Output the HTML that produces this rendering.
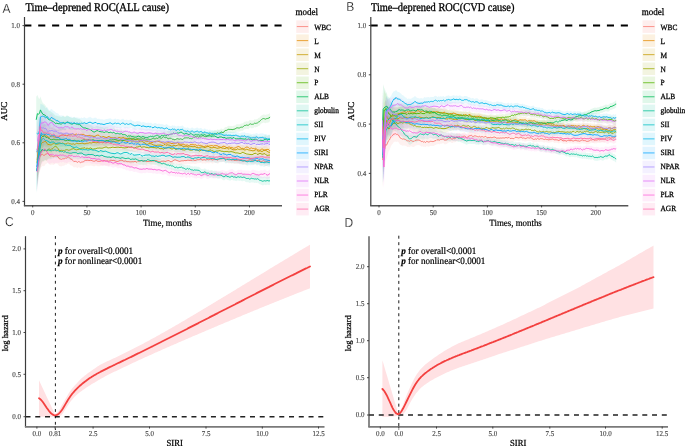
<!DOCTYPE html>
<html><head><meta charset="utf-8"><style>html,body{margin:0;padding:0;background:#fff;width:685px;height:446px;overflow:hidden}svg{display:block;filter:blur(0.35px)}text{text-rendering:geometricPrecision}</style></head><body>
<svg width="685" height="446" viewBox="0 0 685 446">
<rect width="685" height="446" fill="#fff"/>
<polygon points="37.0,146.3 38.0,144.7 39.0,143.3 40.1,143.0 41.2,142.2 42.3,142.7 43.5,144.3 44.6,144.8 45.7,143.9 46.8,144.3 47.9,143.7 49.0,145.9 50.1,147.3 51.3,147.4 52.4,147.7 53.3,148.5 54.3,148.1 55.2,148.0 56.1,148.1 57.1,148.5 58.0,149.3 59.1,151.3 60.3,151.8 61.4,152.3 62.5,151.8 63.6,152.0 64.5,152.1 65.5,151.3 66.4,151.6 67.3,151.0 68.3,150.6 69.2,151.0 70.1,152.4 71.1,153.1 72.0,153.2 72.9,154.5 73.9,155.6 74.8,155.5 75.7,155.5 76.7,155.9 77.6,156.6 78.5,155.9 79.5,156.2 80.4,157.1 81.3,156.7 82.3,156.5 83.2,156.4 84.1,155.8 85.1,155.1 86.0,155.0 87.0,155.1 88.0,154.8 89.0,155.5 90.0,155.1 91.0,155.2 92.0,155.6 93.0,156.0 94.0,156.3 95.0,156.1 96.0,155.5 97.0,156.1 98.0,156.5 99.0,156.4 100.0,156.5 101.0,156.2 102.0,156.1 103.0,156.1 104.0,155.6 105.0,156.1 106.0,156.6 107.0,155.9 108.0,156.5 109.0,156.7 110.0,155.9 111.0,155.5 112.0,156.1 113.0,155.9 114.0,155.9 115.0,156.4 116.0,156.8 117.0,157.1 118.0,157.0 119.0,156.6 120.0,156.0 121.0,155.9 122.0,155.9 123.0,156.5 124.0,157.1 125.0,156.6 126.0,156.7 127.0,157.6 128.0,157.2 129.0,157.6 130.0,157.6 131.0,157.7 132.0,157.5 133.0,157.5 134.0,157.8 135.0,157.1 136.0,157.8 137.0,158.2 138.0,157.2 139.0,157.0 140.0,157.0 141.0,156.7 142.0,156.6 143.0,157.3 144.0,156.9 145.0,156.6 146.0,157.8 147.0,157.5 148.0,157.6 149.0,157.5 150.0,157.3 151.0,157.3 152.0,157.0 153.0,157.3 154.0,157.0 155.0,156.7 156.0,156.6 157.0,156.9 158.0,157.8 159.0,157.8 160.0,158.3 161.0,157.7 162.0,157.2 163.0,157.6 164.0,157.0 165.0,157.9 166.0,157.4 167.0,157.0 168.0,156.8 169.0,156.7 170.0,157.6 171.0,158.2 172.0,157.8 173.0,157.1 174.0,156.4 175.0,156.1 176.0,156.3 177.0,156.9 178.0,157.1 179.0,157.6 180.0,157.8 181.0,157.1 182.0,157.3 183.0,157.0 184.0,157.3 185.0,156.6 186.0,157.4 187.0,156.4 188.0,156.7 189.0,156.5 190.0,157.1 191.0,156.3 192.0,157.1 193.0,156.1 194.0,156.7 195.0,156.9 196.0,156.7 197.0,156.1 198.0,156.1 199.0,156.2 200.0,155.9 201.0,155.6 202.0,156.5 203.0,156.5 204.0,156.1 205.0,156.4 206.0,156.6 207.0,155.9 208.0,156.2 209.0,156.4 210.0,155.7 211.0,155.7 212.0,156.5 213.0,156.4 214.0,155.9 215.0,155.8 216.0,155.9 217.0,156.3 218.0,156.7 219.0,155.8 220.0,155.2 221.0,155.6 222.0,155.1 223.0,155.1 224.0,155.1 225.0,155.0 226.0,155.8 227.0,155.5 228.0,156.0 229.0,156.9 230.0,156.1 231.0,156.6 232.0,156.6 233.0,156.0 234.0,156.9 235.0,157.0 236.0,156.5 237.0,157.1 238.0,156.2 239.0,156.8 240.0,157.1 241.0,156.3 242.0,157.0 243.0,157.2 244.0,157.5 245.0,156.7 246.0,157.0 247.0,157.3 248.0,156.7 249.0,156.0 250.0,155.7 251.0,156.2 252.0,156.6 253.0,156.1 254.0,156.7 255.0,156.1 256.0,156.5 257.0,156.7 258.0,156.4 259.0,156.0 260.0,157.1 261.0,157.6 262.0,157.4 263.0,156.5 264.0,156.9 265.0,157.7 266.0,157.8 267.0,157.8 268.0,156.8 269.0,157.1 270.0,156.8 270.0,165.2 269.0,165.5 268.0,165.1 267.0,166.0 266.0,166.0 265.0,165.9 264.0,165.0 263.0,164.7 262.0,165.5 261.0,165.6 260.0,165.1 259.0,164.0 258.0,164.3 257.0,164.6 256.0,164.3 255.0,163.9 254.0,164.5 253.0,163.9 252.0,164.3 251.0,163.9 250.0,163.3 249.0,163.6 248.0,164.3 247.0,164.8 246.0,164.5 245.0,164.2 244.0,165.0 243.0,164.6 242.0,164.4 241.0,163.6 240.0,164.4 239.0,164.1 238.0,163.4 237.0,164.2 236.0,163.7 235.0,164.1 234.0,164.0 233.0,163.0 232.0,163.6 231.0,163.6 230.0,163.0 229.0,163.8 228.0,162.9 227.0,162.3 226.0,162.7 225.0,161.9 224.0,162.0 223.0,162.0 222.0,162.0 221.0,162.5 220.0,162.1 219.0,162.7 218.0,163.7 217.0,163.3 216.0,162.9 215.0,162.8 214.0,162.8 213.0,163.4 212.0,163.5 211.0,162.7 210.0,162.7 209.0,163.4 208.0,163.2 207.0,162.9 206.0,163.6 205.0,163.4 204.0,163.2 203.0,163.6 202.0,163.6 201.0,162.7 200.0,163.0 199.0,163.3 198.0,163.2 197.0,163.3 196.0,163.9 195.0,164.1 194.0,163.9 193.0,163.3 192.0,164.3 191.0,163.5 190.0,164.3 189.0,163.7 188.0,164.0 187.0,163.6 186.0,164.7 185.0,163.9 184.0,164.6 183.0,164.3 182.0,164.6 181.0,164.5 180.0,165.1 179.0,164.9 178.0,164.5 177.0,164.3 176.0,163.7 175.0,163.5 174.0,163.8 173.0,164.5 172.0,165.2 171.0,165.6 170.0,165.1 169.0,164.2 168.0,164.3 167.0,164.5 166.0,165.0 165.0,165.5 164.0,164.6 163.0,165.2 162.0,164.8 161.0,165.3 160.0,165.9 159.0,165.4 158.0,165.5 157.0,164.6 156.0,164.4 155.0,164.5 154.0,164.8 153.0,165.1 152.0,164.8 151.0,165.2 150.0,165.1 149.0,165.4 148.0,165.5 147.0,165.4 146.0,165.7 145.0,164.6 144.0,164.9 143.0,165.3 142.0,164.7 141.0,164.8 140.0,165.1 139.0,165.1 138.0,165.4 137.0,166.4 136.0,166.0 135.0,165.4 134.0,166.0 133.0,165.8 132.0,165.8 131.0,166.0 130.0,166.0 129.0,166.0 128.0,165.7 127.0,166.0 126.0,165.2 125.0,165.2 124.0,165.7 123.0,165.1 122.0,164.6 121.0,164.5 120.0,164.7 119.0,165.4 118.0,165.8 117.0,165.9 116.0,165.6 115.0,165.4 114.0,164.9 113.0,164.9 112.0,165.2 111.0,164.6 110.0,165.1 109.0,165.9 108.0,165.7 107.0,165.2 106.0,166.0 105.0,165.5 104.0,165.0 103.0,165.6 102.0,165.6 101.0,165.8 100.0,166.2 99.0,166.2 98.0,166.3 97.0,165.9 96.0,165.4 95.0,166.1 94.0,166.4 93.0,166.1 92.0,165.8 91.0,165.4 90.0,165.5 89.0,165.9 88.0,165.4 87.0,165.7 86.0,165.7 85.1,165.8 84.1,166.7 83.2,167.3 82.3,167.5 81.3,167.8 80.4,168.3 79.5,167.5 78.5,167.3 77.6,168.2 76.7,167.6 75.7,167.3 74.8,167.3 73.9,167.6 72.9,166.6 72.0,165.4 71.1,165.5 70.1,164.9 69.2,163.7 68.3,163.4 67.3,164.0 66.4,164.8 65.5,164.6 64.5,165.6 63.6,165.7 62.5,165.7 61.4,166.5 60.3,166.2 59.1,166.0 58.0,164.3 57.1,163.8 56.1,163.6 55.2,163.8 54.3,164.2 53.3,164.9 52.4,164.4 51.3,164.5 50.1,164.9 49.0,164.0 47.9,162.4 46.8,163.5 45.7,163.9 44.6,165.7 43.5,166.2 42.3,165.9 41.2,167.2 40.1,170.4 39.0,173.8 38.0,179.2 37.0,186.3" fill="#F8766D" fill-opacity="0.1"/>
<polygon points="37.0,140.4 38.2,134.7 39.5,131.7 40.4,129.5 41.2,125.1 42.3,125.4 43.5,124.4 44.6,123.8 45.7,124.9 46.8,126.9 47.9,127.4 49.0,128.7 50.1,127.7 51.3,127.5 52.4,127.3 53.5,128.7 54.6,129.0 55.8,129.5 56.9,129.8 58.0,129.8 59.1,129.2 60.3,128.4 61.4,128.1 62.3,128.0 63.3,127.7 64.2,128.6 65.1,128.8 66.1,128.9 67.0,129.2 67.9,128.7 68.9,128.4 69.8,128.3 70.7,128.2 71.7,128.6 72.6,127.7 73.5,128.2 74.5,128.6 75.4,128.5 76.3,128.1 77.3,129.0 78.2,128.5 79.1,129.1 80.1,128.9 81.0,128.7 81.9,128.9 82.9,128.9 83.8,129.1 84.8,129.9 85.9,130.5 86.9,130.2 87.9,130.5 89.0,130.4 90.0,130.4 91.0,131.1 92.0,130.6 93.0,131.3 94.0,131.4 95.0,131.5 96.0,130.6 97.0,130.3 98.0,130.1 99.0,130.6 100.0,131.7 101.0,132.3 102.0,132.5 103.0,131.6 104.0,132.1 105.0,132.5 106.0,132.8 107.0,132.9 108.0,132.1 109.0,131.8 110.0,132.6 111.0,133.0 112.0,133.5 113.0,133.1 114.0,133.7 115.0,132.9 116.0,133.7 117.0,134.1 118.0,133.6 119.0,132.9 120.0,133.4 121.0,133.9 122.0,133.7 123.0,133.2 124.0,133.4 125.0,134.3 126.0,133.7 127.0,134.8 128.0,134.3 129.0,134.1 130.0,133.9 131.0,135.2 132.0,135.7 133.0,135.2 134.0,134.6 135.0,135.3 136.0,136.0 137.0,135.1 138.0,135.6 139.0,136.3 140.0,136.1 141.0,136.3 142.0,136.8 143.0,136.3 144.0,136.3 145.0,136.9 146.0,137.2 147.0,137.4 148.0,137.3 149.0,138.2 150.0,137.8 151.0,138.2 152.0,138.7 153.0,138.3 154.0,137.6 155.0,137.6 156.0,137.3 157.0,137.4 158.0,137.4 159.0,137.8 160.0,138.1 161.0,138.4 162.0,138.9 163.0,139.2 164.0,139.4 165.0,139.1 166.0,139.4 167.0,139.4 168.0,138.8 169.0,139.2 170.0,139.1 171.0,139.6 172.0,140.0 173.0,139.5 174.0,139.5 175.0,139.6 176.0,139.5 177.0,139.1 178.0,139.0 179.1,140.3 180.1,140.7 181.1,140.5 182.1,140.8 183.1,140.3 184.1,140.8 185.1,141.5 186.1,141.6 187.2,141.2 188.2,141.9 189.2,142.1 190.2,141.0 191.2,141.0 192.2,141.2 193.2,141.0 194.2,141.5 195.2,141.0 196.3,141.8 197.3,142.4 198.3,141.5 199.3,142.1 200.3,141.7 201.3,142.1 202.3,142.5 203.3,143.1 204.2,143.1 205.2,142.5 206.2,142.8 207.2,142.1 208.2,142.7 209.2,142.5 210.2,142.3 211.2,142.1 212.2,142.0 213.1,142.9 214.1,142.3 215.1,142.3 216.1,142.2 217.1,142.2 218.1,143.0 219.1,143.3 220.1,143.5 221.0,144.1 222.0,143.7 223.0,142.9 224.0,142.8 225.0,143.2 226.0,143.8 227.0,144.3 227.9,144.1 228.9,143.5 229.9,143.8 230.9,144.4 231.9,143.9 232.9,144.5 233.8,144.8 234.8,144.5 235.8,144.2 236.8,143.5 237.8,143.1 238.8,142.9 239.8,143.6 240.7,144.1 241.7,144.8 242.7,144.6 243.7,145.1 244.7,144.5 245.7,143.8 246.6,143.3 247.6,143.4 248.6,143.9 249.6,144.9 250.6,144.4 251.7,144.1 252.7,144.7 253.7,144.6 254.7,144.8 255.7,144.4 256.8,145.3 257.8,145.9 258.8,146.0 259.8,146.3 260.8,145.7 261.8,144.9 262.9,145.0 263.9,146.0 264.9,145.9 265.9,145.5 266.9,145.3 268.0,145.2 269.0,145.7 270.0,146.7 270.0,155.1 269.0,154.0 268.0,153.6 266.9,153.6 265.9,153.7 264.9,154.1 263.9,154.2 262.9,153.1 261.8,153.0 260.8,153.7 259.8,154.3 258.8,153.9 257.8,153.8 256.8,153.2 255.7,152.3 254.7,152.7 253.7,152.4 252.7,152.5 251.7,151.8 250.6,152.1 249.6,152.5 248.6,151.5 247.6,151.0 246.6,150.8 245.7,151.3 244.7,151.9 243.7,152.5 242.7,152.0 241.7,152.2 240.7,151.5 239.8,150.9 238.8,150.1 237.8,150.4 236.8,150.7 235.8,151.3 234.8,151.6 233.8,151.9 232.9,151.5 231.9,150.9 230.9,151.4 229.9,150.7 228.9,150.4 227.9,150.9 227.0,151.2 226.0,150.6 225.0,150.1 224.0,149.6 223.0,149.8 222.0,150.6 221.0,151.0 220.1,150.5 219.1,150.2 218.1,150.0 217.1,149.1 216.1,149.2 215.1,149.2 214.1,149.3 213.1,149.9 212.2,149.0 211.2,149.1 210.2,149.3 209.2,149.5 208.2,149.7 207.2,149.2 206.2,149.9 205.2,149.6 204.2,150.2 203.3,150.1 202.3,149.5 201.3,149.2 200.3,148.8 199.3,149.2 198.3,148.6 197.3,149.5 196.3,148.9 195.2,148.2 194.2,148.6 193.2,148.2 192.2,148.3 191.2,148.2 190.2,148.2 189.2,149.4 188.2,149.1 187.2,148.5 186.1,148.8 185.1,148.8 184.1,148.1 183.1,147.6 182.1,148.0 181.1,147.8 180.1,148.0 179.1,147.7 178.0,146.3 177.0,146.5 176.0,146.9 175.0,147.0 174.0,146.9 173.0,146.9 172.0,147.4 171.0,147.0 170.0,146.5 169.0,146.7 168.0,146.3 167.0,146.9 166.0,146.9 165.0,146.6 164.0,147.0 163.0,146.8 162.0,146.5 161.0,146.0 160.0,145.7 159.0,145.5 158.0,145.1 157.0,145.1 156.0,145.1 155.0,145.3 154.0,145.4 153.0,146.1 152.0,146.6 151.0,146.0 150.0,145.7 149.0,146.1 148.0,145.2 147.0,145.3 146.0,145.1 145.0,144.9 144.0,144.3 143.0,144.4 142.0,144.9 141.0,144.3 140.0,144.1 139.0,144.4 138.0,143.8 137.0,143.2 136.0,144.2 135.0,143.5 134.0,142.9 133.0,143.5 132.0,144.0 131.0,143.5 130.0,142.3 129.0,142.5 128.0,142.8 127.0,143.3 126.0,142.3 125.0,142.9 124.0,141.9 123.0,141.8 122.0,142.3 121.0,142.6 120.0,142.1 119.0,141.7 118.0,142.4 117.0,143.0 116.0,142.6 115.0,141.8 114.0,142.6 113.0,142.1 112.0,142.5 111.0,142.1 110.0,141.7 109.0,141.0 108.0,141.3 107.0,142.2 106.0,142.1 105.0,141.9 104.0,141.5 103.0,141.1 102.0,142.1 101.0,141.9 100.0,141.4 99.0,140.3 98.0,139.9 97.0,140.2 96.0,140.5 95.0,141.5 94.0,141.5 93.0,141.4 92.0,140.8 91.0,141.4 90.0,140.8 89.0,140.9 87.9,141.0 86.9,140.8 85.9,141.2 84.8,140.7 83.8,139.9 82.9,139.8 81.9,139.9 81.0,139.8 80.1,140.2 79.1,140.5 78.2,139.9 77.3,140.6 76.3,139.8 75.4,140.3 74.5,140.5 73.5,140.2 72.6,139.9 71.7,140.9 70.7,140.7 69.8,140.9 68.9,141.1 67.9,141.6 67.0,142.3 66.1,142.1 65.1,142.2 64.2,142.2 63.3,141.5 62.3,142.0 61.4,142.3 60.3,142.9 59.1,143.9 58.0,144.8 56.9,145.1 55.8,145.2 54.6,145.0 53.5,145.0 52.4,144.0 51.3,144.7 50.1,145.3 49.0,146.8 47.9,146.1 46.8,146.1 45.7,144.9 44.6,144.6 43.5,146.3 42.3,148.7 41.2,150.1 40.4,156.2 39.5,160.6 38.2,168.1 37.0,180.4" fill="#E38900" fill-opacity="0.1"/>
<polygon points="37.0,143.3 38.2,140.5 39.5,134.1 40.4,133.4 41.2,131.3 42.3,131.0 43.5,131.2 44.6,131.0 45.7,131.5 46.8,133.5 47.9,135.3 49.0,135.5 50.1,136.2 51.3,136.3 52.4,135.8 53.4,135.4 54.4,135.1 55.5,136.1 56.5,136.5 57.5,136.6 58.5,136.4 59.5,136.4 60.5,136.0 61.6,136.4 62.6,136.0 63.6,136.5 64.6,136.9 65.6,137.3 66.7,136.9 67.7,136.5 68.7,136.7 69.7,137.4 70.7,137.6 71.7,138.1 72.8,137.9 73.8,137.8 74.8,138.6 75.8,137.8 76.8,137.4 77.9,137.8 78.9,138.0 79.9,137.8 80.9,137.9 81.9,137.7 82.9,137.9 84.0,138.4 85.0,138.5 86.0,138.2 87.0,137.7 88.0,138.2 89.0,137.6 90.0,137.5 91.0,137.9 92.0,137.8 93.0,137.3 94.0,137.6 95.0,137.5 96.0,138.0 97.0,137.7 98.0,137.5 99.0,138.0 100.0,137.6 101.0,137.2 102.0,137.8 103.0,138.2 104.0,137.1 105.0,136.5 106.0,137.3 107.0,137.8 108.0,137.3 109.0,136.8 110.0,137.2 111.0,137.8 112.0,137.0 113.0,136.9 114.0,137.2 115.0,136.7 116.0,136.8 117.0,136.4 118.0,136.7 119.0,136.5 120.0,136.2 121.0,136.5 122.0,136.3 123.0,136.1 124.0,136.1 125.0,136.5 126.0,136.6 127.0,137.2 128.0,137.1 129.0,136.7 130.0,136.5 131.0,136.6 132.0,137.2 133.0,136.8 134.0,137.0 135.0,137.6 136.0,137.9 137.0,137.5 138.0,137.9 139.0,137.8 140.0,137.1 141.0,136.9 142.0,137.0 143.0,138.2 144.0,138.3 145.0,139.2 146.0,140.0 147.0,140.5 148.0,140.2 149.0,139.6 150.0,139.8 151.0,139.7 152.0,140.4 153.0,140.8 154.0,141.4 155.0,141.4 156.0,141.8 157.0,141.5 158.0,141.2 159.0,141.6 160.0,141.0 161.0,141.4 162.0,141.6 163.0,142.0 164.0,140.9 165.0,140.7 166.0,141.7 167.0,141.0 168.0,141.2 169.0,141.5 170.0,141.5 171.0,142.1 172.0,142.6 173.0,141.9 174.0,141.3 175.0,142.2 176.0,142.0 177.0,141.6 178.0,141.3 179.0,141.0 180.0,141.7 181.0,141.7 182.0,142.1 183.0,142.9 184.0,142.7 185.0,143.3 186.0,142.3 187.0,142.9 188.0,143.2 189.0,143.7 190.0,142.6 191.0,142.8 192.0,143.0 193.0,143.2 194.0,143.1 195.0,142.8 196.0,143.6 197.0,144.0 198.0,144.0 199.0,144.4 200.0,144.1 201.0,143.2 202.0,143.7 203.0,143.1 204.0,143.8 205.0,144.1 206.0,143.5 207.0,143.2 208.0,143.0 209.0,143.1 210.0,144.3 211.0,143.9 212.0,144.7 213.0,144.0 214.0,143.9 215.0,144.2 216.0,144.1 217.0,145.1 218.0,144.5 219.0,144.6 220.0,144.3 221.0,144.0 222.0,144.7 223.0,144.6 224.0,144.8 225.0,145.3 226.0,144.6 227.0,144.2 228.0,145.0 229.0,145.9 230.0,144.8 231.0,145.0 232.0,145.9 233.0,146.1 234.0,146.5 235.0,146.0 236.0,146.4 237.0,145.2 238.0,145.3 239.0,145.9 240.0,145.5 241.0,145.4 242.0,145.4 243.0,145.3 244.0,145.9 245.0,146.5 246.0,145.6 247.0,145.4 248.0,146.0 249.0,146.2 250.0,146.4 251.0,146.4 252.0,146.8 253.0,146.9 254.0,146.7 255.0,146.2 256.0,145.6 257.0,146.6 258.0,147.1 259.0,147.4 260.0,146.7 261.0,147.1 262.0,147.6 263.0,146.9 264.0,146.2 265.0,146.2 266.0,146.3 267.0,147.1 268.0,147.7 269.0,148.1 270.0,148.1 270.0,156.5 269.0,156.4 268.0,156.0 267.0,155.4 266.0,154.5 265.0,154.4 264.0,154.4 263.0,155.0 262.0,155.7 261.0,155.1 260.0,154.7 259.0,155.4 258.0,155.0 257.0,154.5 256.0,153.5 255.0,154.0 254.0,154.5 253.0,154.7 252.0,154.5 251.0,154.1 250.0,154.1 249.0,153.8 248.0,153.5 247.0,152.9 246.0,153.1 245.0,153.9 244.0,153.3 243.0,152.7 242.0,152.8 241.0,152.7 240.0,152.8 239.0,153.2 238.0,152.5 237.0,152.4 236.0,153.5 235.0,153.1 234.0,153.5 233.0,153.1 232.0,152.9 231.0,152.0 230.0,151.8 229.0,152.8 228.0,151.9 227.0,151.1 226.0,151.5 225.0,152.1 224.0,151.7 223.0,151.5 222.0,151.6 221.0,150.9 220.0,151.2 219.0,151.5 218.0,151.4 217.0,152.0 216.0,151.1 215.0,151.1 214.0,150.9 213.0,150.9 212.0,151.6 211.0,150.9 210.0,151.3 209.0,150.1 208.0,150.0 207.0,150.3 206.0,150.6 205.0,151.1 204.0,150.9 203.0,150.2 202.0,150.8 201.0,150.3 200.0,151.1 199.0,151.5 198.0,151.1 197.0,151.2 196.0,150.8 195.0,150.0 194.0,150.3 193.0,150.3 192.0,150.1 191.0,149.9 190.0,149.8 189.0,150.9 188.0,150.4 187.0,150.1 186.0,149.5 185.0,150.5 184.0,149.9 183.0,150.2 182.0,149.4 181.0,149.0 180.0,149.0 179.0,148.3 178.0,148.7 177.0,149.0 176.0,149.4 175.0,149.6 174.0,148.7 173.0,149.4 172.0,150.0 171.0,149.6 170.0,149.0 169.0,149.0 168.0,148.7 167.0,148.5 166.0,149.2 165.0,148.2 164.0,148.5 163.0,149.5 162.0,149.2 161.0,149.1 160.0,148.6 159.0,149.2 158.0,148.9 157.0,149.2 156.0,149.5 155.0,149.1 154.0,149.1 153.0,148.6 152.0,148.2 151.0,147.6 150.0,147.6 149.0,147.4 148.0,148.1 147.0,148.4 146.0,148.0 145.0,147.2 144.0,146.3 143.0,146.2 142.0,145.1 141.0,145.0 140.0,145.2 139.0,145.9 138.0,146.0 137.0,145.7 136.0,146.1 135.0,145.8 134.0,145.2 133.0,145.1 132.0,145.6 131.0,144.9 130.0,144.9 129.0,145.2 128.0,145.5 127.0,145.7 126.0,145.1 125.0,145.1 124.0,144.7 123.0,144.8 122.0,144.9 121.0,145.2 120.0,144.9 119.0,145.3 118.0,145.5 117.0,145.2 116.0,145.6 115.0,145.6 114.0,146.2 113.0,146.0 112.0,146.1 111.0,146.9 110.0,146.4 109.0,146.0 108.0,146.5 107.0,147.1 106.0,146.7 105.0,145.9 104.0,146.6 103.0,147.6 102.0,147.4 101.0,146.8 100.0,147.3 99.0,147.8 98.0,147.3 97.0,147.6 96.0,147.9 95.0,147.5 94.0,147.6 93.0,147.4 92.0,148.0 91.0,148.1 90.0,147.8 89.0,148.0 88.0,148.7 87.0,148.3 86.0,148.9 85.0,149.2 84.0,149.2 82.9,148.9 81.9,148.8 80.9,149.1 79.9,149.1 78.9,149.4 77.9,149.3 76.8,149.1 75.8,149.6 74.8,150.5 73.8,149.9 72.8,150.1 71.7,150.4 70.7,150.0 69.7,150.1 68.7,149.5 67.7,149.4 66.7,150.0 65.6,150.6 64.6,150.4 63.6,150.2 62.6,149.9 61.6,150.5 60.5,150.4 59.5,151.0 58.5,151.2 57.5,151.7 56.5,151.9 55.5,151.8 54.4,151.1 53.4,151.8 52.4,152.5 51.3,153.5 50.1,153.8 49.0,153.6 47.9,154.0 46.8,152.7 45.7,151.5 44.6,151.9 43.5,153.1 42.3,154.2 41.2,156.4 40.4,160.2 39.5,163.1 38.2,173.9 37.0,183.4" fill="#C49A00" fill-opacity="0.1"/>
<polygon points="37.0,142.2 38.2,140.7 39.5,139.8 40.4,140.2 41.2,138.6 42.1,138.1 43.1,139.4 44.0,139.0 44.9,139.5 45.9,140.9 46.8,141.5 47.7,140.5 48.7,140.0 49.6,140.0 50.5,141.2 51.5,140.4 52.4,140.4 53.5,139.4 54.7,138.6 55.8,138.5 56.9,139.5 58.0,141.0 59.1,142.9 60.2,143.4 61.4,143.2 62.5,143.7 63.6,143.7 64.6,144.0 65.6,143.3 66.7,143.1 67.7,143.3 68.7,143.9 69.7,143.8 70.7,143.4 71.7,142.9 72.8,142.7 73.8,142.4 74.8,143.5 75.8,143.9 76.8,144.1 77.9,143.6 78.9,143.7 79.9,143.1 80.9,143.1 81.9,142.6 82.9,142.8 84.0,142.6 85.0,142.3 86.0,143.3 87.0,142.7 88.0,143.4 89.0,143.6 90.0,142.7 91.0,142.9 92.0,143.8 93.0,144.2 94.0,143.8 95.0,143.8 96.0,143.8 97.0,143.1 98.0,143.2 99.0,143.3 100.0,143.0 101.0,143.5 102.0,143.2 103.0,143.5 104.0,142.6 105.0,142.7 106.0,142.2 107.0,142.8 108.0,143.4 109.0,143.2 110.0,143.2 111.0,143.2 112.0,142.7 113.0,142.7 114.0,142.9 115.0,143.2 116.0,142.9 117.0,142.9 118.0,142.7 119.0,142.9 120.0,143.2 121.0,142.8 122.0,143.2 123.0,143.6 124.0,143.3 125.0,143.9 126.0,143.1 127.0,143.7 128.0,142.9 129.0,142.7 130.0,143.3 131.0,142.4 132.0,142.9 133.0,143.5 134.0,143.9 135.0,143.7 136.0,143.1 137.0,142.8 138.0,143.1 139.0,142.4 140.0,141.9 141.0,143.1 142.0,143.3 143.0,142.7 144.0,142.9 145.0,142.8 146.0,143.6 147.0,143.2 148.0,143.7 149.0,144.0 150.0,143.5 151.0,143.3 152.0,143.5 153.0,143.5 154.0,143.8 155.0,143.6 156.0,144.3 157.0,144.0 158.0,143.5 159.0,144.3 160.0,144.8 161.0,144.8 162.0,144.7 163.0,145.1 164.0,145.4 165.0,144.2 166.0,144.4 167.0,143.8 168.0,144.0 169.0,144.0 170.0,144.4 171.0,144.9 172.0,145.4 173.0,144.9 174.0,144.2 175.0,145.4 176.0,145.7 177.0,145.5 178.0,144.8 179.0,144.4 180.0,145.6 181.0,145.5 182.0,146.1 183.0,146.2 184.0,146.3 185.0,146.4 186.0,145.7 187.0,145.4 188.0,145.5 189.0,146.1 190.0,146.5 191.0,146.6 192.0,146.5 193.0,146.3 194.0,145.8 195.0,146.2 196.0,146.5 197.0,146.4 198.0,146.8 199.0,147.3 200.0,147.6 201.0,146.5 202.0,146.3 203.0,146.7 204.0,147.0 205.0,146.7 206.0,147.5 207.0,147.2 208.0,147.6 209.0,146.7 210.0,146.7 211.0,146.3 212.0,147.3 213.0,147.4 214.0,148.2 215.0,148.1 216.0,147.7 217.0,147.5 218.0,147.5 219.0,147.3 220.0,147.1 221.0,147.8 222.0,147.7 223.0,147.9 224.0,148.4 225.0,148.1 226.0,148.2 227.0,148.1 228.0,148.1 229.0,148.6 230.0,148.1 231.0,148.3 232.0,148.0 233.0,148.7 234.0,148.5 235.0,149.4 236.0,149.2 237.0,149.4 238.0,149.3 239.0,149.7 240.0,149.8 241.0,149.8 242.0,148.9 243.0,148.6 244.0,149.4 245.0,149.3 246.0,150.2 247.0,150.1 248.0,150.4 249.0,150.4 250.0,150.8 251.0,150.6 252.0,150.9 253.0,150.3 254.0,149.8 255.0,149.4 256.0,149.4 257.0,150.4 258.0,150.5 259.0,149.7 260.0,149.3 261.0,149.8 262.0,150.2 263.0,150.1 264.0,149.6 265.0,149.7 266.0,150.8 267.0,151.1 268.0,151.4 269.0,150.8 270.0,151.1 270.0,159.4 269.0,159.1 268.0,159.7 267.0,159.3 266.0,159.0 265.0,157.9 264.0,157.8 263.0,158.3 262.0,158.3 261.0,157.8 260.0,157.3 259.0,157.7 258.0,158.5 257.0,158.3 256.0,157.2 255.0,157.2 254.0,157.6 253.0,158.1 252.0,158.6 251.0,158.3 250.0,158.5 249.0,158.0 248.0,158.0 247.0,157.7 246.0,157.7 245.0,156.8 244.0,156.9 243.0,156.0 242.0,156.2 241.0,157.1 240.0,157.1 239.0,157.0 238.0,156.5 237.0,156.6 236.0,156.4 235.0,156.6 234.0,155.6 233.0,155.7 232.0,155.0 231.0,155.3 230.0,155.0 229.0,155.6 228.0,155.0 227.0,155.0 226.0,155.1 225.0,155.0 224.0,155.3 223.0,154.8 222.0,154.6 221.0,154.7 220.0,154.0 219.0,154.2 218.0,154.5 217.0,154.5 216.0,154.6 215.0,155.1 214.0,155.2 213.0,154.4 212.0,154.3 211.0,153.3 210.0,153.7 209.0,153.7 208.0,154.6 207.0,154.2 206.0,154.5 205.0,153.7 204.0,154.1 203.0,153.8 202.0,153.3 201.0,153.6 200.0,154.7 199.0,154.4 198.0,153.9 197.0,153.6 196.0,153.6 195.0,153.4 194.0,152.9 193.0,153.4 192.0,153.6 191.0,153.8 190.0,153.7 189.0,153.3 188.0,152.7 187.0,152.6 186.0,153.0 185.0,153.7 184.0,153.6 183.0,153.5 182.0,153.4 181.0,152.9 180.0,152.9 179.0,151.8 178.0,152.2 177.0,152.9 176.0,153.1 175.0,152.8 174.0,151.6 173.0,152.3 172.0,152.9 171.0,152.3 170.0,151.8 169.0,151.5 168.0,151.5 167.0,151.3 166.0,151.9 165.0,151.8 164.0,153.0 163.0,152.7 162.0,152.3 161.0,152.5 160.0,152.5 159.0,151.9 158.0,151.2 157.0,151.7 156.0,152.0 155.0,151.4 154.0,151.6 153.0,151.3 152.0,151.3 151.0,151.1 150.0,151.4 149.0,151.9 148.0,151.6 147.0,151.1 146.0,151.6 145.0,150.8 144.0,150.9 143.0,150.8 142.0,151.3 141.0,151.2 140.0,150.0 139.0,150.5 138.0,151.2 137.0,151.0 136.0,151.3 135.0,151.9 134.0,152.1 133.0,151.8 132.0,151.2 131.0,150.8 130.0,151.7 129.0,151.1 128.0,151.3 127.0,152.2 126.0,151.7 125.0,152.4 124.0,151.9 123.0,152.2 122.0,151.8 121.0,151.5 120.0,151.9 119.0,151.7 118.0,151.5 117.0,151.7 116.0,151.8 115.0,152.1 114.0,151.9 113.0,151.7 112.0,151.7 111.0,152.3 110.0,152.3 109.0,152.4 108.0,152.7 107.0,152.1 106.0,151.5 105.0,152.1 104.0,152.0 103.0,153.0 102.0,152.7 101.0,153.1 100.0,152.7 99.0,153.0 98.0,153.0 97.0,153.0 96.0,153.7 95.0,153.8 94.0,153.8 93.0,154.3 92.0,154.0 91.0,153.2 90.0,153.1 89.0,154.0 88.0,153.9 87.0,153.2 86.0,154.0 85.0,153.0 84.0,153.5 82.9,153.7 81.9,153.7 80.9,154.3 79.9,154.4 78.9,155.1 77.9,155.2 76.8,155.7 75.8,155.6 74.8,155.3 73.8,154.5 72.8,154.8 71.7,155.2 70.7,155.9 69.7,156.4 68.7,156.7 67.7,156.2 66.7,156.2 65.6,156.6 64.6,157.5 63.6,157.4 62.5,157.6 61.4,157.4 60.2,157.8 59.1,157.7 58.0,156.0 56.9,154.8 55.8,154.1 54.7,154.6 53.5,155.8 52.4,157.1 51.5,157.5 50.5,158.6 49.6,157.9 48.7,158.2 47.7,159.2 46.8,160.8 45.9,160.7 44.9,160.0 44.0,160.4 43.1,161.7 42.1,161.6 41.2,163.7 40.4,167.0 39.5,168.8 38.2,174.1 37.0,182.3" fill="#99A800" fill-opacity="0.1"/>
<polygon points="37.0,132.2 38.2,131.0 39.5,127.7 40.2,124.2 41.0,121.9 42.0,124.0 43.0,125.8 44.0,125.2 45.0,125.7 46.0,127.8 47.0,127.6 48.0,128.9 49.0,129.2 50.0,130.3 51.0,131.1 52.0,131.2 53.0,131.1 54.0,131.1 55.0,131.6 56.0,132.1 57.0,132.0 58.0,132.2 59.0,132.6 60.0,132.4 61.0,132.2 62.0,132.8 63.0,132.5 64.0,133.1 65.0,133.8 66.0,134.3 67.0,133.7 68.0,133.7 69.0,134.5 70.0,134.1 71.0,134.9 72.0,134.2 73.0,134.9 74.0,134.0 75.0,134.6 76.0,135.1 77.0,135.0 78.0,135.1 79.0,135.6 80.0,136.0 81.0,135.0 82.0,135.1 83.0,134.4 84.0,134.6 85.0,134.3 86.0,134.3 87.0,134.9 88.0,134.5 89.0,134.4 90.0,134.1 91.0,135.2 92.0,134.9 93.0,134.5 94.0,135.1 95.0,135.6 96.0,135.7 97.0,135.6 98.0,135.6 99.0,135.8 100.0,135.3 101.0,135.9 102.0,136.0 103.0,136.2 104.0,136.4 105.0,136.4 106.0,136.0 107.0,135.7 108.0,135.9 109.0,135.8 110.0,134.9 111.0,135.8 112.0,135.2 113.0,135.3 114.0,135.3 115.0,134.8 116.0,135.2 117.0,135.5 118.0,136.0 119.0,135.9 120.0,135.4 121.0,135.5 122.0,136.2 123.0,136.1 124.0,136.3 125.0,135.2 126.0,135.6 127.0,135.1 128.0,134.8 129.0,134.9 130.0,134.7 131.0,134.5 132.0,134.6 133.0,134.7 134.0,134.7 135.0,135.6 136.0,134.9 137.0,134.8 138.0,134.5 139.0,135.0 140.0,134.9 141.0,135.2 141.9,134.9 142.9,134.7 143.9,135.0 144.9,134.5 145.8,135.5 146.8,135.5 147.8,135.2 148.8,135.3 149.8,135.9 150.7,135.5 151.7,135.1 152.7,134.5 153.6,134.4 154.6,134.9 155.6,134.8 156.6,134.2 157.6,134.8 158.5,133.9 159.5,133.7 160.5,134.1 161.4,134.5 162.4,133.9 163.4,132.9 164.4,133.6 165.3,133.9 166.3,133.6 167.3,134.0 168.2,135.2 169.2,134.7 170.2,134.6 171.1,134.6 172.1,135.6 173.1,135.4 174.0,135.9 175.0,136.2 176.0,135.2 176.9,135.3 177.9,134.9 178.9,135.6 179.9,135.5 180.8,135.2 181.8,135.6 182.8,135.8 183.8,134.7 184.8,134.2 185.7,134.2 186.7,134.2 187.7,134.3 188.6,134.2 189.6,134.9 190.6,134.8 191.6,135.1 192.6,134.6 193.5,133.8 194.5,133.8 195.5,133.1 196.4,133.3 197.4,132.7 198.4,133.5 199.4,132.9 200.3,133.5 201.3,132.7 202.3,132.2 203.2,132.0 204.2,132.7 205.2,133.1 206.1,133.0 207.1,132.7 208.1,131.9 209.0,131.5 210.0,131.0 210.9,131.9 211.9,131.1 212.8,131.5 213.8,130.5 214.7,130.3 215.7,130.6 216.6,130.0 217.7,129.3 218.9,130.1 220.0,129.5 221.0,128.5 222.0,128.8 223.0,129.2 224.0,128.5 224.9,127.2 225.9,126.9 226.9,126.9 227.9,126.1 228.9,125.7 229.9,126.0 230.9,125.9 232.0,126.0 233.0,126.2 234.0,125.4 235.1,125.7 236.1,124.4 237.1,124.2 238.1,124.3 239.1,124.6 240.2,123.9 241.2,123.4 242.2,123.6 243.2,123.0 244.3,121.8 245.3,121.7 246.3,121.2 247.3,121.4 248.4,121.6 249.4,120.3 250.4,120.0 251.4,120.5 252.5,120.5 253.5,120.3 254.5,119.3 255.5,119.5 256.5,119.3 257.5,118.9 258.4,118.1 259.4,117.7 260.4,116.5 261.4,115.6 262.4,114.9 263.4,114.4 264.3,114.6 265.3,115.1 266.2,114.6 267.2,114.4 268.1,114.1 269.1,114.0 270.0,112.7 270.0,121.1 269.1,122.3 268.1,122.4 267.2,122.7 266.2,122.8 265.3,123.3 264.3,122.7 263.4,122.5 262.4,123.0 261.4,123.6 260.4,124.5 259.4,125.7 258.4,126.1 257.5,126.8 256.5,127.1 255.5,127.4 254.5,127.1 253.5,128.0 252.5,128.2 251.4,128.2 250.4,127.6 249.4,128.0 248.4,129.2 247.3,129.0 246.3,128.7 245.3,129.2 244.3,129.3 243.2,130.4 242.2,131.0 241.2,130.7 240.2,131.2 239.1,131.8 238.1,131.5 237.1,131.4 236.1,131.5 235.1,132.8 234.0,132.5 233.0,133.2 232.0,133.0 230.9,132.9 229.9,133.0 228.9,132.6 227.9,133.0 226.9,133.7 225.9,133.8 224.9,134.1 224.0,135.4 223.0,136.1 222.0,135.7 221.0,135.4 220.0,136.4 218.9,137.1 217.7,136.3 216.6,136.9 215.7,137.5 214.7,137.2 213.8,137.4 212.8,138.4 211.9,138.1 210.9,138.9 210.0,138.0 209.0,138.6 208.1,138.9 207.1,139.8 206.1,140.1 205.2,140.1 204.2,139.8 203.2,139.1 202.3,139.3 201.3,139.8 200.3,140.6 199.4,140.0 198.4,140.6 197.4,139.8 196.4,140.4 195.5,140.2 194.5,140.9 193.5,140.9 192.6,141.8 191.6,142.2 190.6,142.0 189.6,142.1 188.6,141.4 187.7,141.5 186.7,141.4 185.7,141.5 184.8,141.5 183.8,142.0 182.8,143.1 181.8,142.9 180.8,142.5 179.9,142.8 178.9,142.9 177.9,142.2 176.9,142.7 176.0,142.6 175.0,143.6 174.0,143.3 173.1,142.8 172.1,143.0 171.1,142.0 170.2,142.1 169.2,142.2 168.2,142.7 167.3,141.6 166.3,141.1 165.3,141.4 164.4,141.2 163.4,140.5 162.4,141.6 161.4,142.1 160.5,141.8 159.5,141.3 158.5,141.5 157.6,142.5 156.6,142.0 155.6,142.6 154.6,142.7 153.6,142.2 152.7,142.3 151.7,142.9 150.7,143.3 149.8,143.7 148.8,143.1 147.8,143.1 146.8,143.4 145.8,143.4 144.9,142.5 143.9,143.0 142.9,142.7 141.9,143.0 141.0,143.3 140.0,143.0 139.0,143.2 138.0,142.6 137.0,143.0 136.0,143.1 135.0,143.8 134.0,143.0 133.0,142.9 132.0,142.9 131.0,142.8 130.0,143.1 129.0,143.3 128.0,143.3 127.0,143.6 126.0,144.1 125.0,143.7 124.0,144.9 123.0,144.7 122.0,144.9 121.0,144.2 120.0,144.1 119.0,144.7 118.0,144.8 117.0,144.3 116.0,144.1 115.0,143.7 114.0,144.3 113.0,144.3 112.0,144.2 111.0,144.9 110.0,144.0 109.0,145.0 108.0,145.2 107.0,145.0 106.0,145.3 105.0,145.8 104.0,145.9 103.0,145.7 102.0,145.5 101.0,145.5 100.0,145.0 99.0,145.5 98.0,145.4 97.0,145.5 96.0,145.6 95.0,145.6 94.0,145.2 93.0,144.6 92.0,145.1 91.0,145.5 90.0,144.5 89.0,144.8 88.0,145.0 87.0,145.5 86.0,144.9 85.0,145.1 84.0,145.4 83.0,145.3 82.0,146.1 81.0,146.2 80.0,147.3 79.0,147.0 78.0,146.6 77.0,146.6 76.0,146.8 75.0,146.5 74.0,146.0 73.0,147.0 72.0,146.5 71.0,147.3 70.0,146.7 69.0,147.2 68.0,146.6 67.0,146.7 66.0,147.5 65.0,147.2 64.0,146.7 63.0,146.3 62.0,146.9 61.0,146.5 60.0,146.9 59.0,147.3 58.0,147.2 57.0,147.3 56.0,147.6 55.0,147.5 54.0,147.2 53.0,147.6 52.0,148.1 51.0,148.4 50.0,147.9 49.0,147.3 48.0,147.5 47.0,146.8 46.0,147.6 45.0,146.2 44.0,146.5 43.0,148.2 42.0,147.8 41.0,147.3 40.2,151.2 39.5,156.7 38.2,164.4 37.0,172.2" fill="#30B840" fill-opacity="0.1"/>
<polygon points="36.2,96.8 37.4,94.9 38.7,98.3 39.5,99.0 40.4,96.6 41.4,99.5 42.8,102.9 44.1,104.1 45.1,104.9 46.1,106.5 47.5,108.9 48.5,110.4 49.5,111.0 50.5,111.2 51.4,112.1 52.4,112.8 53.5,113.5 54.6,114.8 55.8,115.7 56.9,115.4 58.0,116.3 59.1,116.2 60.3,116.8 61.4,116.9 62.3,116.4 63.3,115.6 64.2,116.3 65.1,116.6 66.1,116.2 67.0,115.1 67.9,116.0 68.9,116.5 69.8,117.0 70.7,117.6 71.7,118.0 72.6,117.9 73.6,117.5 74.5,117.6 75.5,117.7 76.4,118.2 77.4,118.4 78.3,118.9 79.3,118.8 80.3,119.4 81.2,120.6 82.2,121.3 83.1,122.2 84.1,122.7 85.0,122.3 86.0,123.0 87.0,123.3 88.0,123.7 89.0,123.9 90.0,124.3 91.0,125.0 92.0,125.8 93.0,126.5 94.0,127.1 95.0,126.9 96.0,126.0 97.0,125.9 98.0,125.7 99.0,126.8 100.0,126.6 101.0,127.1 102.0,127.0 102.9,127.2 103.9,127.7 104.9,127.7 105.9,126.9 106.9,127.4 107.9,127.3 108.9,128.3 109.9,127.7 110.9,127.5 111.8,128.5 112.8,128.3 113.8,127.8 114.8,128.6 115.8,129.3 116.8,129.1 117.8,128.7 118.8,129.7 119.7,129.5 120.7,129.4 121.7,129.2 122.7,130.5 123.7,130.3 124.6,130.2 125.6,130.6 126.6,131.5 127.6,132.3 128.7,131.6 129.7,132.0 130.7,131.7 131.8,132.4 132.8,132.3 133.8,132.6 134.9,133.1 135.9,132.9 136.9,132.8 138.0,132.1 139.0,132.0 140.0,132.7 141.0,133.2 141.9,133.1 142.9,132.3 143.9,132.9 144.9,133.4 145.8,133.6 146.8,133.6 147.8,133.4 148.8,132.9 149.7,132.6 150.7,132.3 151.7,132.7 152.7,132.4 153.6,132.9 154.6,132.3 155.6,132.0 156.6,131.5 157.6,131.5 158.5,132.2 159.5,132.6 160.5,132.9 161.4,131.6 162.4,131.9 163.4,131.9 164.4,131.4 165.5,131.9 166.5,131.7 167.5,131.0 168.6,131.3 169.6,130.8 170.6,130.5 171.7,130.2 172.7,130.0 173.7,129.3 174.8,130.1 175.8,129.6 176.8,129.6 177.8,129.2 178.8,129.5 179.9,128.9 180.9,128.5 181.9,128.7 182.8,129.8 183.8,130.2 184.8,130.5 185.8,129.7 186.8,129.9 187.7,130.5 188.7,130.9 189.7,130.7 190.7,130.1 191.6,130.3 192.6,131.3 193.6,131.7 194.6,131.5 195.5,131.0 196.5,131.2 197.5,131.3 198.4,131.1 199.4,131.7 200.4,131.6 201.4,130.8 202.4,131.4 203.3,131.7 204.3,131.0 205.3,131.4 206.3,132.3 207.2,132.4 208.2,132.5 209.2,132.4 210.2,132.3 211.2,133.2 212.2,132.6 213.1,132.7 214.1,132.3 215.1,132.8 216.1,133.3 217.1,133.7 218.0,134.4 219.0,133.8 220.0,133.4 221.0,133.5 222.0,133.6 223.0,134.5 224.0,134.0 225.0,134.1 226.0,135.0 227.0,134.7 228.0,134.6 229.0,134.5 230.0,134.4 231.0,134.3 232.0,135.1 233.0,134.3 234.0,134.0 235.0,135.0 236.0,135.4 237.0,135.2 238.0,135.2 239.0,135.2 240.0,135.0 241.0,135.1 242.0,135.1 243.0,135.4 244.0,135.2 245.0,135.5 246.0,134.9 247.0,136.0 248.0,135.1 249.0,135.4 250.0,135.4 251.0,135.0 252.0,136.1 253.0,135.9 254.0,135.4 255.0,135.4 256.0,135.2 257.0,135.6 258.0,136.5 259.0,136.9 260.0,136.1 261.0,136.3 262.0,136.3 263.0,136.5 264.0,135.8 265.0,135.2 266.0,135.1 267.0,136.2 268.0,135.5 269.0,135.1 270.0,135.6 270.0,143.9 269.0,143.4 268.0,143.8 267.0,144.5 266.0,143.3 265.0,143.4 264.0,143.9 263.0,144.7 262.0,144.4 261.0,144.4 260.0,144.1 259.0,144.9 258.0,144.5 257.0,143.5 256.0,143.1 255.0,143.2 254.0,143.2 253.0,143.7 252.0,143.8 251.0,142.7 250.0,143.0 249.0,143.0 248.0,142.7 247.0,143.5 246.0,142.4 245.0,143.0 244.0,142.7 243.0,142.8 242.0,142.4 241.0,142.4 240.0,142.3 239.0,142.5 238.0,142.4 237.0,142.4 236.0,142.6 235.0,142.1 234.0,141.1 233.0,141.3 232.0,142.1 231.0,141.3 230.0,141.3 229.0,141.4 228.0,141.5 227.0,141.5 226.0,141.9 225.0,141.0 224.0,140.8 223.0,141.4 222.0,140.5 221.0,140.4 220.0,140.4 219.0,140.7 218.0,141.4 217.1,140.7 216.1,140.3 215.1,139.7 214.1,139.3 213.1,139.7 212.2,139.6 211.2,140.2 210.2,139.3 209.2,139.4 208.2,139.5 207.2,139.4 206.3,139.3 205.3,138.4 204.3,138.0 203.3,138.8 202.4,138.5 201.4,137.9 200.4,138.6 199.4,138.8 198.4,138.3 197.5,138.4 196.5,138.3 195.5,138.2 194.6,138.6 193.6,138.8 192.6,138.4 191.6,137.4 190.7,137.2 189.7,137.9 188.7,138.1 187.7,137.7 186.8,137.2 185.8,137.0 184.8,137.7 183.8,137.5 182.8,137.1 181.9,136.0 180.9,135.8 179.9,136.2 178.8,136.8 177.8,136.5 176.8,137.0 175.8,137.0 174.8,137.5 173.7,136.7 172.7,137.5 171.7,137.7 170.6,137.9 169.6,138.3 168.6,138.8 167.5,138.5 166.5,139.3 165.5,139.5 164.4,139.0 163.4,139.5 162.4,139.6 161.4,139.3 160.5,140.5 159.5,140.2 158.5,139.9 157.6,139.2 156.6,139.2 155.6,139.7 154.6,140.0 153.6,140.7 152.7,140.2 151.7,140.5 150.7,140.1 149.7,140.5 148.8,140.8 147.8,141.3 146.8,141.5 145.8,141.6 144.9,141.4 143.9,140.9 142.9,140.3 141.9,141.2 141.0,141.2 140.0,140.8 139.0,140.1 138.0,140.2 136.9,140.9 135.9,141.1 134.9,141.3 133.8,140.9 132.8,140.6 131.8,140.8 130.7,140.0 129.7,140.3 128.7,140.1 127.6,140.8 126.6,140.0 125.6,139.1 124.6,138.7 123.7,138.9 122.7,139.1 121.7,137.9 120.7,138.1 119.7,138.3 118.8,138.5 117.8,137.5 116.8,138.0 115.8,138.2 114.8,137.6 113.8,136.7 112.8,137.3 111.8,137.6 110.9,136.6 109.9,136.9 108.9,137.4 107.9,136.5 106.9,136.7 105.9,136.3 104.9,137.1 103.9,137.2 102.9,136.7 102.0,136.6 101.0,136.7 100.0,136.2 99.0,136.5 98.0,135.4 97.0,135.8 96.0,135.9 95.0,136.8 94.0,137.1 93.0,136.6 92.0,136.0 91.0,135.2 90.0,134.7 89.0,134.4 88.0,134.2 87.0,133.9 86.0,133.6 85.0,133.1 84.1,133.5 83.1,133.2 82.2,132.4 81.2,131.8 80.3,130.7 79.3,130.1 78.3,130.4 77.4,130.0 76.4,129.9 75.5,129.5 74.5,129.5 73.6,129.5 72.6,130.1 71.7,130.3 70.7,130.0 69.8,129.6 68.9,129.2 67.9,128.9 67.0,128.2 66.1,129.4 65.1,130.0 64.2,129.8 63.3,129.4 62.3,130.3 61.4,131.1 60.3,131.2 59.1,130.9 58.0,131.3 56.9,130.7 55.8,131.4 54.6,130.8 53.5,129.8 52.4,129.5 51.4,129.2 50.5,128.7 49.5,128.9 48.5,128.7 47.5,127.7 46.1,126.2 45.1,125.4 44.1,125.4 42.8,125.5 41.4,124.2 40.4,123.3 39.5,127.8 38.7,129.9 37.4,132.5 36.2,142.7" fill="#00BC56" fill-opacity="0.1"/>
<polygon points="36.5,149.2 37.8,148.5 39.0,142.0 40.1,141.3 41.2,138.6 42.2,137.5 43.2,139.2 44.3,140.2 45.3,139.5 46.3,141.0 47.3,140.6 48.3,140.8 49.3,141.3 50.4,141.8 51.4,142.3 52.4,141.8 53.4,142.2 54.4,142.0 55.5,142.3 56.5,142.9 57.5,142.8 58.5,143.3 59.5,144.5 60.5,144.2 61.6,144.6 62.6,144.4 63.6,145.5 64.6,145.1 65.6,145.1 66.7,146.1 67.7,146.2 68.7,146.5 69.7,146.9 70.7,147.0 71.7,147.0 72.8,146.7 73.8,146.6 74.8,146.7 75.8,146.9 76.8,147.1 77.9,148.2 78.9,147.7 79.9,147.4 80.9,147.5 81.9,147.4 82.9,148.5 84.0,149.3 85.0,149.4 86.0,149.8 87.0,149.5 88.0,149.3 89.0,149.2 90.0,149.6 91.0,149.3 92.0,149.6 93.0,149.7 94.0,150.2 95.0,150.8 96.0,150.9 97.0,150.2 98.0,150.7 99.0,151.2 100.0,151.2 101.0,150.6 102.0,150.4 103.0,151.0 104.0,151.7 105.0,151.8 106.0,152.2 107.0,152.3 108.0,152.8 109.0,152.2 110.0,152.9 111.0,153.2 112.0,152.4 113.0,152.3 114.0,152.4 115.0,153.2 116.0,153.5 117.0,152.8 118.0,153.6 119.0,153.4 120.0,154.2 121.0,153.7 122.0,153.3 123.0,153.5 124.0,153.9 125.0,154.1 126.0,154.4 127.0,154.0 128.0,154.1 129.0,153.9 130.0,155.2 131.0,155.2 132.0,155.0 133.0,154.8 134.0,155.4 135.0,154.8 136.0,154.8 137.0,155.7 138.0,155.9 139.0,156.4 140.0,156.9 141.0,156.3 142.0,156.7 143.0,157.0 144.0,157.1 145.0,156.8 146.0,157.0 147.0,156.0 148.0,155.7 149.0,156.2 150.0,156.4 151.0,156.8 152.0,156.8 153.0,156.4 154.0,156.8 154.9,156.9 155.9,157.8 156.9,157.7 157.9,158.6 158.9,158.8 159.9,158.9 160.9,159.3 161.9,160.1 162.8,159.8 163.8,159.4 164.8,160.5 165.8,160.3 166.8,161.2 167.8,161.2 168.8,161.2 169.8,162.0 170.7,161.4 171.7,162.4 172.7,162.1 173.7,162.9 174.7,163.7 175.7,163.9 176.7,163.4 177.7,164.2 178.6,164.1 179.6,163.7 180.6,163.8 181.6,163.5 182.6,164.2 183.6,164.5 184.5,164.8 185.5,165.6 186.5,165.4 187.5,164.8 188.5,165.5 189.5,165.1 190.4,165.8 191.4,166.2 192.4,166.3 193.4,166.8 194.4,166.3 195.4,166.6 196.3,166.6 197.3,166.7 198.3,166.7 199.3,167.0 200.3,168.1 201.3,169.0 202.3,169.0 203.2,169.3 204.2,168.4 205.2,168.6 206.2,169.3 207.2,170.0 208.2,169.2 209.2,170.3 210.1,170.9 211.1,170.0 212.1,170.1 213.1,171.0 214.1,170.7 215.1,170.4 216.0,170.9 217.0,171.4 218.0,171.9 219.0,171.5 220.0,171.7 221.0,171.4 222.1,172.5 223.1,173.1 224.1,173.5 225.1,172.5 226.1,172.2 227.1,173.1 228.2,173.1 229.2,173.7 230.2,173.7 231.2,172.9 232.2,172.7 233.2,173.6 234.3,173.4 235.3,173.6 236.3,174.0 237.3,173.4 238.3,173.2 239.3,173.7 240.3,173.3 241.4,173.6 242.4,173.8 243.4,173.5 244.4,173.4 245.4,174.4 246.4,174.8 247.4,174.7 248.4,174.6 249.5,175.3 250.5,175.0 251.5,174.5 252.5,174.7 253.5,174.8 254.5,175.1 255.6,175.0 256.6,175.2 257.6,174.7 258.7,175.5 259.7,176.3 260.7,176.5 261.8,176.8 262.8,177.3 263.8,176.8 264.8,176.6 265.9,177.0 266.9,176.5 267.9,176.4 269.0,176.9 270.0,176.4 270.0,184.8 269.0,185.3 267.9,184.7 266.9,184.8 265.9,185.2 264.8,184.8 263.8,185.0 262.8,185.4 261.8,184.9 260.7,184.5 259.7,184.3 258.7,183.5 257.6,182.6 256.6,183.1 255.6,182.8 254.5,182.9 253.5,182.6 252.5,182.4 251.5,182.2 250.5,182.7 249.5,182.9 248.4,182.2 247.4,182.2 246.4,182.3 245.4,181.8 244.4,180.8 243.4,180.9 242.4,181.2 241.4,180.9 240.3,180.6 239.3,181.0 238.3,180.4 237.3,180.6 236.3,181.2 235.3,180.7 234.3,180.5 233.2,180.6 232.2,179.7 231.2,179.9 230.2,180.7 229.2,180.6 228.2,179.9 227.1,179.9 226.1,179.1 225.1,179.4 224.1,180.4 223.1,180.0 222.1,179.4 221.0,178.3 220.0,178.6 219.0,178.4 218.0,178.9 217.0,178.3 216.0,177.9 215.1,177.3 214.1,177.7 213.1,178.0 212.1,177.1 211.1,177.0 210.1,177.9 209.2,177.3 208.2,176.2 207.2,177.1 206.2,176.3 205.2,175.6 204.2,175.5 203.2,176.4 202.3,176.0 201.3,176.1 200.3,175.2 199.3,174.1 198.3,173.8 197.3,173.8 196.3,173.7 195.4,173.7 194.4,173.5 193.4,174.0 192.4,173.5 191.4,173.4 190.4,173.0 189.5,172.3 188.5,172.7 187.5,172.1 186.5,172.7 185.5,172.9 184.5,172.1 183.6,171.7 182.6,171.5 181.6,170.8 180.6,171.1 179.6,171.1 178.6,171.4 177.7,171.6 176.7,170.8 175.7,171.3 174.7,171.1 173.7,170.3 172.7,169.6 171.7,169.9 170.7,168.9 169.8,169.5 168.8,168.7 167.8,168.7 166.8,168.8 165.8,167.8 164.8,168.0 163.8,166.9 162.8,167.4 161.9,167.7 160.9,167.0 159.9,166.5 158.9,166.5 157.9,166.3 156.9,165.4 155.9,165.5 154.9,164.7 154.0,164.6 153.0,164.2 152.0,164.6 151.0,164.6 150.0,164.2 149.0,164.0 148.0,163.6 147.0,163.9 146.0,164.9 145.0,164.7 144.0,165.1 143.0,165.0 142.0,164.7 141.0,164.4 140.0,165.0 139.0,164.5 138.0,164.1 137.0,163.8 136.0,163.0 135.0,163.0 134.0,163.6 133.0,163.0 132.0,163.3 131.0,163.6 130.0,163.6 129.0,162.3 128.0,162.5 127.0,162.5 126.0,162.9 125.0,162.6 124.0,162.5 123.0,162.2 122.0,162.0 121.0,162.4 120.0,162.9 119.0,162.1 118.0,162.4 117.0,161.7 116.0,162.4 115.0,162.1 114.0,161.3 113.0,161.3 112.0,161.5 111.0,162.2 110.0,162.0 109.0,161.4 108.0,162.0 107.0,161.5 106.0,161.6 105.0,161.2 104.0,161.1 103.0,160.5 102.0,159.9 101.0,160.2 100.0,160.9 99.0,160.9 98.0,160.5 97.0,160.1 96.0,160.8 95.0,160.8 94.0,160.2 93.0,159.8 92.0,159.8 91.0,159.5 90.0,160.0 89.0,159.6 88.0,159.8 87.0,160.1 86.0,160.5 85.0,160.2 84.0,160.1 82.9,159.5 81.9,158.5 80.9,158.7 79.9,158.7 78.9,159.1 77.9,159.7 76.8,158.7 75.8,158.6 74.8,158.6 73.8,158.6 72.8,158.8 71.7,159.3 70.7,159.4 69.7,159.5 68.7,159.3 67.7,159.2 66.7,159.2 65.6,158.5 64.6,158.6 63.6,159.2 62.6,158.3 61.6,158.8 60.5,158.6 59.5,159.1 58.5,158.2 57.5,157.9 56.5,158.4 55.5,158.0 54.4,158.0 53.4,158.5 52.4,158.5 51.4,159.3 50.4,159.3 49.3,159.3 48.3,159.2 47.3,159.6 46.3,160.5 45.3,159.8 44.3,161.3 43.2,161.3 42.2,160.9 41.2,163.7 40.1,168.6 39.0,172.5 37.8,184.2 36.5,192.8" fill="#00C094" fill-opacity="0.1"/>
<polygon points="36.5,149.0 37.8,145.4 39.0,141.5 40.1,135.0 41.2,127.6 42.3,127.5 43.5,127.2 44.6,129.2 45.7,130.6 46.8,130.8 47.9,132.0 49.0,132.9 50.1,133.9 51.3,133.6 52.4,133.7 53.3,133.7 54.3,134.5 55.2,135.6 56.1,136.0 57.1,135.4 58.0,135.7 58.9,135.5 59.9,135.7 60.8,136.4 61.7,136.4 62.7,136.7 63.6,137.0 64.5,137.5 65.5,138.6 66.4,138.3 67.3,138.9 68.3,139.0 69.2,139.0 70.1,139.1 71.1,140.0 72.0,140.7 72.9,141.0 73.9,141.5 74.8,141.7 75.7,141.3 76.7,141.2 77.6,141.8 78.5,142.3 79.5,143.0 80.4,143.7 81.3,143.9 82.3,144.3 83.2,144.2 84.1,144.2 85.1,144.4 86.0,144.2 87.0,144.6 88.0,145.0 89.0,144.7 90.0,144.4 91.0,144.4 92.0,144.8 93.0,145.0 94.0,145.1 95.0,145.1 96.0,145.6 97.0,145.9 98.0,146.5 99.0,146.9 100.0,145.8 101.0,145.8 102.0,146.5 103.0,146.5 104.0,146.8 105.0,146.4 106.0,146.5 107.0,147.3 108.0,147.5 109.0,148.0 110.0,148.4 111.0,148.6 112.0,148.7 113.0,148.9 114.0,149.1 115.0,149.3 116.0,148.7 117.0,148.4 118.0,148.4 119.0,148.9 120.0,149.6 121.0,149.5 122.0,149.2 123.0,148.6 124.0,148.4 125.0,148.3 126.0,148.4 127.0,148.3 128.0,148.9 129.0,149.1 130.0,150.3 131.0,149.7 132.0,149.4 133.0,150.5 134.0,151.2 135.0,150.9 136.0,150.9 137.0,150.7 138.0,150.7 139.0,150.6 140.0,150.3 141.0,151.5 142.0,151.9 143.0,152.1 144.0,151.2 145.0,151.5 146.0,150.8 147.0,151.4 148.0,150.8 149.0,151.3 150.0,150.9 151.0,152.0 152.0,152.4 153.0,151.9 154.0,152.5 155.0,152.6 156.0,151.7 157.0,152.4 158.0,152.7 159.0,152.0 160.0,152.3 161.0,151.9 162.0,151.3 163.0,151.7 164.0,151.5 165.0,152.4 166.0,152.7 167.0,152.2 168.0,152.2 169.0,151.7 170.0,151.9 171.0,152.4 172.0,153.1 173.0,153.6 174.0,153.4 175.0,153.0 176.0,153.6 177.0,153.4 178.0,153.7 179.0,153.2 180.0,153.8 181.0,153.1 182.0,153.0 183.0,152.8 184.0,153.0 185.0,153.4 186.0,154.2 187.0,153.2 188.0,153.6 189.0,153.3 190.0,154.1 191.0,154.4 192.0,154.9 193.0,155.2 194.0,154.9 195.0,154.2 196.0,154.5 197.0,154.4 198.0,154.0 199.0,153.7 200.0,154.7 201.0,154.5 202.0,154.1 203.0,154.0 204.0,153.8 205.0,153.7 206.0,154.7 207.0,154.8 208.0,154.6 209.0,154.6 210.0,154.5 211.0,154.9 212.0,155.2 213.0,154.6 214.0,154.9 215.0,155.8 216.0,156.0 217.0,155.8 218.0,155.6 219.0,155.4 220.0,155.1 221.0,155.2 222.0,155.0 223.0,154.8 224.0,154.9 225.0,156.2 226.0,156.9 227.0,155.9 228.0,155.9 229.0,155.5 230.0,155.7 231.0,156.2 232.0,156.0 233.0,156.1 234.0,155.9 235.0,156.2 236.0,155.9 237.0,156.0 238.0,156.2 239.0,156.2 240.0,156.5 241.0,157.1 242.0,156.9 243.0,157.4 244.0,156.7 245.0,157.2 246.0,157.6 247.0,158.0 248.0,157.9 249.0,157.2 250.0,157.5 251.0,157.6 252.0,157.4 253.0,157.6 254.0,156.9 255.0,156.5 256.0,156.6 257.0,157.8 258.0,157.1 259.0,157.1 260.0,157.9 261.0,158.6 262.0,158.2 263.0,158.2 264.0,158.8 265.0,158.3 266.0,157.7 267.0,157.8 268.0,158.5 269.0,158.3 270.0,158.6 270.0,167.0 269.0,166.6 268.0,166.8 267.0,166.0 266.0,166.0 265.0,166.5 264.0,167.0 263.0,166.3 262.0,166.3 261.0,166.6 260.0,166.0 259.0,165.1 258.0,165.0 257.0,165.7 256.0,164.5 255.0,164.3 254.0,164.7 253.0,165.3 252.0,165.1 251.0,165.3 250.0,165.2 249.0,164.9 248.0,165.4 247.0,165.6 246.0,165.1 245.0,164.6 244.0,164.1 243.0,164.8 242.0,164.2 241.0,164.4 240.0,163.8 239.0,163.4 238.0,163.5 237.0,163.2 236.0,163.1 235.0,163.4 234.0,162.9 233.0,163.2 232.0,163.0 231.0,163.2 230.0,162.7 229.0,162.4 228.0,162.7 227.0,162.8 226.0,163.8 225.0,163.1 224.0,161.7 223.0,161.7 222.0,161.9 221.0,162.1 220.0,162.0 219.0,162.3 218.0,162.5 217.0,162.8 216.0,162.9 215.0,162.7 214.0,161.9 213.0,161.6 212.0,162.2 211.0,161.9 210.0,161.5 209.0,161.6 208.0,161.6 207.0,161.8 206.0,161.7 205.0,160.7 204.0,160.9 203.0,161.0 202.0,161.1 201.0,161.6 200.0,161.8 199.0,160.8 198.0,161.1 197.0,161.5 196.0,161.7 195.0,161.3 194.0,162.0 193.0,162.3 192.0,162.1 191.0,161.5 190.0,161.3 189.0,160.5 188.0,160.8 187.0,160.5 186.0,161.4 185.0,160.7 184.0,160.2 183.0,160.1 182.0,160.3 181.0,160.4 180.0,161.1 179.0,160.5 178.0,161.1 177.0,160.8 176.0,160.9 175.0,160.4 174.0,160.8 173.0,161.0 172.0,160.5 171.0,159.9 170.0,159.4 169.0,159.2 168.0,159.7 167.0,159.7 166.0,160.2 165.0,159.9 164.0,159.0 163.0,159.3 162.0,158.9 161.0,159.5 160.0,159.9 159.0,159.7 158.0,160.4 157.0,160.1 156.0,159.4 155.0,160.3 154.0,160.2 153.0,159.7 152.0,160.2 151.0,159.8 150.0,158.7 149.0,159.2 148.0,158.7 147.0,159.3 146.0,158.7 145.0,159.4 144.0,159.2 143.0,160.2 142.0,160.0 141.0,159.6 140.0,158.4 139.0,158.7 138.0,158.8 137.0,158.8 136.0,159.1 135.0,159.2 134.0,159.4 133.0,158.8 132.0,157.7 131.0,158.0 130.0,158.6 129.0,157.5 128.0,157.3 127.0,156.8 126.0,156.9 125.0,156.8 124.0,157.0 123.0,157.2 122.0,157.8 121.0,158.2 120.0,158.3 119.0,157.7 118.0,157.2 117.0,157.2 116.0,157.5 115.0,158.2 114.0,158.1 113.0,158.0 112.0,157.8 111.0,157.7 110.0,157.5 109.0,157.2 108.0,156.8 107.0,156.6 106.0,155.8 105.0,155.8 104.0,156.2 103.0,156.0 102.0,156.0 101.0,155.4 100.0,155.4 99.0,156.6 98.0,156.3 97.0,155.8 96.0,155.5 95.0,155.0 94.0,155.2 93.0,155.1 92.0,155.0 91.0,154.7 90.0,154.8 89.0,155.1 88.0,155.5 87.0,155.2 86.0,154.8 85.1,155.2 84.1,155.0 83.2,155.1 82.3,155.4 81.3,155.0 80.4,155.0 79.5,154.4 78.5,153.8 77.6,153.3 76.7,152.8 75.7,153.1 74.8,153.5 73.9,153.5 72.9,153.1 72.0,153.0 71.1,152.4 70.1,151.7 69.2,151.7 68.3,151.8 67.3,151.9 66.4,151.5 65.5,151.9 64.5,151.0 63.6,150.7 62.7,150.6 61.7,150.5 60.8,150.7 59.9,150.2 58.9,150.3 58.0,150.7 57.1,150.7 56.1,151.5 55.2,151.4 54.3,150.6 53.3,150.1 52.4,150.4 51.3,150.7 50.1,151.5 49.0,151.0 47.9,150.7 46.8,150.0 45.7,150.6 44.6,150.1 43.5,149.1 42.3,150.8 41.2,152.7 40.1,162.3 39.0,172.0 37.8,181.1 36.5,192.6" fill="#00BFC4" fill-opacity="0.1"/>
<polygon points="36.7,112.2 37.6,115.8 38.6,117.5 39.5,116.0 40.4,103.7 41.6,104.3 42.8,104.8 43.7,105.6 44.6,106.2 45.5,108.2 46.5,107.5 47.5,107.2 48.5,109.2 49.5,110.5 50.8,109.2 52.0,109.0 52.9,110.6 53.8,110.7 54.7,111.4 55.8,112.4 56.9,113.3 58.0,113.2 59.1,114.7 60.2,115.5 61.4,115.5 62.5,115.6 63.6,116.4 64.5,116.9 65.5,117.1 66.4,116.0 67.3,116.2 68.3,115.9 69.2,116.4 70.1,116.9 71.1,116.6 72.0,117.2 72.9,117.6 73.9,116.7 74.8,116.9 75.7,117.8 76.7,117.3 77.6,117.4 78.5,117.8 79.5,117.7 80.4,118.3 81.3,117.6 82.3,117.9 83.2,117.9 84.1,117.1 85.1,117.8 86.0,118.1 87.0,118.4 88.0,117.4 89.0,117.4 90.0,116.8 91.0,117.6 92.0,117.9 93.0,118.5 94.0,117.8 95.0,117.7 96.0,117.5 97.0,118.7 98.0,119.0 99.0,118.5 100.0,119.2 101.0,119.2 102.0,119.2 103.0,119.6 104.0,119.8 105.1,119.5 106.1,119.0 107.1,118.9 108.2,118.8 109.2,118.5 110.2,118.3 111.2,118.7 112.2,119.5 113.3,119.4 114.3,119.0 115.3,118.3 116.3,119.4 117.4,119.0 118.4,118.9 119.4,119.5 120.4,120.0 121.5,119.2 122.5,118.8 123.5,118.8 124.5,120.0 125.6,120.0 126.6,119.4 127.6,120.0 128.7,120.2 129.7,119.7 130.7,119.5 131.8,120.0 132.8,121.2 133.8,121.0 134.9,121.9 135.9,121.5 136.9,121.3 138.0,120.9 139.0,121.6 140.0,121.3 141.0,122.4 142.0,122.5 143.0,121.7 144.0,122.3 145.0,122.4 146.0,122.8 147.0,123.0 148.0,122.4 149.0,122.7 150.0,123.1 151.0,122.6 152.0,123.6 153.0,123.9 154.0,123.3 154.9,122.9 155.9,123.2 156.9,123.8 157.9,124.1 158.9,123.6 159.9,124.1 160.9,124.3 161.9,123.9 162.8,124.3 163.8,124.7 164.8,125.1 165.8,124.4 166.8,124.1 167.8,124.9 168.8,125.8 169.8,125.7 170.7,126.2 171.7,125.7 172.7,125.2 173.7,125.7 174.7,125.5 175.7,126.3 176.7,126.6 177.7,125.7 178.6,125.7 179.6,126.5 180.6,125.9 181.6,125.8 182.6,125.6 183.6,126.5 184.5,127.4 185.5,127.6 186.5,128.0 187.5,127.2 188.5,127.7 189.5,128.4 190.4,128.5 191.4,127.7 192.4,127.4 193.4,128.3 194.4,128.5 195.4,128.2 196.3,127.8 197.3,127.4 198.3,128.3 199.3,128.6 200.3,128.1 201.3,127.9 202.3,129.1 203.3,129.6 204.2,128.6 205.2,128.4 206.2,129.4 207.2,129.3 208.2,129.9 209.2,129.7 210.2,129.5 211.2,130.3 212.1,129.8 213.1,130.5 214.1,130.7 215.1,129.9 216.1,130.7 217.1,131.2 218.1,130.3 219.1,130.5 220.0,130.5 221.0,130.3 222.0,130.9 223.0,131.6 224.0,131.9 225.0,132.0 226.0,131.5 227.0,131.7 227.9,132.1 228.9,131.5 229.9,132.0 230.9,131.7 231.9,132.4 232.9,131.9 233.8,132.0 234.8,131.9 235.8,131.5 236.8,131.8 237.8,132.4 238.8,132.6 239.7,133.2 240.7,133.3 241.7,132.4 242.7,132.5 243.7,132.6 244.7,132.0 245.6,133.1 246.6,133.3 247.6,132.9 248.6,133.2 249.6,133.5 250.6,133.8 251.7,134.2 252.7,133.9 253.7,133.8 254.7,133.8 255.7,133.4 256.8,132.9 257.8,133.7 258.8,134.2 259.8,133.5 260.8,133.6 261.8,133.5 262.9,133.3 263.9,134.1 264.9,134.1 265.9,134.0 266.9,134.6 268.0,135.1 269.0,134.6 270.0,134.8 270.0,143.2 269.0,142.9 268.0,143.4 266.9,142.9 265.9,142.2 264.9,142.3 263.9,142.3 262.9,141.4 261.8,141.5 260.8,141.6 259.8,141.5 258.8,142.1 257.8,141.7 256.8,140.8 255.7,141.2 254.7,141.6 253.7,141.6 252.7,141.7 251.7,141.9 250.6,141.5 249.6,141.1 248.6,140.8 247.6,140.5 246.6,140.8 245.6,140.6 244.7,139.4 243.7,140.0 242.7,139.9 241.7,139.7 240.7,140.6 239.7,140.4 238.8,139.8 237.8,139.6 236.8,139.0 235.8,138.6 234.8,139.0 233.8,139.1 232.9,138.9 231.9,139.4 230.9,138.7 229.9,138.9 228.9,138.5 227.9,139.0 227.0,138.5 226.0,138.4 225.0,138.9 224.0,138.8 223.0,138.5 222.0,137.8 221.0,137.2 220.0,137.5 219.1,137.4 218.1,137.2 217.1,138.2 216.1,137.7 215.1,136.8 214.1,137.7 213.1,137.5 212.1,136.8 211.2,137.3 210.2,136.5 209.2,136.7 208.2,136.9 207.2,136.3 206.2,136.4 205.2,135.4 204.2,135.7 203.3,136.7 202.3,136.2 201.3,134.9 200.3,135.2 199.3,135.7 198.3,135.5 197.3,134.5 196.3,135.0 195.4,135.3 194.4,135.6 193.4,135.5 192.4,134.6 191.4,134.9 190.4,135.7 189.5,135.6 188.5,135.0 187.5,134.4 186.5,135.2 185.5,134.8 184.5,134.7 183.6,133.8 182.6,132.9 181.6,133.2 180.6,133.2 179.6,133.9 178.6,133.1 177.7,133.1 176.7,133.9 175.7,133.7 174.7,132.9 173.7,133.2 172.7,132.6 171.7,133.1 170.7,133.6 169.8,133.2 168.8,133.3 167.8,132.4 166.8,131.6 165.8,132.0 164.8,132.7 163.8,132.3 162.8,131.9 161.9,131.5 160.9,131.9 159.9,131.7 158.9,131.2 157.9,131.8 156.9,131.5 155.9,130.9 154.9,130.6 154.0,131.0 153.0,131.6 152.0,131.4 151.0,130.4 150.0,131.0 149.0,130.6 148.0,130.3 147.0,130.9 146.0,130.7 145.0,130.4 144.0,130.3 143.0,129.7 142.0,130.5 141.0,130.4 140.0,129.4 139.0,129.7 138.0,129.1 136.9,129.4 135.9,129.7 134.9,130.1 133.8,129.3 132.8,129.5 131.8,128.3 130.7,127.9 129.7,128.1 128.7,128.6 127.6,128.4 126.6,127.8 125.6,128.5 124.5,128.6 123.5,127.4 122.5,127.4 121.5,127.9 120.4,128.7 119.4,128.2 118.4,127.7 117.4,127.9 116.3,128.2 115.3,127.2 114.3,127.9 113.3,128.4 112.2,128.6 111.2,127.8 110.2,127.4 109.2,127.7 108.2,128.1 107.1,128.2 106.1,128.3 105.1,128.9 104.0,129.2 103.0,129.1 102.0,128.7 101.0,128.8 100.0,128.8 99.0,128.2 98.0,128.8 97.0,128.6 96.0,127.4 95.0,127.7 94.0,127.9 93.0,128.7 92.0,128.1 91.0,127.9 90.0,127.2 89.0,127.8 88.0,127.9 87.0,128.9 86.0,128.8 85.1,128.6 84.1,128.0 83.2,128.8 82.3,128.9 81.3,128.8 80.4,129.6 79.5,129.0 78.5,129.2 77.6,128.9 76.7,128.9 75.7,129.6 74.8,128.8 73.9,128.7 72.9,129.7 72.0,129.5 71.1,129.0 70.1,129.5 69.2,129.1 68.3,128.7 67.3,129.2 66.4,129.1 65.5,130.4 64.5,130.4 63.6,130.1 62.5,129.6 61.4,129.7 60.2,129.9 59.1,129.4 58.0,128.2 56.9,128.6 55.8,128.0 54.7,127.3 53.8,126.9 52.9,127.1 52.0,125.8 50.8,126.6 49.5,128.4 48.5,127.5 47.5,126.0 46.5,127.0 45.5,128.3 44.6,127.0 43.7,127.2 42.8,127.5 41.6,128.7 40.4,130.3 39.5,145.0 38.6,149.6 37.6,152.1 36.7,154.3" fill="#00B6EB" fill-opacity="0.1"/>
<polygon points="36.8,146.3 37.9,140.8 39.0,134.6 40.1,126.6 41.2,120.2 42.1,122.6 43.1,123.0 44.0,123.3 44.9,124.3 45.9,124.2 46.8,124.0 47.7,125.3 48.7,125.0 49.6,126.3 50.5,127.2 51.5,127.3 52.4,127.5 53.4,127.2 54.3,127.4 55.3,128.7 56.2,129.5 57.2,129.9 58.1,129.6 59.1,130.6 60.2,131.7 61.4,132.3 62.5,132.5 63.6,132.4 64.5,132.4 65.5,132.0 66.4,131.7 67.3,133.1 68.3,133.0 69.2,133.0 70.1,133.3 71.1,134.3 72.0,134.9 72.9,134.9 73.9,135.2 74.8,135.1 75.7,135.3 76.7,135.6 77.6,135.7 78.5,134.9 79.5,135.2 80.4,135.6 81.3,135.8 82.3,136.3 83.2,136.2 84.1,135.7 85.1,135.4 86.0,135.7 87.0,135.8 88.0,135.2 89.0,134.9 90.0,135.0 91.0,135.1 92.0,135.4 93.0,135.9 94.0,135.6 95.0,135.7 96.0,135.3 97.0,136.0 98.0,136.3 99.0,136.3 100.0,136.0 101.0,135.5 102.0,135.5 103.0,135.6 104.0,136.5 105.0,136.7 106.0,137.2 107.0,137.7 108.0,137.0 109.0,136.5 110.0,137.2 111.0,137.1 112.0,137.7 113.0,137.5 114.0,137.1 115.0,138.0 116.0,138.3 117.0,138.5 118.0,138.6 119.0,139.0 120.0,139.2 121.0,138.1 122.0,137.6 123.0,137.4 124.0,138.4 125.0,138.6 126.0,139.0 127.0,138.4 128.0,138.3 129.0,139.3 130.0,139.5 131.0,138.9 132.0,138.6 133.0,139.6 134.0,140.2 135.0,139.4 136.0,140.4 137.0,139.7 138.0,139.7 139.0,140.2 140.0,140.7 141.0,141.2 142.0,140.3 143.0,140.3 144.0,140.2 145.0,140.1 146.0,141.1 147.0,140.9 148.0,141.3 149.0,141.9 150.0,142.5 151.0,142.4 152.0,142.7 153.0,142.8 154.0,142.3 155.0,142.0 156.0,143.1 157.0,142.6 158.0,143.3 159.0,142.5 160.0,142.5 161.0,143.1 162.0,142.8 163.0,143.8 164.0,143.8 165.0,144.2 166.0,144.2 167.0,144.5 168.0,143.6 169.0,143.5 170.0,143.3 171.0,143.5 172.0,143.3 173.0,143.2 174.0,143.8 175.0,144.7 176.0,144.8 177.0,144.9 178.0,145.4 179.0,145.2 180.0,145.1 181.0,145.2 182.0,145.1 183.0,144.6 184.0,144.3 185.0,145.3 186.0,145.3 187.0,145.8 188.0,145.0 189.0,145.3 190.0,146.1 191.0,145.2 192.0,146.2 193.0,145.9 194.0,146.0 195.0,146.2 196.0,146.4 197.0,146.0 198.0,146.9 199.0,146.4 200.0,145.7 201.0,145.5 202.0,146.9 203.0,146.6 204.0,146.7 205.0,147.2 206.0,147.4 207.0,147.4 208.0,148.0 209.0,148.2 210.0,147.6 211.0,148.3 212.0,148.8 213.0,149.1 214.0,149.3 215.0,148.5 216.0,148.2 217.0,149.4 218.0,149.1 219.0,150.2 220.0,150.8 221.0,151.0 222.0,150.9 223.0,150.0 224.0,150.8 225.0,150.6 226.0,151.3 227.0,151.9 228.0,150.9 229.0,151.0 230.0,151.0 231.0,150.9 232.0,152.2 233.0,152.5 234.0,152.5 235.0,152.9 236.0,152.9 237.0,152.2 238.0,152.7 239.0,153.3 240.0,153.6 241.0,154.0 242.0,153.4 243.0,153.7 244.0,154.1 245.0,153.8 246.0,154.5 247.0,154.0 248.0,154.1 249.0,154.0 250.0,154.7 251.0,155.0 252.0,155.1 253.0,155.1 254.0,155.0 255.0,155.1 256.0,154.7 257.0,154.2 258.0,154.5 259.0,155.5 260.0,154.8 261.0,155.2 262.0,154.8 263.0,154.5 264.0,155.4 265.0,155.9 266.0,155.6 267.0,155.9 268.0,156.2 269.0,156.2 270.0,156.6 270.0,165.0 269.0,164.6 268.0,164.5 267.0,164.2 266.0,163.8 265.0,164.1 264.0,163.6 263.0,162.6 262.0,162.9 261.0,163.3 260.0,162.8 259.0,163.5 258.0,162.5 257.0,162.1 256.0,162.6 255.0,163.0 254.0,162.8 253.0,162.8 252.0,162.8 251.0,162.7 250.0,162.4 249.0,161.6 248.0,161.6 247.0,161.5 246.0,162.0 245.0,161.3 244.0,161.5 243.0,161.1 242.0,160.8 241.0,161.3 240.0,160.9 239.0,160.5 238.0,159.9 237.0,159.4 236.0,160.1 235.0,160.0 234.0,159.6 233.0,159.5 232.0,159.2 231.0,157.9 230.0,158.0 229.0,158.0 228.0,157.8 227.0,158.7 226.0,158.2 225.0,157.5 224.0,157.7 223.0,156.9 222.0,157.8 221.0,157.9 220.0,157.7 219.0,157.1 218.0,156.0 217.0,156.3 216.0,155.2 215.0,155.5 214.0,156.3 213.0,156.1 212.0,155.7 211.0,155.3 210.0,154.6 209.0,155.2 208.0,155.0 207.0,154.4 206.0,154.5 205.0,154.3 204.0,153.8 203.0,153.7 202.0,154.0 201.0,152.6 200.0,152.8 199.0,153.5 198.0,154.0 197.0,153.2 196.0,153.5 195.0,153.4 194.0,153.1 193.0,153.0 192.0,153.4 191.0,152.4 190.0,153.3 189.0,152.5 188.0,152.2 187.0,153.0 186.0,152.5 185.0,152.6 184.0,151.5 183.0,151.9 182.0,152.4 181.0,152.5 180.0,152.4 179.0,152.5 178.0,152.8 177.0,152.3 176.0,152.2 175.0,152.1 174.0,151.2 173.0,150.6 172.0,150.7 171.0,151.0 170.0,150.8 169.0,151.0 168.0,151.1 167.0,152.0 166.0,151.7 165.0,151.8 164.0,151.4 163.0,151.4 162.0,150.4 161.0,150.7 160.0,150.1 159.0,150.2 158.0,151.0 157.0,150.3 156.0,150.8 155.0,149.8 154.0,150.0 153.0,150.6 152.0,150.5 151.0,150.3 150.0,150.4 149.0,149.8 148.0,149.2 147.0,148.8 146.0,149.0 145.0,148.1 144.0,148.2 143.0,148.3 142.0,148.3 141.0,149.3 140.0,148.8 139.0,148.3 138.0,147.9 137.0,147.8 136.0,148.6 135.0,147.6 134.0,148.4 133.0,147.9 132.0,147.0 131.0,147.3 130.0,147.9 129.0,147.7 128.0,146.7 127.0,146.9 126.0,147.5 125.0,147.1 124.0,147.0 123.0,146.0 122.0,146.3 121.0,146.8 120.0,147.9 119.0,147.8 118.0,147.4 117.0,147.4 116.0,147.1 115.0,147.0 114.0,146.1 113.0,146.5 112.0,146.8 111.0,146.2 110.0,146.3 109.0,145.7 108.0,146.2 107.0,147.0 106.0,146.6 105.0,146.1 104.0,145.9 103.0,145.1 102.0,145.1 101.0,145.1 100.0,145.6 99.0,146.0 98.0,146.1 97.0,145.9 96.0,145.2 95.0,145.7 94.0,145.6 93.0,146.1 92.0,145.6 91.0,145.4 90.0,145.4 89.0,145.3 88.0,145.7 87.0,146.4 86.0,146.4 85.1,146.2 84.1,146.5 83.2,147.2 82.3,147.3 81.3,146.9 80.4,146.8 79.5,146.5 78.5,146.3 77.6,147.2 76.7,147.3 75.7,147.0 74.8,147.0 73.9,147.2 72.9,147.1 72.0,147.1 71.1,146.7 70.1,145.8 69.2,145.7 68.3,145.8 67.3,146.1 66.4,144.9 65.5,145.3 64.5,145.9 63.6,146.1 62.5,146.4 61.4,146.5 60.2,146.2 59.1,145.3 58.1,144.6 57.2,145.2 56.2,145.0 55.3,144.5 54.3,143.5 53.4,143.5 52.4,144.3 51.5,144.4 50.5,144.7 49.6,144.2 48.7,143.2 47.7,144.1 46.8,143.2 45.9,144.1 44.9,144.8 44.0,144.7 43.1,145.4 42.1,146.2 41.2,145.2 40.1,153.9 39.0,165.1 37.9,175.8 36.8,187.6" fill="#06A4FF" fill-opacity="0.1"/>
<polygon points="37.0,132.0 38.0,127.3 39.0,124.2 39.8,118.7 40.5,114.7 41.4,115.1 42.2,116.6 43.1,116.4 44.0,117.5 45.0,118.4 46.0,118.7 47.0,120.9 48.0,122.5 49.0,121.6 50.0,122.0 51.0,122.1 52.0,122.0 53.0,122.6 54.0,123.2 55.0,123.1 56.0,123.4 57.0,124.0 58.0,125.2 59.0,125.8 60.0,126.0 61.0,125.8 62.0,126.5 63.0,127.1 64.0,127.3 65.0,126.6 66.0,126.6 67.0,126.5 68.0,126.9 69.0,127.9 70.0,127.9 71.0,127.8 72.0,127.6 73.0,127.6 74.0,128.7 75.0,129.5 76.0,130.0 77.0,129.0 78.0,129.0 79.0,128.9 80.0,129.4 81.0,129.4 82.0,129.9 83.0,130.2 84.0,130.7 85.0,130.9 86.0,131.1 87.0,130.6 88.0,131.8 89.0,131.7 90.0,132.4 91.0,132.0 92.0,131.5 93.0,132.7 94.0,132.6 95.0,132.1 96.0,133.1 97.0,133.7 98.0,132.8 99.0,133.6 100.0,132.9 101.0,132.6 102.0,132.6 103.0,133.7 104.0,133.9 105.0,134.0 106.0,134.3 107.0,133.9 108.0,133.5 109.0,133.3 110.0,133.5 111.0,134.2 112.0,133.8 113.0,133.6 114.0,133.8 115.0,133.7 116.0,133.7 117.0,133.9 118.0,134.0 119.0,134.5 120.0,135.5 121.0,135.8 122.0,135.0 123.0,134.7 124.0,135.0 125.0,135.4 126.0,135.7 127.0,136.0 128.0,136.4 129.0,136.6 130.0,136.1 131.0,135.9 132.0,137.0 133.0,136.8 134.0,137.3 135.0,137.7 136.0,137.7 137.0,137.4 138.0,137.5 139.0,136.9 140.0,136.5 141.0,136.6 142.0,136.4 143.0,136.3 144.0,136.2 145.0,136.3 146.0,136.1 147.0,136.2 148.0,137.2 149.0,136.7 150.0,137.5 151.0,137.9 152.0,137.3 153.0,137.5 154.0,137.7 155.0,138.4 156.0,138.3 157.0,137.5 158.0,137.0 159.0,137.0 160.0,136.9 161.0,137.9 162.0,138.4 163.0,137.6 164.0,138.2 165.0,138.7 166.0,138.0 167.0,138.1 168.0,137.7 169.0,137.8 170.0,138.4 171.0,137.9 172.0,138.1 173.0,138.4 174.0,138.9 175.0,139.3 176.0,139.4 177.0,138.8 178.0,138.4 179.0,139.0 180.0,139.3 181.0,139.3 182.0,139.1 183.0,139.5 184.0,138.5 185.0,138.1 186.0,138.7 187.0,138.4 188.0,138.7 189.0,138.8 190.0,139.0 191.0,138.5 192.0,139.3 193.0,139.2 194.0,138.2 195.0,138.3 196.0,138.6 197.0,139.3 198.0,139.3 199.0,139.8 200.0,139.1 201.0,138.4 202.0,138.6 203.0,139.5 204.0,139.3 205.0,139.7 206.0,139.9 207.0,140.1 208.0,139.7 209.0,138.7 210.0,139.1 211.0,138.6 212.0,138.7 213.0,138.6 214.0,138.8 215.0,139.0 216.0,139.5 217.0,140.1 218.0,140.3 219.0,140.3 220.0,139.4 221.0,139.6 222.0,139.4 223.0,139.4 224.0,138.8 225.0,139.1 226.0,140.1 227.0,140.4 228.0,140.6 229.0,139.5 230.0,140.1 231.0,139.8 232.0,139.5 233.0,139.6 234.0,139.4 235.0,139.2 236.0,140.1 237.0,140.1 238.0,139.9 239.0,139.9 240.0,139.2 241.0,138.9 242.0,138.7 243.0,139.1 244.0,140.1 245.0,139.3 246.0,139.3 247.0,140.2 248.0,139.6 249.0,139.8 250.0,140.5 251.0,140.6 252.0,140.2 253.0,139.8 254.0,139.6 255.0,139.6 256.0,140.6 257.0,140.5 258.0,140.2 259.0,140.8 260.0,140.3 261.0,139.9 262.0,140.0 263.0,139.5 264.0,140.5 265.0,139.6 266.0,139.8 267.0,139.3 268.0,139.4 269.0,140.4 270.0,139.8 270.0,148.2 269.0,148.7 268.0,147.7 267.0,147.6 266.0,148.0 265.0,147.8 264.0,148.7 263.0,147.7 262.0,148.1 261.0,147.9 260.0,148.3 259.0,148.8 258.0,148.1 257.0,148.4 256.0,148.4 255.0,147.4 254.0,147.4 253.0,147.6 252.0,147.9 251.0,148.3 250.0,148.1 249.0,147.4 248.0,147.2 247.0,147.7 246.0,146.8 245.0,146.8 244.0,147.5 243.0,146.5 242.0,146.1 241.0,146.3 240.0,146.5 239.0,147.2 238.0,147.1 237.0,147.3 236.0,147.3 235.0,146.4 234.0,146.5 233.0,146.7 232.0,146.5 231.0,146.8 230.0,147.1 229.0,146.4 228.0,147.4 227.0,147.3 226.0,147.0 225.0,146.0 224.0,145.7 223.0,146.3 222.0,146.3 221.0,146.5 220.0,146.3 219.0,147.3 218.0,147.2 217.0,147.1 216.0,146.4 215.0,146.0 214.0,145.7 213.0,145.6 212.0,145.7 211.0,145.6 210.0,146.1 209.0,145.7 208.0,146.7 207.0,147.2 206.0,147.0 205.0,146.8 204.0,146.4 203.0,146.5 202.0,145.7 201.0,145.5 200.0,146.2 199.0,146.9 198.0,146.4 197.0,146.4 196.0,145.7 195.0,145.4 194.0,145.4 193.0,146.3 192.0,146.5 191.0,145.7 190.0,146.2 189.0,146.0 188.0,145.9 187.0,145.6 186.0,146.0 185.0,145.3 184.0,145.8 183.0,146.8 182.0,146.4 181.0,146.7 180.0,146.6 179.0,146.4 178.0,145.7 177.0,146.1 176.0,146.8 175.0,146.7 174.0,146.3 173.0,145.8 172.0,145.5 171.0,145.3 170.0,145.9 169.0,145.3 168.0,145.2 167.0,145.6 166.0,145.5 165.0,146.3 164.0,145.8 163.0,145.2 162.0,146.1 161.0,145.5 160.0,144.5 159.0,144.6 158.0,144.7 157.0,145.2 156.0,146.0 155.0,146.2 154.0,145.5 153.0,145.2 152.0,145.1 151.0,145.7 150.0,145.3 149.0,144.6 148.0,145.1 147.0,144.2 146.0,144.1 145.0,144.3 144.0,144.2 143.0,144.4 142.0,144.5 141.0,144.7 140.0,144.6 139.0,145.0 138.0,145.7 137.0,145.6 136.0,145.9 135.0,145.9 134.0,145.6 133.0,145.1 132.0,145.3 131.0,144.3 130.0,144.5 129.0,145.0 128.0,144.9 127.0,144.4 126.0,144.2 125.0,144.0 124.0,143.6 123.0,143.3 122.0,143.6 121.0,144.5 120.0,144.2 119.0,143.2 118.0,142.8 117.0,142.8 116.0,142.6 115.0,142.6 114.0,142.8 113.0,142.6 112.0,142.9 111.0,143.3 110.0,142.7 109.0,142.5 108.0,142.7 107.0,143.2 106.0,143.7 105.0,143.4 104.0,143.3 103.0,143.2 102.0,142.1 101.0,142.2 100.0,142.6 99.0,143.4 98.0,142.6 97.0,143.5 96.0,143.1 95.0,142.1 94.0,142.6 93.0,142.8 92.0,141.7 91.0,142.3 90.0,142.8 89.0,142.1 88.0,142.3 87.0,141.2 86.0,141.8 85.0,141.7 84.0,141.6 83.0,141.2 82.0,141.0 81.0,140.6 80.0,140.7 79.0,140.3 78.0,140.5 77.0,140.6 76.0,141.7 75.0,141.4 74.0,140.7 73.0,139.7 72.0,139.8 71.0,140.2 70.0,140.5 69.0,140.6 68.0,139.8 67.0,139.6 66.0,139.9 65.0,140.0 64.0,141.0 63.0,140.9 62.0,140.5 61.0,140.0 60.0,140.5 59.0,140.6 58.0,140.2 57.0,139.2 56.0,139.0 55.0,139.0 54.0,139.4 53.0,139.1 52.0,138.9 51.0,139.3 50.0,139.7 49.0,139.7 48.0,141.1 47.0,140.0 46.0,138.5 45.0,138.9 44.0,138.9 43.1,138.7 42.2,139.9 41.4,139.9 40.5,141.1 39.8,147.0 39.0,154.8 38.0,161.8 37.0,172.1" fill="#A58AFF" fill-opacity="0.1"/>
<polygon points="37.5,123.0 38.5,119.4 39.5,118.9 40.8,110.7 41.9,110.9 43.0,111.8 44.1,111.3 45.1,111.7 46.1,112.7 47.2,114.0 48.2,116.2 49.2,115.2 50.2,114.1 51.1,113.9 52.0,113.7 52.9,115.4 53.8,117.0 54.7,117.4 55.8,118.7 56.9,119.0 58.0,120.3 59.1,120.5 60.2,120.6 61.4,120.3 62.5,120.8 63.6,120.8 64.5,120.1 65.5,119.8 66.4,120.2 67.3,120.2 68.3,120.3 69.2,121.5 70.1,122.2 71.1,121.2 72.0,120.8 72.9,121.6 73.9,122.5 74.8,123.0 75.7,123.0 76.7,123.2 77.6,122.9 78.5,122.9 79.5,123.5 80.4,122.7 81.3,123.4 82.3,123.9 83.2,123.4 84.1,124.2 85.1,123.8 86.0,125.0 87.0,125.0 88.0,124.5 89.0,124.4 90.0,124.9 91.0,124.3 92.0,123.8 93.0,124.3 94.0,124.9 95.0,124.1 96.0,124.7 97.0,124.4 98.0,124.8 99.0,124.7 100.0,125.3 101.0,125.1 102.0,125.7 103.0,126.0 104.0,125.0 105.1,125.8 106.1,126.0 107.1,125.2 108.2,125.5 109.2,125.3 110.2,124.9 111.2,124.8 112.2,125.2 113.3,126.3 114.3,125.7 115.3,126.2 116.3,127.0 117.4,126.7 118.4,127.1 119.4,127.2 120.4,127.5 121.5,127.4 122.5,128.1 123.5,127.7 124.5,127.2 125.6,126.9 126.6,127.0 127.6,126.9 128.7,128.2 129.7,127.7 130.7,128.5 131.8,128.9 132.8,128.7 133.8,128.0 134.9,128.0 135.9,129.1 136.9,128.9 138.0,129.5 139.0,128.8 140.0,128.3 141.0,128.5 142.0,128.6 143.0,128.5 144.0,129.1 145.0,129.3 146.0,129.3 147.0,129.0 148.0,129.0 149.0,128.8 150.0,129.1 151.0,129.1 152.0,129.5 153.0,130.2 154.0,129.6 154.9,129.8 155.9,129.1 156.9,129.9 157.9,129.9 158.9,130.0 159.9,130.1 160.9,129.4 161.9,130.3 162.8,129.5 163.8,129.3 164.8,129.7 165.8,130.6 166.8,130.8 167.8,131.2 168.8,130.6 169.8,130.6 170.7,130.7 171.7,130.3 172.7,129.8 173.7,130.0 174.7,129.8 175.7,129.7 176.7,129.9 177.7,131.2 178.6,131.5 179.6,131.9 180.6,132.0 181.6,131.9 182.6,132.6 183.6,132.2 184.5,131.9 185.5,131.9 186.5,131.7 187.5,131.5 188.5,131.9 189.5,132.8 190.4,132.6 191.4,133.0 192.4,133.0 193.4,133.8 194.4,133.5 195.4,133.7 196.3,134.3 197.3,134.7 198.3,135.2 199.3,134.2 200.3,134.4 201.3,134.1 202.3,135.0 203.3,134.6 204.2,135.2 205.2,135.1 206.2,135.4 207.2,135.7 208.2,135.9 209.2,136.1 210.2,135.5 211.2,135.7 212.1,136.1 213.1,136.2 214.1,135.7 215.1,136.1 216.1,136.3 217.1,135.9 218.1,135.7 219.1,135.6 220.0,136.4 221.0,135.7 222.0,136.5 223.0,135.7 224.0,135.5 225.0,136.1 226.0,136.4 227.0,136.0 227.9,135.8 228.9,136.1 229.9,136.6 230.9,136.2 231.9,136.2 232.9,136.2 233.8,136.8 234.8,137.2 235.8,137.0 236.8,136.4 237.8,136.3 238.8,136.3 239.7,136.6 240.7,136.3 241.7,136.6 242.7,136.7 243.7,136.7 244.7,137.4 245.6,137.0 246.6,136.5 247.6,135.9 248.6,135.6 249.6,136.5 250.6,137.3 251.7,137.4 252.7,136.8 253.7,136.2 254.7,136.6 255.7,136.2 256.8,136.0 257.8,136.8 258.8,136.5 259.8,136.9 260.8,137.6 261.8,137.5 262.9,137.2 263.9,137.3 264.9,138.0 265.9,137.3 266.9,137.7 268.0,137.3 269.0,137.6 270.0,136.9 270.0,145.3 269.0,145.9 268.0,145.6 266.9,146.0 265.9,145.5 264.9,146.2 263.9,145.5 262.9,145.4 261.8,145.5 260.8,145.6 259.8,144.9 258.8,144.5 257.8,144.7 256.8,143.9 255.7,144.0 254.7,144.4 253.7,144.0 252.7,144.5 251.7,145.1 250.6,145.0 249.6,144.2 248.6,143.2 247.6,143.5 246.6,144.0 245.6,144.5 244.7,144.9 243.7,144.2 242.7,144.1 241.7,144.0 240.7,143.6 239.7,143.9 238.8,143.5 237.8,143.5 236.8,143.5 235.8,144.2 234.8,144.3 233.8,143.9 232.9,143.2 231.9,143.2 230.9,143.2 229.9,143.5 228.9,143.0 227.9,142.7 227.0,142.9 226.0,143.3 225.0,143.0 224.0,142.4 223.0,142.6 222.0,143.4 221.0,142.6 220.0,143.3 219.1,142.5 218.1,142.6 217.1,142.8 216.1,143.2 215.1,143.1 214.1,142.7 213.1,143.2 212.1,143.1 211.2,142.7 210.2,142.5 209.2,143.2 208.2,143.0 207.2,142.7 206.2,142.5 205.2,142.1 204.2,142.2 203.3,141.6 202.3,142.1 201.3,141.2 200.3,141.5 199.3,141.3 198.3,142.3 197.3,141.8 196.3,141.5 195.4,140.8 194.4,140.6 193.4,140.9 192.4,140.2 191.4,140.2 190.4,139.8 189.5,140.0 188.5,139.2 187.5,138.8 186.5,138.9 185.5,139.2 184.5,139.2 183.6,139.5 182.6,139.9 181.6,139.2 180.6,139.3 179.6,139.3 178.6,138.8 177.7,138.5 176.7,137.3 175.7,137.0 174.7,137.2 173.7,137.4 172.7,137.3 171.7,137.7 170.7,138.2 169.8,138.1 168.8,138.1 167.8,138.7 166.8,138.3 165.8,138.2 164.8,137.3 163.8,136.9 162.8,137.1 161.9,137.9 160.9,137.1 159.9,137.7 158.9,137.7 157.9,137.6 156.9,137.6 155.9,136.8 154.9,137.5 154.0,137.4 153.0,138.0 152.0,137.3 151.0,136.9 150.0,137.0 149.0,136.7 148.0,136.9 147.0,136.9 146.0,137.3 145.0,137.2 144.0,137.0 143.0,136.5 142.0,136.7 141.0,136.6 140.0,136.4 139.0,136.9 138.0,137.6 136.9,137.1 135.9,137.3 134.9,136.2 133.8,136.3 132.8,137.0 131.8,137.2 130.7,136.9 129.7,136.0 128.7,136.6 127.6,135.4 126.6,135.5 125.6,135.4 124.5,135.8 123.5,136.2 122.5,136.7 121.5,136.0 120.4,136.3 119.4,135.9 118.4,135.9 117.4,135.5 116.3,135.8 115.3,135.1 114.3,134.6 113.3,135.3 112.2,134.3 111.2,133.9 110.2,134.0 109.2,134.5 108.2,134.7 107.1,134.5 106.1,135.3 105.1,135.2 104.0,134.4 103.0,135.5 102.0,135.2 101.0,134.8 100.0,135.0 99.0,134.4 98.0,134.6 97.0,134.3 96.0,134.6 95.0,134.1 94.0,135.0 93.0,134.5 92.0,134.0 91.0,134.6 90.0,135.2 89.0,134.8 88.0,135.0 87.0,135.6 86.0,135.7 85.1,134.6 84.1,135.1 83.2,134.4 82.3,134.9 81.3,134.5 80.4,133.9 79.5,134.8 78.5,134.3 77.6,134.5 76.7,134.8 75.7,134.8 74.8,134.9 73.9,134.5 72.9,133.7 72.0,133.1 71.1,133.6 70.1,134.7 69.2,134.2 68.3,133.1 67.3,133.2 66.4,133.4 65.5,133.1 64.5,133.6 63.6,134.5 62.5,134.7 61.4,134.5 60.2,135.0 59.1,135.3 58.0,135.3 56.9,134.3 55.8,134.3 54.7,133.4 53.8,133.3 52.9,132.0 52.0,130.6 51.1,131.1 50.2,131.7 49.2,133.2 48.2,134.7 47.2,133.1 46.1,132.4 45.1,132.1 44.1,132.6 43.0,134.2 41.9,134.8 40.8,136.5 39.5,147.9 38.5,151.8 37.5,160.1" fill="#DF70F8" fill-opacity="0.1"/>
<polygon points="37.0,151.9 38.0,148.4 39.0,143.5 40.1,141.5 41.2,139.5 42.3,139.9 43.5,138.8 44.6,138.5 45.7,140.3 46.8,141.8 47.9,144.3 49.0,145.8 50.1,145.8 51.3,145.8 52.4,145.8 53.4,146.6 54.3,147.6 55.3,147.1 56.2,147.4 57.2,147.5 58.1,148.2 59.1,148.1 60.2,147.6 61.4,148.2 62.5,148.0 63.6,148.4 64.5,149.2 65.5,149.2 66.4,149.8 67.3,150.0 68.3,149.1 69.2,149.0 70.1,149.6 71.1,149.7 72.0,149.2 72.9,150.2 73.9,150.5 74.8,150.4 75.7,150.6 76.7,150.2 77.6,150.7 78.5,150.4 79.5,151.1 80.4,151.9 81.3,151.3 82.3,151.2 83.2,151.6 84.1,152.4 85.1,151.8 86.0,151.9 87.0,152.3 88.0,152.0 89.0,151.8 90.0,152.8 91.0,153.2 92.0,153.5 93.0,153.7 94.0,153.3 95.0,153.7 96.0,154.1 97.0,154.4 98.0,154.2 99.0,154.0 100.0,154.7 101.0,155.5 102.0,155.9 103.0,156.7 104.0,156.3 105.0,156.2 106.0,156.2 107.0,156.6 108.0,157.2 109.0,157.8 110.0,157.1 111.0,157.6 112.0,158.3 113.0,158.7 114.0,158.5 115.0,158.0 116.0,158.2 117.0,158.9 118.0,159.6 119.0,159.2 120.0,159.3 121.0,159.5 122.0,159.3 123.0,160.7 124.0,160.5 125.0,160.7 126.0,161.7 127.0,162.0 128.0,161.6 129.0,162.4 130.0,162.8 131.0,162.7 132.0,162.6 133.0,163.3 134.0,163.8 135.0,163.9 136.0,163.4 137.0,164.2 138.0,164.3 139.0,164.9 140.0,165.2 141.0,165.1 142.0,165.4 143.0,164.9 144.0,164.9 145.0,165.2 146.0,164.9 147.0,164.4 148.0,165.2 149.0,165.2 150.0,165.1 151.0,165.3 152.0,165.1 153.0,165.9 154.0,165.6 154.9,165.4 155.9,166.0 156.9,166.1 157.9,166.0 158.9,165.7 159.9,166.2 160.9,166.4 161.9,166.9 162.8,167.3 163.8,167.0 164.8,166.7 165.8,166.5 166.8,167.3 167.8,168.3 168.8,168.6 169.8,169.2 170.7,168.3 171.7,168.1 172.7,168.8 173.7,168.8 174.7,168.8 175.7,169.5 176.7,168.8 177.7,169.8 178.6,169.2 179.6,169.5 180.6,169.9 181.6,169.9 182.6,170.2 183.6,169.8 184.5,169.6 185.5,170.1 186.5,170.9 187.5,170.0 188.5,169.7 189.5,170.9 190.4,170.1 191.4,169.9 192.4,170.4 193.4,170.5 194.4,171.1 195.4,171.1 196.3,171.7 197.3,171.0 198.3,170.8 199.3,170.8 200.3,171.6 201.3,172.2 202.4,171.6 203.4,171.0 204.4,170.4 205.4,170.3 206.4,171.4 207.4,171.8 208.5,172.0 209.5,170.9 210.5,170.2 211.5,171.2 212.5,171.2 213.5,171.5 214.6,171.6 215.6,171.6 216.6,170.2 217.6,170.9 218.6,170.8 219.6,171.3 220.5,170.4 221.5,170.3 222.5,169.8 223.5,170.5 224.5,170.6 225.5,171.1 226.4,170.9 227.4,171.1 228.4,170.6 229.4,169.8 230.4,169.5 231.4,169.3 232.4,169.1 233.3,170.1 234.3,170.6 235.3,171.2 236.3,171.2 237.3,170.3 238.3,169.8 239.3,169.9 240.3,169.8 241.3,169.5 242.2,170.3 243.2,170.6 244.2,170.3 245.2,170.4 246.2,170.5 247.2,170.5 248.2,170.6 249.2,170.6 250.2,171.2 251.2,170.4 252.2,169.7 253.2,169.4 254.1,170.0 255.1,170.1 256.1,170.8 257.1,170.6 258.1,171.0 259.1,171.2 260.1,170.5 261.1,170.0 262.1,170.4 263.1,170.2 264.1,169.7 265.0,169.3 266.0,170.2 267.0,170.9 268.0,170.9 269.0,170.0 270.0,169.4 270.0,177.8 269.0,178.3 268.0,179.2 267.0,179.2 266.0,178.5 265.0,177.5 264.1,177.8 263.1,178.3 262.1,178.4 261.1,178.0 260.1,178.5 259.1,179.1 258.1,179.0 257.1,178.5 256.1,178.7 255.1,177.9 254.1,177.8 253.2,177.2 252.2,177.4 251.2,178.1 250.2,178.8 249.2,178.2 248.2,178.1 247.2,178.0 246.2,178.0 245.2,177.9 244.2,177.8 243.2,178.1 242.2,177.7 241.3,176.9 240.3,177.1 239.3,177.1 238.3,177.0 237.3,177.5 236.3,178.3 235.3,178.3 234.3,177.7 233.3,177.1 232.4,176.1 231.4,176.3 230.4,176.4 229.4,176.8 228.4,177.5 227.4,178.0 226.4,177.7 225.5,178.0 224.5,177.5 223.5,177.4 222.5,176.7 221.5,177.2 220.5,177.3 219.6,178.3 218.6,177.7 217.6,177.8 216.6,177.2 215.6,178.5 214.6,178.5 213.5,178.4 212.5,178.2 211.5,178.2 210.5,177.2 209.5,177.9 208.5,179.0 207.4,178.9 206.4,178.4 205.4,177.3 204.4,177.5 203.4,178.0 202.4,178.6 201.3,179.3 200.3,178.6 199.3,177.9 198.3,178.0 197.3,178.1 196.3,178.8 195.4,178.3 194.4,178.3 193.4,177.6 192.4,177.6 191.4,177.1 190.4,177.3 189.5,178.1 188.5,176.9 187.5,177.2 186.5,178.2 185.5,177.4 184.5,176.8 183.6,177.1 182.6,177.5 181.6,177.2 180.6,177.2 179.6,176.9 178.6,176.5 177.7,177.1 176.7,176.2 175.7,176.9 174.7,176.2 173.7,176.2 172.7,176.2 171.7,175.5 170.7,175.8 169.8,176.6 168.8,176.1 167.8,175.8 166.8,174.8 165.8,174.1 164.8,174.2 163.8,174.6 162.8,174.9 161.9,174.5 160.9,174.1 159.9,173.8 158.9,173.4 157.9,173.7 156.9,173.9 155.9,173.7 154.9,173.2 154.0,173.3 153.0,173.7 152.0,172.9 151.0,173.1 150.0,173.0 149.0,173.1 148.0,173.1 147.0,172.3 146.0,172.9 145.0,173.2 144.0,172.9 143.0,172.9 142.0,173.4 141.0,173.2 140.0,173.3 139.0,173.1 138.0,172.5 137.0,172.4 136.0,171.6 135.0,172.1 134.0,172.1 133.0,171.6 132.0,170.9 131.0,171.1 130.0,171.2 129.0,170.9 128.0,170.0 127.0,170.5 126.0,170.2 125.0,169.3 124.0,169.1 123.0,169.3 122.0,167.9 121.0,168.2 120.0,168.0 119.0,168.0 118.0,168.4 117.0,167.7 116.0,167.1 115.0,166.9 114.0,167.5 113.0,167.7 112.0,167.3 111.0,166.7 110.0,166.3 109.0,167.0 108.0,166.4 107.0,165.9 106.0,165.6 105.0,165.6 104.0,165.7 103.0,166.1 102.0,165.5 101.0,165.1 100.0,164.4 99.0,163.7 98.0,164.0 97.0,164.3 96.0,164.0 95.0,163.7 94.0,163.3 93.0,163.8 92.0,163.7 91.0,163.5 90.0,163.1 89.0,162.2 88.0,162.5 87.0,162.9 86.0,162.6 85.1,162.5 84.1,163.2 83.2,162.6 82.3,162.2 81.3,162.5 80.4,163.1 79.5,162.4 78.5,161.8 77.6,162.2 76.7,161.9 75.7,162.3 74.8,162.3 73.9,162.5 72.9,162.3 72.0,161.4 71.1,162.1 70.1,162.2 69.2,161.7 68.3,161.9 67.3,163.0 66.4,162.9 65.5,162.5 64.5,162.7 63.6,162.1 62.5,161.9 61.4,162.4 60.2,162.0 59.1,162.8 58.1,163.1 57.2,162.8 56.2,162.9 55.3,162.8 54.3,163.7 53.4,163.0 52.4,162.6 51.3,163.0 50.1,163.4 49.0,163.9 47.9,163.0 46.8,161.1 45.7,160.3 44.6,159.4 43.5,160.7 42.3,163.2 41.2,164.5 40.1,168.9 39.0,174.1 38.0,183.0 37.0,191.9" fill="#FB61D7" fill-opacity="0.1"/>
<polygon points="37.0,129.8 38.0,129.3 39.0,125.9 40.1,112.7 41.2,118.0 42.1,118.6 43.1,121.0 44.0,122.4 44.9,122.2 45.9,123.1 46.8,123.6 47.7,123.6 48.7,124.0 49.6,124.4 50.5,124.9 51.5,126.1 52.4,126.6 53.3,125.9 54.3,126.3 55.2,127.7 56.1,128.3 57.1,128.5 58.0,128.9 58.9,129.0 59.9,128.4 60.8,128.5 61.7,128.4 62.7,128.2 63.6,129.0 64.5,128.3 65.5,128.2 66.4,129.0 67.3,129.6 68.3,129.0 69.2,129.6 70.1,130.1 71.1,129.4 72.0,130.4 72.9,129.8 73.9,130.2 74.8,129.9 75.7,129.8 76.7,130.8 77.6,131.7 78.5,131.1 79.5,131.3 80.4,131.9 81.3,132.4 82.3,132.2 83.2,133.0 84.1,132.7 85.1,134.0 86.0,134.4 87.0,134.6 88.0,135.2 89.0,134.5 90.0,134.2 91.0,134.8 92.0,135.7 93.0,136.2 94.0,136.4 95.0,136.3 96.0,136.0 97.0,136.6 98.0,136.8 99.0,137.4 100.0,137.6 101.0,137.4 102.0,137.7 103.0,137.2 104.0,137.2 105.0,138.1 106.0,138.5 107.0,137.8 108.0,137.8 109.0,138.3 110.0,138.8 111.0,138.8 112.0,139.0 113.0,140.0 114.0,139.8 115.0,139.8 116.0,140.7 117.0,140.3 118.0,140.5 119.0,140.2 120.0,141.1 121.0,141.7 122.0,141.1 123.0,141.6 124.0,141.3 125.0,142.1 126.0,142.1 127.0,141.9 128.0,142.9 129.0,142.8 130.0,142.9 131.0,143.7 132.0,143.2 133.0,143.2 134.0,144.1 135.0,143.7 136.0,144.4 137.0,144.5 138.0,145.1 139.0,145.0 140.0,145.4 141.0,145.3 142.0,145.0 143.0,145.2 144.0,145.7 145.0,146.2 146.0,146.5 147.0,146.6 148.0,146.7 149.0,147.2 150.0,148.0 151.0,148.2 152.0,147.4 153.0,147.4 154.0,148.1 155.0,148.2 156.0,148.1 157.0,148.5 158.0,147.9 159.0,148.4 160.0,149.3 161.0,148.9 162.0,148.5 163.0,149.1 164.0,149.4 165.0,149.1 166.0,148.9 167.0,148.5 168.0,148.5 169.0,149.6 170.0,149.6 171.0,150.3 172.0,150.9 173.0,150.9 174.0,150.4 175.0,149.8 176.0,150.8 177.0,150.2 178.0,149.9 179.0,150.2 180.0,150.2 181.0,150.2 182.0,150.1 183.0,149.9 184.0,149.8 185.0,151.2 186.0,150.7 187.0,150.9 188.0,151.4 189.0,151.6 190.0,152.2 191.0,152.7 192.0,152.4 193.0,152.1 194.0,152.3 195.0,152.0 196.0,151.6 197.0,151.9 198.0,152.2 199.0,151.9 200.0,152.2 201.0,152.2 202.0,151.8 203.0,152.9 204.0,152.9 205.0,153.0 206.0,152.3 207.0,152.4 208.0,152.0 209.0,153.1 210.0,153.4 211.0,153.3 212.0,153.6 213.0,153.4 214.0,153.4 215.0,154.2 216.0,153.3 217.0,153.7 218.0,153.6 219.0,153.2 220.0,153.0 221.0,153.6 222.0,153.1 223.0,154.0 224.0,153.9 225.0,153.7 226.0,153.9 227.0,154.0 228.0,154.1 229.0,154.0 230.0,154.1 231.0,154.0 232.0,154.7 233.0,154.8 234.0,154.6 235.0,154.4 236.0,154.4 237.0,155.4 238.0,155.4 239.0,155.9 240.0,156.1 241.0,155.8 242.0,155.5 243.0,154.9 244.0,155.0 245.0,154.2 246.0,154.4 247.0,154.8 248.0,154.6 249.0,154.5 250.0,154.7 251.0,154.6 252.0,154.5 253.0,154.4 254.0,154.1 255.0,154.1 256.0,153.2 257.0,153.6 258.0,153.1 259.0,153.5 260.0,152.7 261.0,152.9 262.0,152.6 263.0,152.6 264.0,153.1 265.0,153.1 266.0,153.2 267.0,152.8 268.0,152.9 269.0,153.1 270.0,152.9 270.0,161.3 269.0,161.4 268.0,161.2 267.0,161.0 266.0,161.4 265.0,161.3 264.0,161.3 263.0,160.7 262.0,160.7 261.0,161.0 260.0,160.7 259.0,161.4 258.0,161.1 257.0,161.5 256.0,161.1 255.0,162.0 254.0,161.9 253.0,162.2 252.0,162.2 251.0,162.3 250.0,162.3 249.0,162.1 248.0,162.2 247.0,162.3 246.0,161.9 245.0,161.7 244.0,162.4 243.0,162.3 242.0,162.9 241.0,163.2 240.0,163.4 239.0,163.2 238.0,162.7 237.0,162.6 236.0,161.6 235.0,161.5 234.0,161.6 233.0,161.9 232.0,161.7 231.0,160.9 230.0,161.0 229.0,160.9 228.0,161.0 227.0,160.8 226.0,160.8 225.0,160.6 224.0,160.8 223.0,160.9 222.0,160.0 221.0,160.5 220.0,159.9 219.0,160.1 218.0,160.5 217.0,160.7 216.0,160.2 215.0,161.2 214.0,160.4 213.0,160.4 212.0,160.6 211.0,160.3 210.0,160.4 209.0,160.1 208.0,159.0 207.0,159.4 206.0,159.4 205.0,160.0 204.0,160.0 203.0,160.0 202.0,158.9 201.0,159.3 200.0,159.3 199.0,159.0 198.0,159.3 197.0,159.0 196.0,158.7 195.0,159.1 194.0,159.4 193.0,159.2 192.0,159.6 191.0,159.9 190.0,159.4 189.0,158.8 188.0,158.7 187.0,158.2 186.0,157.9 185.0,158.4 184.0,157.1 183.0,157.2 182.0,157.4 181.0,157.5 180.0,157.5 179.0,157.5 178.0,157.2 177.0,157.5 176.0,158.1 175.0,157.2 174.0,157.8 173.0,158.3 172.0,158.4 171.0,157.8 170.0,157.1 169.0,157.1 168.0,156.0 167.0,156.0 166.0,156.5 165.0,156.7 164.0,156.9 163.0,156.7 162.0,156.1 161.0,156.6 160.0,156.9 159.0,156.0 158.0,155.6 157.0,156.2 156.0,155.8 155.0,156.0 154.0,155.9 153.0,155.2 152.0,155.2 151.0,156.0 150.0,155.8 149.0,155.1 148.0,154.6 147.0,154.5 146.0,154.4 145.0,154.2 144.0,153.7 143.0,153.2 142.0,153.0 141.0,153.4 140.0,153.5 139.0,153.1 138.0,153.2 137.0,152.6 136.0,152.6 135.0,151.9 134.0,152.3 133.0,151.5 132.0,151.5 131.0,152.1 130.0,151.3 129.0,151.2 128.0,151.4 127.0,150.4 126.0,150.6 125.0,150.7 124.0,149.9 123.0,150.2 122.0,149.8 121.0,150.3 120.0,149.9 119.0,148.9 118.0,149.3 117.0,149.2 116.0,149.6 115.0,148.8 114.0,148.7 113.0,149.0 112.0,148.0 111.0,147.9 110.0,147.9 109.0,147.4 108.0,147.1 107.0,147.1 106.0,147.8 105.0,147.4 104.0,146.7 103.0,146.7 102.0,147.2 101.0,147.0 100.0,147.3 99.0,147.1 98.0,146.6 97.0,146.5 96.0,146.0 95.0,146.3 94.0,146.5 93.0,146.4 92.0,145.8 91.0,145.1 90.0,144.5 89.0,144.9 88.0,145.7 87.0,145.2 86.0,145.1 85.1,144.8 84.1,143.6 83.2,144.0 82.3,143.2 81.3,143.6 80.4,143.2 79.5,142.6 78.5,142.6 77.6,143.2 76.7,142.5 75.7,141.6 74.8,141.7 73.9,142.2 72.9,142.0 72.0,142.6 71.1,141.8 70.1,142.6 69.2,142.3 68.3,141.9 67.3,142.6 66.4,142.1 65.5,141.5 64.5,141.8 63.6,142.7 62.7,142.1 61.7,142.5 60.8,142.8 59.9,142.9 58.9,143.8 58.0,143.9 57.1,143.7 56.1,143.8 55.2,143.5 54.3,142.4 53.3,142.3 52.4,143.3 51.5,143.2 50.5,142.3 49.6,142.2 48.7,142.3 47.7,142.3 46.8,142.9 45.9,142.9 44.9,142.8 44.0,143.8 43.1,143.3 42.1,142.1 41.2,143.0 40.1,140.1 39.0,156.4 38.0,163.8 37.0,169.8" fill="#FF66A8" fill-opacity="0.1"/>
<path d="M37.0,166.3 L38.0,162.0 L39.0,158.5 L40.1,156.7 L41.2,154.7 L42.3,154.3 L43.5,155.3 L44.6,155.3 L45.7,153.9 L46.8,153.9 L47.9,153.0 L49.0,154.9 L50.1,156.1 L51.3,155.9 L52.4,156.1 L53.3,156.7 L54.3,156.2 L55.2,155.9 L56.1,155.9 L57.1,156.1 L58.0,156.8 L59.1,158.6 L60.3,159.0 L61.4,159.4 L62.5,158.8 L63.6,158.8 L64.5,158.9 L65.5,157.9 L66.4,158.2 L67.3,157.5 L68.3,157.0 L69.2,157.4 L70.1,158.7 L71.1,159.3 L72.0,159.3 L72.9,160.6 L73.9,161.6 L74.8,161.4 L75.7,161.4 L76.7,161.8 L77.6,162.4 L78.5,161.6 L79.5,161.9 L80.4,162.7 L81.3,162.2 L82.3,162.0 L83.2,161.9 L84.1,161.2 L85.1,160.4 L86.0,160.4 L87.0,160.4 L88.0,160.1 L89.0,160.7 L90.0,160.3 L91.0,160.3 L92.0,160.7 L93.0,161.0 L94.0,161.3 L95.0,161.1 L96.0,160.4 L97.0,161.0 L98.0,161.4 L99.0,161.3 L100.0,161.4 L101.0,161.0 L102.0,160.8 L103.0,160.9 L104.0,160.3 L105.0,160.8 L106.0,161.3 L107.0,160.6 L108.0,161.1 L109.0,161.3 L110.0,160.5 L111.0,160.0 L112.0,160.6 L113.0,160.4 L114.0,160.4 L115.0,160.9 L116.0,161.2 L117.0,161.5 L118.0,161.4 L119.0,161.0 L120.0,160.4 L121.0,160.2 L122.0,160.3 L123.0,160.8 L124.0,161.4 L125.0,160.9 L126.0,161.0 L127.0,161.8 L128.0,161.5 L129.0,161.8 L130.0,161.8 L131.0,161.9 L132.0,161.7 L133.0,161.7 L134.0,161.9 L135.0,161.2 L136.0,161.9 L137.0,162.3 L138.0,161.3 L139.0,161.1 L140.0,161.0 L141.0,160.7 L142.0,160.6 L143.0,161.3 L144.0,160.9 L145.0,160.6 L146.0,161.7 L147.0,161.5 L148.0,161.5 L149.0,161.5 L150.0,161.2 L151.0,161.3 L152.0,160.9 L153.0,161.2 L154.0,160.9 L155.0,160.6 L156.0,160.5 L157.0,160.8 L158.0,161.7 L159.0,161.6 L160.0,162.1 L161.0,161.5 L162.0,161.0 L163.0,161.4 L164.0,160.8 L165.0,161.7 L166.0,161.2 L167.0,160.8 L168.0,160.6 L169.0,160.5 L170.0,161.4 L171.0,161.9 L172.0,161.5 L173.0,160.8 L174.0,160.1 L175.0,159.8 L176.0,160.0 L177.0,160.6 L178.0,160.8 L179.0,161.3 L180.0,161.4 L181.0,160.8 L182.0,160.9 L183.0,160.7 L184.0,160.9 L185.0,160.2 L186.0,161.0 L187.0,160.0 L188.0,160.4 L189.0,160.1 L190.0,160.7 L191.0,159.9 L192.0,160.7 L193.0,159.7 L194.0,160.3 L195.0,160.5 L196.0,160.3 L197.0,159.7 L198.0,159.7 L199.0,159.8 L200.0,159.4 L201.0,159.2 L202.0,160.1 L203.0,160.1 L204.0,159.6 L205.0,159.9 L206.0,160.1 L207.0,159.4 L208.0,159.7 L209.0,159.9 L210.0,159.2 L211.0,159.2 L212.0,160.0 L213.0,159.9 L214.0,159.4 L215.0,159.3 L216.0,159.4 L217.0,159.8 L218.0,160.2 L219.0,159.2 L220.0,158.7 L221.0,159.0 L222.0,158.6 L223.0,158.6 L224.0,158.5 L225.0,158.5 L226.0,159.3 L227.0,158.9 L228.0,159.4 L229.0,160.3 L230.0,159.5 L231.0,160.1 L232.0,160.1 L233.0,159.5 L234.0,160.4 L235.0,160.6 L236.0,160.1 L237.0,160.7 L238.0,159.8 L239.0,160.4 L240.0,160.8 L241.0,159.9 L242.0,160.7 L243.0,160.9 L244.0,161.2 L245.0,160.5 L246.0,160.8 L247.0,161.0 L248.0,160.5 L249.0,159.8 L250.0,159.5 L251.0,160.1 L252.0,160.4 L253.0,160.0 L254.0,160.6 L255.0,160.0 L256.0,160.4 L257.0,160.7 L258.0,160.3 L259.0,160.0 L260.0,161.1 L261.0,161.6 L262.0,161.5 L263.0,160.6 L264.0,160.9 L265.0,161.8 L266.0,161.9 L267.0,161.9 L268.0,160.9 L269.0,161.3 L270.0,161.0" fill="none" stroke="#F8766D" stroke-width="0.9" stroke-linejoin="round"/>
<path d="M37.0,160.4 L38.2,151.4 L39.5,146.2 L40.4,142.8 L41.2,137.6 L42.3,137.0 L43.5,135.3 L44.6,134.2 L45.7,134.9 L46.8,136.5 L47.9,136.7 L49.0,137.7 L50.1,136.5 L51.3,136.1 L52.4,135.6 L53.5,136.9 L54.6,137.0 L55.8,137.4 L56.9,137.4 L58.0,137.3 L59.1,136.6 L60.3,135.6 L61.4,135.2 L62.3,135.0 L63.3,134.6 L64.2,135.4 L65.1,135.5 L66.1,135.5 L67.0,135.8 L67.9,135.1 L68.9,134.8 L69.8,134.6 L70.7,134.4 L71.7,134.7 L72.6,133.8 L73.5,134.2 L74.5,134.5 L75.4,134.4 L76.3,134.0 L77.3,134.8 L78.2,134.2 L79.1,134.8 L80.1,134.5 L81.0,134.3 L81.9,134.4 L82.9,134.4 L83.8,134.5 L84.8,135.3 L85.9,135.8 L86.9,135.5 L87.9,135.8 L89.0,135.7 L90.0,135.6 L91.0,136.2 L92.0,135.7 L93.0,136.4 L94.0,136.4 L95.0,136.5 L96.0,135.6 L97.0,135.2 L98.0,135.0 L99.0,135.4 L100.0,136.6 L101.0,137.1 L102.0,137.3 L103.0,136.4 L104.0,136.8 L105.0,137.2 L106.0,137.4 L107.0,137.6 L108.0,136.7 L109.0,136.4 L110.0,137.2 L111.0,137.5 L112.0,138.0 L113.0,137.6 L114.0,138.1 L115.0,137.3 L116.0,138.2 L117.0,138.6 L118.0,138.0 L119.0,137.3 L120.0,137.8 L121.0,138.2 L122.0,138.0 L123.0,137.5 L124.0,137.7 L125.0,138.6 L126.0,138.0 L127.0,139.0 L128.0,138.6 L129.0,138.3 L130.0,138.1 L131.0,139.3 L132.0,139.9 L133.0,139.3 L134.0,138.8 L135.0,139.4 L136.0,140.1 L137.0,139.2 L138.0,139.7 L139.0,140.3 L140.0,140.1 L141.0,140.3 L142.0,140.8 L143.0,140.4 L144.0,140.3 L145.0,140.9 L146.0,141.1 L147.0,141.3 L148.0,141.2 L149.0,142.2 L150.0,141.8 L151.0,142.1 L152.0,142.7 L153.0,142.2 L154.0,141.5 L155.0,141.4 L156.0,141.2 L157.0,141.2 L158.0,141.3 L159.0,141.6 L160.0,141.9 L161.0,142.2 L162.0,142.7 L163.0,143.0 L164.0,143.2 L165.0,142.8 L166.0,143.1 L167.0,143.2 L168.0,142.6 L169.0,142.9 L170.0,142.8 L171.0,143.3 L172.0,143.7 L173.0,143.2 L174.0,143.2 L175.0,143.3 L176.0,143.2 L177.0,142.8 L178.0,142.6 L179.1,144.0 L180.1,144.4 L181.1,144.1 L182.1,144.4 L183.1,144.0 L184.1,144.5 L185.1,145.1 L186.1,145.2 L187.2,144.8 L188.2,145.5 L189.2,145.7 L190.2,144.6 L191.2,144.6 L192.2,144.7 L193.2,144.6 L194.2,145.0 L195.2,144.6 L196.3,145.3 L197.3,145.9 L198.3,145.1 L199.3,145.6 L200.3,145.3 L201.3,145.7 L202.3,146.0 L203.3,146.6 L204.2,146.7 L205.2,146.0 L206.2,146.3 L207.2,145.7 L208.2,146.2 L209.2,146.0 L210.2,145.8 L211.2,145.6 L212.2,145.5 L213.1,146.4 L214.1,145.8 L215.1,145.7 L216.1,145.7 L217.1,145.6 L218.1,146.5 L219.1,146.7 L220.1,147.0 L221.0,147.5 L222.0,147.1 L223.0,146.3 L224.0,146.2 L225.0,146.7 L226.0,147.2 L227.0,147.8 L227.9,147.5 L228.9,146.9 L229.9,147.2 L230.9,147.9 L231.9,147.4 L232.9,148.0 L233.8,148.3 L234.8,148.0 L235.8,147.7 L236.8,147.1 L237.8,146.7 L238.8,146.5 L239.8,147.2 L240.7,147.8 L241.7,148.5 L242.7,148.3 L243.7,148.8 L244.7,148.2 L245.7,147.5 L246.6,147.1 L247.6,147.2 L248.6,147.7 L249.6,148.7 L250.6,148.2 L251.7,147.9 L252.7,148.6 L253.7,148.5 L254.7,148.8 L255.7,148.3 L256.8,149.2 L257.8,149.8 L258.8,150.0 L259.8,150.3 L260.8,149.7 L261.8,149.0 L262.9,149.1 L263.9,150.1 L264.9,150.0 L265.9,149.6 L266.9,149.4 L268.0,149.4 L269.0,149.9 L270.0,150.9" fill="none" stroke="#E38900" stroke-width="0.9" stroke-linejoin="round"/>
<path d="M37.0,163.3 L38.2,157.2 L39.5,148.6 L40.4,146.8 L41.2,143.8 L42.3,142.6 L43.5,142.2 L44.6,141.5 L45.7,141.5 L46.8,143.1 L47.9,144.6 L49.0,144.5 L50.1,145.0 L51.3,144.9 L52.4,144.2 L53.4,143.6 L54.4,143.1 L55.5,144.0 L56.5,144.2 L57.5,144.1 L58.5,143.8 L59.5,143.7 L60.5,143.2 L61.6,143.4 L62.6,142.9 L63.6,143.4 L64.6,143.7 L65.6,143.9 L66.7,143.4 L67.7,143.0 L68.7,143.1 L69.7,143.7 L70.7,143.8 L71.7,144.2 L72.8,144.0 L73.8,143.8 L74.8,144.6 L75.8,143.7 L76.8,143.2 L77.9,143.6 L78.9,143.7 L79.9,143.5 L80.9,143.5 L81.9,143.2 L82.9,143.4 L84.0,143.8 L85.0,143.8 L86.0,143.5 L87.0,143.0 L88.0,143.4 L89.0,142.8 L90.0,142.7 L91.0,143.0 L92.0,142.9 L93.0,142.4 L94.0,142.6 L95.0,142.5 L96.0,142.9 L97.0,142.7 L98.0,142.4 L99.0,142.9 L100.0,142.5 L101.0,142.0 L102.0,142.6 L103.0,142.9 L104.0,141.9 L105.0,141.2 L106.0,142.0 L107.0,142.4 L108.0,141.9 L109.0,141.4 L110.0,141.8 L111.0,142.4 L112.0,141.5 L113.0,141.5 L114.0,141.7 L115.0,141.2 L116.0,141.2 L117.0,140.8 L118.0,141.1 L119.0,140.9 L120.0,140.5 L121.0,140.8 L122.0,140.6 L123.0,140.4 L124.0,140.4 L125.0,140.8 L126.0,140.8 L127.0,141.5 L128.0,141.3 L129.0,141.0 L130.0,140.7 L131.0,140.7 L132.0,141.4 L133.0,140.9 L134.0,141.1 L135.0,141.7 L136.0,142.0 L137.0,141.6 L138.0,142.0 L139.0,141.8 L140.0,141.2 L141.0,140.9 L142.0,141.1 L143.0,142.2 L144.0,142.3 L145.0,143.2 L146.0,144.0 L147.0,144.5 L148.0,144.2 L149.0,143.5 L150.0,143.7 L151.0,143.6 L152.0,144.3 L153.0,144.7 L154.0,145.2 L155.0,145.2 L156.0,145.6 L157.0,145.4 L158.0,145.0 L159.0,145.4 L160.0,144.8 L161.0,145.2 L162.0,145.4 L163.0,145.7 L164.0,144.7 L165.0,144.4 L166.0,145.4 L167.0,144.8 L168.0,144.9 L169.0,145.2 L170.0,145.2 L171.0,145.9 L172.0,146.3 L173.0,145.6 L174.0,145.0 L175.0,145.9 L176.0,145.7 L177.0,145.3 L178.0,145.0 L179.0,144.7 L180.0,145.4 L181.0,145.3 L182.0,145.7 L183.0,146.5 L184.0,146.3 L185.0,146.9 L186.0,145.9 L187.0,146.5 L188.0,146.8 L189.0,147.3 L190.0,146.2 L191.0,146.4 L192.0,146.6 L193.0,146.7 L194.0,146.7 L195.0,146.4 L196.0,147.2 L197.0,147.6 L198.0,147.6 L199.0,148.0 L200.0,147.6 L201.0,146.7 L202.0,147.2 L203.0,146.6 L204.0,147.4 L205.0,147.6 L206.0,147.1 L207.0,146.7 L208.0,146.5 L209.0,146.6 L210.0,147.8 L211.0,147.4 L212.0,148.1 L213.0,147.4 L214.0,147.4 L215.0,147.7 L216.0,147.6 L217.0,148.5 L218.0,148.0 L219.0,148.1 L220.0,147.7 L221.0,147.4 L222.0,148.2 L223.0,148.1 L224.0,148.3 L225.0,148.7 L226.0,148.0 L227.0,147.7 L228.0,148.4 L229.0,149.3 L230.0,148.3 L231.0,148.5 L232.0,149.4 L233.0,149.6 L234.0,150.0 L235.0,149.5 L236.0,150.0 L237.0,148.8 L238.0,148.9 L239.0,149.5 L240.0,149.2 L241.0,149.1 L242.0,149.1 L243.0,149.0 L244.0,149.6 L245.0,150.2 L246.0,149.4 L247.0,149.1 L248.0,149.8 L249.0,150.0 L250.0,150.2 L251.0,150.3 L252.0,150.7 L253.0,150.8 L254.0,150.6 L255.0,150.1 L256.0,149.5 L257.0,150.5 L258.0,151.0 L259.0,151.4 L260.0,150.7 L261.0,151.1 L262.0,151.7 L263.0,150.9 L264.0,150.3 L265.0,150.3 L266.0,150.4 L267.0,151.2 L268.0,151.9 L269.0,152.3 L270.0,152.3" fill="none" stroke="#C49A00" stroke-width="0.9" stroke-linejoin="round"/>
<path d="M37.0,162.3 L38.2,157.4 L39.5,154.3 L40.4,153.6 L41.2,151.1 L42.1,149.9 L43.1,150.6 L44.0,149.7 L44.9,149.8 L45.9,150.8 L46.8,151.2 L47.7,149.8 L48.7,149.1 L49.6,149.0 L50.5,149.9 L51.5,148.9 L52.4,148.8 L53.5,147.6 L54.7,146.6 L55.8,146.3 L56.9,147.2 L58.0,148.5 L59.1,150.3 L60.2,150.6 L61.4,150.3 L62.5,150.7 L63.6,150.5 L64.6,150.8 L65.6,149.9 L66.7,149.7 L67.7,149.8 L68.7,150.3 L69.7,150.1 L70.7,149.7 L71.7,149.1 L72.8,148.8 L73.8,148.5 L74.8,149.4 L75.8,149.7 L76.8,149.9 L77.9,149.4 L78.9,149.4 L79.9,148.8 L80.9,148.7 L81.9,148.1 L82.9,148.2 L84.0,148.0 L85.0,147.7 L86.0,148.7 L87.0,147.9 L88.0,148.6 L89.0,148.8 L90.0,147.9 L91.0,148.1 L92.0,148.9 L93.0,149.3 L94.0,148.8 L95.0,148.8 L96.0,148.8 L97.0,148.1 L98.0,148.1 L99.0,148.1 L100.0,147.9 L101.0,148.3 L102.0,148.0 L103.0,148.2 L104.0,147.3 L105.0,147.4 L106.0,146.8 L107.0,147.4 L108.0,148.0 L109.0,147.8 L110.0,147.7 L111.0,147.8 L112.0,147.2 L113.0,147.2 L114.0,147.4 L115.0,147.6 L116.0,147.3 L117.0,147.3 L118.0,147.1 L119.0,147.3 L120.0,147.6 L121.0,147.2 L122.0,147.5 L123.0,147.9 L124.0,147.6 L125.0,148.2 L126.0,147.4 L127.0,147.9 L128.0,147.1 L129.0,146.9 L130.0,147.5 L131.0,146.6 L132.0,147.0 L133.0,147.6 L134.0,148.0 L135.0,147.8 L136.0,147.2 L137.0,146.9 L138.0,147.1 L139.0,146.4 L140.0,146.0 L141.0,147.1 L142.0,147.3 L143.0,146.8 L144.0,146.9 L145.0,146.8 L146.0,147.6 L147.0,147.2 L148.0,147.7 L149.0,147.9 L150.0,147.5 L151.0,147.2 L152.0,147.4 L153.0,147.4 L154.0,147.7 L155.0,147.5 L156.0,148.1 L157.0,147.9 L158.0,147.4 L159.0,148.1 L160.0,148.7 L161.0,148.7 L162.0,148.5 L163.0,148.9 L164.0,149.2 L165.0,148.0 L166.0,148.2 L167.0,147.6 L168.0,147.8 L169.0,147.7 L170.0,148.1 L171.0,148.6 L172.0,149.2 L173.0,148.6 L174.0,147.9 L175.0,149.1 L176.0,149.4 L177.0,149.2 L178.0,148.5 L179.0,148.1 L180.0,149.2 L181.0,149.2 L182.0,149.7 L183.0,149.9 L184.0,149.9 L185.0,150.1 L186.0,149.3 L187.0,149.0 L188.0,149.1 L189.0,149.7 L190.0,150.1 L191.0,150.2 L192.0,150.1 L193.0,149.8 L194.0,149.3 L195.0,149.8 L196.0,150.1 L197.0,150.0 L198.0,150.3 L199.0,150.9 L200.0,151.1 L201.0,150.0 L202.0,149.8 L203.0,150.2 L204.0,150.6 L205.0,150.2 L206.0,151.0 L207.0,150.7 L208.0,151.1 L209.0,150.2 L210.0,150.2 L211.0,149.8 L212.0,150.8 L213.0,150.9 L214.0,151.7 L215.0,151.6 L216.0,151.1 L217.0,151.0 L218.0,151.0 L219.0,150.8 L220.0,150.5 L221.0,151.3 L222.0,151.2 L223.0,151.4 L224.0,151.9 L225.0,151.5 L226.0,151.6 L227.0,151.6 L228.0,151.6 L229.0,152.1 L230.0,151.6 L231.0,151.8 L232.0,151.5 L233.0,152.2 L234.0,152.1 L235.0,153.0 L236.0,152.8 L237.0,153.0 L238.0,152.9 L239.0,153.4 L240.0,153.5 L241.0,153.4 L242.0,152.6 L243.0,152.3 L244.0,153.1 L245.0,153.1 L246.0,153.9 L247.0,153.9 L248.0,154.2 L249.0,154.2 L250.0,154.6 L251.0,154.4 L252.0,154.8 L253.0,154.2 L254.0,153.7 L255.0,153.3 L256.0,153.3 L257.0,154.3 L258.0,154.5 L259.0,153.7 L260.0,153.3 L261.0,153.8 L262.0,154.2 L263.0,154.2 L264.0,153.7 L265.0,153.8 L266.0,154.9 L267.0,155.2 L268.0,155.5 L269.0,154.9 L270.0,155.3" fill="none" stroke="#99A800" stroke-width="0.9" stroke-linejoin="round"/>
<path d="M37.0,152.2 L38.2,147.7 L39.5,142.2 L40.2,137.7 L41.0,134.6 L42.0,135.9 L43.0,137.0 L44.0,135.8 L45.0,135.9 L46.0,137.7 L47.0,137.2 L48.0,138.2 L49.0,138.3 L50.0,139.1 L51.0,139.8 L52.0,139.7 L53.0,139.4 L54.0,139.1 L55.0,139.6 L56.0,139.8 L57.0,139.7 L58.0,139.7 L59.0,139.9 L60.0,139.6 L61.0,139.4 L62.0,139.8 L63.0,139.4 L64.0,139.9 L65.0,140.5 L66.0,140.9 L67.0,140.2 L68.0,140.1 L69.0,140.9 L70.0,140.4 L71.0,141.1 L72.0,140.3 L73.0,140.9 L74.0,140.0 L75.0,140.5 L76.0,141.0 L77.0,140.8 L78.0,140.9 L79.0,141.3 L80.0,141.6 L81.0,140.6 L82.0,140.6 L83.0,139.8 L84.0,140.0 L85.0,139.7 L86.0,139.6 L87.0,140.2 L88.0,139.7 L89.0,139.6 L90.0,139.3 L91.0,140.4 L92.0,140.0 L93.0,139.6 L94.0,140.1 L95.0,140.6 L96.0,140.6 L97.0,140.5 L98.0,140.5 L99.0,140.7 L100.0,140.2 L101.0,140.7 L102.0,140.7 L103.0,141.0 L104.0,141.1 L105.0,141.1 L106.0,140.6 L107.0,140.4 L108.0,140.5 L109.0,140.4 L110.0,139.5 L111.0,140.3 L112.0,139.7 L113.0,139.8 L114.0,139.8 L115.0,139.2 L116.0,139.7 L117.0,139.9 L118.0,140.4 L119.0,140.3 L120.0,139.8 L121.0,139.9 L122.0,140.5 L123.0,140.4 L124.0,140.6 L125.0,139.4 L126.0,139.9 L127.0,139.4 L128.0,139.0 L129.0,139.1 L130.0,138.9 L131.0,138.7 L132.0,138.7 L133.0,138.8 L134.0,138.8 L135.0,139.7 L136.0,139.0 L137.0,138.9 L138.0,138.6 L139.0,139.1 L140.0,138.9 L141.0,139.3 L141.9,139.0 L142.9,138.7 L143.9,139.0 L144.9,138.5 L145.8,139.5 L146.8,139.4 L147.8,139.1 L148.8,139.2 L149.8,139.8 L150.7,139.4 L151.7,139.0 L152.7,138.4 L153.6,138.3 L154.6,138.8 L155.6,138.7 L156.6,138.1 L157.6,138.6 L158.5,137.7 L159.5,137.5 L160.5,138.0 L161.4,138.3 L162.4,137.7 L163.4,136.7 L164.4,137.4 L165.3,137.7 L166.3,137.3 L167.3,137.8 L168.2,139.0 L169.2,138.4 L170.2,138.3 L171.1,138.3 L172.1,139.3 L173.1,139.1 L174.0,139.6 L175.0,139.9 L176.0,138.9 L176.9,139.0 L177.9,138.5 L178.9,139.3 L179.9,139.1 L180.8,138.8 L181.8,139.3 L182.8,139.5 L183.8,138.4 L184.8,137.8 L185.7,137.9 L186.7,137.8 L187.7,137.9 L188.6,137.8 L189.6,138.5 L190.6,138.4 L191.6,138.7 L192.6,138.2 L193.5,137.3 L194.5,137.3 L195.5,136.6 L196.4,136.9 L197.4,136.2 L198.4,137.1 L199.4,136.5 L200.3,137.0 L201.3,136.2 L202.3,135.8 L203.2,135.6 L204.2,136.3 L205.2,136.6 L206.1,136.6 L207.1,136.2 L208.1,135.4 L209.0,135.1 L210.0,134.5 L210.9,135.4 L211.9,134.6 L212.8,134.9 L213.8,133.9 L214.7,133.8 L215.7,134.0 L216.6,133.4 L217.7,132.8 L218.9,133.6 L220.0,132.9 L221.0,131.9 L222.0,132.3 L223.0,132.6 L224.0,132.0 L224.9,130.6 L225.9,130.4 L226.9,130.3 L227.9,129.5 L228.9,129.2 L229.9,129.5 L230.9,129.4 L232.0,129.5 L233.0,129.7 L234.0,129.0 L235.1,129.2 L236.1,128.0 L237.1,127.8 L238.1,127.9 L239.1,128.2 L240.2,127.5 L241.2,127.1 L242.2,127.3 L243.2,126.7 L244.3,125.6 L245.3,125.5 L246.3,125.0 L247.3,125.2 L248.4,125.4 L249.4,124.2 L250.4,123.8 L251.4,124.3 L252.5,124.3 L253.5,124.1 L254.5,123.2 L255.5,123.4 L256.5,123.2 L257.5,122.9 L258.4,122.1 L259.4,121.7 L260.4,120.5 L261.4,119.6 L262.4,118.9 L263.4,118.5 L264.3,118.7 L265.3,119.2 L266.2,118.7 L267.2,118.6 L268.1,118.2 L269.1,118.1 L270.0,116.9" fill="none" stroke="#30B840" stroke-width="0.9" stroke-linejoin="round"/>
<path d="M36.2,119.8 L37.4,113.7 L38.7,114.1 L39.5,113.4 L40.4,109.9 L41.4,111.9 L42.8,114.2 L44.1,114.8 L45.1,115.1 L46.1,116.4 L47.5,118.3 L48.5,119.5 L49.5,119.9 L50.5,120.0 L51.4,120.7 L52.4,121.2 L53.5,121.7 L54.6,122.8 L55.8,123.6 L56.9,123.0 L58.0,123.8 L59.1,123.6 L60.3,124.0 L61.4,124.0 L62.3,123.3 L63.3,122.5 L64.2,123.0 L65.1,123.3 L66.1,122.8 L67.0,121.7 L67.9,122.5 L68.9,122.9 L69.8,123.3 L70.7,123.8 L71.7,124.1 L72.6,124.0 L73.6,123.5 L74.5,123.5 L75.5,123.6 L76.4,124.1 L77.4,124.2 L78.3,124.6 L79.3,124.5 L80.3,125.0 L81.2,126.2 L82.2,126.9 L83.1,127.7 L84.1,128.1 L85.0,127.7 L86.0,128.3 L87.0,128.6 L88.0,128.9 L89.0,129.2 L90.0,129.5 L91.0,130.1 L92.0,130.9 L93.0,131.6 L94.0,132.1 L95.0,131.8 L96.0,130.9 L97.0,130.8 L98.0,130.6 L99.0,131.7 L100.0,131.4 L101.0,131.9 L102.0,131.8 L102.9,131.9 L103.9,132.4 L104.9,132.4 L105.9,131.6 L106.9,132.0 L107.9,131.9 L108.9,132.9 L109.9,132.3 L110.9,132.1 L111.8,133.0 L112.8,132.8 L113.8,132.3 L114.8,133.1 L115.8,133.8 L116.8,133.5 L117.8,133.1 L118.8,134.1 L119.7,133.9 L120.7,133.8 L121.7,133.6 L122.7,134.8 L123.7,134.6 L124.6,134.5 L125.6,134.9 L126.6,135.7 L127.6,136.6 L128.7,135.8 L129.7,136.1 L130.7,135.8 L131.8,136.6 L132.8,136.5 L133.8,136.8 L134.9,137.2 L135.9,137.0 L136.9,136.9 L138.0,136.1 L139.0,136.1 L140.0,136.8 L141.0,137.2 L141.9,137.1 L142.9,136.3 L143.9,136.9 L144.9,137.4 L145.8,137.6 L146.8,137.6 L147.8,137.4 L148.8,136.8 L149.7,136.6 L150.7,136.2 L151.7,136.6 L152.7,136.3 L153.6,136.8 L154.6,136.2 L155.6,135.8 L156.6,135.3 L157.6,135.3 L158.5,136.0 L159.5,136.4 L160.5,136.7 L161.4,135.4 L162.4,135.7 L163.4,135.7 L164.4,135.2 L165.5,135.7 L166.5,135.5 L167.5,134.7 L168.6,135.1 L169.6,134.5 L170.6,134.2 L171.7,134.0 L172.7,133.8 L173.7,133.0 L174.8,133.8 L175.8,133.3 L176.8,133.3 L177.8,132.8 L178.8,133.2 L179.9,132.5 L180.9,132.1 L181.9,132.3 L182.8,133.5 L183.8,133.8 L184.8,134.1 L185.8,133.3 L186.8,133.5 L187.7,134.1 L188.7,134.5 L189.7,134.3 L190.7,133.6 L191.6,133.8 L192.6,134.8 L193.6,135.2 L194.6,135.1 L195.5,134.6 L196.5,134.8 L197.5,134.8 L198.4,134.7 L199.4,135.2 L200.4,135.1 L201.4,134.4 L202.4,135.0 L203.3,135.2 L204.3,134.5 L205.3,134.9 L206.3,135.8 L207.2,135.9 L208.2,136.0 L209.2,135.9 L210.2,135.8 L211.2,136.7 L212.2,136.1 L213.1,136.2 L214.1,135.8 L215.1,136.3 L216.1,136.8 L217.1,137.2 L218.0,137.9 L219.0,137.2 L220.0,136.9 L221.0,137.0 L222.0,137.0 L223.0,137.9 L224.0,137.4 L225.0,137.6 L226.0,138.5 L227.0,138.1 L228.0,138.0 L229.0,138.0 L230.0,137.8 L231.0,137.8 L232.0,138.6 L233.0,137.8 L234.0,137.5 L235.0,138.6 L236.0,139.0 L237.0,138.8 L238.0,138.8 L239.0,138.9 L240.0,138.6 L241.0,138.8 L242.0,138.7 L243.0,139.1 L244.0,138.9 L245.0,139.3 L246.0,138.6 L247.0,139.8 L248.0,138.9 L249.0,139.2 L250.0,139.2 L251.0,138.9 L252.0,140.0 L253.0,139.8 L254.0,139.3 L255.0,139.3 L256.0,139.1 L257.0,139.6 L258.0,140.5 L259.0,140.9 L260.0,140.1 L261.0,140.4 L262.0,140.3 L263.0,140.6 L264.0,139.9 L265.0,139.3 L266.0,139.2 L267.0,140.3 L268.0,139.6 L269.0,139.3 L270.0,139.7" fill="none" stroke="#00BC56" stroke-width="0.9" stroke-linejoin="round"/>
<path d="M36.5,171.0 L37.8,166.3 L39.0,157.3 L40.1,155.0 L41.2,151.2 L42.2,149.2 L43.2,150.3 L44.3,150.8 L45.3,149.6 L46.3,150.8 L47.3,150.1 L48.3,150.0 L49.3,150.3 L50.4,150.6 L51.4,150.8 L52.4,150.2 L53.4,150.4 L54.4,150.0 L55.5,150.1 L56.5,150.7 L57.5,150.4 L58.5,150.7 L59.5,151.8 L60.5,151.4 L61.6,151.7 L62.6,151.3 L63.6,152.3 L64.6,151.9 L65.6,151.8 L66.7,152.7 L67.7,152.7 L68.7,152.9 L69.7,153.2 L70.7,153.2 L71.7,153.1 L72.8,152.7 L73.8,152.6 L74.8,152.6 L75.8,152.7 L76.8,152.9 L77.9,153.9 L78.9,153.4 L79.9,153.1 L80.9,153.1 L81.9,153.0 L82.9,154.0 L84.0,154.7 L85.0,154.8 L86.0,155.2 L87.0,154.8 L88.0,154.6 L89.0,154.4 L90.0,154.8 L91.0,154.4 L92.0,154.7 L93.0,154.7 L94.0,155.2 L95.0,155.8 L96.0,155.9 L97.0,155.2 L98.0,155.6 L99.0,156.0 L100.0,156.0 L101.0,155.4 L102.0,155.2 L103.0,155.8 L104.0,156.4 L105.0,156.5 L106.0,156.9 L107.0,156.9 L108.0,157.4 L109.0,156.8 L110.0,157.4 L111.0,157.7 L112.0,156.9 L113.0,156.8 L114.0,156.9 L115.0,157.7 L116.0,157.9 L117.0,157.3 L118.0,158.0 L119.0,157.7 L120.0,158.5 L121.0,158.1 L122.0,157.7 L123.0,157.8 L124.0,158.2 L125.0,158.4 L126.0,158.7 L127.0,158.2 L128.0,158.3 L129.0,158.1 L130.0,159.4 L131.0,159.4 L132.0,159.1 L133.0,158.9 L134.0,159.5 L135.0,158.9 L136.0,158.9 L137.0,159.8 L138.0,160.0 L139.0,160.5 L140.0,161.0 L141.0,160.4 L142.0,160.7 L143.0,161.0 L144.0,161.1 L145.0,160.8 L146.0,160.9 L147.0,159.9 L148.0,159.6 L149.0,160.1 L150.0,160.3 L151.0,160.7 L152.0,160.7 L153.0,160.3 L154.0,160.7 L154.9,160.8 L155.9,161.7 L156.9,161.6 L157.9,162.4 L158.9,162.7 L159.9,162.7 L160.9,163.1 L161.9,163.9 L162.8,163.6 L163.8,163.1 L164.8,164.2 L165.8,164.1 L166.8,165.0 L167.8,165.0 L168.8,165.0 L169.8,165.8 L170.7,165.2 L171.7,166.1 L172.7,165.9 L173.7,166.6 L174.7,167.4 L175.7,167.6 L176.7,167.1 L177.7,167.9 L178.6,167.7 L179.6,167.4 L180.6,167.4 L181.6,167.1 L182.6,167.9 L183.6,168.1 L184.5,168.5 L185.5,169.2 L186.5,169.1 L187.5,168.4 L188.5,169.1 L189.5,168.7 L190.4,169.4 L191.4,169.8 L192.4,169.9 L193.4,170.4 L194.4,169.9 L195.4,170.1 L196.3,170.1 L197.3,170.2 L198.3,170.3 L199.3,170.5 L200.3,171.7 L201.3,172.5 L202.3,172.5 L203.2,172.8 L204.2,171.9 L205.2,172.1 L206.2,172.8 L207.2,173.5 L208.2,172.7 L209.2,173.8 L210.1,174.4 L211.1,173.5 L212.1,173.6 L213.1,174.5 L214.1,174.2 L215.1,173.9 L216.0,174.4 L217.0,174.9 L218.0,175.4 L219.0,174.9 L220.0,175.2 L221.0,174.9 L222.1,175.9 L223.1,176.5 L224.1,176.9 L225.1,176.0 L226.1,175.6 L227.1,176.5 L228.2,176.5 L229.2,177.1 L230.2,177.2 L231.2,176.4 L232.2,176.2 L233.2,177.1 L234.3,176.9 L235.3,177.1 L236.3,177.6 L237.3,177.0 L238.3,176.8 L239.3,177.3 L240.3,176.9 L241.4,177.2 L242.4,177.5 L243.4,177.2 L244.4,177.1 L245.4,178.1 L246.4,178.5 L247.4,178.5 L248.4,178.4 L249.5,179.1 L250.5,178.8 L251.5,178.3 L252.5,178.6 L253.5,178.7 L254.5,179.0 L255.6,178.9 L256.6,179.2 L257.6,178.7 L258.7,179.5 L259.7,180.3 L260.7,180.5 L261.8,180.9 L262.8,181.3 L263.8,180.9 L264.8,180.7 L265.9,181.1 L266.9,180.6 L267.9,180.6 L269.0,181.1 L270.0,180.6" fill="none" stroke="#00C094" stroke-width="0.9" stroke-linejoin="round"/>
<path d="M36.5,170.8 L37.8,163.3 L39.0,156.7 L40.1,148.7 L41.2,140.2 L42.3,139.1 L43.5,138.2 L44.6,139.6 L45.7,140.6 L46.8,140.4 L47.9,141.3 L49.0,141.9 L50.1,142.7 L51.3,142.1 L52.4,142.0 L53.3,141.9 L54.3,142.5 L55.2,143.5 L56.1,143.8 L57.1,143.1 L58.0,143.2 L58.9,142.9 L59.9,142.9 L60.8,143.6 L61.7,143.5 L62.7,143.7 L63.6,143.8 L64.5,144.3 L65.5,145.3 L66.4,144.9 L67.3,145.4 L68.3,145.4 L69.2,145.3 L70.1,145.4 L71.1,146.2 L72.0,146.9 L72.9,147.1 L73.9,147.5 L74.8,147.6 L75.7,147.2 L76.7,147.0 L77.6,147.6 L78.5,148.1 L79.5,148.7 L80.4,149.4 L81.3,149.5 L82.3,149.9 L83.2,149.6 L84.1,149.6 L85.1,149.8 L86.0,149.5 L87.0,149.9 L88.0,150.2 L89.0,149.9 L90.0,149.6 L91.0,149.5 L92.0,149.9 L93.0,150.1 L94.0,150.1 L95.0,150.0 L96.0,150.6 L97.0,150.8 L98.0,151.4 L99.0,151.8 L100.0,150.6 L101.0,150.6 L102.0,151.2 L103.0,151.3 L104.0,151.5 L105.0,151.1 L106.0,151.2 L107.0,152.0 L108.0,152.1 L109.0,152.6 L110.0,152.9 L111.0,153.2 L112.0,153.3 L113.0,153.5 L114.0,153.6 L115.0,153.7 L116.0,153.1 L117.0,152.8 L118.0,152.8 L119.0,153.3 L120.0,154.0 L121.0,153.9 L122.0,153.5 L123.0,152.9 L124.0,152.7 L125.0,152.5 L126.0,152.6 L127.0,152.5 L128.0,153.1 L129.0,153.3 L130.0,154.5 L131.0,153.9 L132.0,153.5 L133.0,154.6 L134.0,155.3 L135.0,155.0 L136.0,155.0 L137.0,154.8 L138.0,154.8 L139.0,154.7 L140.0,154.4 L141.0,155.5 L142.0,155.9 L143.0,156.2 L144.0,155.2 L145.0,155.5 L146.0,154.7 L147.0,155.4 L148.0,154.7 L149.0,155.2 L150.0,154.8 L151.0,155.9 L152.0,156.3 L153.0,155.8 L154.0,156.4 L155.0,156.4 L156.0,155.6 L157.0,156.2 L158.0,156.6 L159.0,155.8 L160.0,156.1 L161.0,155.7 L162.0,155.1 L163.0,155.5 L164.0,155.2 L165.0,156.1 L166.0,156.4 L167.0,155.9 L168.0,155.9 L169.0,155.5 L170.0,155.7 L171.0,156.2 L172.0,156.8 L173.0,157.3 L174.0,157.1 L175.0,156.7 L176.0,157.2 L177.0,157.1 L178.0,157.4 L179.0,156.9 L180.0,157.5 L181.0,156.7 L182.0,156.7 L183.0,156.5 L184.0,156.6 L185.0,157.1 L186.0,157.8 L187.0,156.8 L188.0,157.2 L189.0,156.9 L190.0,157.7 L191.0,158.0 L192.0,158.5 L193.0,158.8 L194.0,158.4 L195.0,157.7 L196.0,158.1 L197.0,157.9 L198.0,157.6 L199.0,157.2 L200.0,158.2 L201.0,158.1 L202.0,157.6 L203.0,157.5 L204.0,157.4 L205.0,157.2 L206.0,158.2 L207.0,158.3 L208.0,158.1 L209.0,158.1 L210.0,158.0 L211.0,158.4 L212.0,158.7 L213.0,158.1 L214.0,158.4 L215.0,159.2 L216.0,159.5 L217.0,159.3 L218.0,159.1 L219.0,158.9 L220.0,158.5 L221.0,158.6 L222.0,158.4 L223.0,158.2 L224.0,158.3 L225.0,159.7 L226.0,160.3 L227.0,159.3 L228.0,159.3 L229.0,159.0 L230.0,159.2 L231.0,159.7 L232.0,159.5 L233.0,159.7 L234.0,159.4 L235.0,159.8 L236.0,159.5 L237.0,159.6 L238.0,159.8 L239.0,159.8 L240.0,160.1 L241.0,160.7 L242.0,160.6 L243.0,161.1 L244.0,160.4 L245.0,160.9 L246.0,161.4 L247.0,161.8 L248.0,161.7 L249.0,161.0 L250.0,161.3 L251.0,161.5 L252.0,161.2 L253.0,161.4 L254.0,160.8 L255.0,160.4 L256.0,160.5 L257.0,161.8 L258.0,161.1 L259.0,161.1 L260.0,162.0 L261.0,162.6 L262.0,162.3 L263.0,162.3 L264.0,162.9 L265.0,162.4 L266.0,161.9 L267.0,161.9 L268.0,162.6 L269.0,162.5 L270.0,162.8" fill="none" stroke="#00BFC4" stroke-width="0.9" stroke-linejoin="round"/>
<path d="M36.7,133.3 L37.6,133.9 L38.6,133.5 L39.5,130.5 L40.4,117.0 L41.6,116.5 L42.8,116.1 L43.7,116.4 L44.6,116.6 L45.5,118.2 L46.5,117.2 L47.5,116.6 L48.5,118.3 L49.5,119.4 L50.8,117.9 L52.0,117.4 L52.9,118.8 L53.8,118.8 L54.7,119.4 L55.8,120.2 L56.9,120.9 L58.0,120.7 L59.1,122.0 L60.2,122.7 L61.4,122.6 L62.5,122.6 L63.6,123.3 L64.5,123.7 L65.5,123.7 L66.4,122.6 L67.3,122.7 L68.3,122.3 L69.2,122.7 L70.1,123.2 L71.1,122.8 L72.0,123.3 L72.9,123.6 L73.9,122.7 L74.8,122.8 L75.7,123.7 L76.7,123.1 L77.6,123.2 L78.5,123.5 L79.5,123.3 L80.4,123.9 L81.3,123.2 L82.3,123.4 L83.2,123.4 L84.1,122.5 L85.1,123.2 L86.0,123.5 L87.0,123.6 L88.0,122.7 L89.0,122.6 L90.0,122.0 L91.0,122.7 L92.0,123.0 L93.0,123.6 L94.0,122.8 L95.0,122.7 L96.0,122.4 L97.0,123.6 L98.0,123.9 L99.0,123.3 L100.0,124.0 L101.0,124.0 L102.0,124.0 L103.0,124.4 L104.0,124.5 L105.1,124.2 L106.1,123.7 L107.1,123.5 L108.2,123.5 L109.2,123.1 L110.2,122.8 L111.2,123.3 L112.2,124.1 L113.3,123.9 L114.3,123.5 L115.3,122.8 L116.3,123.8 L117.4,123.4 L118.4,123.3 L119.4,123.8 L120.4,124.4 L121.5,123.5 L122.5,123.1 L123.5,123.1 L124.5,124.3 L125.6,124.2 L126.6,123.6 L127.6,124.2 L128.7,124.4 L129.7,123.9 L130.7,123.7 L131.8,124.1 L132.8,125.3 L133.8,125.2 L134.9,126.0 L135.9,125.6 L136.9,125.4 L138.0,125.0 L139.0,125.6 L140.0,125.3 L141.0,126.4 L142.0,126.5 L143.0,125.7 L144.0,126.3 L145.0,126.4 L146.0,126.8 L147.0,126.9 L148.0,126.3 L149.0,126.6 L150.0,127.1 L151.0,126.5 L152.0,127.5 L153.0,127.8 L154.0,127.2 L154.9,126.7 L155.9,127.1 L156.9,127.6 L157.9,128.0 L158.9,127.4 L159.9,127.9 L160.9,128.1 L161.9,127.7 L162.8,128.1 L163.8,128.5 L164.8,128.9 L165.8,128.2 L166.8,127.9 L167.8,128.7 L168.8,129.6 L169.8,129.4 L170.7,129.9 L171.7,129.4 L172.7,128.9 L173.7,129.4 L174.7,129.2 L175.7,130.0 L176.7,130.3 L177.7,129.4 L178.6,129.4 L179.6,130.2 L180.6,129.5 L181.6,129.5 L182.6,129.3 L183.6,130.2 L184.5,131.1 L185.5,131.2 L186.5,131.6 L187.5,130.8 L188.5,131.4 L189.5,132.0 L190.4,132.1 L191.4,131.3 L192.4,131.0 L193.4,131.9 L194.4,132.1 L195.4,131.7 L196.3,131.4 L197.3,131.0 L198.3,131.9 L199.3,132.1 L200.3,131.6 L201.3,131.4 L202.3,132.6 L203.3,133.2 L204.2,132.1 L205.2,131.9 L206.2,132.9 L207.2,132.8 L208.2,133.4 L209.2,133.2 L210.2,133.0 L211.2,133.8 L212.1,133.3 L213.1,134.0 L214.1,134.2 L215.1,133.4 L216.1,134.2 L217.1,134.7 L218.1,133.7 L219.1,133.9 L220.0,134.0 L221.0,133.7 L222.0,134.4 L223.0,135.0 L224.0,135.3 L225.0,135.4 L226.0,134.9 L227.0,135.1 L227.9,135.5 L228.9,135.0 L229.9,135.4 L230.9,135.2 L231.9,135.9 L232.9,135.4 L233.8,135.5 L234.8,135.5 L235.8,135.1 L236.8,135.4 L237.8,136.0 L238.8,136.2 L239.7,136.8 L240.7,136.9 L241.7,136.1 L242.7,136.2 L243.7,136.3 L244.7,135.7 L245.6,136.9 L246.6,137.0 L247.6,136.7 L248.6,137.0 L249.6,137.3 L250.6,137.7 L251.7,138.0 L252.7,137.8 L253.7,137.7 L254.7,137.7 L255.7,137.3 L256.8,136.8 L257.8,137.7 L258.8,138.2 L259.8,137.5 L260.8,137.6 L261.8,137.5 L262.9,137.3 L263.9,138.2 L264.9,138.2 L265.9,138.1 L266.9,138.8 L268.0,139.2 L269.0,138.7 L270.0,139.0" fill="none" stroke="#00B6EB" stroke-width="0.9" stroke-linejoin="round"/>
<path d="M36.8,167.0 L37.9,158.3 L39.0,149.8 L40.1,140.2 L41.2,132.7 L42.1,134.4 L43.1,134.2 L44.0,134.0 L44.9,134.6 L45.9,134.1 L46.8,133.6 L47.7,134.7 L48.7,134.1 L49.6,135.3 L50.5,136.0 L51.5,135.9 L52.4,135.9 L53.4,135.4 L54.3,135.4 L55.3,136.6 L56.2,137.2 L57.2,137.6 L58.1,137.1 L59.1,138.0 L60.2,138.9 L61.4,139.4 L62.5,139.4 L63.6,139.3 L64.5,139.1 L65.5,138.7 L66.4,138.3 L67.3,139.6 L68.3,139.4 L69.2,139.3 L70.1,139.6 L71.1,140.5 L72.0,141.0 L72.9,141.0 L73.9,141.2 L74.8,141.0 L75.7,141.1 L76.7,141.5 L77.6,141.5 L78.5,140.6 L79.5,140.9 L80.4,141.2 L81.3,141.4 L82.3,141.8 L83.2,141.7 L84.1,141.1 L85.1,140.8 L86.0,141.1 L87.0,141.1 L88.0,140.5 L89.0,140.1 L90.0,140.2 L91.0,140.2 L92.0,140.5 L93.0,141.0 L94.0,140.6 L95.0,140.7 L96.0,140.2 L97.0,140.9 L98.0,141.2 L99.0,141.2 L100.0,140.8 L101.0,140.3 L102.0,140.3 L103.0,140.4 L104.0,141.2 L105.0,141.4 L106.0,141.9 L107.0,142.3 L108.0,141.6 L109.0,141.1 L110.0,141.7 L111.0,141.6 L112.0,142.2 L113.0,142.0 L114.0,141.6 L115.0,142.5 L116.0,142.7 L117.0,142.9 L118.0,143.0 L119.0,143.4 L120.0,143.5 L121.0,142.4 L122.0,142.0 L123.0,141.7 L124.0,142.7 L125.0,142.8 L126.0,143.3 L127.0,142.6 L128.0,142.5 L129.0,143.5 L130.0,143.7 L131.0,143.1 L132.0,142.8 L133.0,143.7 L134.0,144.3 L135.0,143.5 L136.0,144.5 L137.0,143.7 L138.0,143.8 L139.0,144.2 L140.0,144.8 L141.0,145.3 L142.0,144.3 L143.0,144.3 L144.0,144.2 L145.0,144.1 L146.0,145.1 L147.0,144.8 L148.0,145.2 L149.0,145.9 L150.0,146.4 L151.0,146.4 L152.0,146.6 L153.0,146.7 L154.0,146.1 L155.0,145.9 L156.0,146.9 L157.0,146.4 L158.0,147.2 L159.0,146.3 L160.0,146.3 L161.0,146.9 L162.0,146.6 L163.0,147.6 L164.0,147.6 L165.0,148.0 L166.0,147.9 L167.0,148.2 L168.0,147.3 L169.0,147.3 L170.0,147.1 L171.0,147.2 L172.0,147.0 L173.0,146.9 L174.0,147.5 L175.0,148.4 L176.0,148.5 L177.0,148.6 L178.0,149.1 L179.0,148.9 L180.0,148.8 L181.0,148.8 L182.0,148.8 L183.0,148.2 L184.0,147.9 L185.0,148.9 L186.0,148.9 L187.0,149.4 L188.0,148.6 L189.0,148.9 L190.0,149.7 L191.0,148.8 L192.0,149.8 L193.0,149.4 L194.0,149.5 L195.0,149.8 L196.0,149.9 L197.0,149.6 L198.0,150.4 L199.0,149.9 L200.0,149.2 L201.0,149.1 L202.0,150.5 L203.0,150.2 L204.0,150.2 L205.0,150.7 L206.0,151.0 L207.0,150.9 L208.0,151.5 L209.0,151.7 L210.0,151.1 L211.0,151.8 L212.0,152.3 L213.0,152.6 L214.0,152.8 L215.0,152.0 L216.0,151.7 L217.0,152.9 L218.0,152.6 L219.0,153.6 L220.0,154.2 L221.0,154.4 L222.0,154.4 L223.0,153.4 L224.0,154.2 L225.0,154.0 L226.0,154.7 L227.0,155.3 L228.0,154.4 L229.0,154.5 L230.0,154.5 L231.0,154.4 L232.0,155.7 L233.0,156.0 L234.0,156.1 L235.0,156.5 L236.0,156.5 L237.0,155.8 L238.0,156.3 L239.0,156.9 L240.0,157.3 L241.0,157.7 L242.0,157.1 L243.0,157.4 L244.0,157.8 L245.0,157.6 L246.0,158.3 L247.0,157.8 L248.0,157.8 L249.0,157.8 L250.0,158.5 L251.0,158.9 L252.0,158.9 L253.0,159.0 L254.0,158.9 L255.0,159.1 L256.0,158.6 L257.0,158.1 L258.0,158.5 L259.0,159.5 L260.0,158.8 L261.0,159.2 L262.0,158.9 L263.0,158.6 L264.0,159.5 L265.0,160.0 L266.0,159.7 L267.0,160.1 L268.0,160.3 L269.0,160.4 L270.0,160.8" fill="none" stroke="#06A4FF" stroke-width="0.9" stroke-linejoin="round"/>
<path d="M37.0,152.0 L38.0,144.5 L39.0,139.5 L39.8,132.9 L40.5,127.9 L41.4,127.5 L42.2,128.2 L43.1,127.5 L44.0,128.2 L45.0,128.7 L46.0,128.6 L47.0,130.4 L48.0,131.8 L49.0,130.6 L50.0,130.9 L51.0,130.7 L52.0,130.4 L53.0,130.9 L54.0,131.3 L55.0,131.1 L56.0,131.2 L57.0,131.6 L58.0,132.7 L59.0,133.2 L60.0,133.3 L61.0,132.9 L62.0,133.5 L63.0,134.0 L64.0,134.2 L65.0,133.3 L66.0,133.3 L67.0,133.0 L68.0,133.4 L69.0,134.2 L70.0,134.2 L71.0,134.0 L72.0,133.7 L73.0,133.6 L74.0,134.7 L75.0,135.5 L76.0,135.8 L77.0,134.8 L78.0,134.7 L79.0,134.6 L80.0,135.1 L81.0,135.0 L82.0,135.4 L83.0,135.7 L84.0,136.2 L85.0,136.3 L86.0,136.4 L87.0,135.9 L88.0,137.0 L89.0,136.9 L90.0,137.6 L91.0,137.1 L92.0,136.6 L93.0,137.7 L94.0,137.6 L95.0,137.1 L96.0,138.1 L97.0,138.6 L98.0,137.7 L99.0,138.5 L100.0,137.8 L101.0,137.4 L102.0,137.3 L103.0,138.4 L104.0,138.6 L105.0,138.7 L106.0,139.0 L107.0,138.6 L108.0,138.1 L109.0,137.9 L110.0,138.1 L111.0,138.8 L112.0,138.4 L113.0,138.1 L114.0,138.3 L115.0,138.1 L116.0,138.2 L117.0,138.3 L118.0,138.4 L119.0,138.8 L120.0,139.9 L121.0,140.1 L122.0,139.3 L123.0,139.0 L124.0,139.3 L125.0,139.7 L126.0,139.9 L127.0,140.2 L128.0,140.6 L129.0,140.8 L130.0,140.3 L131.0,140.1 L132.0,141.1 L133.0,140.9 L134.0,141.5 L135.0,141.8 L136.0,141.8 L137.0,141.5 L138.0,141.6 L139.0,141.0 L140.0,140.6 L141.0,140.7 L142.0,140.4 L143.0,140.3 L144.0,140.2 L145.0,140.3 L146.0,140.1 L147.0,140.2 L148.0,141.2 L149.0,140.7 L150.0,141.4 L151.0,141.8 L152.0,141.2 L153.0,141.3 L154.0,141.6 L155.0,142.3 L156.0,142.1 L157.0,141.3 L158.0,140.8 L159.0,140.8 L160.0,140.7 L161.0,141.7 L162.0,142.2 L163.0,141.4 L164.0,142.0 L165.0,142.5 L166.0,141.8 L167.0,141.8 L168.0,141.4 L169.0,141.6 L170.0,142.1 L171.0,141.6 L172.0,141.8 L173.0,142.1 L174.0,142.6 L175.0,143.0 L176.0,143.1 L177.0,142.4 L178.0,142.0 L179.0,142.7 L180.0,142.9 L181.0,143.0 L182.0,142.7 L183.0,143.1 L184.0,142.1 L185.0,141.7 L186.0,142.4 L187.0,142.0 L188.0,142.3 L189.0,142.4 L190.0,142.6 L191.0,142.1 L192.0,142.9 L193.0,142.7 L194.0,141.8 L195.0,141.9 L196.0,142.2 L197.0,142.9 L198.0,142.8 L199.0,143.3 L200.0,142.7 L201.0,141.9 L202.0,142.2 L203.0,143.0 L204.0,142.9 L205.0,143.3 L206.0,143.5 L207.0,143.7 L208.0,143.2 L209.0,142.2 L210.0,142.6 L211.0,142.1 L212.0,142.2 L213.0,142.1 L214.0,142.2 L215.0,142.5 L216.0,142.9 L217.0,143.6 L218.0,143.8 L219.0,143.8 L220.0,142.9 L221.0,143.0 L222.0,142.8 L223.0,142.8 L224.0,142.3 L225.0,142.6 L226.0,143.5 L227.0,143.9 L228.0,144.0 L229.0,143.0 L230.0,143.6 L231.0,143.3 L232.0,143.0 L233.0,143.2 L234.0,143.0 L235.0,142.8 L236.0,143.7 L237.0,143.7 L238.0,143.5 L239.0,143.5 L240.0,142.9 L241.0,142.6 L242.0,142.4 L243.0,142.8 L244.0,143.8 L245.0,143.0 L246.0,143.1 L247.0,144.0 L248.0,143.4 L249.0,143.6 L250.0,144.3 L251.0,144.5 L252.0,144.0 L253.0,143.7 L254.0,143.5 L255.0,143.5 L256.0,144.5 L257.0,144.4 L258.0,144.2 L259.0,144.8 L260.0,144.3 L261.0,143.9 L262.0,144.1 L263.0,143.6 L264.0,144.6 L265.0,143.7 L266.0,143.9 L267.0,143.5 L268.0,143.5 L269.0,144.6 L270.0,144.0" fill="none" stroke="#A58AFF" stroke-width="0.9" stroke-linejoin="round"/>
<path d="M37.5,141.5 L38.5,135.6 L39.5,133.4 L40.8,123.6 L41.9,122.9 L43.0,123.0 L44.1,122.0 L45.1,121.9 L46.1,122.5 L47.2,123.5 L48.2,125.5 L49.2,124.2 L50.2,122.9 L51.1,122.5 L52.0,122.2 L52.9,123.7 L53.8,125.1 L54.7,125.4 L55.8,126.5 L56.9,126.7 L58.0,127.8 L59.1,127.9 L60.2,127.8 L61.4,127.4 L62.5,127.8 L63.6,127.6 L64.5,126.8 L65.5,126.4 L66.4,126.8 L67.3,126.7 L68.3,126.7 L69.2,127.8 L70.1,128.4 L71.1,127.4 L72.0,126.9 L72.9,127.7 L73.9,128.5 L74.8,129.0 L75.7,128.9 L76.7,129.0 L77.6,128.7 L78.5,128.6 L79.5,129.1 L80.4,128.3 L81.3,128.9 L82.3,129.4 L83.2,128.9 L84.1,129.6 L85.1,129.2 L86.0,130.3 L87.0,130.3 L88.0,129.8 L89.0,129.6 L90.0,130.0 L91.0,129.4 L92.0,128.9 L93.0,129.4 L94.0,130.0 L95.0,129.1 L96.0,129.7 L97.0,129.4 L98.0,129.7 L99.0,129.5 L100.0,130.2 L101.0,130.0 L102.0,130.4 L103.0,130.8 L104.0,129.7 L105.1,130.5 L106.1,130.6 L107.1,129.8 L108.2,130.1 L109.2,129.9 L110.2,129.5 L111.2,129.3 L112.2,129.8 L113.3,130.8 L114.3,130.2 L115.3,130.7 L116.3,131.4 L117.4,131.1 L118.4,131.5 L119.4,131.6 L120.4,131.9 L121.5,131.7 L122.5,132.4 L123.5,131.9 L124.5,131.5 L125.6,131.2 L126.6,131.3 L127.6,131.2 L128.7,132.4 L129.7,131.8 L130.7,132.7 L131.8,133.0 L132.8,132.8 L133.8,132.1 L134.9,132.1 L135.9,133.2 L136.9,133.0 L138.0,133.5 L139.0,132.9 L140.0,132.3 L141.0,132.6 L142.0,132.7 L143.0,132.5 L144.0,133.1 L145.0,133.2 L146.0,133.3 L147.0,133.0 L148.0,133.0 L149.0,132.7 L150.0,133.0 L151.0,133.0 L152.0,133.4 L153.0,134.1 L154.0,133.5 L154.9,133.6 L155.9,133.0 L156.9,133.8 L157.9,133.8 L158.9,133.9 L159.9,133.9 L160.9,133.3 L161.9,134.1 L162.8,133.3 L163.8,133.1 L164.8,133.5 L165.8,134.4 L166.8,134.5 L167.8,134.9 L168.8,134.3 L169.8,134.3 L170.7,134.4 L171.7,134.0 L172.7,133.6 L173.7,133.7 L174.7,133.5 L175.7,133.3 L176.7,133.6 L177.7,134.8 L178.6,135.2 L179.6,135.6 L180.6,135.6 L181.6,135.6 L182.6,136.2 L183.6,135.8 L184.5,135.6 L185.5,135.6 L186.5,135.3 L187.5,135.2 L188.5,135.5 L189.5,136.4 L190.4,136.2 L191.4,136.6 L192.4,136.6 L193.4,137.3 L194.4,137.0 L195.4,137.3 L196.3,137.9 L197.3,138.3 L198.3,138.8 L199.3,137.8 L200.3,137.9 L201.3,137.6 L202.3,138.6 L203.3,138.1 L204.2,138.7 L205.2,138.6 L206.2,139.0 L207.2,139.2 L208.2,139.5 L209.2,139.6 L210.2,139.0 L211.2,139.2 L212.1,139.6 L213.1,139.7 L214.1,139.2 L215.1,139.6 L216.1,139.7 L217.1,139.3 L218.1,139.1 L219.1,139.1 L220.0,139.8 L221.0,139.2 L222.0,139.9 L223.0,139.1 L224.0,138.9 L225.0,139.6 L226.0,139.9 L227.0,139.4 L227.9,139.2 L228.9,139.6 L229.9,140.0 L230.9,139.7 L231.9,139.7 L232.9,139.7 L233.8,140.3 L234.8,140.7 L235.8,140.6 L236.8,140.0 L237.8,139.9 L238.8,139.9 L239.7,140.3 L240.7,140.0 L241.7,140.3 L242.7,140.4 L243.7,140.5 L244.7,141.2 L245.6,140.7 L246.6,140.3 L247.6,139.7 L248.6,139.4 L249.6,140.4 L250.6,141.2 L251.7,141.2 L252.7,140.6 L253.7,140.1 L254.7,140.5 L255.7,140.1 L256.8,140.0 L257.8,140.8 L258.8,140.5 L259.8,140.9 L260.8,141.6 L261.8,141.5 L262.9,141.3 L263.9,141.4 L264.9,142.1 L265.9,141.4 L266.9,141.9 L268.0,141.4 L269.0,141.8 L270.0,141.1" fill="none" stroke="#DF70F8" stroke-width="0.9" stroke-linejoin="round"/>
<path d="M37.0,171.9 L38.0,165.7 L39.0,158.8 L40.1,155.2 L41.2,152.0 L42.3,151.6 L43.5,149.7 L44.6,148.9 L45.7,150.3 L46.8,151.4 L47.9,153.6 L49.0,154.9 L50.1,154.6 L51.3,154.4 L52.4,154.2 L53.4,154.8 L54.3,155.7 L55.3,155.0 L56.2,155.1 L57.2,155.2 L58.1,155.6 L59.1,155.4 L60.2,154.8 L61.4,155.3 L62.5,155.0 L63.6,155.2 L64.5,155.9 L65.5,155.8 L66.4,156.3 L67.3,156.5 L68.3,155.5 L69.2,155.3 L70.1,155.9 L71.1,155.9 L72.0,155.3 L72.9,156.2 L73.9,156.5 L74.8,156.3 L75.7,156.5 L76.7,156.0 L77.6,156.4 L78.5,156.1 L79.5,156.7 L80.4,157.5 L81.3,156.9 L82.3,156.7 L83.2,157.1 L84.1,157.8 L85.1,157.2 L86.0,157.2 L87.0,157.6 L88.0,157.3 L89.0,157.0 L90.0,157.9 L91.0,158.3 L92.0,158.6 L93.0,158.8 L94.0,158.3 L95.0,158.7 L96.0,159.0 L97.0,159.3 L98.0,159.1 L99.0,158.9 L100.0,159.6 L101.0,160.3 L102.0,160.7 L103.0,161.4 L104.0,161.0 L105.0,160.9 L106.0,160.9 L107.0,161.3 L108.0,161.8 L109.0,162.4 L110.0,161.7 L111.0,162.2 L112.0,162.8 L113.0,163.2 L114.0,163.0 L115.0,162.4 L116.0,162.7 L117.0,163.3 L118.0,164.0 L119.0,163.6 L120.0,163.7 L121.0,163.9 L122.0,163.6 L123.0,165.0 L124.0,164.8 L125.0,165.0 L126.0,166.0 L127.0,166.3 L128.0,165.8 L129.0,166.6 L130.0,167.0 L131.0,166.9 L132.0,166.8 L133.0,167.4 L134.0,168.0 L135.0,168.0 L136.0,167.5 L137.0,168.3 L138.0,168.4 L139.0,169.0 L140.0,169.2 L141.0,169.1 L142.0,169.4 L143.0,168.9 L144.0,168.9 L145.0,169.2 L146.0,168.9 L147.0,168.3 L148.0,169.1 L149.0,169.1 L150.0,169.0 L151.0,169.2 L152.0,169.0 L153.0,169.8 L154.0,169.5 L154.9,169.3 L155.9,169.9 L156.9,170.0 L157.9,169.9 L158.9,169.6 L159.9,170.0 L160.9,170.3 L161.9,170.7 L162.8,171.1 L163.8,170.8 L164.8,170.4 L165.8,170.3 L166.8,171.1 L167.8,172.1 L168.8,172.4 L169.8,172.9 L170.7,172.1 L171.7,171.8 L172.7,172.5 L173.7,172.5 L174.7,172.5 L175.7,173.2 L176.7,172.5 L177.7,173.4 L178.6,172.8 L179.6,173.2 L180.6,173.5 L181.6,173.6 L182.6,173.9 L183.6,173.5 L184.5,173.2 L185.5,173.8 L186.5,174.5 L187.5,173.6 L188.5,173.3 L189.5,174.5 L190.4,173.7 L191.4,173.5 L192.4,174.0 L193.4,174.1 L194.4,174.7 L195.4,174.7 L196.3,175.2 L197.3,174.5 L198.3,174.4 L199.3,174.3 L200.3,175.1 L201.3,175.7 L202.4,175.1 L203.4,174.5 L204.4,174.0 L205.4,173.8 L206.4,174.9 L207.4,175.4 L208.5,175.5 L209.5,174.4 L210.5,173.7 L211.5,174.7 L212.5,174.7 L213.5,175.0 L214.6,175.1 L215.6,175.0 L216.6,173.7 L217.6,174.4 L218.6,174.2 L219.6,174.8 L220.5,173.9 L221.5,173.7 L222.5,173.3 L223.5,174.0 L224.5,174.1 L225.5,174.5 L226.4,174.3 L227.4,174.5 L228.4,174.0 L229.4,173.3 L230.4,173.0 L231.4,172.8 L232.4,172.6 L233.3,173.6 L234.3,174.1 L235.3,174.7 L236.3,174.7 L237.3,173.9 L238.3,173.4 L239.3,173.5 L240.3,173.5 L241.3,173.2 L242.2,174.0 L243.2,174.3 L244.2,174.1 L245.2,174.2 L246.2,174.3 L247.2,174.3 L248.2,174.3 L249.2,174.4 L250.2,175.0 L251.2,174.3 L252.2,173.6 L253.2,173.3 L254.1,173.9 L255.1,174.0 L256.1,174.8 L257.1,174.6 L258.1,175.0 L259.1,175.1 L260.1,174.5 L261.1,174.0 L262.1,174.4 L263.1,174.2 L264.1,173.8 L265.0,173.4 L266.0,174.4 L267.0,175.1 L268.0,175.1 L269.0,174.2 L270.0,173.6" fill="none" stroke="#FB61D7" stroke-width="0.9" stroke-linejoin="round"/>
<path d="M37.0,149.8 L38.0,146.5 L39.0,141.1 L40.1,126.4 L41.2,130.5 L42.1,130.3 L43.1,132.2 L44.0,133.1 L44.9,132.5 L45.9,133.0 L46.8,133.2 L47.7,132.9 L48.7,133.2 L49.6,133.3 L50.5,133.6 L51.5,134.7 L52.4,134.9 L53.3,134.1 L54.3,134.3 L55.2,135.6 L56.1,136.0 L57.1,136.1 L58.0,136.4 L58.9,136.4 L59.9,135.6 L60.8,135.6 L61.7,135.4 L62.7,135.2 L63.6,135.8 L64.5,135.1 L65.5,134.9 L66.4,135.5 L67.3,136.1 L68.3,135.5 L69.2,135.9 L70.1,136.3 L71.1,135.6 L72.0,136.5 L72.9,135.9 L73.9,136.2 L74.8,135.8 L75.7,135.7 L76.7,136.6 L77.6,137.4 L78.5,136.8 L79.5,137.0 L80.4,137.5 L81.3,138.0 L82.3,137.7 L83.2,138.5 L84.1,138.2 L85.1,139.4 L86.0,139.7 L87.0,139.9 L88.0,140.4 L89.0,139.7 L90.0,139.4 L91.0,140.0 L92.0,140.7 L93.0,141.3 L94.0,141.5 L95.0,141.3 L96.0,141.0 L97.0,141.6 L98.0,141.7 L99.0,142.3 L100.0,142.4 L101.0,142.2 L102.0,142.4 L103.0,142.0 L104.0,141.9 L105.0,142.7 L106.0,143.2 L107.0,142.4 L108.0,142.4 L109.0,142.8 L110.0,143.4 L111.0,143.4 L112.0,143.5 L113.0,144.5 L114.0,144.3 L115.0,144.3 L116.0,145.2 L117.0,144.7 L118.0,144.9 L119.0,144.6 L120.0,145.5 L121.0,146.0 L122.0,145.5 L123.0,145.9 L124.0,145.6 L125.0,146.4 L126.0,146.4 L127.0,146.2 L128.0,147.1 L129.0,147.0 L130.0,147.1 L131.0,147.9 L132.0,147.3 L133.0,147.4 L134.0,148.2 L135.0,147.8 L136.0,148.5 L137.0,148.6 L138.0,149.2 L139.0,149.0 L140.0,149.5 L141.0,149.3 L142.0,149.0 L143.0,149.2 L144.0,149.7 L145.0,150.2 L146.0,150.4 L147.0,150.6 L148.0,150.6 L149.0,151.2 L150.0,151.9 L151.0,152.1 L152.0,151.3 L153.0,151.3 L154.0,152.0 L155.0,152.1 L156.0,151.9 L157.0,152.3 L158.0,151.7 L159.0,152.2 L160.0,153.1 L161.0,152.7 L162.0,152.3 L163.0,152.9 L164.0,153.2 L165.0,152.9 L166.0,152.7 L167.0,152.3 L168.0,152.3 L169.0,153.3 L170.0,153.4 L171.0,154.1 L172.0,154.6 L173.0,154.6 L174.0,154.1 L175.0,153.5 L176.0,154.5 L177.0,153.9 L178.0,153.5 L179.0,153.9 L180.0,153.8 L181.0,153.9 L182.0,153.8 L183.0,153.6 L184.0,153.5 L185.0,154.8 L186.0,154.3 L187.0,154.6 L188.0,155.0 L189.0,155.2 L190.0,155.8 L191.0,156.3 L192.0,156.0 L193.0,155.7 L194.0,155.8 L195.0,155.5 L196.0,155.2 L197.0,155.5 L198.0,155.7 L199.0,155.5 L200.0,155.7 L201.0,155.7 L202.0,155.3 L203.0,156.5 L204.0,156.4 L205.0,156.5 L206.0,155.8 L207.0,155.9 L208.0,155.5 L209.0,156.6 L210.0,156.9 L211.0,156.8 L212.0,157.1 L213.0,156.9 L214.0,156.9 L215.0,157.7 L216.0,156.8 L217.0,157.2 L218.0,157.0 L219.0,156.7 L220.0,156.5 L221.0,157.0 L222.0,156.6 L223.0,157.5 L224.0,157.4 L225.0,157.2 L226.0,157.3 L227.0,157.4 L228.0,157.5 L229.0,157.4 L230.0,157.6 L231.0,157.4 L232.0,158.2 L233.0,158.3 L234.0,158.1 L235.0,158.0 L236.0,158.0 L237.0,159.0 L238.0,159.0 L239.0,159.5 L240.0,159.7 L241.0,159.5 L242.0,159.2 L243.0,158.6 L244.0,158.7 L245.0,158.0 L246.0,158.1 L247.0,158.5 L248.0,158.4 L249.0,158.3 L250.0,158.5 L251.0,158.4 L252.0,158.4 L253.0,158.3 L254.0,158.0 L255.0,158.0 L256.0,157.1 L257.0,157.5 L258.0,157.1 L259.0,157.5 L260.0,156.7 L261.0,156.9 L262.0,156.6 L263.0,156.7 L264.0,157.2 L265.0,157.2 L266.0,157.3 L267.0,156.9 L268.0,157.1 L269.0,157.3 L270.0,157.1" fill="none" stroke="#FF66A8" stroke-width="0.9" stroke-linejoin="round"/>
<polygon points="382.7,131.8 384.0,128.6 384.8,130.5 385.5,128.5 386.5,131.5 387.5,130.9 388.5,129.7 389.4,129.8 390.2,128.8 391.1,127.5 392.0,126.9 392.9,126.8 393.8,125.8 394.7,126.1 395.6,126.1 396.5,127.0 397.4,127.0 398.3,127.7 399.2,129.2 400.1,131.0 401.2,131.7 402.3,132.6 403.3,132.5 404.4,132.9 405.5,133.3 406.5,134.0 407.4,135.0 408.4,134.9 409.3,135.6 410.3,134.9 411.2,134.9 412.2,135.6 413.2,135.9 414.1,136.0 415.1,135.0 416.0,135.1 417.0,134.5 417.9,135.0 418.9,134.9 419.9,135.4 420.8,136.0 421.8,136.7 422.7,136.5 423.7,137.3 424.6,136.9 425.6,137.7 426.6,136.7 427.7,137.1 428.7,137.5 429.8,137.1 430.8,136.6 431.8,137.0 432.9,137.1 433.9,137.0 435.0,136.3 436.0,136.2 436.9,135.4 437.9,135.7 438.8,135.5 439.8,135.9 440.7,135.1 441.6,135.4 442.6,134.9 443.5,135.0 444.5,135.9 445.6,136.0 446.6,135.8 447.6,135.2 448.7,134.4 449.7,133.9 450.7,134.3 451.7,135.1 452.8,135.1 453.8,134.2 454.8,134.9 455.9,134.0 456.9,133.2 457.9,133.5 458.8,133.6 459.8,132.9 460.8,133.9 461.7,133.4 462.7,133.2 463.6,132.6 464.6,132.2 465.6,133.3 466.5,133.9 467.5,133.6 468.5,132.6 469.4,132.1 470.4,131.9 471.4,131.7 472.5,132.8 473.5,132.9 474.5,132.3 475.6,132.4 476.6,132.8 477.6,133.1 478.6,133.3 479.7,132.8 480.7,133.6 481.7,133.0 482.8,133.3 483.8,133.8 484.8,133.3 485.8,132.9 486.9,134.2 487.9,134.5 488.9,133.9 489.9,134.3 490.9,133.8 491.9,134.6 493.0,133.9 494.0,133.7 495.0,133.8 496.0,134.5 497.0,135.1 498.0,134.5 499.0,135.1 500.0,134.8 501.0,134.7 502.0,135.0 503.0,134.5 504.0,134.9 505.0,134.6 506.0,134.2 507.0,134.7 508.0,134.8 508.9,134.1 509.9,135.1 510.9,135.4 511.9,135.0 512.9,135.4 513.9,135.5 514.9,134.5 515.9,134.0 516.9,134.4 517.9,134.5 518.9,135.0 519.9,134.4 520.9,134.1 521.9,134.3 522.9,135.4 523.8,134.5 524.8,135.5 525.8,135.5 526.7,135.1 527.7,134.6 528.6,134.9 529.6,135.0 530.6,134.6 531.5,134.9 532.5,135.9 533.5,136.4 534.4,136.3 535.4,135.9 536.4,136.4 537.5,135.4 538.5,136.0 539.5,136.3 540.6,135.6 541.6,135.6 542.6,135.8 543.6,136.4 544.7,136.5 545.7,136.0 546.7,136.7 547.8,136.5 548.8,136.9 549.8,136.5 550.8,136.3 551.8,136.2 552.8,135.9 553.9,136.7 554.9,137.0 555.9,136.7 556.9,136.9 557.9,137.2 558.9,137.8 559.9,136.8 561.0,136.3 562.0,137.3 563.0,137.9 564.0,137.9 565.0,137.6 566.0,138.1 567.0,138.3 568.1,137.2 569.1,137.5 570.1,137.9 571.1,137.3 572.1,137.8 573.2,138.2 574.2,137.8 575.2,137.5 576.2,137.6 577.2,137.9 578.2,137.9 579.3,138.4 580.3,137.9 581.3,137.4 582.3,136.9 583.3,137.5 584.4,137.5 585.4,137.6 586.4,138.3 587.4,138.3 588.4,138.1 589.4,137.7 590.4,136.9 591.4,136.8 592.4,136.5 593.4,136.4 594.3,137.1 595.3,136.8 596.3,136.9 597.3,136.6 598.3,136.2 599.3,136.5 600.3,136.3 601.3,135.7 602.3,135.5 603.3,135.6 604.3,136.0 605.3,134.9 606.3,134.3 607.3,134.8 608.3,134.4 609.2,134.0 610.2,134.8 611.2,134.7 612.2,134.0 613.2,134.7 614.2,134.3 615.2,133.3 616.2,132.9 616.2,139.9 615.2,140.4 614.2,141.2 613.2,141.6 612.2,140.9 611.2,141.6 610.2,141.7 609.2,140.8 608.3,141.2 607.3,141.5 606.3,141.0 605.3,141.6 604.3,142.7 603.3,142.3 602.3,142.1 601.3,142.3 600.3,142.9 599.3,143.1 598.3,142.7 597.3,143.1 596.3,143.4 595.3,143.2 594.3,143.5 593.4,142.8 592.4,142.8 591.4,143.1 590.4,143.2 589.4,143.9 588.4,144.3 587.4,144.4 586.4,144.4 585.4,143.7 584.4,143.6 583.3,143.5 582.3,142.9 581.3,143.4 580.3,143.8 579.3,144.3 578.2,143.8 577.2,143.8 576.2,143.4 575.2,143.3 574.2,143.6 573.2,144.0 572.1,143.6 571.1,143.1 570.1,143.7 569.1,143.3 568.1,143.0 567.0,144.1 566.0,143.9 565.0,143.4 564.0,143.7 563.0,143.7 562.0,143.1 561.0,142.2 559.9,142.7 558.9,143.6 557.9,143.1 556.9,142.8 555.9,142.6 554.9,142.9 553.9,142.6 552.8,141.8 551.8,142.1 550.8,142.2 549.8,142.4 548.8,142.9 547.8,142.5 546.7,142.6 545.7,142.0 544.7,142.5 543.6,142.4 542.6,141.8 541.6,141.7 540.6,141.6 539.5,142.3 538.5,142.0 537.5,141.5 536.4,142.4 535.4,141.9 534.4,142.4 533.5,142.5 532.5,142.0 531.5,141.0 530.6,140.7 529.6,141.2 528.6,141.0 527.7,140.8 526.7,141.3 525.8,141.6 524.8,141.7 523.8,140.7 522.9,141.6 521.9,140.5 520.9,140.3 519.9,140.7 518.9,141.2 517.9,140.8 516.9,140.7 515.9,140.3 514.9,140.8 513.9,141.8 512.9,141.7 511.9,141.4 510.9,141.7 509.9,141.5 508.9,140.5 508.0,141.2 507.0,141.1 506.0,140.6 505.0,141.1 504.0,141.4 503.0,141.0 502.0,141.5 501.0,141.2 500.0,141.3 499.0,141.6 498.0,141.1 497.0,141.7 496.0,141.1 495.0,140.5 494.0,140.4 493.0,140.6 491.9,141.3 490.9,140.5 489.9,141.1 488.9,140.6 487.9,141.2 486.9,141.0 485.8,139.7 484.8,140.1 483.8,140.7 482.8,140.1 481.7,139.9 480.7,140.6 479.7,139.8 478.6,140.3 477.6,140.1 476.6,139.8 475.6,139.5 474.5,139.4 473.5,140.0 472.5,139.9 471.4,138.9 470.4,139.1 469.4,139.4 468.5,139.8 467.5,140.9 466.5,141.2 465.6,140.7 464.6,139.6 463.6,140.0 462.7,140.7 461.7,140.9 460.8,141.4 459.8,140.5 458.8,141.1 457.9,141.2 456.9,140.9 455.9,141.7 454.8,142.6 453.8,142.0 452.8,142.9 451.7,143.0 450.7,142.3 449.7,141.9 448.7,142.5 447.6,143.3 446.6,143.9 445.6,144.2 444.5,144.2 443.5,143.3 442.6,143.3 441.6,143.7 440.7,143.6 439.8,144.4 438.8,144.1 437.9,144.3 436.9,144.0 436.0,144.9 435.0,145.1 433.9,145.9 432.9,146.1 431.8,146.0 430.8,145.7 429.8,146.3 428.7,146.7 427.7,146.4 426.6,146.1 425.6,147.2 424.6,146.5 423.7,147.1 422.7,146.3 421.8,146.7 420.8,146.0 419.9,145.5 418.9,145.1 417.9,145.3 417.0,145.0 416.0,145.7 415.1,145.8 414.1,146.9 413.2,146.9 412.2,146.7 411.2,146.2 410.3,146.4 409.3,147.2 408.4,146.7 407.4,147.0 406.5,146.2 405.5,145.7 404.4,145.5 403.3,145.4 402.3,145.7 401.2,145.0 400.1,144.7 399.2,143.2 398.3,141.9 397.4,141.5 396.5,141.9 395.6,141.4 394.7,141.8 393.8,142.0 392.9,143.6 392.0,144.4 391.1,145.7 390.2,148.0 389.4,150.2 388.5,151.7 387.5,155.2 386.5,159.0 385.5,160.4 384.8,166.8 384.0,170.5 382.7,187.9" fill="#F8766D" fill-opacity="0.1"/>
<polygon points="383.0,111.8 384.2,103.0 385.1,101.1 386.0,100.0 387.2,105.2 388.5,108.4 389.8,107.7 391.0,107.5 392.0,107.2 393.0,107.8 394.0,107.6 395.0,106.6 396.0,106.9 397.0,106.8 398.0,106.9 398.9,106.3 399.9,106.8 400.8,106.1 401.8,105.9 402.7,105.7 403.6,105.6 404.6,105.3 405.5,106.0 406.5,106.4 407.4,105.6 408.4,106.1 409.3,105.7 410.3,106.3 411.2,106.3 412.2,106.6 413.2,106.9 414.1,107.0 415.1,106.9 416.0,106.1 417.0,105.4 417.9,105.7 418.9,105.7 419.9,106.5 420.8,106.9 421.8,106.2 422.7,106.2 423.7,106.8 424.6,106.7 425.6,107.5 426.6,106.5 427.7,106.7 428.7,107.4 429.8,108.0 430.8,107.7 431.8,107.2 432.9,107.5 433.9,107.2 435.0,107.7 436.0,107.5 437.0,107.2 438.0,107.8 439.0,108.4 440.0,108.3 441.0,108.5 442.0,108.7 443.0,108.7 444.0,108.1 445.0,108.3 446.0,109.3 447.0,109.3 448.0,109.8 449.0,110.3 450.0,109.3 451.0,109.9 452.0,109.9 453.0,109.2 454.0,109.2 455.0,109.7 456.0,110.0 457.0,110.8 458.0,110.5 459.0,111.0 460.0,110.8 461.0,111.5 462.0,112.0 463.0,111.1 464.0,111.7 465.0,111.0 466.0,111.0 467.0,111.9 468.0,111.7 469.0,111.1 470.0,110.8 471.0,112.2 472.0,112.8 473.0,113.4 474.0,112.8 475.0,112.5 476.0,113.1 477.0,112.4 478.0,113.0 479.0,112.8 480.0,112.7 481.0,113.7 482.0,113.4 483.0,114.5 484.0,114.7 485.0,114.7 486.0,114.9 487.0,114.4 488.0,115.4 489.0,114.5 490.0,115.5 491.0,115.5 492.0,115.7 493.0,115.8 494.0,115.7 495.0,115.4 496.0,115.5 496.9,116.0 497.9,115.8 498.9,116.4 499.8,116.6 500.8,115.8 501.8,115.4 502.7,116.4 503.7,116.5 504.6,116.0 505.6,116.3 506.6,116.6 507.5,116.9 508.5,116.8 509.5,117.5 510.6,116.4 511.6,117.3 512.6,117.5 513.7,117.1 514.7,116.5 515.7,116.3 516.7,117.1 517.8,117.4 518.8,117.5 519.8,116.8 520.9,116.6 521.9,117.0 522.9,116.8 523.8,117.0 524.8,116.7 525.8,116.9 526.7,117.6 527.7,118.3 528.6,117.6 529.6,117.7 530.6,117.8 531.5,117.8 532.5,118.1 533.5,117.7 534.4,117.8 535.4,118.0 536.4,119.1 537.5,118.9 538.5,119.5 539.5,120.0 540.6,120.2 541.6,120.0 542.6,119.8 543.6,120.1 544.7,120.1 545.7,120.0 546.7,120.2 547.8,119.9 548.8,120.7 549.8,120.8 550.7,120.5 551.7,120.9 552.7,120.8 553.7,121.5 554.6,122.0 555.6,123.0 556.6,122.2 557.7,122.5 558.7,123.0 559.8,122.5 560.8,122.6 561.9,122.9 562.9,122.4 564.0,122.6 565.0,123.5 566.0,123.9 566.9,124.1 567.9,122.8 568.9,123.1 569.8,123.4 570.8,122.9 571.8,122.5 572.7,122.9 573.7,122.7 574.6,123.3 575.6,122.8 576.6,123.3 577.5,123.3 578.5,122.8 579.5,123.1 580.5,123.5 581.4,123.5 582.4,122.8 583.4,122.3 584.4,122.7 585.4,123.2 586.4,123.3 587.3,122.7 588.3,123.1 589.3,123.4 590.3,123.1 591.3,123.4 592.2,123.6 593.2,124.1 594.2,122.9 595.2,123.9 596.1,124.2 597.1,123.5 598.1,123.3 599.0,123.6 600.0,124.2 601.0,124.5 602.0,124.5 602.9,125.2 603.9,125.2 604.9,125.4 605.8,125.7 606.8,126.2 607.8,125.1 608.9,124.3 609.9,124.4 611.0,124.9 612.0,125.2 613.1,124.7 614.1,123.8 615.2,123.9 616.2,124.2 616.2,131.3 615.2,130.9 614.1,130.7 613.1,131.6 612.0,132.1 611.0,131.8 609.9,131.3 608.9,131.2 607.8,131.9 606.8,132.9 605.8,132.4 604.9,132.1 603.9,131.9 602.9,131.9 602.0,131.1 601.0,131.1 600.0,130.7 599.0,130.1 598.1,129.8 597.1,129.9 596.1,130.6 595.2,130.3 594.2,129.3 593.2,130.4 592.2,129.9 591.3,129.7 590.3,129.3 589.3,129.6 588.3,129.3 587.3,128.9 586.4,129.4 585.4,129.3 584.4,128.8 583.4,128.3 582.4,128.8 581.4,129.5 580.5,129.5 579.5,129.0 578.5,128.7 577.5,129.1 576.6,129.1 575.6,128.6 574.6,129.1 573.7,128.4 572.7,128.7 571.8,128.3 570.8,128.7 569.8,129.2 568.9,128.9 567.9,128.6 566.9,129.9 566.0,129.7 565.0,129.3 564.0,128.5 562.9,128.2 561.9,128.7 560.8,128.5 559.8,128.4 558.7,128.9 557.7,128.4 556.6,128.1 555.6,128.9 554.6,127.9 553.7,127.4 552.7,126.7 551.7,126.8 550.7,126.5 549.8,126.8 548.8,126.6 547.8,125.9 546.7,126.2 545.7,126.0 544.7,126.0 543.6,126.1 542.6,125.8 541.6,126.0 540.6,126.2 539.5,126.0 538.5,125.5 537.5,125.0 536.4,125.2 535.4,124.1 534.4,123.9 533.5,123.8 532.5,124.2 531.5,123.9 530.6,123.9 529.6,123.8 528.6,123.7 527.7,124.5 526.7,123.7 525.8,123.1 524.8,122.9 523.8,123.2 522.9,123.0 521.9,123.2 520.9,122.8 519.8,123.1 518.8,123.7 517.8,123.7 516.7,123.4 515.7,122.6 514.7,122.8 513.7,123.4 512.6,123.8 511.6,123.6 510.6,122.8 509.5,123.8 508.5,123.2 507.5,123.4 506.6,123.0 505.6,122.8 504.6,122.4 503.7,123.0 502.7,122.9 501.8,121.9 500.8,122.3 499.8,123.2 498.9,123.0 497.9,122.3 496.9,122.6 496.0,122.1 495.0,122.0 494.0,122.3 493.0,122.4 492.0,122.4 491.0,122.2 490.0,122.2 489.0,121.3 488.0,122.1 487.0,121.2 486.0,121.7 485.0,121.5 484.0,121.5 483.0,121.4 482.0,120.3 481.0,120.6 480.0,119.7 479.0,119.7 478.0,120.0 477.0,119.5 476.0,120.1 475.0,119.6 474.0,119.9 473.0,120.5 472.0,120.0 471.0,119.4 470.0,118.0 469.0,118.4 468.0,119.0 467.0,119.2 466.0,118.4 465.0,118.4 464.0,119.1 463.0,118.5 462.0,119.5 461.0,119.1 460.0,118.4 459.0,118.6 458.0,118.1 457.0,118.5 456.0,117.7 455.0,117.5 454.0,117.0 453.0,117.0 452.0,117.7 451.0,117.8 450.0,117.3 449.0,118.3 448.0,117.8 447.0,117.4 446.0,117.4 445.0,116.5 444.0,116.3 443.0,117.0 442.0,117.0 441.0,117.0 440.0,116.8 439.0,116.9 438.0,116.4 437.0,115.9 436.0,116.2 435.0,116.5 433.9,116.1 432.9,116.4 431.8,116.2 430.8,116.8 429.8,117.2 428.7,116.7 427.7,116.0 426.6,116.0 425.6,117.1 424.6,116.3 423.7,116.5 422.7,116.1 421.8,116.1 420.8,117.0 419.9,116.6 418.9,116.0 417.9,116.1 417.0,115.9 416.0,116.7 415.1,117.6 414.1,117.9 413.2,117.9 412.2,117.7 411.2,117.6 410.3,117.8 409.3,117.3 408.4,117.9 407.4,117.6 406.5,118.5 405.5,118.3 404.6,117.9 403.6,118.3 402.7,118.7 401.8,119.2 400.8,119.6 399.9,120.5 398.9,120.3 398.0,121.2 397.0,121.5 396.0,122.0 395.0,122.2 394.0,123.7 393.0,124.5 392.0,124.6 391.0,125.8 389.8,127.5 388.5,130.4 387.2,130.2 386.0,129.5 385.1,135.1 384.2,143.4 383.0,164.1" fill="#E38900" fill-opacity="0.1"/>
<polygon points="383.0,120.1 384.3,109.5 385.1,107.9 386.0,105.3 387.0,109.7 388.0,113.9 389.0,112.7 390.0,112.7 391.0,110.3 392.0,110.8 393.0,110.3 394.0,110.6 395.0,111.0 396.0,111.6 397.0,111.3 398.0,111.6 399.0,111.1 400.0,110.6 401.0,111.0 402.0,111.6 403.0,112.0 404.0,111.1 405.0,111.1 406.0,111.2 407.0,111.6 408.0,112.4 409.0,112.0 410.0,111.5 411.0,112.5 412.0,113.0 413.0,113.2 414.0,112.1 415.0,112.0 416.0,111.8 417.0,112.8 418.0,112.2 419.0,111.9 420.0,111.9 421.0,112.8 422.0,112.3 423.0,113.3 424.0,112.8 425.0,113.0 426.0,112.5 427.0,112.4 428.0,113.2 429.0,113.8 430.0,113.0 431.0,112.8 432.0,112.3 433.0,112.3 434.0,112.7 435.0,113.1 436.0,113.4 437.0,113.3 438.0,113.0 439.0,113.5 440.0,113.4 441.0,113.4 442.0,114.4 443.0,114.4 444.0,113.5 445.0,114.6 446.0,115.1 447.0,114.6 448.0,115.2 449.0,114.3 450.0,115.1 451.0,114.4 452.0,115.2 453.0,115.3 454.0,115.8 455.0,115.2 456.0,115.4 457.0,116.0 458.0,115.1 459.0,114.8 460.0,115.3 461.0,114.9 462.0,114.7 463.0,114.5 464.0,115.0 465.0,115.7 466.0,115.9 467.0,116.2 468.0,115.5 469.0,115.4 470.0,116.0 471.0,115.8 472.0,115.5 473.0,115.4 474.0,116.3 475.0,117.3 476.0,117.1 477.0,116.3 478.0,116.2 479.0,116.9 480.0,117.5 481.0,116.9 482.0,117.1 483.0,116.6 484.0,117.1 485.0,117.7 486.0,117.7 487.0,118.1 488.0,117.5 489.0,117.9 490.0,117.9 491.0,118.1 492.0,117.4 493.0,117.7 494.0,118.1 495.0,117.8 496.0,118.1 497.0,117.5 498.0,117.9 499.0,118.9 500.0,119.0 501.0,118.8 502.0,119.3 503.0,119.4 504.0,119.1 505.0,118.8 506.0,119.5 507.0,119.4 508.0,119.2 509.0,119.0 510.0,118.6 511.0,118.5 512.0,119.1 513.0,119.4 514.0,119.9 515.0,119.7 516.0,119.5 517.0,119.7 518.0,119.4 519.0,120.3 520.0,120.3 521.0,119.9 522.0,119.9 523.0,120.5 524.0,121.0 525.0,120.9 526.0,121.2 527.0,121.2 527.9,120.6 528.9,120.4 529.9,120.4 530.9,119.8 531.9,120.4 532.9,120.6 533.9,121.1 534.9,120.7 535.9,121.5 536.9,121.6 537.9,121.4 538.9,120.8 539.9,121.6 540.9,121.6 541.8,121.6 542.8,121.0 543.8,120.7 544.8,120.6 545.8,121.6 546.8,121.5 547.8,121.8 548.8,122.0 549.8,122.5 550.9,122.2 551.9,122.1 552.9,123.3 554.0,122.8 555.0,124.1 556.0,123.6 557.0,122.9 558.0,123.0 559.1,123.8 560.1,123.6 561.1,123.2 562.1,122.9 563.1,122.8 564.1,123.5 565.1,123.6 566.1,124.1 567.2,123.6 568.2,123.6 569.2,124.0 570.2,123.9 571.2,124.4 572.2,124.1 573.2,124.7 574.2,124.8 575.3,124.6 576.3,124.9 577.3,124.5 578.3,125.2 579.3,125.3 580.3,124.7 581.3,125.3 582.3,125.2 583.4,125.6 584.4,125.6 585.4,125.9 586.4,125.5 587.4,125.0 588.4,125.4 589.4,125.9 590.4,125.6 591.4,125.8 592.4,125.7 593.4,125.3 594.3,125.0 595.3,125.4 596.3,125.0 597.3,125.3 598.3,125.9 599.3,125.7 600.3,125.7 601.3,126.5 602.3,126.4 603.3,126.3 604.3,125.7 605.3,126.3 606.3,126.1 607.3,126.5 608.3,127.1 609.2,127.3 610.2,126.4 611.2,127.1 612.2,127.1 613.2,126.4 614.2,125.9 615.2,125.9 616.2,126.5 616.2,133.6 615.2,133.0 614.2,132.9 613.2,133.3 612.2,134.0 611.2,134.0 610.2,133.3 609.2,134.1 608.3,133.9 607.3,133.3 606.3,132.8 605.3,133.0 604.3,132.4 603.3,132.9 602.3,133.0 601.3,133.1 600.3,132.2 599.3,132.2 598.3,132.4 597.3,131.7 596.3,131.5 595.3,131.8 594.3,131.3 593.4,131.7 592.4,132.1 591.4,132.1 590.4,131.9 589.4,132.2 588.4,131.6 587.4,131.2 586.4,131.6 585.4,132.0 584.4,131.6 583.4,131.6 582.3,131.3 581.3,131.3 580.3,130.7 579.3,131.3 578.3,131.1 577.3,130.4 576.3,130.7 575.3,130.4 574.2,130.6 573.2,130.4 572.2,129.9 571.2,130.2 570.2,129.7 569.2,129.8 568.2,129.4 567.2,129.4 566.1,129.9 565.1,129.4 564.1,129.3 563.1,128.6 562.1,128.8 561.1,129.0 560.1,129.5 559.1,129.6 558.0,128.9 557.0,128.8 556.0,129.5 555.0,129.9 554.0,128.7 552.9,129.2 551.9,128.0 550.9,128.1 549.8,128.5 548.8,127.9 547.8,127.7 546.8,127.4 545.8,127.6 544.8,126.5 543.8,126.7 542.8,127.0 541.8,127.6 540.9,127.7 539.9,127.6 538.9,126.8 537.9,127.4 536.9,127.6 535.9,127.6 534.9,126.8 533.9,127.2 532.9,126.7 531.9,126.5 530.9,125.9 529.9,126.5 528.9,126.5 527.9,126.8 527.0,127.4 526.0,127.3 525.0,127.1 524.0,127.2 523.0,126.7 522.0,126.2 521.0,126.1 520.0,126.6 519.0,126.6 518.0,125.7 517.0,126.0 516.0,125.8 515.0,126.0 514.0,126.2 513.0,125.7 512.0,125.5 511.0,124.9 510.0,125.0 509.0,125.4 508.0,125.7 507.0,125.8 506.0,125.9 505.0,125.3 504.0,125.6 503.0,125.8 502.0,125.8 501.0,125.3 500.0,125.5 499.0,125.4 498.0,124.5 497.0,124.1 496.0,124.7 495.0,124.4 494.0,124.8 493.0,124.4 492.0,124.1 491.0,124.8 490.0,124.6 489.0,124.7 488.0,124.3 487.0,124.9 486.0,124.5 485.0,124.5 484.0,123.9 483.0,123.4 482.0,124.0 481.0,123.9 480.0,124.5 479.0,123.9 478.0,123.2 477.0,123.3 476.0,124.1 475.0,124.3 474.0,123.4 473.0,122.6 472.0,122.6 471.0,123.0 470.0,123.2 469.0,122.6 468.0,122.8 467.0,123.5 466.0,123.2 465.0,123.1 464.0,122.4 463.0,122.0 462.0,122.2 461.0,122.4 460.0,122.8 459.0,122.4 458.0,122.8 457.0,123.7 456.0,123.1 455.0,122.9 454.0,123.6 453.0,123.1 452.0,123.0 451.0,122.3 450.0,123.0 449.0,122.3 448.0,123.3 447.0,122.7 446.0,123.3 445.0,122.8 444.0,121.8 443.0,122.7 442.0,122.8 441.0,121.9 440.0,121.9 439.0,122.0 438.0,121.6 437.0,121.9 436.0,122.1 435.0,121.9 434.0,121.5 433.0,121.3 432.0,121.3 431.0,121.9 430.0,122.1 429.0,123.0 428.0,122.5 427.0,121.8 426.0,122.0 425.0,122.6 424.0,122.5 423.0,123.1 422.0,122.2 421.0,122.8 420.0,122.0 419.0,122.1 418.0,122.5 417.0,123.3 416.0,122.4 415.0,122.7 414.0,123.0 413.0,124.2 412.0,124.2 411.0,123.9 410.0,123.0 409.0,123.7 408.0,124.3 407.0,123.6 406.0,123.4 405.0,123.6 404.0,123.8 403.0,124.9 402.0,124.8 401.0,124.4 400.0,124.3 399.0,125.1 398.0,126.0 397.0,126.0 396.0,126.7 395.0,126.6 394.0,126.7 393.0,127.0 392.0,128.2 391.0,128.7 390.0,132.2 389.0,133.7 388.0,136.9 387.0,135.5 386.0,134.8 385.1,141.7 384.3,149.0 383.0,172.4" fill="#C49A00" fill-opacity="0.1"/>
<polygon points="383.0,121.9 384.3,113.8 385.1,113.3 386.0,110.6 387.0,114.3 388.0,116.4 389.0,118.6 390.0,117.8 391.0,117.1 392.0,116.3 393.0,115.6 394.0,114.8 395.0,115.9 396.0,115.0 396.9,115.5 397.9,116.6 398.9,116.1 399.8,115.8 400.8,115.9 401.7,115.7 402.6,116.6 403.6,116.3 404.6,115.9 405.5,116.6 406.5,116.7 407.6,116.9 408.6,116.9 409.6,118.4 410.7,118.6 411.7,119.3 412.7,119.6 413.7,120.6 414.8,120.0 415.8,120.8 416.8,121.6 417.9,121.4 418.9,121.7 419.9,121.7 420.9,121.7 421.9,122.8 422.9,122.3 423.9,122.8 424.9,122.1 425.9,123.0 426.9,122.4 428.0,123.2 429.0,122.6 430.0,122.6 431.0,122.7 432.0,122.9 433.0,123.8 434.0,123.8 435.0,123.3 436.0,123.2 437.0,123.4 438.0,123.9 439.0,124.0 440.0,123.7 441.0,124.1 442.0,124.4 443.0,124.5 444.0,124.5 445.0,124.4 446.0,124.4 446.9,123.9 447.9,123.6 448.9,123.2 449.9,122.7 450.9,123.1 451.9,122.5 452.9,123.0 453.9,122.4 454.9,121.5 455.9,122.2 456.9,122.0 457.9,121.2 458.8,122.1 459.8,122.6 460.8,122.9 461.7,122.5 462.7,121.9 463.6,121.7 464.6,122.1 465.6,122.5 466.5,122.6 467.5,122.2 468.5,121.9 469.4,123.0 470.4,123.6 471.4,124.0 472.5,123.6 473.5,122.9 474.5,122.8 475.6,123.4 476.6,124.2 477.6,124.4 478.6,123.8 479.7,124.7 480.7,124.9 481.7,124.7 482.8,125.3 483.8,125.1 484.8,125.1 485.8,124.3 486.9,123.9 487.9,125.0 488.9,124.8 489.9,125.2 490.9,124.8 491.9,124.6 493.0,124.1 494.0,125.0 495.0,124.4 496.0,125.0 496.9,124.4 497.9,124.4 498.9,124.0 499.8,124.8 500.8,125.6 501.8,125.5 502.7,125.5 503.7,125.0 504.6,125.8 505.6,125.0 506.6,124.8 507.5,125.2 508.5,125.5 509.5,125.2 510.6,125.5 511.6,125.0 512.6,124.7 513.7,125.1 514.7,125.6 515.7,126.3 516.7,126.1 517.8,126.7 518.8,126.8 519.8,127.2 520.9,127.0 521.9,126.5 522.9,126.7 523.8,126.9 524.8,126.4 525.8,126.1 526.7,126.2 527.7,126.6 528.6,126.2 529.6,126.4 530.6,126.3 531.5,127.5 532.5,127.4 533.5,127.6 534.4,127.1 535.4,127.4 536.4,128.3 537.5,128.6 538.5,129.0 539.5,128.1 540.6,128.7 541.6,129.0 542.6,128.6 543.6,128.4 544.7,129.2 545.7,128.7 546.7,128.5 547.8,129.0 548.8,129.0 549.8,129.0 550.8,128.9 551.8,129.3 552.8,129.5 553.9,129.3 554.9,129.9 555.9,129.2 556.9,128.8 557.9,128.8 558.9,128.3 559.9,128.8 561.0,129.0 562.0,128.8 563.0,128.9 564.0,129.1 565.0,129.3 566.0,129.4 567.0,129.1 568.1,129.0 569.1,129.6 570.1,128.8 571.1,129.6 572.1,128.8 573.2,128.5 574.2,128.7 575.2,129.7 576.2,129.0 577.2,128.3 578.2,129.1 579.3,129.1 580.3,128.5 581.3,129.3 582.3,129.2 583.3,129.3 584.4,128.5 585.4,128.8 586.4,128.1 587.4,128.1 588.4,128.6 589.4,129.5 590.4,129.8 591.4,128.9 592.4,129.5 593.4,129.8 594.3,128.8 595.3,128.2 596.3,128.1 597.3,129.3 598.3,128.8 599.3,128.9 600.3,129.2 601.3,129.0 602.3,128.8 603.3,129.0 604.3,129.5 605.3,128.9 606.3,128.3 607.3,128.6 608.3,129.5 609.2,129.9 610.2,128.8 611.2,129.3 612.2,129.8 613.2,130.0 614.2,128.9 615.2,128.3 616.2,128.7 616.2,135.7 615.2,135.3 614.2,135.9 613.2,137.0 612.2,136.8 611.2,136.2 610.2,135.7 609.2,136.7 608.3,136.3 607.3,135.4 606.3,135.0 605.3,135.6 604.3,136.2 603.3,135.7 602.3,135.4 601.3,135.6 600.3,135.8 599.3,135.5 598.3,135.3 597.3,135.8 596.3,134.6 595.3,134.6 594.3,135.1 593.4,136.2 592.4,135.8 591.4,135.2 590.4,136.1 589.4,135.7 588.4,134.8 587.4,134.3 586.4,134.3 585.4,134.9 584.4,134.6 583.3,135.4 582.3,135.3 581.3,135.3 580.3,134.4 579.3,135.0 578.2,135.0 577.2,134.2 576.2,134.8 575.2,135.5 574.2,134.5 573.2,134.3 572.1,134.6 571.1,135.4 570.1,134.6 569.1,135.4 568.1,134.8 567.0,134.9 566.0,135.2 565.0,135.1 564.0,134.9 563.0,134.8 562.0,134.6 561.0,134.8 559.9,134.6 558.9,134.2 557.9,134.7 556.9,134.7 555.9,135.1 554.9,135.8 553.9,135.2 552.8,135.5 551.8,135.2 550.8,134.8 549.8,134.9 548.8,135.0 547.8,134.9 546.7,134.4 545.7,134.7 544.7,135.1 543.6,134.4 542.6,134.6 541.6,135.0 540.6,134.7 539.5,134.1 538.5,135.0 537.5,134.7 536.4,134.4 535.4,133.4 534.4,133.2 533.5,133.7 532.5,133.5 531.5,133.6 530.6,132.4 529.6,132.6 528.6,132.3 527.7,132.8 526.7,132.3 525.8,132.2 524.8,132.6 523.8,133.1 522.9,132.9 521.9,132.7 520.9,133.2 519.8,133.4 518.8,133.0 517.8,133.0 516.7,132.4 515.7,132.6 514.7,131.9 513.7,131.4 512.6,131.0 511.6,131.4 510.6,131.9 509.5,131.6 508.5,131.9 507.5,131.6 506.6,131.2 505.6,131.4 504.6,132.3 503.7,131.5 502.7,132.0 501.8,132.0 500.8,132.1 499.8,131.4 498.9,130.6 497.9,131.0 496.9,131.0 496.0,131.6 495.0,131.1 494.0,131.6 493.0,130.7 491.9,131.3 490.9,131.5 489.9,132.0 488.9,131.6 487.9,131.8 486.9,130.7 485.8,131.1 484.8,131.9 483.8,131.9 482.8,132.1 481.7,131.6 480.7,131.8 479.7,131.7 478.6,130.8 477.6,131.5 476.6,131.2 475.6,130.4 474.5,129.9 473.5,130.0 472.5,130.8 471.4,131.2 470.4,130.8 469.4,130.2 468.5,129.2 467.5,129.5 466.5,129.9 465.6,129.9 464.6,129.5 463.6,129.1 462.7,129.4 461.7,130.0 460.8,130.5 459.8,130.1 458.8,129.7 457.9,128.9 456.9,129.6 455.9,129.9 454.9,129.2 453.9,130.2 452.9,130.8 451.9,130.4 450.9,131.0 449.9,130.7 448.9,131.3 447.9,131.7 446.9,132.0 446.0,132.6 445.0,132.6 444.0,132.8 443.0,132.8 442.0,132.7 441.0,132.5 440.0,132.2 439.0,132.5 438.0,132.5 437.0,132.1 436.0,132.0 435.0,132.1 434.0,132.7 433.0,132.7 432.0,131.9 431.0,131.8 430.0,131.8 429.0,131.9 428.0,132.6 426.9,131.8 425.9,132.5 424.9,131.7 423.9,132.5 422.9,132.1 421.9,132.7 420.9,131.7 419.9,131.8 418.9,132.0 417.9,131.8 416.8,132.1 415.8,131.4 414.8,130.8 413.7,131.5 412.7,130.7 411.7,130.5 410.7,130.0 409.6,130.0 408.6,128.7 407.6,128.9 406.5,128.9 405.5,128.9 404.6,128.5 403.6,129.1 402.6,129.6 401.7,129.0 400.8,129.4 399.8,129.6 398.9,130.2 397.9,131.0 396.9,130.2 396.0,130.1 395.0,131.4 394.0,130.9 393.0,132.3 392.0,133.8 391.0,135.4 390.0,137.3 389.0,139.7 388.0,139.4 387.0,140.1 386.0,140.0 385.1,147.1 384.3,153.3 383.0,174.2" fill="#99A800" fill-opacity="0.1"/>
<polygon points="383.0,103.4 384.2,89.7 385.1,93.2 386.0,93.6 387.0,97.7 388.0,100.5 389.0,103.5 390.0,104.4 391.0,107.5 392.0,106.5 393.0,106.1 394.0,107.1 395.0,108.2 396.0,108.5 397.0,108.6 398.0,107.6 399.0,107.1 400.0,107.1 401.0,107.0 402.0,106.9 403.0,107.0 404.0,107.2 405.0,107.2 406.0,108.0 407.0,108.4 408.0,107.6 409.0,107.8 410.0,108.2 411.0,107.4 412.0,108.3 413.0,108.2 414.0,108.0 415.0,107.9 416.0,108.5 417.0,108.3 418.0,108.0 419.0,108.7 420.0,107.8 421.0,107.8 422.0,108.5 423.0,108.7 424.0,108.7 425.0,108.7 426.0,107.7 427.0,108.0 428.0,107.8 429.0,108.5 430.0,108.7 431.0,108.1 431.9,108.5 432.9,108.0 433.9,107.9 434.8,108.3 435.8,108.8 436.8,109.0 437.7,108.2 438.7,107.7 439.6,108.8 440.6,108.7 441.6,108.8 442.5,109.1 443.5,109.6 444.5,109.7 445.6,109.7 446.6,109.5 447.6,109.9 448.7,110.2 449.7,110.2 450.7,110.9 451.7,110.4 452.8,111.1 453.8,111.6 454.8,111.6 455.9,111.2 456.9,111.3 457.9,111.1 458.8,111.7 459.8,112.0 460.8,111.3 461.7,111.3 462.7,112.0 463.6,111.5 464.6,112.1 465.6,112.2 466.5,111.8 467.5,111.9 468.5,112.8 469.4,112.1 470.4,112.4 471.4,113.3 472.5,112.8 473.5,113.4 474.5,113.2 475.6,113.9 476.6,114.3 477.6,114.3 478.6,113.6 479.7,114.3 480.7,113.9 481.7,114.4 482.8,114.5 483.8,114.6 484.8,114.3 485.8,114.7 486.9,115.2 487.9,115.3 488.9,115.4 489.9,114.5 490.9,114.1 491.9,114.7 493.0,114.6 494.0,115.2 495.0,114.9 496.0,115.3 496.9,114.1 497.9,114.8 498.9,114.2 499.8,114.5 500.8,114.3 501.8,114.3 502.7,113.9 503.7,114.2 504.6,114.4 505.6,113.7 506.6,113.9 507.5,113.7 508.5,113.7 509.5,113.3 510.4,113.2 511.4,112.3 512.4,112.1 513.4,112.5 514.3,111.6 515.3,111.8 516.3,111.4 517.3,111.1 518.2,110.5 519.2,110.8 520.2,110.3 521.3,110.2 522.3,109.9 523.4,110.2 524.4,109.8 525.5,110.3 526.5,110.5 527.6,110.1 528.6,109.8 529.6,110.2 530.6,111.3 531.5,111.3 532.5,111.5 533.5,111.1 534.5,111.8 535.5,111.1 536.5,112.2 537.4,112.3 538.4,112.1 539.4,112.8 540.4,112.2 541.5,112.3 542.5,113.2 543.6,113.8 544.6,113.4 545.7,113.1 546.7,113.8 547.8,114.0 548.8,114.8 549.8,115.3 550.8,115.6 551.8,115.2 552.8,115.6 553.9,115.4 554.9,114.6 555.9,115.3 556.9,114.3 557.9,114.6 558.9,114.3 559.9,114.8 561.0,114.9 562.0,115.0 563.0,115.4 564.0,115.0 565.0,115.0 566.0,115.6 567.0,115.2 568.1,114.7 569.1,114.9 570.1,115.0 571.1,115.1 572.1,115.3 573.2,115.0 574.2,115.0 575.2,115.8 576.2,115.7 577.2,116.0 578.2,115.1 579.3,115.4 580.3,114.8 581.3,114.6 582.3,115.3 583.3,115.7 584.4,115.8 585.4,115.4 586.4,115.0 587.4,115.8 588.4,115.9 589.3,115.1 590.3,116.0 591.3,115.2 592.3,114.8 593.3,115.1 594.2,116.1 595.2,115.7 596.2,115.5 597.2,116.0 598.2,116.3 599.2,116.9 600.1,116.5 601.1,116.2 602.1,116.3 603.1,115.7 604.1,115.7 605.1,116.4 606.1,116.1 607.1,116.8 608.1,116.5 609.2,116.1 610.2,116.1 611.2,116.0 612.2,116.3 613.2,116.9 614.2,117.6 615.2,117.2 616.2,117.0 616.2,124.1 615.2,124.2 614.2,124.6 613.2,123.9 612.2,123.3 611.2,122.9 610.2,123.0 609.2,122.9 608.1,123.3 607.1,123.6 606.1,122.8 605.1,123.1 604.1,122.3 603.1,122.3 602.1,123.0 601.1,122.8 600.1,123.1 599.2,123.4 598.2,122.8 597.2,122.5 596.2,121.9 595.2,122.1 594.2,122.5 593.3,121.5 592.3,121.1 591.3,121.5 590.3,122.3 589.3,121.3 588.4,122.1 587.4,122.0 586.4,121.1 585.4,121.5 584.4,121.8 583.3,121.7 582.3,121.3 581.3,120.6 580.3,120.8 579.3,121.3 578.2,121.0 577.2,121.9 576.2,121.6 575.2,121.6 574.2,120.8 573.2,120.8 572.1,121.1 571.1,120.9 570.1,120.8 569.1,120.7 568.1,120.5 567.0,121.0 566.0,121.5 565.0,120.9 564.0,120.9 563.0,121.3 562.0,120.9 561.0,120.7 559.9,120.6 558.9,120.1 557.9,120.5 556.9,120.2 555.9,121.2 554.9,120.5 553.9,121.3 552.8,121.5 551.8,121.2 550.8,121.5 549.8,121.2 548.8,120.8 547.8,119.9 546.7,119.8 545.7,119.1 544.6,119.4 543.6,119.8 542.5,119.2 541.5,118.4 540.4,118.3 539.4,118.8 538.4,118.2 537.4,118.4 536.5,118.3 535.5,117.2 534.5,117.8 533.5,117.2 532.5,117.6 531.5,117.4 530.6,117.4 529.6,116.3 528.6,115.9 527.6,116.2 526.5,116.7 525.5,116.5 524.4,116.0 523.4,116.4 522.3,116.1 521.3,116.5 520.2,116.5 519.2,117.1 518.2,116.8 517.3,117.4 516.3,117.7 515.3,118.1 514.3,117.9 513.4,118.8 512.4,118.4 511.4,118.6 510.4,119.6 509.5,119.7 508.5,120.1 507.5,120.1 506.6,120.3 505.6,120.2 504.6,120.9 503.7,120.7 502.7,120.4 501.8,120.8 500.8,120.9 499.8,121.0 498.9,120.7 497.9,121.4 496.9,120.7 496.0,122.0 495.0,121.5 494.0,121.8 493.0,121.2 491.9,121.4 490.9,120.8 489.9,121.3 488.9,122.1 487.9,122.1 486.9,122.0 485.8,121.5 484.8,121.1 483.8,121.5 482.8,121.4 481.7,121.3 480.7,120.8 479.7,121.3 478.6,120.5 477.6,121.3 476.6,121.4 475.6,121.0 474.5,120.3 473.5,120.5 472.5,120.0 471.4,120.5 470.4,119.6 469.4,119.3 468.5,120.0 467.5,119.2 466.5,119.1 465.6,119.6 464.6,119.5 463.6,118.9 462.7,119.4 461.7,118.8 460.8,118.9 459.8,119.6 458.8,119.3 457.9,118.7 456.9,118.9 455.9,118.9 454.8,119.4 453.8,119.4 452.8,118.9 451.7,118.3 450.7,118.8 449.7,118.2 448.7,118.2 447.6,117.9 446.6,117.6 445.6,117.9 444.5,117.9 443.5,117.9 442.5,117.4 441.6,117.2 440.6,117.2 439.6,117.3 438.7,116.2 437.7,116.8 436.8,117.7 435.8,117.6 434.8,117.1 433.9,116.8 432.9,116.9 431.9,117.5 431.0,117.2 430.0,117.9 429.0,117.7 428.0,117.1 427.0,117.4 426.0,117.2 425.0,118.3 424.0,118.3 423.0,118.5 422.0,118.4 421.0,117.8 420.0,117.9 419.0,118.9 418.0,118.4 417.0,118.8 416.0,119.1 415.0,118.6 414.0,118.9 413.0,119.3 412.0,119.5 411.0,118.7 410.0,119.7 409.0,119.5 408.0,119.5 407.0,120.5 406.0,120.3 405.0,119.7 404.0,119.9 403.0,119.9 402.0,120.0 401.0,120.4 400.0,120.8 399.0,121.2 398.0,121.9 397.0,123.3 396.0,123.6 395.0,123.7 394.0,123.2 393.0,122.8 392.0,123.9 391.0,125.8 390.0,123.9 389.0,124.6 388.0,123.6 387.0,123.5 386.0,123.1 385.1,127.3 384.2,130.0 383.0,155.7" fill="#53B400" fill-opacity="0.1"/>
<polygon points="382.6,95.9 383.2,84.2 384.1,87.5 385.0,89.5 385.9,92.0 386.8,92.7 387.6,96.2 388.5,97.1 389.4,97.7 390.3,100.5 391.2,101.4 392.1,103.4 393.0,104.0 393.9,103.6 395.0,104.5 396.1,103.7 397.1,104.3 398.2,102.9 399.3,102.6 400.3,103.4 401.2,103.3 402.2,103.6 403.1,103.4 404.1,104.3 405.1,104.7 406.1,104.0 407.2,104.1 408.2,103.7 409.2,104.2 410.2,105.1 411.2,104.9 412.2,104.7 413.2,104.6 414.1,104.9 415.1,105.4 416.0,105.7 417.0,104.8 417.9,104.0 418.9,104.8 419.9,104.4 420.8,105.0 421.8,104.7 422.7,105.2 423.7,105.9 424.6,106.7 425.6,106.3 426.6,106.3 427.5,107.0 428.5,107.1 429.5,106.6 430.5,106.8 431.4,106.9 432.4,107.8 433.5,108.4 434.5,108.0 435.6,108.6 436.7,109.5 437.7,110.2 438.6,110.6 439.6,110.7 440.6,110.7 441.6,111.6 442.5,111.5 443.5,111.3 444.5,111.2 445.6,111.4 446.6,111.7 447.6,111.7 448.7,111.9 449.7,112.9 450.7,112.4 451.7,112.2 452.8,112.3 453.8,112.4 454.8,113.7 455.9,114.2 456.9,114.6 457.9,113.5 458.8,114.1 459.8,114.5 460.8,114.0 461.7,113.8 462.7,114.2 463.6,114.3 464.6,114.4 465.6,114.7 466.5,115.2 467.5,115.6 468.5,115.9 469.4,116.1 470.4,115.3 471.4,115.6 472.5,115.2 473.5,115.6 474.5,115.5 475.6,116.4 476.6,116.2 477.6,116.2 478.6,116.0 479.7,116.3 480.7,116.6 481.7,116.1 482.8,117.2 483.8,117.1 484.8,116.6 485.8,117.2 486.9,116.3 487.9,116.8 488.9,116.6 489.9,117.3 490.9,116.3 491.9,117.1 493.0,117.0 494.0,117.1 495.0,116.7 496.0,116.5 496.9,116.8 497.9,116.6 498.9,117.4 499.8,117.4 500.8,117.7 501.8,117.9 502.7,117.3 503.7,117.4 504.6,116.9 505.6,116.8 506.6,116.7 507.5,118.1 508.5,118.0 509.5,118.0 510.6,118.5 511.6,118.0 512.6,117.7 513.7,117.6 514.7,117.7 515.7,118.0 516.7,118.1 517.8,118.6 518.8,118.7 519.8,119.6 520.9,119.6 521.9,120.1 522.9,120.0 523.8,119.9 524.8,120.5 525.8,119.5 526.7,120.3 527.7,120.7 528.6,119.6 529.6,119.1 530.6,119.4 531.5,119.4 532.5,120.0 533.5,119.9 534.4,120.4 535.4,120.4 536.4,120.1 537.3,119.8 538.3,120.2 539.3,119.7 540.3,119.9 541.2,119.6 542.2,120.1 543.2,120.3 544.2,120.1 545.1,120.5 546.1,120.6 547.1,119.5 548.0,119.8 549.0,119.7 549.9,119.8 550.9,119.6 551.8,120.0 552.8,120.0 553.7,119.9 554.6,118.9 555.6,118.8 556.6,118.3 557.7,119.1 558.7,118.9 559.8,117.9 560.8,118.3 561.9,117.4 562.9,117.4 564.0,117.0 565.0,116.7 566.0,117.2 567.0,117.7 568.0,116.8 569.0,116.2 570.0,116.9 571.0,117.0 572.0,116.8 573.0,116.5 574.0,115.4 575.0,114.4 576.0,113.8 577.1,113.9 578.1,112.9 579.2,113.2 580.2,112.1 581.3,112.8 582.3,112.5 583.3,112.3 584.2,111.5 585.2,111.5 586.1,111.5 587.1,111.0 588.1,110.3 589.0,110.0 590.0,110.0 591.0,108.8 592.0,108.9 593.0,108.0 594.0,108.1 595.0,107.2 596.0,107.9 597.0,107.5 598.0,107.4 599.0,107.2 600.0,106.8 601.0,106.2 602.0,106.5 603.0,105.7 604.0,105.4 605.0,105.0 606.0,104.3 607.0,104.9 608.0,104.8 609.0,104.6 610.0,103.3 611.1,103.0 612.1,102.9 613.1,102.2 614.2,102.0 615.2,100.7 616.2,100.6 616.2,107.7 615.2,107.8 614.2,109.0 613.1,109.1 612.1,109.8 611.1,109.9 610.0,110.1 609.0,111.4 608.0,111.6 607.0,111.7 606.0,111.1 605.0,111.7 604.0,112.0 603.0,112.3 602.0,113.1 601.0,112.8 600.0,113.3 599.0,113.8 598.0,113.9 597.0,113.9 596.0,114.3 595.0,113.6 594.0,114.5 593.0,114.4 592.0,115.2 591.0,115.0 590.0,116.2 589.0,116.2 588.1,116.5 587.1,117.2 586.1,117.7 585.2,117.6 584.2,117.6 583.3,118.3 582.3,118.5 581.3,118.8 580.2,118.1 579.2,119.1 578.1,118.8 577.1,119.7 576.0,119.6 575.0,120.2 574.0,121.1 573.0,122.3 572.0,122.6 571.0,122.8 570.0,122.7 569.0,122.0 568.0,122.6 567.0,123.5 566.0,123.0 565.0,122.5 564.0,122.8 562.9,123.3 561.9,123.2 560.8,124.2 559.8,123.8 558.7,124.7 557.7,125.0 556.6,124.2 555.6,124.7 554.6,124.8 553.7,125.8 552.8,125.9 551.8,125.9 550.9,125.5 549.9,125.7 549.0,125.6 548.0,125.7 547.1,125.5 546.1,126.6 545.1,126.5 544.2,126.1 543.2,126.3 542.2,126.1 541.2,125.6 540.3,125.9 539.3,125.7 538.3,126.2 537.3,125.8 536.4,126.1 535.4,126.4 534.4,126.5 533.5,125.9 532.5,126.1 531.5,125.5 530.6,125.5 529.6,125.3 528.6,125.8 527.7,126.8 526.7,126.5 525.8,125.7 524.8,126.7 523.8,126.1 522.9,126.2 521.9,126.4 520.9,125.8 519.8,125.8 518.8,124.9 517.8,124.8 516.7,124.4 515.7,124.3 514.7,124.0 513.7,123.9 512.6,124.1 511.6,124.4 510.6,124.8 509.5,124.4 508.5,124.4 507.5,124.5 506.6,123.1 505.6,123.2 504.6,123.4 503.7,123.9 502.7,123.8 501.8,124.4 500.8,124.2 499.8,123.9 498.9,124.0 497.9,123.2 496.9,123.4 496.0,123.1 495.0,123.3 494.0,123.8 493.0,123.7 491.9,123.8 490.9,123.1 489.9,124.0 488.9,123.3 487.9,123.6 486.9,123.1 485.8,124.0 484.8,123.4 483.8,124.0 482.8,124.1 481.7,123.0 480.7,123.5 479.7,123.2 478.6,123.0 477.6,123.2 476.6,123.3 475.6,123.5 474.5,122.6 473.5,122.7 472.5,122.4 471.4,122.8 470.4,122.5 469.4,123.3 468.5,123.2 467.5,122.9 466.5,122.6 465.6,122.0 464.6,121.8 463.6,121.7 462.7,121.7 461.7,121.3 460.8,121.5 459.8,122.0 458.8,121.7 457.9,121.2 456.9,122.2 455.9,121.9 454.8,121.5 453.8,120.2 452.8,120.1 451.7,120.0 450.7,120.3 449.7,120.8 448.7,119.9 447.6,119.7 446.6,119.8 445.6,119.6 444.5,119.5 443.5,119.5 442.5,119.8 441.6,120.0 440.6,119.2 439.6,119.2 438.6,119.1 437.7,118.8 436.7,118.2 435.6,117.4 434.5,116.8 433.5,117.3 432.4,116.8 431.4,115.9 430.5,115.9 429.5,115.8 428.5,116.4 427.5,116.4 426.6,115.8 425.6,115.9 424.6,116.3 423.7,115.6 422.7,115.0 421.8,114.6 420.8,115.1 419.9,114.5 418.9,115.1 417.9,114.3 417.0,115.2 416.0,116.3 415.1,116.2 414.1,115.8 413.2,115.6 412.2,115.8 411.2,116.2 410.2,116.5 409.2,115.9 408.2,115.6 407.2,116.1 406.1,116.2 405.1,117.2 404.1,117.0 403.1,116.3 402.2,116.7 401.2,116.7 400.3,117.0 399.3,116.5 398.2,117.2 397.1,119.0 396.1,118.8 395.0,120.1 393.9,119.8 393.0,120.7 392.1,120.7 391.2,119.6 390.3,119.6 389.4,118.1 388.5,119.1 387.6,120.1 386.8,119.2 385.9,121.9 385.0,124.1 384.1,128.6 383.2,134.2 382.6,153.5" fill="#00BC56" fill-opacity="0.1"/>
<polygon points="382.7,129.6 384.0,117.0 384.8,114.3 385.5,110.4 386.8,110.2 388.0,108.8 389.2,108.1 390.5,108.2 391.8,110.5 393.0,112.9 394.1,113.7 395.2,115.8 396.3,116.7 397.4,118.6 398.4,119.9 399.4,120.6 400.4,121.7 401.4,123.2 402.4,124.7 403.4,125.8 404.5,128.0 405.5,129.0 406.5,129.6 407.5,130.1 408.5,132.1 409.5,133.2 410.6,133.0 411.7,132.6 412.7,131.8 413.8,131.0 414.9,131.4 415.9,131.7 416.8,132.0 417.8,130.6 418.7,129.7 419.7,129.1 420.6,128.7 421.6,129.3 422.6,129.6 423.6,130.0 424.6,129.5 425.6,128.9 426.7,129.6 427.7,130.2 428.7,129.1 429.7,128.5 430.7,128.5 431.7,128.9 432.7,129.7 433.7,130.3 434.7,130.0 435.7,129.9 436.7,130.5 437.7,131.6 438.6,132.2 439.6,131.3 440.6,131.0 441.6,130.8 442.5,131.6 443.5,132.0 444.5,132.6 445.6,132.3 446.6,132.9 447.6,133.2 448.7,132.7 449.7,133.4 450.7,133.3 451.7,132.4 452.8,133.1 453.8,133.3 454.8,133.6 455.9,133.5 456.9,133.3 457.9,134.1 458.9,134.5 459.9,134.1 460.9,134.7 462.0,135.2 463.0,135.5 464.0,136.4 465.0,136.4 466.0,137.3 467.0,137.4 468.0,136.8 469.0,136.7 470.0,136.5 471.1,136.9 472.1,137.0 473.1,136.8 474.1,136.8 475.1,136.9 476.1,138.0 477.1,137.3 478.1,138.2 479.0,137.6 480.0,137.5 481.0,137.1 481.9,137.6 482.9,138.4 483.9,138.5 484.8,137.6 485.8,137.9 486.7,137.5 487.7,137.3 488.7,137.4 489.6,138.2 490.6,137.9 491.6,138.7 492.7,138.7 493.7,138.3 494.8,137.9 495.8,138.9 496.9,139.0 497.9,139.6 499.0,139.0 500.0,139.4 501.1,140.0 502.1,139.8 503.2,140.6 504.2,140.5 505.3,140.0 506.4,140.7 507.4,140.6 508.5,140.8 509.5,141.3 510.6,141.7 511.6,141.3 512.6,141.3 513.7,142.0 514.7,142.2 515.7,141.5 516.7,142.3 517.8,142.5 518.8,142.3 519.8,141.8 520.9,142.6 521.9,142.8 522.9,142.9 523.8,142.8 524.8,143.3 525.8,143.2 526.7,143.4 527.7,143.0 528.6,142.4 529.6,142.4 530.6,142.1 531.5,143.2 532.5,142.9 533.5,142.6 534.4,143.8 535.4,144.0 536.4,143.4 537.5,143.1 538.5,144.1 539.5,145.0 540.6,145.3 541.6,145.4 542.6,145.3 543.6,144.8 544.7,145.8 545.7,146.4 546.7,146.2 547.8,145.3 548.8,146.3 549.8,146.4 550.8,147.0 551.8,146.7 552.8,146.2 553.9,147.4 554.9,147.1 555.9,148.1 556.9,148.2 557.9,148.6 558.9,149.0 559.9,149.5 561.0,148.6 562.0,148.4 563.0,149.2 564.0,149.1 565.0,149.8 566.0,150.6 566.9,150.8 567.9,150.3 568.8,151.0 569.8,151.6 570.7,151.3 571.7,150.9 572.7,151.3 573.6,151.1 574.6,151.4 575.6,151.5 576.6,151.1 577.6,152.0 578.5,151.9 579.5,152.3 580.5,152.4 581.5,152.4 582.5,153.0 583.5,152.5 584.4,152.7 585.4,152.3 586.4,153.0 587.4,152.8 588.4,153.2 589.3,153.1 590.3,153.1 591.3,153.5 592.3,152.7 593.3,153.4 594.2,154.2 595.2,154.3 596.2,154.2 597.2,154.5 598.2,154.0 599.2,154.1 600.1,153.3 601.1,153.4 602.1,153.9 603.1,154.1 604.1,153.4 605.1,152.6 606.0,152.9 607.0,152.7 608.0,152.5 609.0,151.1 610.0,151.8 611.0,152.9 612.1,152.6 613.1,154.0 614.1,153.8 615.2,155.0 616.2,155.5 616.2,162.5 615.2,162.0 614.1,160.8 613.1,160.9 612.1,159.5 611.0,159.7 610.0,158.6 609.0,158.0 608.0,159.3 607.0,159.5 606.0,159.6 605.1,159.3 604.1,160.1 603.1,160.7 602.1,160.5 601.1,160.0 600.1,159.9 599.2,160.6 598.2,160.5 597.2,160.9 596.2,160.7 595.2,160.7 594.2,160.5 593.3,159.8 592.3,159.1 591.3,159.8 590.3,159.4 589.3,159.3 588.4,159.4 587.4,158.9 586.4,159.2 585.4,158.4 584.4,158.8 583.5,158.5 582.5,159.0 581.5,158.4 580.5,158.3 579.5,158.3 578.5,157.8 577.6,157.8 576.6,157.0 575.6,157.3 574.6,157.2 573.6,156.9 572.7,157.1 571.7,156.7 570.7,157.1 569.8,157.4 568.8,156.8 567.9,156.1 566.9,156.6 566.0,156.4 565.0,155.7 564.0,154.9 563.0,155.0 562.0,154.2 561.0,154.4 559.9,155.3 558.9,154.9 557.9,154.5 556.9,154.1 555.9,154.0 554.9,153.0 553.9,153.3 552.8,152.1 551.8,152.6 550.8,152.9 549.8,152.4 548.8,152.2 547.8,151.3 546.7,152.2 545.7,152.3 544.7,151.8 543.6,150.8 542.6,151.3 541.6,151.4 540.6,151.3 539.5,151.0 538.5,150.1 537.5,149.2 536.4,149.4 535.4,150.1 534.4,149.8 533.5,148.7 532.5,149.0 531.5,149.3 530.6,148.3 529.6,148.5 528.6,148.6 527.7,149.2 526.7,149.6 525.8,149.4 524.8,149.5 523.8,149.0 522.9,149.1 521.9,149.0 520.9,148.8 519.8,148.0 518.8,148.5 517.8,148.8 516.7,148.6 515.7,147.8 514.7,148.5 513.7,148.3 512.6,147.6 511.6,147.7 510.6,148.1 509.5,147.7 508.5,147.2 507.4,147.1 506.4,147.1 505.3,146.5 504.2,146.9 503.2,147.0 502.1,146.3 501.1,146.5 500.0,145.9 499.0,145.5 497.9,146.2 496.9,145.6 495.8,145.5 494.8,144.5 493.7,144.9 492.7,145.4 491.6,145.4 490.6,144.6 489.6,144.9 488.7,144.1 487.7,144.1 486.7,144.3 485.8,144.7 484.8,144.4 483.9,145.3 482.9,145.3 481.9,144.5 481.0,144.0 480.0,144.5 479.0,144.6 478.1,145.2 477.1,144.3 476.1,145.0 475.1,144.0 474.1,143.9 473.1,143.9 472.1,144.1 471.1,144.1 470.0,143.7 469.0,144.0 468.0,144.1 467.0,144.7 466.0,144.7 465.0,143.8 464.0,143.8 463.0,142.9 462.0,142.7 460.9,142.2 459.9,141.7 458.9,142.1 457.9,141.7 456.9,141.0 455.9,141.3 454.8,141.3 453.8,141.1 452.8,140.9 451.7,140.3 450.7,141.2 449.7,141.4 448.7,140.7 447.6,141.3 446.6,141.1 445.6,140.4 444.5,140.8 443.5,140.2 442.5,139.9 441.6,139.2 440.6,139.4 439.6,139.8 438.6,140.8 437.7,140.2 436.7,139.2 435.7,138.6 434.7,138.8 433.7,139.2 432.7,138.7 431.7,137.9 430.7,137.6 429.7,137.7 428.7,138.4 427.7,139.5 426.7,139.1 425.6,138.4 424.6,139.1 423.6,139.7 422.6,139.4 421.6,139.2 420.6,138.8 419.7,139.2 418.7,140.0 417.8,141.0 416.8,142.5 415.9,142.3 414.9,142.1 413.8,141.9 412.7,142.9 411.7,143.8 410.6,144.4 409.5,144.8 408.5,143.9 407.5,142.0 406.5,141.8 405.5,141.3 404.5,140.6 403.4,138.6 402.4,137.8 401.4,136.6 400.4,135.3 399.4,134.5 398.4,134.1 397.4,133.1 396.3,131.7 395.2,131.3 394.1,129.7 393.0,129.6 391.8,128.2 390.5,127.1 389.2,128.7 388.0,131.9 386.8,136.7 385.5,142.2 384.8,150.6 384.0,158.9 382.7,185.8" fill="#00C094" fill-opacity="0.1"/>
<polygon points="382.6,126.3 384.0,117.8 384.9,118.7 385.8,115.7 386.9,115.3 388.0,116.4 389.0,116.0 390.0,116.5 391.0,116.7 392.0,114.1 393.0,112.8 394.0,111.1 395.0,110.6 396.0,111.1 397.1,109.8 398.1,109.1 399.1,108.1 400.1,107.1 401.1,107.6 402.0,108.0 403.0,109.7 403.9,110.7 404.9,110.9 405.8,112.0 406.8,113.1 407.8,112.2 408.8,112.3 409.8,111.6 410.9,111.4 411.9,111.3 412.9,111.4 413.9,111.7 414.9,111.3 415.9,111.5 416.9,112.3 417.9,112.2 418.9,112.7 420.0,113.2 421.0,113.8 422.0,113.2 423.0,113.0 424.0,113.6 425.0,113.2 426.0,113.3 427.0,113.0 428.0,113.8 429.0,113.6 430.0,113.0 431.0,113.8 432.0,112.8 433.0,112.7 434.0,113.2 435.0,113.0 436.0,113.6 437.0,114.2 438.0,113.9 439.0,113.7 440.0,114.3 441.0,114.2 442.0,114.2 443.0,114.1 444.0,114.4 445.0,114.7 446.0,113.6 446.9,113.3 447.9,113.0 448.9,113.1 449.9,113.3 450.9,113.6 451.9,113.8 452.9,114.1 453.9,114.5 454.9,113.7 455.9,113.6 456.9,114.6 457.9,115.3 458.8,114.3 459.8,114.2 460.8,114.6 461.7,114.7 462.7,114.3 463.6,115.2 464.6,115.2 465.6,115.0 466.5,114.8 467.5,114.4 468.5,114.4 469.4,115.6 470.4,116.1 471.4,115.6 472.5,115.7 473.5,115.1 474.5,116.1 475.6,115.6 476.6,116.2 477.6,116.9 478.6,116.7 479.7,117.3 480.7,116.6 481.7,116.1 482.8,115.9 483.8,115.9 484.8,116.3 485.8,117.0 486.9,117.1 487.9,117.2 488.9,117.5 489.9,119.0 490.9,119.9 491.9,120.7 493.0,121.1 494.0,121.4 495.0,120.9 496.0,121.2 497.0,121.2 498.0,120.6 499.0,121.4 500.0,121.4 501.0,121.1 502.0,120.4 503.0,120.9 504.0,121.4 505.0,121.3 506.0,121.1 507.0,121.8 508.0,121.3 508.9,121.8 509.9,121.5 510.9,120.6 511.9,120.6 512.9,121.6 513.9,121.0 514.9,120.4 515.9,121.0 516.9,120.9 517.9,121.0 518.9,120.8 519.9,120.4 520.9,120.6 521.9,120.4 522.9,120.5 523.9,120.4 524.9,120.7 525.9,120.7 526.9,121.7 527.9,122.0 528.9,121.5 529.9,122.1 530.9,122.5 531.9,123.1 532.9,122.3 533.9,122.1 534.9,122.2 535.8,122.9 536.8,123.2 537.8,123.8 538.8,123.2 539.8,122.6 540.8,123.4 541.8,123.4 542.8,123.9 543.8,124.4 544.8,124.1 545.8,124.5 546.8,125.0 547.8,124.9 548.8,124.6 549.8,124.9 550.8,125.0 551.8,125.2 552.8,125.1 553.9,124.4 554.9,124.6 555.9,124.6 556.9,125.3 557.9,124.9 558.9,124.6 559.9,124.4 561.0,124.2 562.0,125.0 563.0,125.4 564.0,125.4 565.0,125.5 566.0,124.6 567.0,124.8 568.0,125.2 569.0,125.3 570.0,125.3 571.0,125.0 572.0,125.2 573.0,125.4 574.0,125.0 575.0,125.4 576.0,125.7 577.0,126.4 578.0,125.8 579.0,126.2 580.0,126.8 581.0,125.8 582.0,126.5 583.0,125.6 584.0,125.1 585.0,125.6 586.0,125.7 587.0,126.0 588.0,126.8 589.0,127.0 590.0,127.4 591.0,126.8 592.0,126.9 593.0,126.6 594.0,126.7 595.0,126.2 596.0,126.2 597.1,127.3 598.1,127.6 599.1,127.7 600.1,126.8 601.1,127.2 602.1,127.2 603.1,127.7 604.1,128.1 605.1,127.2 606.1,127.6 607.1,127.7 608.1,128.2 609.1,127.5 610.2,128.3 611.2,128.0 612.2,128.5 613.2,127.7 614.2,127.3 615.2,127.6 616.2,128.2 616.2,135.3 615.2,134.6 614.2,134.3 613.2,134.6 612.2,135.4 611.2,134.9 610.2,135.1 609.1,134.4 608.1,135.0 607.1,134.5 606.1,134.3 605.1,133.9 604.1,134.8 603.1,134.3 602.1,133.8 601.1,133.8 600.1,133.3 599.1,134.3 598.1,134.1 597.1,133.8 596.0,132.7 595.0,132.6 594.0,133.1 593.0,133.0 592.0,133.3 591.0,133.1 590.0,133.6 589.0,133.2 588.0,133.0 587.0,132.2 586.0,131.8 585.0,131.7 584.0,131.2 583.0,131.6 582.0,132.5 581.0,131.8 580.0,132.7 579.0,132.2 578.0,131.7 577.0,132.3 576.0,131.6 575.0,131.2 574.0,130.8 573.0,131.2 572.0,131.0 571.0,130.8 570.0,131.1 569.0,131.1 568.0,131.0 567.0,130.6 566.0,130.4 565.0,131.3 564.0,131.2 563.0,131.2 562.0,130.9 561.0,130.0 559.9,130.3 558.9,130.5 557.9,130.8 556.9,131.1 555.9,130.5 554.9,130.5 553.9,130.3 552.8,131.0 551.8,131.1 550.8,130.9 549.8,130.8 548.8,130.5 547.8,130.9 546.8,131.0 545.8,130.5 544.8,130.0 543.8,130.4 542.8,129.9 541.8,129.4 540.8,129.4 539.8,128.7 538.8,129.2 537.8,129.8 536.8,129.3 535.8,129.0 534.9,128.2 533.9,128.1 532.9,128.4 531.9,129.2 530.9,128.6 529.9,128.2 528.9,127.6 527.9,128.2 526.9,127.9 525.9,126.8 524.9,126.8 523.9,126.6 522.9,126.7 521.9,126.7 520.9,126.9 519.9,126.7 518.9,127.0 517.9,127.2 516.9,127.2 515.9,127.3 514.9,126.7 513.9,127.3 512.9,127.9 511.9,126.9 510.9,127.0 509.9,127.9 508.9,128.2 508.0,127.7 507.0,128.2 506.0,127.5 505.0,127.7 504.0,127.9 503.0,127.4 502.0,126.9 501.0,127.6 500.0,128.0 499.0,128.0 498.0,127.1 497.0,127.8 496.0,127.8 495.0,127.5 494.0,128.0 493.0,127.7 491.9,127.4 490.9,126.6 489.9,125.7 488.9,124.3 487.9,124.0 486.9,123.9 485.8,123.8 484.8,123.2 483.8,122.7 482.8,122.7 481.7,123.0 480.7,123.6 479.7,124.3 478.6,123.7 477.6,123.9 476.6,123.3 475.6,122.7 474.5,123.2 473.5,122.2 472.5,122.9 471.4,122.8 470.4,123.3 469.4,122.8 468.5,121.7 467.5,121.7 466.5,122.1 465.6,122.3 464.6,122.6 463.6,122.6 462.7,121.7 461.7,122.2 460.8,122.1 459.8,121.8 458.8,121.9 457.9,122.9 456.9,122.2 455.9,121.3 454.9,121.4 453.9,122.2 452.9,121.9 451.9,121.6 450.9,121.5 449.9,121.3 448.9,121.1 447.9,121.0 446.9,121.4 446.0,121.8 445.0,122.9 444.0,122.6 443.0,122.4 442.0,122.6 441.0,122.6 440.0,122.8 439.0,122.2 438.0,122.5 437.0,122.8 436.0,122.3 435.0,121.8 434.0,122.1 433.0,121.6 432.0,121.8 431.0,122.8 430.0,122.2 429.0,122.8 428.0,123.1 427.0,122.5 426.0,122.8 425.0,122.8 424.0,123.3 423.0,122.8 422.0,123.1 421.0,123.8 420.0,123.3 418.9,123.0 417.9,122.5 416.9,122.8 415.9,122.1 414.9,122.1 413.9,122.6 412.9,122.5 411.9,122.6 410.9,122.7 409.8,123.1 408.8,124.1 407.8,124.1 406.8,125.2 405.8,124.3 404.9,123.4 403.9,123.4 403.0,122.6 402.0,121.2 401.1,121.0 400.1,120.8 399.1,122.1 398.1,123.4 397.1,124.5 396.0,126.2 395.0,126.2 394.0,127.2 393.0,129.5 392.0,131.6 391.0,135.1 390.0,136.0 389.0,137.1 388.0,139.4 386.9,141.4 385.8,146.1 384.9,154.0 384.0,159.8 382.6,183.8" fill="#00BFC4" fill-opacity="0.1"/>
<polygon points="382.5,94.5 383.6,136.0 384.4,117.1 385.2,101.7 386.5,95.6 387.5,97.1 388.4,98.7 389.4,97.9 390.3,96.8 391.1,95.9 392.0,93.7 393.0,92.3 394.0,90.9 395.0,91.3 396.0,89.8 397.0,91.3 398.1,92.0 399.1,92.0 400.1,92.9 401.1,93.7 402.1,94.9 403.1,95.2 404.1,96.3 405.2,97.3 406.4,97.7 407.5,99.1 408.6,98.6 409.7,98.7 410.8,98.7 411.8,98.2 412.9,97.6 413.9,97.1 414.9,95.9 415.9,96.7 416.9,97.7 417.9,97.9 418.9,98.2 420.0,98.4 421.1,98.0 422.1,98.4 423.2,98.4 424.3,97.1 425.4,97.5 426.5,97.3 427.5,97.3 428.6,96.9 429.7,97.5 430.7,96.8 431.7,96.9 432.7,97.1 433.6,96.9 434.6,96.1 435.6,95.8 436.6,96.3 437.6,97.0 438.6,96.3 439.6,96.8 440.5,96.2 441.5,96.5 442.5,96.4 443.5,96.0 444.5,96.9 445.6,96.6 446.6,95.7 447.7,95.8 448.7,95.3 449.8,95.9 450.8,96.2 451.9,95.8 452.9,95.4 453.9,94.9 455.0,96.0 456.0,95.5 457.1,95.6 458.1,96.1 459.2,95.4 460.2,95.6 461.3,96.3 462.3,96.6 463.3,96.7 464.3,96.0 465.3,96.0 466.4,95.9 467.4,96.4 468.4,97.2 469.4,97.2 470.4,97.8 471.4,98.4 472.3,98.1 473.3,98.1 474.3,99.0 475.3,98.4 476.2,98.3 477.2,98.3 478.2,99.1 479.2,99.9 480.1,99.7 481.1,99.3 482.1,99.5 483.0,99.4 484.0,100.4 484.9,100.0 485.9,99.9 486.8,100.3 487.8,100.7 488.7,101.0 489.7,101.6 490.6,101.3 491.6,101.8 492.7,102.2 493.7,102.3 494.8,101.9 495.8,102.3 496.9,101.3 497.9,101.5 499.0,101.8 500.0,102.0 501.1,101.7 502.1,102.3 503.2,102.8 504.2,103.0 505.3,103.2 506.4,103.4 507.4,103.1 508.5,102.6 509.5,103.7 510.6,103.0 511.6,102.7 512.6,103.8 513.7,103.6 514.7,102.9 515.7,102.9 516.7,103.0 517.8,102.8 518.8,103.4 519.8,103.9 520.9,103.9 521.9,104.0 522.9,103.5 523.8,104.7 524.8,104.3 525.8,105.2 526.7,105.1 527.7,105.6 528.6,105.7 529.6,106.1 530.6,106.4 531.5,106.2 532.5,105.8 533.5,105.6 534.4,106.8 535.4,107.0 536.4,107.0 537.5,107.4 538.5,107.4 539.5,107.3 540.6,108.2 541.6,108.0 542.6,107.9 543.6,108.9 544.7,109.4 545.7,109.4 546.7,110.0 547.8,109.8 548.8,109.6 549.8,109.6 550.8,110.3 551.8,109.3 552.8,109.1 553.9,109.9 554.9,109.8 555.9,110.2 556.9,110.0 557.9,109.9 558.9,109.8 559.9,110.0 561.0,110.6 562.0,111.2 563.0,111.3 564.0,111.7 565.0,111.4 566.0,111.4 567.0,110.6 568.1,110.9 569.1,111.7 570.1,111.0 571.1,110.8 572.1,111.7 573.2,111.5 574.2,111.2 575.2,110.9 576.2,111.8 577.2,111.2 578.2,111.2 579.3,111.3 580.3,111.2 581.3,112.2 582.3,112.4 583.3,112.2 584.4,112.8 585.4,112.8 586.4,112.6 587.4,112.6 588.4,113.3 589.3,112.8 590.3,113.2 591.3,112.3 592.3,112.8 593.3,113.0 594.2,113.3 595.2,112.9 596.2,113.2 597.2,113.8 598.2,113.9 599.2,113.1 600.1,113.9 601.1,114.3 602.1,113.9 603.1,113.7 604.1,113.3 605.1,113.9 606.1,113.3 607.1,113.5 608.1,114.0 609.2,114.3 610.2,114.1 611.2,114.8 612.2,115.0 613.2,114.0 614.2,114.8 615.2,114.4 616.2,114.0 616.2,121.0 615.2,121.4 614.2,121.8 613.2,121.0 612.2,121.9 611.2,121.7 610.2,120.9 609.2,121.1 608.1,120.8 607.1,120.3 606.1,120.0 605.1,120.6 604.1,120.0 603.1,120.3 602.1,120.5 601.1,120.9 600.1,120.4 599.2,119.7 598.2,120.4 597.2,120.2 596.2,119.7 595.2,119.3 594.2,119.7 593.3,119.4 592.3,119.1 591.3,118.6 590.3,119.5 589.3,119.0 588.4,119.5 587.4,118.8 586.4,118.7 585.4,118.9 584.4,118.9 583.3,118.3 582.3,118.4 581.3,118.2 580.3,117.2 579.3,117.2 578.2,117.1 577.2,117.0 576.2,117.6 575.2,116.7 574.2,117.0 573.2,117.2 572.1,117.4 571.1,116.6 570.1,116.8 569.1,117.5 568.1,116.7 567.0,116.4 566.0,117.2 565.0,117.3 564.0,117.5 563.0,117.1 562.0,117.0 561.0,116.5 559.9,115.9 558.9,115.6 557.9,115.7 556.9,115.9 555.9,116.1 554.9,115.7 553.9,115.9 552.8,115.0 551.8,115.3 550.8,116.2 549.8,115.5 548.8,115.5 547.8,115.8 546.7,115.9 545.7,115.4 544.7,115.4 543.6,114.9 542.6,113.9 541.6,114.0 540.6,114.2 539.5,113.4 538.5,113.4 537.5,113.4 536.4,113.1 535.4,113.0 534.4,112.9 533.5,111.6 532.5,111.9 531.5,112.3 530.6,112.5 529.6,112.2 528.6,111.8 527.7,111.8 526.7,111.3 525.8,111.4 524.8,110.5 523.8,110.9 522.9,109.7 521.9,110.2 520.9,110.1 519.8,110.1 518.8,109.7 517.8,109.1 516.7,109.2 515.7,109.2 514.7,109.3 513.7,109.9 512.6,110.1 511.6,109.1 510.6,109.4 509.5,110.1 508.5,109.0 507.4,109.5 506.4,109.8 505.3,109.7 504.2,109.5 503.2,109.2 502.1,108.8 501.1,108.2 500.0,108.5 499.0,108.4 497.9,108.0 496.9,107.9 495.8,108.9 494.8,108.6 493.7,108.9 492.7,108.9 491.6,108.5 490.6,108.0 489.7,108.3 488.7,107.7 487.8,107.5 486.8,107.1 485.9,106.7 484.9,106.9 484.0,107.3 483.0,106.3 482.1,106.5 481.1,106.3 480.1,106.7 479.2,106.9 478.2,106.1 477.2,105.3 476.2,105.3 475.3,105.4 474.3,106.1 473.3,105.3 472.3,105.3 471.4,105.6 470.4,105.1 469.4,104.4 468.4,104.5 467.4,103.7 466.4,103.2 465.3,103.4 464.3,103.4 463.3,104.2 462.3,104.0 461.3,103.8 460.2,103.1 459.2,103.0 458.1,103.7 457.1,103.2 456.0,103.2 455.0,103.7 453.9,102.7 452.9,103.2 451.9,103.6 450.8,104.1 449.8,103.9 448.7,103.4 447.7,103.9 446.6,103.8 445.6,104.8 444.5,105.1 443.5,104.3 442.5,104.7 441.5,104.9 440.5,104.7 439.6,105.3 438.6,104.9 437.6,105.6 436.6,105.0 435.6,104.5 434.6,105.0 433.6,105.8 432.7,106.1 431.7,105.9 430.7,105.9 429.7,106.7 428.6,106.2 427.5,106.7 426.5,106.8 425.4,107.0 424.3,106.7 423.2,108.1 422.1,108.2 421.1,108.0 420.0,108.5 418.9,108.5 417.9,108.3 416.9,108.2 415.9,107.4 414.9,106.7 413.9,108.0 412.9,108.6 411.8,109.4 410.8,110.1 409.7,110.3 408.6,110.4 407.5,111.1 406.4,109.8 405.2,109.7 404.1,109.0 403.1,108.1 402.1,108.0 401.1,107.1 400.1,106.6 399.1,106.0 398.1,106.3 397.0,106.0 396.0,104.9 395.0,106.8 394.0,106.9 393.0,109.0 392.0,111.1 391.1,114.1 390.3,115.9 389.4,118.3 388.4,120.8 387.5,121.5 386.5,123.1 385.2,135.2 384.4,155.8 383.6,181.6 382.5,153.5" fill="#00B6EB" fill-opacity="0.1"/>
<polygon points="382.5,105.8 383.7,137.5 384.6,127.3 385.5,111.7 386.5,112.6 387.5,111.0 388.8,113.5 390.0,116.4 391.0,116.9 392.0,115.4 393.0,114.1 394.0,112.9 395.0,113.4 396.0,113.3 397.0,112.8 398.0,112.6 399.0,113.7 400.0,114.4 401.0,115.0 402.0,115.5 403.0,115.2 404.0,114.9 405.0,115.8 406.0,116.2 407.0,116.6 408.0,116.1 409.0,116.1 410.0,117.2 411.0,116.9 412.0,117.4 413.0,118.1 414.0,118.5 415.0,119.0 416.0,118.2 417.0,118.7 418.0,118.6 419.0,119.2 420.0,118.9 421.0,119.8 422.0,119.5 423.0,119.2 424.0,119.6 425.0,119.2 426.0,120.1 427.0,119.5 428.0,120.0 429.0,120.6 430.0,120.3 431.0,120.1 432.0,120.8 433.0,120.9 434.0,120.5 435.0,121.4 436.0,121.2 437.0,121.1 438.0,121.0 439.0,121.8 440.0,121.7 441.0,122.1 442.0,121.5 443.0,121.0 444.0,122.1 445.0,121.8 446.0,121.5 447.0,121.6 448.0,121.7 449.0,122.0 450.0,122.9 451.0,123.0 452.0,122.5 453.0,122.2 454.0,123.4 455.0,122.7 456.0,123.1 457.0,122.8 458.0,122.7 459.0,123.0 460.0,123.3 461.0,124.3 462.0,123.8 463.0,124.0 464.0,123.8 465.0,124.7 466.0,124.8 467.0,125.0 468.0,125.4 469.0,124.9 470.0,124.9 471.0,124.9 472.0,125.4 473.0,126.0 474.0,125.1 475.0,125.0 476.0,124.9 477.0,125.2 478.0,124.9 479.0,124.8 480.0,125.1 481.0,125.8 482.0,126.1 483.0,125.8 484.0,125.5 485.0,126.4 486.0,125.9 487.0,126.6 488.0,126.8 489.0,127.5 490.0,126.5 491.0,126.2 492.0,126.0 493.0,127.2 494.0,127.2 495.0,126.8 496.0,126.5 497.0,126.9 498.0,127.4 499.0,126.9 500.0,127.3 501.0,127.0 502.0,127.7 503.0,127.9 504.0,127.5 505.0,127.7 506.0,128.1 507.0,127.5 508.0,127.0 508.9,127.5 509.9,128.0 510.9,127.8 511.9,127.9 512.9,127.3 513.9,127.5 514.9,127.4 515.9,127.8 516.9,128.7 517.9,128.0 518.9,128.1 519.9,128.4 520.9,128.6 521.9,127.9 522.9,128.7 523.9,128.4 524.9,128.9 525.9,128.2 526.9,128.3 527.9,129.1 528.9,129.4 529.9,129.8 530.9,129.8 531.9,129.8 532.9,129.8 533.9,129.0 534.9,129.5 535.8,130.1 536.8,130.3 537.8,130.5 538.8,130.7 539.8,129.6 540.8,130.3 541.8,129.6 542.8,129.6 543.8,129.6 544.8,130.5 545.8,130.2 546.8,130.5 547.8,130.6 548.8,131.2 549.8,131.1 550.8,130.3 551.8,129.9 552.8,130.1 553.9,130.3 554.9,130.4 555.9,129.9 556.9,130.2 557.9,130.0 558.9,130.0 559.9,130.7 561.0,130.4 562.0,130.4 563.0,131.2 564.0,130.5 565.0,130.6 566.0,131.3 567.0,130.9 568.0,130.8 569.0,131.5 570.0,130.8 571.0,130.8 572.0,131.5 573.0,132.1 574.0,132.3 575.0,132.6 576.0,132.3 577.0,132.3 578.0,132.1 579.0,132.0 580.0,131.3 581.0,131.2 582.0,130.9 583.0,130.6 584.0,130.5 585.0,130.6 586.0,130.9 587.0,131.3 588.0,131.9 589.0,131.2 590.0,131.4 591.0,131.3 592.0,131.8 593.0,132.0 594.0,131.6 595.0,131.4 596.0,131.9 597.1,131.6 598.1,131.8 599.1,132.5 600.1,132.9 601.1,133.2 602.1,133.3 603.1,132.9 604.1,132.2 605.1,132.6 606.1,132.2 607.1,133.0 608.1,132.2 609.1,132.3 610.2,131.9 611.2,132.7 612.2,132.5 613.2,133.4 614.2,132.9 615.2,132.7 616.2,132.4 616.2,139.5 615.2,139.7 614.2,139.8 613.2,140.3 612.2,139.4 611.2,139.6 610.2,138.8 609.1,139.2 608.1,139.0 607.1,139.8 606.1,138.9 605.1,139.3 604.1,138.9 603.1,139.5 602.1,139.9 601.1,139.8 600.1,139.5 599.1,139.0 598.1,138.3 597.1,138.1 596.0,138.3 595.0,137.8 594.0,138.0 593.0,138.3 592.0,138.1 591.0,137.6 590.0,137.7 589.0,137.5 588.0,138.1 587.0,137.5 586.0,137.1 585.0,136.7 584.0,136.6 583.0,136.6 582.0,136.9 581.0,137.2 580.0,137.3 579.0,137.9 578.0,138.0 577.0,138.2 576.0,138.1 575.0,138.4 574.0,138.0 573.0,137.9 572.0,137.3 571.0,136.6 570.0,136.6 569.0,137.3 568.0,136.6 567.0,136.7 566.0,137.1 565.0,136.5 564.0,136.3 563.0,137.0 562.0,136.3 561.0,136.3 559.9,136.6 558.9,135.9 557.9,135.9 556.9,136.1 555.9,135.8 554.9,136.3 553.9,136.2 552.8,136.0 551.8,135.8 550.8,136.2 549.8,137.0 548.8,137.1 547.8,136.5 546.8,136.5 545.8,136.1 544.8,136.5 543.8,135.6 542.8,135.6 541.8,135.6 540.8,136.3 539.8,135.6 538.8,136.7 537.8,136.5 536.8,136.4 535.8,136.2 534.9,135.6 533.9,135.1 532.9,135.9 531.9,135.9 530.9,135.9 529.9,136.0 528.9,135.5 527.9,135.3 526.9,134.4 525.9,134.4 524.9,135.1 523.9,134.6 522.9,134.9 521.9,134.2 520.9,134.9 519.9,134.6 518.9,134.3 517.9,134.3 516.9,135.0 515.9,134.1 514.9,133.7 513.9,133.8 512.9,133.6 511.9,134.2 510.9,134.2 509.9,134.4 508.9,133.9 508.0,133.4 507.0,133.9 506.0,134.6 505.0,134.2 504.0,134.0 503.0,134.4 502.0,134.2 501.0,133.5 500.0,133.9 499.0,133.5 498.0,133.9 497.0,133.5 496.0,133.1 495.0,133.4 494.0,133.8 493.0,133.8 492.0,132.7 491.0,132.9 490.0,133.3 489.0,134.3 488.0,133.6 487.0,133.4 486.0,132.7 485.0,133.2 484.0,132.4 483.0,132.7 482.0,133.0 481.0,132.7 480.0,132.1 479.0,131.7 478.0,131.9 477.0,132.3 476.0,132.0 475.0,132.1 474.0,132.2 473.0,133.2 472.0,132.5 471.0,132.0 470.0,132.2 469.0,132.1 468.0,132.7 467.0,132.3 466.0,132.1 465.0,132.0 464.0,131.2 463.0,131.5 462.0,131.2 461.0,131.8 460.0,130.9 459.0,130.6 458.0,130.3 457.0,130.5 456.0,130.8 455.0,130.4 454.0,131.1 453.0,130.0 452.0,130.3 451.0,130.9 450.0,130.9 449.0,130.0 448.0,129.7 447.0,129.7 446.0,129.6 445.0,130.0 444.0,130.4 443.0,129.3 442.0,129.9 441.0,130.5 440.0,130.2 439.0,130.3 438.0,129.6 437.0,129.8 436.0,129.9 435.0,130.2 434.0,129.4 433.0,129.9 432.0,129.8 431.0,129.2 430.0,129.4 429.0,129.8 428.0,129.3 427.0,128.9 426.0,129.6 425.0,128.8 424.0,129.3 423.0,129.0 422.0,129.4 421.0,129.8 420.0,129.1 419.0,129.4 418.0,128.9 417.0,129.2 416.0,128.8 415.0,129.8 414.0,129.4 413.0,129.2 412.0,128.5 411.0,128.3 410.0,128.7 409.0,127.7 408.0,127.9 407.0,128.7 406.0,128.5 405.0,128.2 404.0,127.6 403.0,128.1 402.0,128.7 401.0,128.4 400.0,128.1 399.0,127.7 398.0,127.0 397.0,127.5 396.0,128.5 395.0,129.0 394.0,128.9 393.0,130.8 392.0,132.8 391.0,135.2 390.0,135.9 388.8,135.0 387.5,135.3 386.5,140.0 385.5,143.6 384.6,164.6 383.7,182.2 382.5,164.8" fill="#06A4FF" fill-opacity="0.1"/>
<polygon points="382.5,100.0 383.8,138.7 384.6,121.8 385.5,102.3 386.8,100.7 388.0,98.6 389.0,100.3 390.0,101.0 391.0,102.1 392.0,104.0 393.0,105.2 394.0,106.9 395.0,106.8 396.0,106.9 397.0,107.3 398.0,108.3 399.0,108.6 400.0,110.1 401.0,110.6 402.0,111.7 403.0,111.2 404.0,112.2 405.0,111.9 406.0,112.6 407.0,113.1 408.0,112.7 409.0,112.7 410.0,112.4 411.0,113.2 412.0,113.4 413.0,113.8 414.0,113.2 415.0,112.9 416.0,113.9 417.0,113.8 418.0,114.9 419.0,115.0 420.0,114.4 421.0,115.1 422.0,115.4 423.0,115.3 424.0,116.0 425.0,116.2 426.0,116.2 427.0,116.3 428.0,116.2 429.0,116.0 430.0,115.6 431.0,115.7 432.0,115.6 433.0,115.5 434.0,116.0 435.0,116.5 436.0,115.8 437.0,115.3 438.0,115.9 439.0,116.2 440.0,115.7 441.0,116.5 442.0,115.9 443.0,116.9 444.0,117.1 445.0,117.6 446.0,117.3 447.0,117.1 448.0,116.9 449.0,117.5 450.0,117.6 451.0,116.5 452.0,116.6 453.0,117.0 454.0,117.6 455.0,117.4 456.0,116.9 457.0,117.4 458.0,116.8 459.0,116.3 460.0,117.3 461.0,116.8 462.0,116.6 463.0,116.6 464.0,117.3 465.0,117.4 466.0,117.7 467.0,118.2 468.0,117.3 469.0,116.9 470.0,117.7 471.0,118.2 472.0,118.8 473.0,117.7 474.0,118.3 475.0,118.9 476.0,119.3 477.0,118.6 478.0,117.8 479.0,118.3 480.0,118.9 481.0,118.2 482.0,119.0 483.0,118.3 484.0,119.2 485.0,119.4 486.0,119.7 487.0,119.3 488.0,118.5 489.0,119.3 490.0,118.9 491.0,119.2 492.0,119.7 493.0,118.9 494.0,119.8 495.0,119.5 496.0,119.3 497.0,120.1 498.0,119.6 499.0,119.7 500.0,119.5 501.0,119.5 502.0,119.5 503.0,119.0 504.0,118.7 505.0,118.9 506.0,119.7 507.0,120.2 508.0,120.8 508.9,120.7 509.9,120.4 510.9,120.6 511.9,120.0 512.9,120.0 513.9,119.8 514.9,120.4 515.9,121.1 516.9,121.0 517.9,120.8 518.9,121.4 519.9,120.4 520.9,120.8 521.9,121.4 522.9,121.4 523.9,120.8 524.9,121.1 525.9,121.0 526.9,121.8 527.9,120.9 528.9,120.6 529.9,120.8 530.9,120.7 531.9,121.1 532.9,121.9 533.9,121.4 534.9,122.2 535.8,121.4 536.8,121.6 537.8,122.1 538.8,122.6 539.8,122.4 540.8,122.3 541.8,122.5 542.8,123.3 543.8,123.0 544.8,122.6 545.8,122.6 546.8,122.4 547.8,123.3 548.8,122.7 549.8,122.8 550.8,123.2 551.8,123.4 552.8,123.4 553.9,123.9 554.9,123.3 555.9,123.7 556.9,124.1 557.9,123.2 558.9,123.2 559.9,123.6 561.0,123.0 562.0,122.9 563.0,123.3 564.0,124.0 565.0,124.4 566.0,123.4 567.0,123.0 568.0,123.5 569.0,123.1 570.0,122.9 571.0,123.7 572.0,123.8 573.0,124.4 574.0,123.6 575.0,124.5 576.0,124.9 577.0,124.5 578.0,124.4 579.0,123.7 580.0,123.8 581.0,124.3 582.0,123.9 583.0,123.4 584.0,123.7 585.0,123.5 586.0,123.5 587.0,123.7 588.0,123.4 589.0,124.2 590.0,124.8 591.0,125.0 592.0,125.3 593.0,125.6 594.0,125.5 595.0,124.9 596.0,124.7 597.1,123.9 598.1,124.0 599.1,124.1 600.1,123.7 601.1,123.5 602.1,124.1 603.1,124.7 604.1,125.1 605.1,125.5 606.1,124.7 607.1,125.2 608.1,125.0 609.1,124.8 610.2,124.1 611.2,125.0 612.2,125.0 613.2,124.4 614.2,124.4 615.2,124.1 616.2,124.3 616.2,131.3 615.2,131.1 614.2,131.4 613.2,131.3 612.2,131.9 611.2,131.9 610.2,131.0 609.1,131.6 608.1,131.8 607.1,132.0 606.1,131.4 605.1,132.2 604.1,131.8 603.1,131.3 602.1,130.7 601.1,130.1 600.1,130.2 599.1,130.7 598.1,130.5 597.1,130.4 596.0,131.2 595.0,131.3 594.0,131.8 593.0,131.9 592.0,131.6 591.0,131.3 590.0,131.0 589.0,130.4 588.0,129.6 587.0,129.9 586.0,129.6 585.0,129.6 584.0,129.7 583.0,129.5 582.0,130.0 581.0,130.3 580.0,129.8 579.0,129.6 578.0,130.2 577.0,130.4 576.0,130.8 575.0,130.3 574.0,129.3 573.0,130.2 572.0,129.6 571.0,129.5 570.0,128.7 569.0,128.9 568.0,129.3 567.0,128.8 566.0,129.2 565.0,130.3 564.0,129.9 563.0,129.1 562.0,128.8 561.0,128.9 559.9,129.5 558.9,129.0 557.9,129.0 556.9,130.0 555.9,129.5 554.9,129.2 553.9,129.9 552.8,129.3 551.8,129.3 550.8,129.1 549.8,128.7 548.8,128.6 547.8,129.3 546.8,128.4 545.8,128.6 544.8,128.6 543.8,129.0 542.8,129.3 541.8,128.5 540.8,128.3 539.8,128.4 538.8,128.6 537.8,128.1 536.8,127.6 535.8,127.4 534.9,128.2 533.9,127.5 532.9,128.0 531.9,127.2 530.9,126.8 529.9,127.0 528.9,126.7 527.9,127.0 526.9,128.0 525.9,127.1 524.9,127.3 523.9,127.0 522.9,127.6 521.9,127.6 520.9,127.0 519.9,126.6 518.9,127.7 517.9,127.1 516.9,127.3 515.9,127.4 514.9,126.7 513.9,126.1 512.9,126.4 511.9,126.3 510.9,127.0 509.9,126.8 508.9,127.1 508.0,127.2 507.0,126.6 506.0,126.1 505.0,125.3 504.0,125.2 503.0,125.5 502.0,126.0 501.0,126.0 500.0,126.1 499.0,126.3 498.0,126.2 497.0,126.7 496.0,125.9 495.0,126.1 494.0,126.4 493.0,125.5 492.0,126.4 491.0,125.9 490.0,125.6 489.0,126.0 488.0,125.3 487.0,126.1 486.0,126.5 485.0,126.2 484.0,126.1 483.0,125.2 482.0,125.9 481.0,125.1 480.0,125.8 479.0,125.3 478.0,124.8 477.0,125.6 476.0,126.3 475.0,125.9 474.0,125.5 473.0,124.9 472.0,126.0 471.0,125.4 470.0,125.0 469.0,124.1 468.0,124.6 467.0,125.6 466.0,125.1 465.0,124.8 464.0,124.7 463.0,124.1 462.0,124.1 461.0,124.3 460.0,124.8 459.0,123.9 458.0,124.4 457.0,125.1 456.0,124.6 455.0,125.1 454.0,125.3 453.0,124.8 452.0,124.5 451.0,124.4 450.0,125.5 449.0,125.5 448.0,125.0 447.0,125.2 446.0,125.4 445.0,125.8 444.0,125.3 443.0,125.2 442.0,124.3 441.0,124.9 440.0,124.2 439.0,124.7 438.0,124.5 437.0,124.0 436.0,124.5 435.0,125.3 434.0,124.9 433.0,124.4 432.0,124.6 431.0,124.8 430.0,124.8 429.0,125.2 428.0,125.5 427.0,125.7 426.0,125.7 425.0,125.8 424.0,125.6 423.0,125.1 422.0,125.3 421.0,125.1 420.0,124.5 419.0,125.2 418.0,125.2 417.0,124.3 416.0,124.5 415.0,123.7 414.0,124.1 413.0,124.9 412.0,124.6 411.0,124.5 410.0,123.9 409.0,124.4 408.0,124.6 407.0,125.2 406.0,124.8 405.0,124.4 404.0,124.9 403.0,124.1 402.0,124.8 401.0,124.0 400.0,123.8 399.0,122.7 398.0,122.7 397.0,122.0 396.0,122.0 395.0,122.3 394.0,123.0 393.0,121.9 392.0,121.4 391.0,120.4 390.0,120.5 389.0,121.3 388.0,121.6 386.8,127.3 385.5,134.2 384.6,158.7 383.8,182.5 382.5,159.0" fill="#A58AFF" fill-opacity="0.1"/>
<polygon points="382.5,90.8 383.7,133.9 384.6,113.4 385.5,96.8 386.5,98.1 387.5,98.7 388.8,99.1 390.0,97.6 390.9,98.2 391.9,98.2 392.8,96.9 393.8,97.4 394.7,97.2 395.6,97.2 396.5,97.0 397.4,96.3 398.4,96.9 399.4,98.2 400.4,98.0 401.4,98.3 402.5,99.3 403.6,100.2 404.6,101.3 405.7,101.7 406.8,101.9 407.9,102.2 409.0,101.2 410.0,100.9 411.1,101.8 412.2,101.8 413.2,101.9 414.1,101.8 415.1,101.2 416.0,101.5 417.0,101.4 417.9,101.5 418.9,102.0 419.9,101.5 420.8,102.2 421.8,101.5 422.7,100.9 423.7,101.2 424.6,101.0 425.6,100.7 426.6,101.5 427.7,101.8 428.7,102.4 429.8,102.9 430.8,102.1 431.8,102.2 432.9,102.0 433.9,101.8 435.0,101.8 436.0,101.9 437.0,102.1 437.9,102.4 438.9,103.0 439.8,103.0 440.8,101.8 441.8,101.5 442.9,102.3 443.9,102.7 445.0,102.3 446.0,101.6 447.1,100.9 448.1,100.6 449.2,101.7 450.2,102.0 451.2,102.0 452.3,102.1 453.3,101.9 454.3,102.0 455.4,101.7 456.4,102.4 457.4,102.6 458.4,102.7 459.5,102.2 460.5,101.8 461.5,101.7 462.6,102.8 463.6,103.6 464.6,103.7 465.5,103.9 466.5,103.6 467.5,103.6 468.5,103.3 469.4,104.1 470.4,103.4 471.4,104.2 472.5,104.9 473.5,104.3 474.5,104.7 475.6,104.7 476.6,105.4 477.6,104.8 478.6,105.2 479.7,105.4 480.7,105.3 481.7,105.4 482.8,105.4 483.8,105.9 484.8,106.2 485.8,106.4 486.8,105.7 487.9,106.7 488.9,106.8 489.9,106.4 490.9,107.1 491.9,107.5 492.9,106.5 493.9,106.5 494.9,106.1 495.9,106.8 497.0,107.0 498.0,106.5 499.0,106.8 500.0,107.5 501.1,107.5 502.1,107.2 503.2,106.9 504.2,106.5 505.3,106.9 506.4,107.9 507.4,107.8 508.5,107.4 509.5,107.1 510.6,108.3 511.6,109.0 512.6,108.0 513.7,108.5 514.7,107.8 515.7,108.6 516.7,108.5 517.8,108.5 518.8,109.0 519.8,109.0 520.9,109.0 521.9,108.8 522.9,109.4 523.8,109.7 524.8,109.7 525.8,108.9 526.7,109.2 527.7,110.1 528.6,109.9 529.6,109.3 530.6,110.0 531.5,110.6 532.5,110.5 533.5,110.7 534.4,110.0 535.4,111.1 536.4,111.0 537.5,110.4 538.5,110.2 539.5,111.5 540.6,111.2 541.6,112.2 542.6,112.2 543.6,112.5 544.7,111.8 545.7,112.6 546.7,112.8 547.8,113.1 548.8,112.9 549.8,112.6 550.8,113.4 551.8,113.4 552.8,113.8 553.9,114.1 554.9,113.8 555.9,113.2 556.9,113.3 557.9,113.4 558.9,113.4 559.9,114.5 561.0,114.4 562.0,114.6 563.0,114.0 564.0,114.4 565.0,114.5 566.0,115.1 567.0,115.4 568.1,115.5 569.1,115.7 570.1,116.1 571.1,115.5 572.1,114.8 573.2,114.7 574.2,114.7 575.2,115.5 576.2,114.9 577.2,115.3 578.2,115.9 579.3,115.7 580.3,115.8 581.3,114.9 582.3,115.7 583.3,116.3 584.4,115.2 585.4,114.9 586.4,115.3 587.4,115.2 588.4,114.9 589.3,114.9 590.3,115.7 591.3,115.9 592.3,116.2 593.3,115.7 594.2,116.1 595.2,116.2 596.2,116.2 597.2,116.9 598.2,116.5 599.2,116.3 600.1,116.0 601.1,116.3 602.1,116.8 603.1,116.8 604.1,117.1 605.1,116.3 606.1,116.9 607.1,117.5 608.1,117.2 609.2,117.3 610.2,117.1 611.2,117.3 612.2,117.5 613.2,118.1 614.2,117.2 615.2,117.8 616.2,117.6 616.2,124.6 615.2,124.8 614.2,124.2 613.2,125.1 612.2,124.4 611.2,124.1 610.2,123.9 609.2,124.2 608.1,124.0 607.1,124.2 606.1,123.6 605.1,123.0 604.1,123.7 603.1,123.4 602.1,123.5 601.1,122.9 600.1,122.5 599.2,122.8 598.2,123.0 597.2,123.3 596.2,122.7 595.2,122.6 594.2,122.5 593.3,122.0 592.3,122.6 591.3,122.1 590.3,121.9 589.3,121.1 588.4,121.1 587.4,121.4 586.4,121.5 585.4,121.0 584.4,121.3 583.3,122.3 582.3,121.7 581.3,120.9 580.3,121.7 579.3,121.6 578.2,121.8 577.2,121.2 576.2,120.8 575.2,121.3 574.2,120.4 573.2,120.5 572.1,120.6 571.1,121.3 570.1,121.9 569.1,121.5 568.1,121.3 567.0,121.2 566.0,120.9 565.0,120.3 564.0,120.2 563.0,119.8 562.0,120.4 561.0,120.3 559.9,120.4 558.9,119.3 557.9,119.3 556.9,119.2 555.9,119.1 554.9,119.7 553.9,120.0 552.8,119.8 551.8,119.3 550.8,119.3 549.8,118.6 548.8,118.8 547.8,119.0 546.7,118.8 545.7,118.6 544.7,117.8 543.6,118.5 542.6,118.2 541.6,118.2 540.6,117.2 539.5,117.6 538.5,116.2 537.5,116.4 536.4,117.1 535.4,117.2 534.4,116.1 533.5,116.7 532.5,116.6 531.5,116.7 530.6,116.1 529.6,115.4 528.6,116.0 527.7,116.3 526.7,115.4 525.8,115.0 524.8,115.8 523.8,115.9 522.9,115.6 521.9,115.1 520.9,115.2 519.8,115.3 518.8,115.3 517.8,114.7 516.7,114.8 515.7,114.9 514.7,114.1 513.7,114.8 512.6,114.3 511.6,115.4 510.6,114.7 509.5,113.5 508.5,113.8 507.4,114.2 506.4,114.3 505.3,113.4 504.2,113.0 503.2,113.3 502.1,113.7 501.1,114.0 500.0,114.0 499.0,113.4 498.0,113.0 497.0,113.6 495.9,113.4 494.9,112.7 493.9,113.2 492.9,113.1 491.9,114.2 490.9,113.8 489.9,113.2 488.9,113.5 487.9,113.4 486.8,112.5 485.8,113.3 484.8,113.1 483.8,112.8 482.8,112.3 481.7,112.3 480.7,112.3 479.7,112.4 478.6,112.2 477.6,111.9 476.6,112.5 475.6,111.8 474.5,111.8 473.5,111.4 472.5,112.0 471.4,111.4 470.4,110.6 469.4,111.4 468.5,110.5 467.5,110.9 466.5,110.9 465.5,111.3 464.6,111.1 463.6,111.0 462.6,110.2 461.5,109.2 460.5,109.4 459.5,109.7 458.4,110.4 457.4,110.3 456.4,110.1 455.4,109.4 454.3,109.8 453.3,109.7 452.3,110.0 451.2,109.9 450.2,109.9 449.2,109.7 448.1,108.6 447.1,109.0 446.0,109.7 445.0,110.5 443.9,110.9 442.9,110.6 441.8,109.8 440.8,110.3 439.8,111.5 438.9,111.5 437.9,111.0 437.0,110.7 436.0,110.7 435.0,110.6 433.9,110.6 432.9,110.9 431.8,111.2 430.8,111.2 429.8,112.0 428.7,111.6 427.7,111.2 426.6,111.0 425.6,110.3 424.6,110.6 423.7,110.9 422.7,110.7 421.8,111.4 420.8,112.2 419.9,111.6 418.9,112.2 417.9,111.9 417.0,111.9 416.0,112.1 415.1,111.9 414.1,112.7 413.2,112.9 412.2,112.9 411.1,113.1 410.0,112.4 409.0,112.9 407.9,114.1 406.8,114.0 405.7,114.0 404.6,113.8 403.6,113.0 402.5,112.4 401.4,111.6 400.4,111.6 399.4,112.1 398.4,111.1 397.4,110.8 396.5,111.9 395.6,112.5 394.7,112.9 393.8,113.6 392.8,113.7 391.9,115.7 390.9,116.6 390.0,117.1 388.8,120.6 387.5,123.0 386.5,125.6 385.5,128.7 384.6,150.7 383.7,178.6 382.5,149.8" fill="#DF70F8" fill-opacity="0.1"/>
<polygon points="382.5,110.0 383.9,145.6 384.7,131.1 385.5,113.3 386.8,113.5 388.0,111.4 389.0,112.8 390.0,116.4 391.0,119.2 392.0,120.3 393.0,120.8 393.9,120.3 394.9,120.2 395.9,120.7 396.8,120.8 397.8,122.2 398.8,122.1 399.7,122.7 400.7,122.5 401.6,122.8 402.6,123.3 403.6,124.0 404.5,124.1 405.5,124.8 406.5,125.2 407.6,124.8 408.6,125.4 409.6,125.0 410.7,125.8 411.7,126.5 412.7,127.1 413.7,127.4 414.8,127.2 415.8,127.8 416.8,127.7 417.9,127.8 418.9,126.9 419.9,126.5 420.9,126.6 421.9,127.6 422.9,128.2 423.9,128.4 425.0,128.0 426.0,127.4 427.0,127.4 428.0,128.2 429.0,127.6 430.0,128.3 431.0,128.5 431.9,128.6 432.9,128.4 433.9,128.5 434.8,128.6 435.8,129.7 436.8,129.2 437.7,129.5 438.7,130.3 439.6,130.2 440.6,130.2 441.6,131.5 442.5,131.3 443.5,132.4 444.5,132.2 445.6,132.5 446.6,132.1 447.6,132.3 448.7,132.2 449.7,132.9 450.7,132.2 451.7,132.3 452.8,132.9 453.8,133.5 454.8,132.7 455.9,133.7 456.9,132.9 457.9,132.9 458.8,133.1 459.8,133.0 460.8,134.0 461.7,133.4 462.7,133.5 463.6,133.8 464.6,134.5 465.6,133.8 466.5,134.3 467.5,135.0 468.5,134.2 469.4,134.4 470.4,135.4 471.4,134.8 472.5,134.8 473.5,135.4 474.5,136.0 475.6,136.2 476.6,135.8 477.6,136.7 478.6,137.1 479.7,136.5 480.7,136.7 481.7,136.4 482.8,137.7 483.8,138.2 484.8,138.3 485.8,138.2 486.9,137.6 487.9,137.8 488.9,137.8 489.9,138.5 490.9,139.1 491.9,139.3 493.0,139.6 494.0,139.6 495.0,139.5 496.0,139.8 496.9,139.9 497.9,140.5 498.9,140.9 499.8,141.2 500.8,140.8 501.8,141.0 502.7,141.0 503.7,141.1 504.6,141.0 505.6,140.9 506.6,140.9 507.5,141.8 508.5,142.0 509.5,142.3 510.6,142.3 511.6,142.7 512.6,143.3 513.7,143.6 514.7,143.4 515.7,143.3 516.7,143.0 517.8,142.5 518.8,142.3 519.8,143.3 520.9,144.1 521.9,143.4 522.9,143.1 523.8,143.1 524.8,144.2 525.8,143.9 526.7,144.5 527.7,143.8 528.6,144.9 529.6,144.7 530.6,145.0 531.5,145.2 532.5,144.8 533.5,144.9 534.4,145.6 535.4,145.2 536.4,145.6 537.5,144.9 538.5,144.8 539.5,145.4 540.6,146.3 541.6,145.9 542.6,145.6 543.6,146.5 544.7,146.2 545.7,146.9 546.7,146.8 547.8,146.5 548.8,147.0 549.8,146.9 550.8,147.5 551.8,148.1 552.8,147.6 553.9,147.7 554.9,147.4 555.9,147.3 556.9,148.2 557.9,148.1 558.9,148.0 559.9,148.2 561.0,148.4 562.0,147.8 563.0,147.8 564.0,148.4 565.0,148.8 566.0,148.4 566.9,147.0 567.9,147.5 568.8,147.1 569.8,147.4 570.7,146.1 571.7,146.4 572.7,146.9 573.6,146.2 574.6,146.1 575.6,145.5 576.6,146.2 577.6,145.5 578.5,145.8 579.5,146.0 580.5,145.6 581.5,146.5 582.5,147.0 583.5,146.2 584.4,146.3 585.4,145.7 586.4,145.3 587.4,145.5 588.4,145.4 589.3,145.7 590.3,146.0 591.3,145.7 592.3,146.4 593.3,146.8 594.2,147.0 595.2,147.2 596.2,146.8 597.2,146.9 598.2,146.9 599.2,147.8 600.1,147.7 601.1,147.4 602.1,147.1 603.1,147.7 604.1,147.4 605.1,146.5 606.1,146.5 607.1,146.8 608.1,147.0 609.2,146.5 610.2,146.5 611.2,145.7 612.2,145.8 613.2,145.2 614.2,145.2 615.2,145.6 616.2,145.0 616.2,152.1 615.2,152.6 614.2,152.2 613.2,152.1 612.2,152.7 611.2,152.6 610.2,153.4 609.2,153.4 608.1,153.8 607.1,153.5 606.1,153.2 605.1,153.2 604.1,154.1 603.1,154.4 602.1,153.7 601.1,154.0 600.1,154.2 599.2,154.3 598.2,153.3 597.2,153.4 596.2,153.2 595.2,153.6 594.2,153.3 593.3,153.2 592.3,152.7 591.3,152.0 590.3,152.2 589.3,151.9 588.4,151.6 587.4,151.6 586.4,151.4 585.4,151.8 584.4,152.4 583.5,152.3 582.5,153.1 581.5,152.5 580.5,151.6 579.5,151.9 578.5,151.7 577.6,151.4 576.6,152.0 575.6,151.3 574.6,151.9 573.6,152.0 572.7,152.7 571.7,152.2 570.7,151.9 569.8,153.2 568.8,152.9 567.9,153.3 566.9,152.8 566.0,154.2 565.0,154.6 564.0,154.3 563.0,153.6 562.0,153.6 561.0,154.2 559.9,154.1 558.9,153.9 557.9,154.0 556.9,154.1 555.9,153.2 554.9,153.3 553.9,153.6 552.8,153.5 551.8,154.0 550.8,153.5 549.8,152.8 548.8,153.0 547.8,152.5 546.7,152.8 545.7,152.8 544.7,152.2 543.6,152.5 542.6,151.6 541.6,151.9 540.6,152.3 539.5,151.4 538.5,150.8 537.5,151.0 536.4,151.6 535.4,151.2 534.4,151.6 533.5,151.0 532.5,150.9 531.5,151.4 530.6,151.1 529.6,150.8 528.6,151.1 527.7,150.0 526.7,150.6 525.8,150.1 524.8,150.4 523.8,149.3 522.9,149.3 521.9,149.6 520.9,150.4 519.8,149.5 518.8,148.5 517.8,148.7 516.7,149.2 515.7,149.6 514.7,149.7 513.7,149.9 512.6,149.6 511.6,149.1 510.6,148.6 509.5,148.7 508.5,148.4 507.5,148.2 506.6,147.3 505.6,147.3 504.6,147.5 503.7,147.6 502.7,147.5 501.8,147.5 500.8,147.4 499.8,147.7 498.9,147.5 497.9,147.0 496.9,146.5 496.0,146.4 495.0,146.1 494.0,146.2 493.0,146.2 491.9,146.0 490.9,145.8 489.9,145.2 488.9,144.6 487.9,144.5 486.9,144.4 485.8,145.0 484.8,145.2 483.8,145.1 482.8,144.6 481.7,143.3 480.7,143.6 479.7,143.5 478.6,144.1 477.6,143.7 476.6,142.9 475.6,143.3 474.5,143.1 473.5,142.5 472.5,142.0 471.4,141.9 470.4,142.6 469.4,141.6 468.5,141.4 467.5,142.3 466.5,141.6 465.6,141.1 464.6,141.9 463.6,141.2 462.7,141.0 461.7,140.8 460.8,141.5 459.8,140.5 458.8,140.7 457.9,140.6 456.9,140.6 455.9,141.4 454.8,140.5 453.8,141.3 452.8,140.7 451.7,140.2 450.7,140.1 449.7,140.8 448.7,140.3 447.6,140.4 446.6,140.3 445.6,140.6 444.5,140.5 443.5,140.6 442.5,139.6 441.6,139.9 440.6,138.6 439.6,138.7 438.7,138.8 437.7,138.2 436.8,137.8 435.8,138.4 434.8,137.4 433.9,137.4 432.9,137.4 431.9,137.7 431.0,137.6 430.0,137.5 429.0,136.9 428.0,137.6 427.0,136.8 426.0,136.9 425.0,137.6 423.9,138.1 422.9,138.0 421.9,137.5 420.9,136.6 419.9,136.6 418.9,137.2 417.9,138.1 416.8,138.2 415.8,138.4 414.8,138.0 413.7,138.4 412.7,138.2 411.7,137.7 410.7,137.2 409.6,136.6 408.6,137.1 407.6,136.8 406.5,137.4 405.5,137.1 404.5,136.7 403.6,136.8 402.6,136.3 401.6,136.0 400.7,136.0 399.7,136.5 398.8,136.2 397.8,136.6 396.8,135.6 395.9,135.9 394.9,135.8 393.9,136.4 393.0,137.5 392.0,137.7 391.0,137.5 390.0,135.9 389.0,133.9 388.0,134.4 386.8,140.1 385.5,145.2 384.7,167.7 383.9,188.5 382.5,169.0" fill="#FB61D7" fill-opacity="0.1"/>
<polygon points="382.5,96.9 383.8,126.0 384.9,117.8 386.0,110.4 387.0,110.7 388.0,109.5 389.0,109.9 390.0,110.5 391.0,110.0 392.0,110.2 393.0,110.7 394.0,110.8 395.0,111.9 396.0,112.7 397.0,113.1 398.0,113.3 399.0,113.2 400.0,114.1 401.0,114.7 402.0,114.5 403.0,114.5 404.0,115.1 405.0,115.4 406.0,115.4 407.0,115.5 408.0,115.5 409.0,115.1 410.0,115.6 411.0,116.5 412.0,115.7 413.0,116.3 414.0,116.5 415.0,117.1 416.0,116.3 417.0,116.5 418.0,115.8 419.0,115.5 420.0,116.1 421.0,115.8 422.0,115.5 423.0,116.4 424.0,116.6 425.0,116.7 426.0,116.6 427.0,117.1 428.0,116.9 429.0,116.5 430.0,117.2 431.0,117.2 431.9,116.9 432.9,117.0 433.9,118.1 434.8,118.6 435.8,118.6 436.8,119.0 437.7,118.9 438.7,118.8 439.6,118.7 440.6,119.8 441.6,120.1 442.5,121.0 443.5,121.4 444.5,121.1 445.6,121.5 446.6,121.1 447.6,121.2 448.7,121.8 449.7,121.8 450.7,121.2 451.7,121.0 452.8,122.0 453.8,122.3 454.8,121.6 455.9,122.7 456.9,122.4 457.9,122.5 458.8,122.2 459.8,123.1 460.8,123.0 461.7,122.8 462.7,124.1 463.6,123.8 464.6,123.7 465.6,124.0 466.5,124.4 467.5,124.0 468.5,124.4 469.4,125.2 470.4,125.8 471.4,125.4 472.5,125.5 473.5,125.8 474.5,126.5 475.6,126.8 476.6,126.0 477.6,126.7 478.6,126.4 479.7,126.1 480.7,126.4 481.7,126.5 482.8,126.8 483.8,126.5 484.8,127.7 485.8,128.2 486.9,127.5 487.9,127.5 488.9,127.9 489.9,127.8 490.9,128.8 491.9,128.8 493.0,128.3 494.0,127.9 495.0,128.5 496.0,128.8 496.9,129.3 497.9,129.1 498.9,129.3 499.8,130.0 500.8,129.2 501.8,128.9 502.7,129.5 503.7,129.1 504.6,129.8 505.6,129.3 506.6,129.4 507.5,130.2 508.5,130.5 509.5,131.2 510.6,131.0 511.6,130.4 512.6,130.0 513.7,130.1 514.7,130.5 515.7,131.1 516.7,130.9 517.8,130.4 518.8,130.2 519.8,131.0 520.9,131.9 521.9,132.3 522.9,132.7 523.8,132.0 524.8,132.1 525.8,131.7 526.7,132.5 527.7,132.0 528.6,131.7 529.6,132.7 530.6,133.3 531.5,132.8 532.5,133.4 533.5,133.3 534.4,132.6 535.4,132.6 536.4,132.8 537.5,133.0 538.5,133.5 539.5,133.2 540.6,133.1 541.6,132.7 542.6,133.0 543.6,132.8 544.7,134.2 545.7,134.1 546.7,134.2 547.8,134.5 548.8,135.1 549.8,134.9 550.8,134.5 551.8,134.5 552.8,134.2 553.9,134.7 554.9,134.5 555.9,134.8 556.9,134.5 557.9,134.5 558.9,135.0 559.9,135.1 561.0,134.7 562.0,135.3 563.0,136.1 564.0,135.9 565.0,135.5 566.0,135.7 567.0,135.3 568.0,135.4 569.0,135.6 570.0,136.3 571.0,136.0 572.0,135.7 573.0,135.2 574.0,134.9 575.0,135.7 576.0,135.9 577.0,135.5 578.0,135.5 579.0,136.0 580.0,135.2 581.0,135.0 582.0,135.5 583.0,135.7 584.0,135.5 585.0,135.0 586.0,136.0 587.0,135.3 588.0,135.9 589.0,135.4 590.0,135.1 591.0,134.8 592.0,136.0 593.0,136.5 594.0,136.2 595.0,135.7 596.0,135.6 597.1,135.3 598.1,135.3 599.1,135.3 600.1,135.0 601.1,135.7 602.1,136.0 603.1,135.5 604.1,135.7 605.1,135.9 606.1,136.5 607.1,136.7 608.1,137.1 609.1,136.0 610.2,135.5 611.2,135.8 612.2,136.2 613.2,136.8 614.2,136.6 615.2,135.8 616.2,135.8 616.2,142.8 615.2,142.8 614.2,143.6 613.2,143.8 612.2,143.1 611.2,142.7 610.2,142.4 609.1,142.8 608.1,143.9 607.1,143.5 606.1,143.2 605.1,142.6 604.1,142.4 603.1,142.2 602.1,142.6 601.1,142.3 600.1,141.5 599.1,141.8 598.1,141.8 597.1,141.8 596.0,142.0 595.0,142.1 594.0,142.5 593.0,142.8 592.0,142.3 591.0,141.1 590.0,141.3 589.0,141.6 588.0,142.1 587.0,141.4 586.0,142.1 585.0,141.1 584.0,141.6 583.0,141.7 582.0,141.5 581.0,140.9 580.0,141.2 579.0,141.9 578.0,141.4 577.0,141.4 576.0,141.7 575.0,141.5 574.0,140.7 573.0,141.0 572.0,141.5 571.0,141.7 570.0,142.1 569.0,141.4 568.0,141.2 567.0,141.1 566.0,141.5 565.0,141.3 564.0,141.8 563.0,141.9 562.0,141.2 561.0,140.6 559.9,141.0 558.9,140.9 557.9,140.4 556.9,140.3 555.9,140.7 554.9,140.4 553.9,140.6 552.8,140.1 551.8,140.4 550.8,140.4 549.8,140.9 548.8,141.0 547.8,140.4 546.7,140.2 545.7,140.1 544.7,140.1 543.6,138.8 542.6,139.0 541.6,138.7 540.6,139.1 539.5,139.3 538.5,139.6 537.5,139.0 536.4,138.9 535.4,138.7 534.4,138.7 533.5,139.4 532.5,139.5 531.5,138.9 530.6,139.4 529.6,138.8 528.6,137.8 527.7,138.1 526.7,138.7 525.8,137.8 524.8,138.3 523.8,138.2 522.9,138.9 521.9,138.5 520.9,138.2 519.8,137.3 518.8,136.4 517.8,136.7 516.7,137.2 515.7,137.4 514.7,136.8 513.7,136.4 512.6,136.4 511.6,136.8 510.6,137.3 509.5,137.6 508.5,136.9 507.5,136.6 506.6,135.8 505.6,135.7 504.6,136.3 503.7,135.5 502.7,136.0 501.8,135.4 500.8,135.7 499.8,136.6 498.9,135.9 497.9,135.7 496.9,135.9 496.0,135.4 495.0,135.1 494.0,134.6 493.0,135.0 491.9,135.5 490.9,135.5 489.9,134.5 488.9,134.7 487.9,134.3 486.9,134.3 485.8,135.1 484.8,134.5 483.8,133.4 482.8,133.7 481.7,133.5 480.7,133.3 479.7,133.1 478.6,133.4 477.6,133.7 476.6,133.1 475.6,133.9 474.5,133.6 473.5,132.9 472.5,132.6 471.4,132.6 470.4,133.0 469.4,132.4 468.5,131.6 467.5,131.3 466.5,131.7 465.6,131.3 464.6,131.1 463.6,131.2 462.7,131.6 461.7,130.3 460.8,130.6 459.8,130.7 458.8,129.8 457.9,130.2 456.9,130.0 455.9,130.4 454.8,129.4 453.8,130.1 452.8,129.8 451.7,128.8 450.7,129.1 449.7,129.8 448.7,129.8 447.6,129.2 446.6,129.2 445.6,129.6 444.5,129.3 443.5,129.6 442.5,129.4 441.6,128.5 440.6,128.2 439.6,127.2 438.7,127.4 437.7,127.5 436.8,127.7 435.8,127.4 434.8,127.4 433.9,127.0 432.9,126.0 431.9,125.9 431.0,126.3 430.0,126.4 429.0,125.8 428.0,126.2 427.0,126.5 426.0,126.1 425.0,126.3 424.0,126.3 423.0,126.2 422.0,125.4 421.0,125.8 420.0,126.2 419.0,125.7 418.0,126.1 417.0,127.0 416.0,126.9 415.0,127.8 414.0,127.4 413.0,127.3 412.0,126.9 411.0,127.9 410.0,127.1 409.0,126.8 408.0,127.4 407.0,127.5 406.0,127.7 405.0,127.8 404.0,127.7 403.0,127.4 402.0,127.7 401.0,128.1 400.0,127.8 399.0,127.2 398.0,127.7 397.0,127.8 396.0,127.8 395.0,127.5 394.0,126.8 393.0,127.4 392.0,127.6 391.0,128.3 390.0,130.0 389.0,130.9 388.0,132.5 387.0,136.5 386.0,139.9 384.9,153.1 383.8,169.8 382.5,155.9" fill="#FF66A8" fill-opacity="0.1"/>
<path d="M382.7,159.9 L384.0,149.6 L384.8,148.7 L385.5,144.5 L386.5,145.2 L387.5,143.0 L388.5,140.7 L389.4,140.0 L390.2,138.4 L391.1,136.6 L392.0,135.7 L392.9,135.2 L393.8,133.9 L394.7,134.0 L395.6,133.7 L396.5,134.4 L397.4,134.3 L398.3,134.8 L399.2,136.2 L400.1,137.9 L401.2,138.4 L402.3,139.1 L403.3,138.9 L404.4,139.2 L405.5,139.5 L406.5,140.1 L407.4,141.0 L408.4,140.8 L409.3,141.4 L410.3,140.6 L411.2,140.5 L412.2,141.2 L413.2,141.4 L414.1,141.4 L415.1,140.4 L416.0,140.4 L417.0,139.8 L417.9,140.2 L418.9,140.0 L419.9,140.5 L420.8,141.0 L421.8,141.7 L422.7,141.4 L423.7,142.2 L424.6,141.7 L425.6,142.5 L426.6,141.4 L427.7,141.7 L428.7,142.1 L429.8,141.7 L430.8,141.2 L431.8,141.5 L432.9,141.6 L433.9,141.4 L435.0,140.7 L436.0,140.6 L436.9,139.7 L437.9,140.0 L438.8,139.8 L439.8,140.2 L440.7,139.4 L441.6,139.5 L442.6,139.1 L443.5,139.2 L444.5,140.1 L445.6,140.1 L446.6,139.9 L447.6,139.2 L448.7,138.5 L449.7,137.9 L450.7,138.3 L451.7,139.1 L452.8,139.0 L453.8,138.1 L454.8,138.8 L455.9,137.9 L456.9,137.1 L457.9,137.4 L458.8,137.3 L459.8,136.7 L460.8,137.6 L461.7,137.1 L462.7,136.9 L463.6,136.3 L464.6,135.9 L465.6,137.0 L466.5,137.5 L467.5,137.3 L468.5,136.2 L469.4,135.8 L470.4,135.5 L471.4,135.3 L472.5,136.4 L473.5,136.4 L474.5,135.8 L475.6,135.9 L476.6,136.3 L477.6,136.6 L478.6,136.8 L479.7,136.3 L480.7,137.1 L481.7,136.5 L482.8,136.7 L483.8,137.3 L484.8,136.7 L485.8,136.3 L486.9,137.6 L487.9,137.8 L488.9,137.3 L489.9,137.7 L490.9,137.1 L491.9,138.0 L493.0,137.3 L494.0,137.0 L495.0,137.1 L496.0,137.8 L497.0,138.4 L498.0,137.8 L499.0,138.3 L500.0,138.0 L501.0,138.0 L502.0,138.2 L503.0,137.7 L504.0,138.2 L505.0,137.9 L506.0,137.4 L507.0,137.9 L508.0,138.0 L508.9,137.3 L509.9,138.3 L510.9,138.6 L511.9,138.2 L512.9,138.5 L513.9,138.7 L514.9,137.6 L515.9,137.2 L516.9,137.6 L517.9,137.7 L518.9,138.1 L519.9,137.5 L520.9,137.2 L521.9,137.4 L522.9,138.5 L523.8,137.6 L524.8,138.6 L525.8,138.6 L526.7,138.2 L527.7,137.7 L528.6,137.9 L529.6,138.1 L530.6,137.6 L531.5,137.9 L532.5,138.9 L533.5,139.5 L534.4,139.4 L535.4,138.9 L536.4,139.4 L537.5,138.4 L538.5,139.0 L539.5,139.3 L540.6,138.6 L541.6,138.7 L542.6,138.8 L543.6,139.4 L544.7,139.5 L545.7,139.0 L546.7,139.6 L547.8,139.5 L548.8,139.9 L549.8,139.5 L550.8,139.3 L551.8,139.2 L552.8,138.9 L553.9,139.7 L554.9,139.9 L555.9,139.7 L556.9,139.9 L557.9,140.1 L558.9,140.7 L559.9,139.8 L561.0,139.3 L562.0,140.2 L563.0,140.8 L564.0,140.8 L565.0,140.5 L566.0,141.0 L567.0,141.2 L568.1,140.1 L569.1,140.4 L570.1,140.8 L571.1,140.2 L572.1,140.7 L573.2,141.1 L574.2,140.7 L575.2,140.4 L576.2,140.5 L577.2,140.9 L578.2,140.8 L579.3,141.3 L580.3,140.9 L581.3,140.4 L582.3,139.9 L583.3,140.5 L584.4,140.6 L585.4,140.7 L586.4,141.3 L587.4,141.4 L588.4,141.2 L589.4,140.8 L590.4,140.0 L591.4,140.0 L592.4,139.6 L593.4,139.6 L594.3,140.3 L595.3,140.0 L596.3,140.1 L597.3,139.9 L598.3,139.4 L599.3,139.8 L600.3,139.6 L601.3,139.0 L602.3,138.8 L603.3,139.0 L604.3,139.3 L605.3,138.2 L606.3,137.7 L607.3,138.1 L608.3,137.8 L609.2,137.4 L610.2,138.2 L611.2,138.2 L612.2,137.4 L613.2,138.2 L614.2,137.7 L615.2,136.9 L616.2,136.4" fill="none" stroke="#F8766D" stroke-width="0.9" stroke-linejoin="round"/>
<path d="M383.0,138.0 L384.2,123.2 L385.1,118.1 L386.0,114.8 L387.2,117.7 L388.5,119.4 L389.8,117.6 L391.0,116.6 L392.0,115.9 L393.0,116.2 L394.0,115.6 L395.0,114.4 L396.0,114.4 L397.0,114.2 L398.0,114.0 L398.9,113.3 L399.9,113.6 L400.8,112.9 L401.8,112.6 L402.7,112.2 L403.6,111.9 L404.6,111.6 L405.5,112.2 L406.5,112.4 L407.4,111.6 L408.4,112.0 L409.3,111.5 L410.3,112.1 L411.2,112.0 L412.2,112.2 L413.2,112.4 L414.1,112.4 L415.1,112.2 L416.0,111.4 L417.0,110.7 L417.9,110.9 L418.9,110.9 L419.9,111.6 L420.8,112.0 L421.8,111.2 L422.7,111.1 L423.7,111.6 L424.6,111.5 L425.6,112.3 L426.6,111.3 L427.7,111.4 L428.7,112.1 L429.8,112.6 L430.8,112.2 L431.8,111.7 L432.9,111.9 L433.9,111.7 L435.0,112.1 L436.0,111.9 L437.0,111.6 L438.0,112.1 L439.0,112.7 L440.0,112.6 L441.0,112.8 L442.0,112.9 L443.0,112.9 L444.0,112.2 L445.0,112.4 L446.0,113.4 L447.0,113.3 L448.0,113.8 L449.0,114.3 L450.0,113.3 L451.0,113.8 L452.0,113.8 L453.0,113.1 L454.0,113.1 L455.0,113.6 L456.0,113.8 L457.0,114.6 L458.0,114.3 L459.0,114.8 L460.0,114.6 L461.0,115.3 L462.0,115.8 L463.0,114.8 L464.0,115.4 L465.0,114.7 L466.0,114.7 L467.0,115.6 L468.0,115.4 L469.0,114.7 L470.0,114.4 L471.0,115.8 L472.0,116.4 L473.0,117.0 L474.0,116.4 L475.0,116.1 L476.0,116.6 L477.0,116.0 L478.0,116.5 L479.0,116.2 L480.0,116.2 L481.0,117.1 L482.0,116.9 L483.0,118.0 L484.0,118.1 L485.0,118.1 L486.0,118.3 L487.0,117.8 L488.0,118.8 L489.0,117.9 L490.0,118.9 L491.0,118.9 L492.0,119.0 L493.0,119.1 L494.0,119.0 L495.0,118.7 L496.0,118.8 L496.9,119.3 L497.9,119.1 L498.9,119.7 L499.8,119.9 L500.8,119.0 L501.8,118.7 L502.7,119.7 L503.7,119.7 L504.6,119.2 L505.6,119.5 L506.6,119.8 L507.5,120.1 L508.5,120.0 L509.5,120.7 L510.6,119.6 L511.6,120.5 L512.6,120.6 L513.7,120.2 L514.7,119.7 L515.7,119.5 L516.7,120.2 L517.8,120.6 L518.8,120.6 L519.8,119.9 L520.9,119.7 L521.9,120.1 L522.9,119.9 L523.8,120.1 L524.8,119.8 L525.8,120.0 L526.7,120.7 L527.7,121.4 L528.6,120.7 L529.6,120.7 L530.6,120.9 L531.5,120.8 L532.5,121.1 L533.5,120.7 L534.4,120.8 L535.4,121.1 L536.4,122.2 L537.5,122.0 L538.5,122.5 L539.5,123.0 L540.6,123.2 L541.6,123.0 L542.6,122.8 L543.6,123.1 L544.7,123.0 L545.7,123.0 L546.7,123.2 L547.8,122.9 L548.8,123.6 L549.8,123.8 L550.7,123.5 L551.7,123.9 L552.7,123.7 L553.7,124.4 L554.6,124.9 L555.6,125.9 L556.6,125.2 L557.7,125.5 L558.7,126.0 L559.8,125.4 L560.8,125.5 L561.9,125.8 L562.9,125.3 L564.0,125.6 L565.0,126.4 L566.0,126.8 L566.9,127.0 L567.9,125.7 L568.9,126.0 L569.8,126.3 L570.8,125.8 L571.8,125.4 L572.7,125.8 L573.7,125.5 L574.6,126.2 L575.6,125.7 L576.6,126.2 L577.5,126.2 L578.5,125.7 L579.5,126.0 L580.5,126.5 L581.4,126.5 L582.4,125.8 L583.4,125.3 L584.4,125.8 L585.4,126.3 L586.4,126.3 L587.3,125.8 L588.3,126.2 L589.3,126.5 L590.3,126.2 L591.3,126.6 L592.2,126.7 L593.2,127.2 L594.2,126.1 L595.2,127.1 L596.1,127.4 L597.1,126.7 L598.1,126.5 L599.0,126.8 L600.0,127.4 L601.0,127.8 L602.0,127.8 L602.9,128.6 L603.9,128.5 L604.9,128.7 L605.8,129.1 L606.8,129.5 L607.8,128.5 L608.9,127.7 L609.9,127.9 L611.0,128.4 L612.0,128.6 L613.1,128.2 L614.1,127.2 L615.2,127.4 L616.2,127.8" fill="none" stroke="#E38900" stroke-width="0.9" stroke-linejoin="round"/>
<path d="M383.0,146.2 L384.3,129.3 L385.1,124.8 L386.0,120.0 L387.0,122.6 L388.0,125.4 L389.0,123.2 L390.0,122.4 L391.0,119.5 L392.0,119.5 L393.0,118.6 L394.0,118.6 L395.0,118.8 L396.0,119.1 L397.0,118.6 L398.0,118.8 L399.0,118.1 L400.0,117.5 L401.0,117.7 L402.0,118.2 L403.0,118.4 L404.0,117.5 L405.0,117.4 L406.0,117.3 L407.0,117.6 L408.0,118.4 L409.0,117.8 L410.0,117.2 L411.0,118.2 L412.0,118.6 L413.0,118.7 L414.0,117.6 L415.0,117.4 L416.0,117.1 L417.0,118.1 L418.0,117.4 L419.0,117.0 L420.0,116.9 L421.0,117.8 L422.0,117.3 L423.0,118.2 L424.0,117.6 L425.0,117.8 L426.0,117.2 L427.0,117.1 L428.0,117.9 L429.0,118.4 L430.0,117.6 L431.0,117.4 L432.0,116.8 L433.0,116.8 L434.0,117.1 L435.0,117.5 L436.0,117.8 L437.0,117.6 L438.0,117.3 L439.0,117.7 L440.0,117.7 L441.0,117.6 L442.0,118.6 L443.0,118.5 L444.0,117.7 L445.0,118.7 L446.0,119.2 L447.0,118.6 L448.0,119.3 L449.0,118.3 L450.0,119.0 L451.0,118.4 L452.0,119.1 L453.0,119.2 L454.0,119.7 L455.0,119.0 L456.0,119.3 L457.0,119.8 L458.0,119.0 L459.0,118.6 L460.0,119.1 L461.0,118.7 L462.0,118.4 L463.0,118.3 L464.0,118.7 L465.0,119.4 L466.0,119.6 L467.0,119.9 L468.0,119.2 L469.0,119.0 L470.0,119.6 L471.0,119.4 L472.0,119.0 L473.0,119.0 L474.0,119.9 L475.0,120.8 L476.0,120.6 L477.0,119.8 L478.0,119.7 L479.0,120.4 L480.0,121.0 L481.0,120.4 L482.0,120.5 L483.0,120.0 L484.0,120.5 L485.0,121.1 L486.0,121.1 L487.0,121.5 L488.0,120.9 L489.0,121.3 L490.0,121.2 L491.0,121.4 L492.0,120.8 L493.0,121.0 L494.0,121.4 L495.0,121.1 L496.0,121.4 L497.0,120.8 L498.0,121.2 L499.0,122.1 L500.0,122.2 L501.0,122.1 L502.0,122.6 L503.0,122.6 L504.0,122.4 L505.0,122.1 L506.0,122.7 L507.0,122.6 L508.0,122.4 L509.0,122.2 L510.0,121.8 L511.0,121.7 L512.0,122.3 L513.0,122.5 L514.0,123.0 L515.0,122.8 L516.0,122.6 L517.0,122.8 L518.0,122.5 L519.0,123.5 L520.0,123.5 L521.0,123.0 L522.0,123.1 L523.0,123.6 L524.0,124.1 L525.0,124.0 L526.0,124.3 L527.0,124.3 L527.9,123.7 L528.9,123.5 L529.9,123.5 L530.9,122.9 L531.9,123.4 L532.9,123.6 L533.9,124.1 L534.9,123.7 L535.9,124.5 L536.9,124.6 L537.9,124.4 L538.9,123.8 L539.9,124.6 L540.9,124.6 L541.8,124.6 L542.8,124.0 L543.8,123.7 L544.8,123.6 L545.8,124.6 L546.8,124.4 L547.8,124.8 L548.8,124.9 L549.8,125.5 L550.9,125.2 L551.9,125.0 L552.9,126.2 L554.0,125.8 L555.0,127.0 L556.0,126.6 L557.0,125.9 L558.0,125.9 L559.1,126.7 L560.1,126.6 L561.1,126.1 L562.1,125.8 L563.1,125.7 L564.1,126.4 L565.1,126.5 L566.1,127.0 L567.2,126.5 L568.2,126.5 L569.2,126.9 L570.2,126.8 L571.2,127.3 L572.2,127.0 L573.2,127.6 L574.2,127.7 L575.3,127.5 L576.3,127.8 L577.3,127.5 L578.3,128.2 L579.3,128.3 L580.3,127.7 L581.3,128.3 L582.3,128.2 L583.4,128.6 L584.4,128.6 L585.4,128.9 L586.4,128.6 L587.4,128.1 L588.4,128.5 L589.4,129.1 L590.4,128.8 L591.4,128.9 L592.4,128.9 L593.4,128.5 L594.3,128.1 L595.3,128.6 L596.3,128.2 L597.3,128.5 L598.3,129.2 L599.3,128.9 L600.3,128.9 L601.3,129.8 L602.3,129.7 L603.3,129.6 L604.3,129.1 L605.3,129.7 L606.3,129.4 L607.3,129.9 L608.3,130.5 L609.2,130.7 L610.2,129.9 L611.2,130.6 L612.2,130.6 L613.2,129.9 L614.2,129.4 L615.2,129.5 L616.2,130.0" fill="none" stroke="#C49A00" stroke-width="0.9" stroke-linejoin="round"/>
<path d="M383.0,148.1 L384.3,133.6 L385.1,130.2 L386.0,125.3 L387.0,127.2 L388.0,127.9 L389.0,129.1 L390.0,127.5 L391.0,126.3 L392.0,125.1 L393.0,124.0 L394.0,122.8 L395.0,123.6 L396.0,122.5 L396.9,122.9 L397.9,123.8 L398.9,123.1 L399.8,122.7 L400.8,122.6 L401.7,122.4 L402.6,123.1 L403.6,122.7 L404.6,122.2 L405.5,122.7 L406.5,122.8 L407.6,122.9 L408.6,122.8 L409.6,124.2 L410.7,124.3 L411.7,124.9 L412.7,125.1 L413.7,126.0 L414.8,125.4 L415.8,126.1 L416.8,126.9 L417.9,126.6 L418.9,126.9 L419.9,126.8 L420.9,126.7 L421.9,127.7 L422.9,127.2 L423.9,127.7 L424.9,126.9 L425.9,127.7 L426.9,127.1 L428.0,127.9 L429.0,127.3 L430.0,127.2 L431.0,127.3 L432.0,127.4 L433.0,128.2 L434.0,128.3 L435.0,127.7 L436.0,127.6 L437.0,127.7 L438.0,128.2 L439.0,128.3 L440.0,128.0 L441.0,128.3 L442.0,128.6 L443.0,128.6 L444.0,128.7 L445.0,128.5 L446.0,128.5 L446.9,128.0 L447.9,127.7 L448.9,127.3 L449.9,126.7 L450.9,127.0 L451.9,126.4 L452.9,126.9 L453.9,126.3 L454.9,125.4 L455.9,126.1 L456.9,125.8 L457.9,125.0 L458.8,125.9 L459.8,126.3 L460.8,126.7 L461.7,126.3 L462.7,125.6 L463.6,125.4 L464.6,125.8 L465.6,126.2 L466.5,126.3 L467.5,125.9 L468.5,125.5 L469.4,126.6 L470.4,127.2 L471.4,127.6 L472.5,127.2 L473.5,126.4 L474.5,126.4 L475.6,126.9 L476.6,127.7 L477.6,127.9 L478.6,127.3 L479.7,128.2 L480.7,128.4 L481.7,128.2 L482.8,128.7 L483.8,128.5 L484.8,128.5 L485.8,127.7 L486.9,127.3 L487.9,128.4 L488.9,128.2 L489.9,128.6 L490.9,128.2 L491.9,128.0 L493.0,127.4 L494.0,128.3 L495.0,127.8 L496.0,128.3 L496.9,127.7 L497.9,127.7 L498.9,127.3 L499.8,128.1 L500.8,128.8 L501.8,128.8 L502.7,128.8 L503.7,128.2 L504.6,129.0 L505.6,128.2 L506.6,128.0 L507.5,128.4 L508.5,128.7 L509.5,128.4 L510.6,128.7 L511.6,128.2 L512.6,127.9 L513.7,128.3 L514.7,128.7 L515.7,129.5 L516.7,129.2 L517.8,129.8 L518.8,129.9 L519.8,130.3 L520.9,130.1 L521.9,129.6 L522.9,129.8 L523.8,130.0 L524.8,129.5 L525.8,129.1 L526.7,129.3 L527.7,129.7 L528.6,129.2 L529.6,129.5 L530.6,129.4 L531.5,130.5 L532.5,130.4 L533.5,130.6 L534.4,130.1 L535.4,130.4 L536.4,131.3 L537.5,131.7 L538.5,132.0 L539.5,131.1 L540.6,131.7 L541.6,132.0 L542.6,131.6 L543.6,131.4 L544.7,132.1 L545.7,131.7 L546.7,131.4 L547.8,131.9 L548.8,132.0 L549.8,131.9 L550.8,131.9 L551.8,132.3 L552.8,132.5 L553.9,132.2 L554.9,132.8 L555.9,132.1 L556.9,131.8 L557.9,131.8 L558.9,131.2 L559.9,131.7 L561.0,131.9 L562.0,131.7 L563.0,131.9 L564.0,132.0 L565.0,132.2 L566.0,132.3 L567.0,132.0 L568.1,131.9 L569.1,132.5 L570.1,131.7 L571.1,132.5 L572.1,131.7 L573.2,131.4 L574.2,131.6 L575.2,132.6 L576.2,131.9 L577.2,131.3 L578.2,132.0 L579.3,132.0 L580.3,131.4 L581.3,132.3 L582.3,132.2 L583.3,132.3 L584.4,131.5 L585.4,131.9 L586.4,131.2 L587.4,131.2 L588.4,131.7 L589.4,132.6 L590.4,133.0 L591.4,132.0 L592.4,132.7 L593.4,133.0 L594.3,132.0 L595.3,131.4 L596.3,131.4 L597.3,132.5 L598.3,132.0 L599.3,132.2 L600.3,132.5 L601.3,132.3 L602.3,132.1 L603.3,132.3 L604.3,132.8 L605.3,132.2 L606.3,131.6 L607.3,132.0 L608.3,132.9 L609.2,133.3 L610.2,132.3 L611.2,132.8 L612.2,133.3 L613.2,133.5 L614.2,132.4 L615.2,131.8 L616.2,132.2" fill="none" stroke="#99A800" stroke-width="0.9" stroke-linejoin="round"/>
<path d="M383.0,129.5 L384.2,109.9 L385.1,110.3 L386.0,108.3 L387.0,110.6 L388.0,112.1 L389.0,114.1 L390.0,114.2 L391.0,116.7 L392.0,115.2 L393.0,114.4 L394.0,115.2 L395.0,116.0 L396.0,116.0 L397.0,116.0 L398.0,114.7 L399.0,114.1 L400.0,114.0 L401.0,113.7 L402.0,113.5 L403.0,113.5 L404.0,113.5 L405.0,113.4 L406.0,114.1 L407.0,114.5 L408.0,113.5 L409.0,113.6 L410.0,114.0 L411.0,113.0 L412.0,113.9 L413.0,113.8 L414.0,113.5 L415.0,113.2 L416.0,113.8 L417.0,113.5 L418.0,113.2 L419.0,113.8 L420.0,112.9 L421.0,112.8 L422.0,113.4 L423.0,113.6 L424.0,113.5 L425.0,113.5 L426.0,112.5 L427.0,112.7 L428.0,112.5 L429.0,113.1 L430.0,113.3 L431.0,112.7 L431.9,113.0 L432.9,112.5 L433.9,112.3 L434.8,112.7 L435.8,113.2 L436.8,113.3 L437.7,112.5 L438.7,112.0 L439.6,113.0 L440.6,113.0 L441.6,113.0 L442.5,113.3 L443.5,113.8 L444.5,113.8 L445.6,113.8 L446.6,113.6 L447.6,113.9 L448.7,114.2 L449.7,114.2 L450.7,114.9 L451.7,114.4 L452.8,115.0 L453.8,115.5 L454.8,115.5 L455.9,115.1 L456.9,115.1 L457.9,114.9 L458.8,115.5 L459.8,115.8 L460.8,115.1 L461.7,115.1 L462.7,115.7 L463.6,115.2 L464.6,115.8 L465.6,115.9 L466.5,115.4 L467.5,115.5 L468.5,116.4 L469.4,115.7 L470.4,116.0 L471.4,116.9 L472.5,116.4 L473.5,117.0 L474.5,116.7 L475.6,117.4 L476.6,117.8 L477.6,117.8 L478.6,117.1 L479.7,117.8 L480.7,117.4 L481.7,117.9 L482.8,118.0 L483.8,118.0 L484.8,117.7 L485.8,118.1 L486.9,118.6 L487.9,118.7 L488.9,118.7 L489.9,117.9 L490.9,117.5 L491.9,118.0 L493.0,117.9 L494.0,118.5 L495.0,118.2 L496.0,118.7 L496.9,117.4 L497.9,118.1 L498.9,117.4 L499.8,117.7 L500.8,117.6 L501.8,117.6 L502.7,117.2 L503.7,117.4 L504.6,117.7 L505.6,117.0 L506.6,117.1 L507.5,116.9 L508.5,116.9 L509.5,116.5 L510.4,116.4 L511.4,115.5 L512.4,115.2 L513.4,115.7 L514.3,114.7 L515.3,115.0 L516.3,114.6 L517.3,114.3 L518.2,113.7 L519.2,114.0 L520.2,113.4 L521.3,113.4 L522.3,113.0 L523.4,113.3 L524.4,112.9 L525.5,113.4 L526.5,113.6 L527.6,113.1 L528.6,112.9 L529.6,113.3 L530.6,114.4 L531.5,114.4 L532.5,114.6 L533.5,114.1 L534.5,114.8 L535.5,114.2 L536.5,115.3 L537.4,115.3 L538.4,115.1 L539.4,115.8 L540.4,115.3 L541.5,115.4 L542.5,116.2 L543.6,116.8 L544.6,116.4 L545.7,116.1 L546.7,116.8 L547.8,117.0 L548.8,117.8 L549.8,118.3 L550.8,118.5 L551.8,118.2 L552.8,118.5 L553.9,118.3 L554.9,117.5 L555.9,118.2 L556.9,117.2 L557.9,117.5 L558.9,117.2 L559.9,117.7 L561.0,117.8 L562.0,117.9 L563.0,118.4 L564.0,118.0 L565.0,117.9 L566.0,118.6 L567.0,118.1 L568.1,117.6 L569.1,117.8 L570.1,117.9 L571.1,118.0 L572.1,118.2 L573.2,117.9 L574.2,117.9 L575.2,118.7 L576.2,118.7 L577.2,119.0 L578.2,118.0 L579.3,118.3 L580.3,117.8 L581.3,117.6 L582.3,118.3 L583.3,118.7 L584.4,118.8 L585.4,118.5 L586.4,118.0 L587.4,118.9 L588.4,119.0 L589.3,118.2 L590.3,119.1 L591.3,118.4 L592.3,118.0 L593.3,118.3 L594.2,119.3 L595.2,118.9 L596.2,118.7 L597.2,119.3 L598.2,119.5 L599.2,120.2 L600.1,119.8 L601.1,119.5 L602.1,119.6 L603.1,119.0 L604.1,119.0 L605.1,119.8 L606.1,119.4 L607.1,120.2 L608.1,119.9 L609.2,119.5 L610.2,119.5 L611.2,119.5 L612.2,119.8 L613.2,120.4 L614.2,121.1 L615.2,120.7 L616.2,120.5" fill="none" stroke="#53B400" stroke-width="0.9" stroke-linejoin="round"/>
<path d="M382.6,124.7 L383.2,109.2 L384.1,108.0 L385.0,106.8 L385.9,106.9 L386.8,106.0 L387.6,108.1 L388.5,108.1 L389.4,107.9 L390.3,110.0 L391.2,110.5 L392.1,112.1 L393.0,112.3 L393.9,111.7 L395.0,112.3 L396.1,111.2 L397.1,111.6 L398.2,110.0 L399.3,109.6 L400.3,110.2 L401.2,110.0 L402.2,110.1 L403.1,109.9 L404.1,110.6 L405.1,111.0 L406.1,110.1 L407.2,110.1 L408.2,109.7 L409.2,110.1 L410.2,110.8 L411.2,110.6 L412.2,110.3 L413.2,110.1 L414.1,110.3 L415.1,110.8 L416.0,111.0 L417.0,110.0 L417.9,109.1 L418.9,109.9 L419.9,109.5 L420.8,110.1 L421.8,109.6 L422.7,110.1 L423.7,110.7 L424.6,111.5 L425.6,111.1 L426.6,111.1 L427.5,111.7 L428.5,111.7 L429.5,111.2 L430.5,111.4 L431.4,111.4 L432.4,112.3 L433.5,112.8 L434.5,112.4 L435.6,113.0 L436.7,113.9 L437.7,114.5 L438.6,114.8 L439.6,114.9 L440.6,114.9 L441.6,115.8 L442.5,115.7 L443.5,115.4 L444.5,115.4 L445.6,115.5 L446.6,115.7 L447.6,115.7 L448.7,115.9 L449.7,116.8 L450.7,116.3 L451.7,116.1 L452.8,116.2 L453.8,116.3 L454.8,117.6 L455.9,118.1 L456.9,118.4 L457.9,117.3 L458.8,117.9 L459.8,118.3 L460.8,117.7 L461.7,117.6 L462.7,117.9 L463.6,118.0 L464.6,118.1 L465.6,118.3 L466.5,118.9 L467.5,119.2 L468.5,119.6 L469.4,119.7 L470.4,118.9 L471.4,119.2 L472.5,118.8 L473.5,119.1 L474.5,119.1 L475.6,120.0 L476.6,119.7 L477.6,119.7 L478.6,119.5 L479.7,119.7 L480.7,120.1 L481.7,119.6 L482.8,120.6 L483.8,120.5 L484.8,120.0 L485.8,120.6 L486.9,119.7 L487.9,120.2 L488.9,120.0 L489.9,120.7 L490.9,119.7 L491.9,120.4 L493.0,120.4 L494.0,120.5 L495.0,120.0 L496.0,119.8 L496.9,120.1 L497.9,119.9 L498.9,120.7 L499.8,120.6 L500.8,121.0 L501.8,121.2 L502.7,120.5 L503.7,120.6 L504.6,120.1 L505.6,120.0 L506.6,119.9 L507.5,121.3 L508.5,121.2 L509.5,121.2 L510.6,121.7 L511.6,121.2 L512.6,120.9 L513.7,120.7 L514.7,120.8 L515.7,121.1 L516.7,121.3 L517.8,121.7 L518.8,121.8 L519.8,122.7 L520.9,122.7 L521.9,123.3 L522.9,123.1 L523.8,123.0 L524.8,123.6 L525.8,122.6 L526.7,123.4 L527.7,123.7 L528.6,122.7 L529.6,122.2 L530.6,122.4 L531.5,122.5 L532.5,123.1 L533.5,122.9 L534.4,123.4 L535.4,123.4 L536.4,123.1 L537.3,122.8 L538.3,123.2 L539.3,122.7 L540.3,122.9 L541.2,122.6 L542.2,123.1 L543.2,123.3 L544.2,123.1 L545.1,123.5 L546.1,123.6 L547.1,122.5 L548.0,122.7 L549.0,122.7 L549.9,122.7 L550.9,122.5 L551.8,122.9 L552.8,122.9 L553.7,122.9 L554.6,121.8 L555.6,121.7 L556.6,121.3 L557.7,122.1 L558.7,121.8 L559.8,120.8 L560.8,121.2 L561.9,120.3 L562.9,120.4 L564.0,119.9 L565.0,119.6 L566.0,120.1 L567.0,120.6 L568.0,119.7 L569.0,119.1 L570.0,119.8 L571.0,119.9 L572.0,119.7 L573.0,119.4 L574.0,118.2 L575.0,117.3 L576.0,116.7 L577.1,116.8 L578.1,115.8 L579.2,116.1 L580.2,115.1 L581.3,115.8 L582.3,115.5 L583.3,115.3 L584.2,114.6 L585.2,114.6 L586.1,114.6 L587.1,114.1 L588.1,113.4 L589.0,113.1 L590.0,113.1 L591.0,111.9 L592.0,112.0 L593.0,111.2 L594.0,111.3 L595.0,110.4 L596.0,111.1 L597.0,110.7 L598.0,110.6 L599.0,110.5 L600.0,110.1 L601.0,109.5 L602.0,109.8 L603.0,109.0 L604.0,108.7 L605.0,108.4 L606.0,107.7 L607.0,108.3 L608.0,108.2 L609.0,108.0 L610.0,106.7 L611.1,106.5 L612.1,106.3 L613.1,105.6 L614.2,105.5 L615.2,104.2 L616.2,104.1" fill="none" stroke="#00BC56" stroke-width="0.9" stroke-linejoin="round"/>
<path d="M382.7,157.7 L384.0,137.9 L384.8,132.5 L385.5,126.3 L386.8,123.5 L388.0,120.4 L389.2,118.4 L390.5,117.6 L391.8,119.4 L393.0,121.2 L394.1,121.7 L395.2,123.6 L396.3,124.2 L397.4,125.9 L398.4,127.0 L399.4,127.5 L400.4,128.5 L401.4,129.9 L402.4,131.2 L403.4,132.2 L404.5,134.3 L405.5,135.1 L406.5,135.7 L407.5,136.1 L408.5,138.0 L409.5,139.0 L410.6,138.7 L411.7,138.2 L412.7,137.3 L413.8,136.5 L414.9,136.7 L415.9,137.0 L416.8,137.2 L417.8,135.8 L418.7,134.8 L419.7,134.2 L420.6,133.8 L421.6,134.3 L422.6,134.5 L423.6,134.8 L424.6,134.3 L425.6,133.7 L426.7,134.4 L427.7,134.9 L428.7,133.8 L429.7,133.1 L430.7,133.0 L431.7,133.4 L432.7,134.2 L433.7,134.8 L434.7,134.4 L435.7,134.3 L436.7,134.8 L437.7,135.9 L438.6,136.5 L439.6,135.5 L440.6,135.2 L441.6,135.0 L442.5,135.8 L443.5,136.1 L444.5,136.7 L445.6,136.4 L446.6,137.0 L447.6,137.2 L448.7,136.7 L449.7,137.4 L450.7,137.3 L451.7,136.3 L452.8,137.0 L453.8,137.2 L454.8,137.5 L455.9,137.4 L456.9,137.1 L457.9,137.9 L458.9,138.3 L459.9,137.9 L460.9,138.4 L462.0,139.0 L463.0,139.2 L464.0,140.1 L465.0,140.1 L466.0,141.0 L467.0,141.0 L468.0,140.4 L469.0,140.4 L470.0,140.1 L471.1,140.5 L472.1,140.5 L473.1,140.4 L474.1,140.3 L475.1,140.4 L476.1,141.5 L477.1,140.8 L478.1,141.7 L479.0,141.1 L480.0,141.0 L481.0,140.6 L481.9,141.0 L482.9,141.8 L483.9,141.9 L484.8,141.0 L485.8,141.3 L486.7,140.9 L487.7,140.7 L488.7,140.7 L489.6,141.5 L490.6,141.3 L491.6,142.1 L492.7,142.0 L493.7,141.6 L494.8,141.2 L495.8,142.2 L496.9,142.3 L497.9,142.9 L499.0,142.3 L500.0,142.7 L501.1,143.3 L502.1,143.1 L503.2,143.8 L504.2,143.7 L505.3,143.2 L506.4,143.9 L507.4,143.8 L508.5,144.0 L509.5,144.5 L510.6,144.9 L511.6,144.5 L512.6,144.5 L513.7,145.1 L514.7,145.4 L515.7,144.7 L516.7,145.5 L517.8,145.7 L518.8,145.4 L519.8,144.9 L520.9,145.7 L521.9,145.9 L522.9,146.0 L523.8,145.9 L524.8,146.4 L525.8,146.3 L526.7,146.5 L527.7,146.1 L528.6,145.5 L529.6,145.4 L530.6,145.2 L531.5,146.2 L532.5,145.9 L533.5,145.7 L534.4,146.8 L535.4,147.0 L536.4,146.4 L537.5,146.1 L538.5,147.1 L539.5,148.0 L540.6,148.3 L541.6,148.4 L542.6,148.3 L543.6,147.8 L544.7,148.8 L545.7,149.3 L546.7,149.2 L547.8,148.3 L548.8,149.2 L549.8,149.4 L550.8,150.0 L551.8,149.6 L552.8,149.1 L553.9,150.4 L554.9,150.0 L555.9,151.0 L556.9,151.2 L557.9,151.5 L558.9,151.9 L559.9,152.4 L561.0,151.5 L562.0,151.3 L563.0,152.1 L564.0,152.0 L565.0,152.8 L566.0,153.5 L566.9,153.7 L567.9,153.2 L568.8,153.9 L569.8,154.5 L570.7,154.2 L571.7,153.8 L572.7,154.2 L573.6,154.0 L574.6,154.3 L575.6,154.4 L576.6,154.1 L577.6,154.9 L578.5,154.9 L579.5,155.3 L580.5,155.3 L581.5,155.4 L582.5,156.0 L583.5,155.5 L584.4,155.8 L585.4,155.4 L586.4,156.1 L587.4,155.8 L588.4,156.3 L589.3,156.2 L590.3,156.3 L591.3,156.6 L592.3,155.9 L593.3,156.6 L594.2,157.4 L595.2,157.5 L596.2,157.4 L597.2,157.7 L598.2,157.2 L599.2,157.4 L600.1,156.6 L601.1,156.7 L602.1,157.2 L603.1,157.4 L604.1,156.8 L605.1,155.9 L606.0,156.2 L607.0,156.1 L608.0,155.9 L609.0,154.5 L610.0,155.2 L611.0,156.3 L612.1,156.0 L613.1,157.4 L614.1,157.3 L615.2,158.5 L616.2,159.0" fill="none" stroke="#00C094" stroke-width="0.9" stroke-linejoin="round"/>
<path d="M382.6,155.0 L384.0,138.8 L384.9,136.4 L385.8,130.9 L386.9,128.3 L388.0,127.9 L389.0,126.6 L390.0,126.3 L391.0,125.9 L392.0,122.9 L393.0,121.2 L394.0,119.1 L395.0,118.4 L396.0,118.7 L397.1,117.1 L398.1,116.3 L399.1,115.1 L400.1,114.0 L401.1,114.3 L402.0,114.6 L403.0,116.2 L403.9,117.0 L404.9,117.2 L405.8,118.1 L406.8,119.1 L407.8,118.2 L408.8,118.2 L409.8,117.3 L410.9,117.1 L411.9,117.0 L412.9,117.0 L413.9,117.1 L414.9,116.7 L415.9,116.8 L416.9,117.5 L417.9,117.4 L418.9,117.9 L420.0,118.3 L421.0,118.8 L422.0,118.1 L423.0,117.9 L424.0,118.4 L425.0,118.0 L426.0,118.0 L427.0,117.8 L428.0,118.5 L429.0,118.2 L430.0,117.6 L431.0,118.3 L432.0,117.3 L433.0,117.2 L434.0,117.6 L435.0,117.4 L436.0,117.9 L437.0,118.5 L438.0,118.2 L439.0,117.9 L440.0,118.5 L441.0,118.4 L442.0,118.4 L443.0,118.2 L444.0,118.5 L445.0,118.8 L446.0,117.7 L446.9,117.4 L447.9,117.0 L448.9,117.1 L449.9,117.3 L450.9,117.5 L451.9,117.7 L452.9,118.0 L453.9,118.3 L454.9,117.6 L455.9,117.4 L456.9,118.4 L457.9,119.1 L458.8,118.1 L459.8,118.0 L460.8,118.4 L461.7,118.4 L462.7,118.0 L463.6,118.9 L464.6,118.9 L465.6,118.7 L466.5,118.4 L467.5,118.0 L468.5,118.0 L469.4,119.2 L470.4,119.7 L471.4,119.2 L472.5,119.3 L473.5,118.6 L474.5,119.7 L475.6,119.2 L476.6,119.7 L477.6,120.4 L478.6,120.2 L479.7,120.8 L480.7,120.1 L481.7,119.6 L482.8,119.3 L483.8,119.3 L484.8,119.7 L485.8,120.4 L486.9,120.5 L487.9,120.6 L488.9,120.9 L489.9,122.3 L490.9,123.3 L491.9,124.0 L493.0,124.4 L494.0,124.7 L495.0,124.2 L496.0,124.5 L497.0,124.5 L498.0,123.9 L499.0,124.7 L500.0,124.7 L501.0,124.4 L502.0,123.6 L503.0,124.2 L504.0,124.7 L505.0,124.5 L506.0,124.3 L507.0,125.0 L508.0,124.5 L508.9,125.0 L509.9,124.7 L510.9,123.8 L511.9,123.8 L512.9,124.7 L513.9,124.1 L514.9,123.6 L515.9,124.1 L516.9,124.1 L517.9,124.1 L518.9,123.9 L519.9,123.5 L520.9,123.8 L521.9,123.5 L522.9,123.6 L523.9,123.5 L524.9,123.7 L525.9,123.8 L526.9,124.8 L527.9,125.1 L528.9,124.5 L529.9,125.1 L530.9,125.6 L531.9,126.1 L532.9,125.4 L533.9,125.1 L534.9,125.2 L535.8,126.0 L536.8,126.2 L537.8,126.8 L538.8,126.2 L539.8,125.6 L540.8,126.4 L541.8,126.4 L542.8,126.9 L543.8,127.4 L544.8,127.1 L545.8,127.5 L546.8,128.0 L547.8,127.9 L548.8,127.5 L549.8,127.9 L550.8,127.9 L551.8,128.2 L552.8,128.1 L553.9,127.4 L554.9,127.6 L555.9,127.6 L556.9,128.2 L557.9,127.8 L558.9,127.5 L559.9,127.4 L561.0,127.1 L562.0,127.9 L563.0,128.3 L564.0,128.3 L565.0,128.4 L566.0,127.5 L567.0,127.7 L568.0,128.1 L569.0,128.2 L570.0,128.2 L571.0,127.9 L572.0,128.1 L573.0,128.3 L574.0,127.9 L575.0,128.3 L576.0,128.6 L577.0,129.3 L578.0,128.8 L579.0,129.2 L580.0,129.7 L581.0,128.8 L582.0,129.5 L583.0,128.6 L584.0,128.2 L585.0,128.7 L586.0,128.7 L587.0,129.1 L588.0,129.9 L589.0,130.1 L590.0,130.5 L591.0,129.9 L592.0,130.1 L593.0,129.8 L594.0,129.9 L595.0,129.4 L596.0,129.5 L597.1,130.6 L598.1,130.9 L599.1,131.0 L600.1,130.0 L601.1,130.5 L602.1,130.5 L603.1,131.0 L604.1,131.5 L605.1,130.6 L606.1,131.0 L607.1,131.1 L608.1,131.6 L609.1,130.9 L610.2,131.7 L611.2,131.5 L612.2,131.9 L613.2,131.2 L614.2,130.8 L615.2,131.1 L616.2,131.8" fill="none" stroke="#00BFC4" stroke-width="0.9" stroke-linejoin="round"/>
<path d="M382.5,124.0 L383.6,158.8 L384.4,136.4 L385.2,118.4 L386.5,109.4 L387.5,109.3 L388.4,109.7 L389.4,108.1 L390.3,106.4 L391.1,105.0 L392.0,102.4 L393.0,100.6 L394.0,98.9 L395.0,99.1 L396.0,97.4 L397.0,98.7 L398.1,99.1 L399.1,99.0 L400.1,99.7 L401.1,100.4 L402.1,101.4 L403.1,101.7 L404.1,102.6 L405.2,103.5 L406.4,103.7 L407.5,105.1 L408.6,104.5 L409.7,104.5 L410.8,104.4 L411.8,103.8 L412.9,103.1 L413.9,102.6 L414.9,101.3 L415.9,102.1 L416.9,102.9 L417.9,103.1 L418.9,103.4 L420.0,103.4 L421.1,103.0 L422.1,103.3 L423.2,103.2 L424.3,101.9 L425.4,102.2 L426.5,102.0 L427.5,102.0 L428.6,101.6 L429.7,102.1 L430.7,101.4 L431.7,101.4 L432.7,101.6 L433.6,101.3 L434.6,100.5 L435.6,100.2 L436.6,100.7 L437.6,101.3 L438.6,100.6 L439.6,101.1 L440.5,100.5 L441.5,100.7 L442.5,100.5 L443.5,100.1 L444.5,101.0 L445.6,100.7 L446.6,99.8 L447.7,99.8 L448.7,99.4 L449.8,99.9 L450.8,100.1 L451.9,99.7 L452.9,99.3 L453.9,98.8 L455.0,99.9 L456.0,99.3 L457.1,99.4 L458.1,99.9 L459.2,99.2 L460.2,99.3 L461.3,100.1 L462.3,100.3 L463.3,100.4 L464.3,99.7 L465.3,99.7 L466.4,99.6 L467.4,100.0 L468.4,100.8 L469.4,100.8 L470.4,101.4 L471.4,102.0 L472.3,101.7 L473.3,101.7 L474.3,102.5 L475.3,101.9 L476.2,101.8 L477.2,101.8 L478.2,102.6 L479.2,103.4 L480.1,103.2 L481.1,102.8 L482.1,103.0 L483.0,102.8 L484.0,103.9 L484.9,103.4 L485.9,103.3 L486.8,103.7 L487.8,104.1 L488.7,104.4 L489.7,105.0 L490.6,104.6 L491.6,105.1 L492.7,105.5 L493.7,105.6 L494.8,105.3 L495.8,105.6 L496.9,104.6 L497.9,104.8 L499.0,105.1 L500.0,105.2 L501.1,104.9 L502.1,105.6 L503.2,106.0 L504.2,106.2 L505.3,106.4 L506.4,106.6 L507.4,106.3 L508.5,105.8 L509.5,106.9 L510.6,106.2 L511.6,105.9 L512.6,106.9 L513.7,106.8 L514.7,106.1 L515.7,106.0 L516.7,106.1 L517.8,105.9 L518.8,106.6 L519.8,107.0 L520.9,107.0 L521.9,107.1 L522.9,106.6 L523.8,107.8 L524.8,107.4 L525.8,108.3 L526.7,108.2 L527.7,108.7 L528.6,108.7 L529.6,109.2 L530.6,109.5 L531.5,109.3 L532.5,108.9 L533.5,108.6 L534.4,109.9 L535.4,110.0 L536.4,110.0 L537.5,110.4 L538.5,110.4 L539.5,110.4 L540.6,111.2 L541.6,111.0 L542.6,110.9 L543.6,111.9 L544.7,112.4 L545.7,112.4 L546.7,112.9 L547.8,112.8 L548.8,112.5 L549.8,112.5 L550.8,113.3 L551.8,112.3 L552.8,112.1 L553.9,112.9 L554.9,112.7 L555.9,113.2 L556.9,112.9 L557.9,112.8 L558.9,112.7 L559.9,113.0 L561.0,113.5 L562.0,114.1 L563.0,114.2 L564.0,114.6 L565.0,114.4 L566.0,114.3 L567.0,113.5 L568.1,113.8 L569.1,114.6 L570.1,113.9 L571.1,113.7 L572.1,114.6 L573.2,114.3 L574.2,114.1 L575.2,113.8 L576.2,114.7 L577.2,114.1 L578.2,114.2 L579.3,114.3 L580.3,114.2 L581.3,115.2 L582.3,115.4 L583.3,115.2 L584.4,115.9 L585.4,115.9 L586.4,115.6 L587.4,115.7 L588.4,116.4 L589.3,115.9 L590.3,116.3 L591.3,115.5 L592.3,116.0 L593.3,116.2 L594.2,116.5 L595.2,116.1 L596.2,116.5 L597.2,117.0 L598.2,117.1 L599.2,116.4 L600.1,117.1 L601.1,117.6 L602.1,117.2 L603.1,117.0 L604.1,116.7 L605.1,117.3 L606.1,116.7 L607.1,116.9 L608.1,117.4 L609.2,117.7 L610.2,117.5 L611.2,118.3 L612.2,118.5 L613.2,117.5 L614.2,118.3 L615.2,117.9 L616.2,117.5" fill="none" stroke="#00B6EB" stroke-width="0.9" stroke-linejoin="round"/>
<path d="M382.5,135.3 L383.7,159.9 L384.6,145.9 L385.5,127.7 L386.5,126.3 L387.5,123.2 L388.8,124.2 L390.0,126.1 L391.0,126.0 L392.0,124.1 L393.0,122.5 L394.0,120.9 L395.0,121.2 L396.0,120.9 L397.0,120.1 L398.0,119.8 L399.0,120.7 L400.0,121.3 L401.0,121.7 L402.0,122.1 L403.0,121.6 L404.0,121.2 L405.0,122.0 L406.0,122.4 L407.0,122.6 L408.0,122.0 L409.0,121.9 L410.0,123.0 L411.0,122.6 L412.0,122.9 L413.0,123.7 L414.0,123.9 L415.0,124.4 L416.0,123.5 L417.0,123.9 L418.0,123.8 L419.0,124.3 L420.0,124.0 L421.0,124.8 L422.0,124.4 L423.0,124.1 L424.0,124.5 L425.0,124.0 L426.0,124.9 L427.0,124.2 L428.0,124.7 L429.0,125.2 L430.0,124.9 L431.0,124.7 L432.0,125.3 L433.0,125.4 L434.0,124.9 L435.0,125.8 L436.0,125.5 L437.0,125.4 L438.0,125.3 L439.0,126.0 L440.0,125.9 L441.0,126.3 L442.0,125.7 L443.0,125.2 L444.0,126.2 L445.0,125.9 L446.0,125.6 L447.0,125.6 L448.0,125.7 L449.0,126.0 L450.0,126.9 L451.0,126.9 L452.0,126.4 L453.0,126.1 L454.0,127.2 L455.0,126.6 L456.0,126.9 L457.0,126.7 L458.0,126.5 L459.0,126.8 L460.0,127.1 L461.0,128.0 L462.0,127.5 L463.0,127.7 L464.0,127.5 L465.0,128.4 L466.0,128.4 L467.0,128.6 L468.0,129.1 L469.0,128.5 L470.0,128.6 L471.0,128.4 L472.0,128.9 L473.0,129.6 L474.0,128.7 L475.0,128.5 L476.0,128.4 L477.0,128.7 L478.0,128.4 L479.0,128.3 L480.0,128.6 L481.0,129.3 L482.0,129.6 L483.0,129.3 L484.0,128.9 L485.0,129.8 L486.0,129.3 L487.0,130.0 L488.0,130.2 L489.0,130.9 L490.0,129.9 L491.0,129.6 L492.0,129.3 L493.0,130.5 L494.0,130.5 L495.0,130.1 L496.0,129.8 L497.0,130.2 L498.0,130.6 L499.0,130.2 L500.0,130.6 L501.0,130.3 L502.0,131.0 L503.0,131.2 L504.0,130.8 L505.0,131.0 L506.0,131.3 L507.0,130.7 L508.0,130.2 L508.9,130.7 L509.9,131.2 L510.9,131.0 L511.9,131.1 L512.9,130.5 L513.9,130.7 L514.9,130.6 L515.9,131.0 L516.9,131.8 L517.9,131.1 L518.9,131.2 L519.9,131.5 L520.9,131.7 L521.9,131.0 L522.9,131.8 L523.9,131.5 L524.9,132.0 L525.9,131.3 L526.9,131.3 L527.9,132.2 L528.9,132.4 L529.9,132.9 L530.9,132.8 L531.9,132.8 L532.9,132.9 L533.9,132.1 L534.9,132.5 L535.8,133.1 L536.8,133.3 L537.8,133.5 L538.8,133.7 L539.8,132.6 L540.8,133.3 L541.8,132.6 L542.8,132.6 L543.8,132.6 L544.8,133.5 L545.8,133.2 L546.8,133.5 L547.8,133.6 L548.8,134.2 L549.8,134.1 L550.8,133.2 L551.8,132.8 L552.8,133.1 L553.9,133.2 L554.9,133.4 L555.9,132.9 L556.9,133.2 L557.9,132.9 L558.9,132.9 L559.9,133.6 L561.0,133.4 L562.0,133.3 L563.0,134.1 L564.0,133.4 L565.0,133.6 L566.0,134.2 L567.0,133.8 L568.0,133.7 L569.0,134.4 L570.0,133.7 L571.0,133.7 L572.0,134.4 L573.0,135.0 L574.0,135.1 L575.0,135.5 L576.0,135.2 L577.0,135.3 L578.0,135.0 L579.0,134.9 L580.0,134.3 L581.0,134.2 L582.0,133.9 L583.0,133.6 L584.0,133.6 L585.0,133.7 L586.0,134.0 L587.0,134.4 L588.0,135.0 L589.0,134.3 L590.0,134.6 L591.0,134.5 L592.0,134.9 L593.0,135.2 L594.0,134.8 L595.0,134.6 L596.0,135.1 L597.1,134.8 L598.1,135.0 L599.1,135.8 L600.1,136.2 L601.1,136.5 L602.1,136.6 L603.1,136.2 L604.1,135.6 L605.1,136.0 L606.1,135.6 L607.1,136.4 L608.1,135.6 L609.1,135.7 L610.2,135.4 L611.2,136.2 L612.2,135.9 L613.2,136.9 L614.2,136.4 L615.2,136.2 L616.2,136.0" fill="none" stroke="#06A4FF" stroke-width="0.9" stroke-linejoin="round"/>
<path d="M382.5,129.5 L383.8,160.6 L384.6,140.3 L385.5,118.3 L386.8,114.0 L388.0,110.1 L389.0,110.8 L390.0,110.8 L391.0,111.2 L392.0,112.7 L393.0,113.6 L394.0,115.0 L395.0,114.5 L396.0,114.4 L397.0,114.7 L398.0,115.5 L399.0,115.6 L400.0,117.0 L401.0,117.3 L402.0,118.2 L403.0,117.7 L404.0,118.6 L405.0,118.1 L406.0,118.7 L407.0,119.2 L408.0,118.7 L409.0,118.6 L410.0,118.1 L411.0,118.9 L412.0,119.0 L413.0,119.4 L414.0,118.6 L415.0,118.3 L416.0,119.2 L417.0,119.1 L418.0,120.1 L419.0,120.1 L420.0,119.4 L421.0,120.1 L422.0,120.4 L423.0,120.2 L424.0,120.8 L425.0,121.0 L426.0,121.0 L427.0,121.0 L428.0,120.9 L429.0,120.6 L430.0,120.2 L431.0,120.3 L432.0,120.1 L433.0,119.9 L434.0,120.4 L435.0,120.9 L436.0,120.1 L437.0,119.7 L438.0,120.2 L439.0,120.5 L440.0,119.9 L441.0,120.7 L442.0,120.1 L443.0,121.1 L444.0,121.2 L445.0,121.7 L446.0,121.3 L447.0,121.2 L448.0,120.9 L449.0,121.5 L450.0,121.5 L451.0,120.4 L452.0,120.5 L453.0,120.9 L454.0,121.4 L455.0,121.2 L456.0,120.8 L457.0,121.3 L458.0,120.6 L459.0,120.1 L460.0,121.0 L461.0,120.6 L462.0,120.3 L463.0,120.4 L464.0,121.0 L465.0,121.1 L466.0,121.4 L467.0,121.9 L468.0,121.0 L469.0,120.5 L470.0,121.3 L471.0,121.8 L472.0,122.4 L473.0,121.3 L474.0,121.9 L475.0,122.4 L476.0,122.8 L477.0,122.1 L478.0,121.3 L479.0,121.8 L480.0,122.3 L481.0,121.7 L482.0,122.4 L483.0,121.7 L484.0,122.7 L485.0,122.8 L486.0,123.1 L487.0,122.7 L488.0,121.9 L489.0,122.7 L490.0,122.2 L491.0,122.5 L492.0,123.0 L493.0,122.2 L494.0,123.1 L495.0,122.8 L496.0,122.6 L497.0,123.4 L498.0,122.9 L499.0,123.0 L500.0,122.8 L501.0,122.8 L502.0,122.8 L503.0,122.3 L504.0,122.0 L505.0,122.1 L506.0,122.9 L507.0,123.4 L508.0,124.0 L508.9,123.9 L509.9,123.6 L510.9,123.8 L511.9,123.1 L512.9,123.2 L513.9,123.0 L514.9,123.6 L515.9,124.2 L516.9,124.2 L517.9,124.0 L518.9,124.5 L519.9,123.5 L520.9,123.9 L521.9,124.5 L522.9,124.5 L523.9,123.9 L524.9,124.2 L525.9,124.0 L526.9,124.9 L527.9,123.9 L528.9,123.7 L529.9,123.9 L530.9,123.7 L531.9,124.1 L532.9,124.9 L533.9,124.5 L534.9,125.2 L535.8,124.4 L536.8,124.6 L537.8,125.1 L538.8,125.6 L539.8,125.4 L540.8,125.3 L541.8,125.5 L542.8,126.3 L543.8,126.0 L544.8,125.6 L545.8,125.6 L546.8,125.4 L547.8,126.3 L548.8,125.7 L549.8,125.8 L550.8,126.2 L551.8,126.4 L552.8,126.3 L553.9,126.9 L554.9,126.3 L555.9,126.6 L556.9,127.0 L557.9,126.1 L558.9,126.1 L559.9,126.6 L561.0,126.0 L562.0,125.8 L563.0,126.2 L564.0,127.0 L565.0,127.3 L566.0,126.3 L567.0,125.9 L568.0,126.4 L569.0,126.0 L570.0,125.8 L571.0,126.6 L572.0,126.7 L573.0,127.3 L574.0,126.4 L575.0,127.4 L576.0,127.9 L577.0,127.5 L578.0,127.3 L579.0,126.6 L580.0,126.8 L581.0,127.3 L582.0,126.9 L583.0,126.5 L584.0,126.7 L585.0,126.6 L586.0,126.6 L587.0,126.8 L588.0,126.5 L589.0,127.3 L590.0,127.9 L591.0,128.1 L592.0,128.4 L593.0,128.8 L594.0,128.7 L595.0,128.1 L596.0,128.0 L597.1,127.2 L598.1,127.3 L599.1,127.4 L600.1,127.0 L601.1,126.8 L602.1,127.4 L603.1,128.0 L604.1,128.5 L605.1,128.9 L606.1,128.0 L607.1,128.6 L608.1,128.4 L609.1,128.2 L610.2,127.6 L611.2,128.5 L612.2,128.4 L613.2,127.8 L614.2,127.9 L615.2,127.6 L616.2,127.8" fill="none" stroke="#A58AFF" stroke-width="0.9" stroke-linejoin="round"/>
<path d="M382.5,120.3 L383.7,156.3 L384.6,132.1 L385.5,112.8 L386.5,111.8 L387.5,110.9 L388.8,109.9 L390.0,107.3 L390.9,107.4 L391.9,106.9 L392.8,105.3 L393.8,105.5 L394.7,105.1 L395.6,104.9 L396.5,104.4 L397.4,103.5 L398.4,104.0 L399.4,105.1 L400.4,104.8 L401.4,105.0 L402.5,105.9 L403.6,106.6 L404.6,107.5 L405.7,107.9 L406.8,107.9 L407.9,108.2 L409.0,107.1 L410.0,106.6 L411.1,107.4 L412.2,107.4 L413.2,107.4 L414.1,107.3 L415.1,106.6 L416.0,106.8 L417.0,106.7 L417.9,106.7 L418.9,107.1 L419.9,106.5 L420.8,107.2 L421.8,106.4 L422.7,105.8 L423.7,106.1 L424.6,105.8 L425.6,105.5 L426.6,106.2 L427.7,106.5 L428.7,107.0 L429.8,107.5 L430.8,106.7 L431.8,106.7 L432.9,106.4 L433.9,106.2 L435.0,106.2 L436.0,106.3 L437.0,106.4 L437.9,106.7 L438.9,107.2 L439.8,107.3 L440.8,106.0 L441.8,105.7 L442.9,106.4 L443.9,106.8 L445.0,106.4 L446.0,105.6 L447.1,105.0 L448.1,104.6 L449.2,105.7 L450.2,106.0 L451.2,105.9 L452.3,106.1 L453.3,105.8 L454.3,105.9 L455.4,105.6 L456.4,106.2 L457.4,106.4 L458.4,106.5 L459.5,106.0 L460.5,105.6 L461.5,105.4 L462.6,106.5 L463.6,107.3 L464.6,107.4 L465.5,107.6 L466.5,107.2 L467.5,107.2 L468.5,106.9 L469.4,107.8 L470.4,107.0 L471.4,107.8 L472.5,108.5 L473.5,107.8 L474.5,108.3 L475.6,108.3 L476.6,108.9 L477.6,108.4 L478.6,108.7 L479.7,108.9 L480.7,108.8 L481.7,108.9 L482.8,108.8 L483.8,109.3 L484.8,109.6 L485.8,109.8 L486.8,109.1 L487.9,110.1 L488.9,110.1 L489.9,109.8 L490.9,110.4 L491.9,110.8 L492.9,109.8 L493.9,109.8 L494.9,109.4 L495.9,110.1 L497.0,110.3 L498.0,109.7 L499.0,110.1 L500.0,110.7 L501.1,110.7 L502.1,110.5 L503.2,110.1 L504.2,109.8 L505.3,110.1 L506.4,111.1 L507.4,111.0 L508.5,110.6 L509.5,110.3 L510.6,111.5 L511.6,112.2 L512.6,111.2 L513.7,111.7 L514.7,110.9 L515.7,111.8 L516.7,111.7 L517.8,111.6 L518.8,112.2 L519.8,112.1 L520.9,112.1 L521.9,111.9 L522.9,112.5 L523.8,112.8 L524.8,112.7 L525.8,112.0 L526.7,112.3 L527.7,113.2 L528.6,112.9 L529.6,112.3 L530.6,113.1 L531.5,113.6 L532.5,113.6 L533.5,113.7 L534.4,113.1 L535.4,114.1 L536.4,114.0 L537.5,113.4 L538.5,113.2 L539.5,114.5 L540.6,114.2 L541.6,115.2 L542.6,115.2 L543.6,115.5 L544.7,114.8 L545.7,115.6 L546.7,115.8 L547.8,116.0 L548.8,115.8 L549.8,115.6 L550.8,116.3 L551.8,116.3 L552.8,116.8 L553.9,117.0 L554.9,116.7 L555.9,116.1 L556.9,116.3 L557.9,116.3 L558.9,116.4 L559.9,117.4 L561.0,117.3 L562.0,117.5 L563.0,116.9 L564.0,117.3 L565.0,117.4 L566.0,118.0 L567.0,118.3 L568.1,118.4 L569.1,118.6 L570.1,119.0 L571.1,118.4 L572.1,117.7 L573.2,117.6 L574.2,117.5 L575.2,118.4 L576.2,117.8 L577.2,118.3 L578.2,118.9 L579.3,118.6 L580.3,118.8 L581.3,117.9 L582.3,118.7 L583.3,119.3 L584.4,118.3 L585.4,118.0 L586.4,118.4 L587.4,118.3 L588.4,118.0 L589.3,118.0 L590.3,118.8 L591.3,119.0 L592.3,119.4 L593.3,118.9 L594.2,119.3 L595.2,119.4 L596.2,119.4 L597.2,120.1 L598.2,119.8 L599.2,119.6 L600.1,119.2 L601.1,119.6 L602.1,120.2 L603.1,120.1 L604.1,120.4 L605.1,119.6 L606.1,120.2 L607.1,120.8 L608.1,120.6 L609.2,120.7 L610.2,120.5 L611.2,120.7 L612.2,121.0 L613.2,121.6 L614.2,120.7 L615.2,121.3 L616.2,121.1" fill="none" stroke="#DF70F8" stroke-width="0.9" stroke-linejoin="round"/>
<path d="M382.5,139.5 L383.9,167.0 L384.7,149.4 L385.5,129.3 L386.8,126.8 L388.0,122.9 L389.0,123.3 L390.0,126.1 L391.0,128.4 L392.0,129.0 L393.0,129.2 L393.9,128.4 L394.9,128.0 L395.9,128.3 L396.8,128.2 L397.8,129.4 L398.8,129.1 L399.7,129.6 L400.7,129.2 L401.6,129.4 L402.6,129.8 L403.6,130.4 L404.5,130.4 L405.5,130.9 L406.5,131.3 L407.6,130.8 L408.6,131.2 L409.6,130.8 L410.7,131.5 L411.7,132.1 L412.7,132.7 L413.7,132.9 L414.8,132.6 L415.8,133.1 L416.8,133.0 L417.9,132.9 L418.9,132.1 L419.9,131.5 L420.9,131.6 L421.9,132.6 L422.9,133.1 L423.9,133.2 L425.0,132.8 L426.0,132.1 L427.0,132.1 L428.0,132.9 L429.0,132.3 L430.0,132.9 L431.0,133.1 L431.9,133.2 L432.9,132.9 L433.9,132.9 L434.8,133.0 L435.8,134.0 L436.8,133.5 L437.7,133.8 L438.7,134.6 L439.6,134.5 L440.6,134.4 L441.6,135.7 L442.5,135.5 L443.5,136.5 L444.5,136.3 L445.6,136.5 L446.6,136.2 L447.6,136.3 L448.7,136.2 L449.7,136.8 L450.7,136.1 L451.7,136.3 L452.8,136.8 L453.8,137.4 L454.8,136.6 L455.9,137.5 L456.9,136.8 L457.9,136.8 L458.8,136.9 L459.8,136.8 L460.8,137.7 L461.7,137.1 L462.7,137.2 L463.6,137.5 L464.6,138.2 L465.6,137.4 L466.5,138.0 L467.5,138.7 L468.5,137.8 L469.4,138.0 L470.4,139.0 L471.4,138.3 L472.5,138.4 L473.5,139.0 L474.5,139.6 L475.6,139.7 L476.6,139.4 L477.6,140.2 L478.6,140.6 L479.7,140.0 L480.7,140.2 L481.7,139.8 L482.8,141.1 L483.8,141.7 L484.8,141.7 L485.8,141.6 L486.9,141.0 L487.9,141.2 L488.9,141.2 L489.9,141.8 L490.9,142.4 L491.9,142.7 L493.0,142.9 L494.0,142.9 L495.0,142.8 L496.0,143.1 L496.9,143.2 L497.9,143.7 L498.9,144.2 L499.8,144.4 L500.8,144.1 L501.8,144.3 L502.7,144.2 L503.7,144.3 L504.6,144.3 L505.6,144.1 L506.6,144.1 L507.5,145.0 L508.5,145.2 L509.5,145.5 L510.6,145.5 L511.6,145.9 L512.6,146.4 L513.7,146.8 L514.7,146.5 L515.7,146.4 L516.7,146.1 L517.8,145.6 L518.8,145.4 L519.8,146.4 L520.9,147.2 L521.9,146.5 L522.9,146.2 L523.8,146.2 L524.8,147.3 L525.8,147.0 L526.7,147.6 L527.7,146.9 L528.6,148.0 L529.6,147.7 L530.6,148.1 L531.5,148.3 L532.5,147.9 L533.5,147.9 L534.4,148.6 L535.4,148.2 L536.4,148.6 L537.5,148.0 L538.5,147.8 L539.5,148.4 L540.6,149.3 L541.6,148.9 L542.6,148.6 L543.6,149.5 L544.7,149.2 L545.7,149.9 L546.7,149.8 L547.8,149.5 L548.8,150.0 L549.8,149.9 L550.8,150.5 L551.8,151.1 L552.8,150.6 L553.9,150.6 L554.9,150.4 L555.9,150.2 L556.9,151.1 L557.9,151.0 L558.9,150.9 L559.9,151.2 L561.0,151.3 L562.0,150.7 L563.0,150.7 L564.0,151.4 L565.0,151.7 L566.0,151.3 L566.9,149.9 L567.9,150.4 L568.8,150.0 L569.8,150.3 L570.7,149.0 L571.7,149.3 L572.7,149.8 L573.6,149.1 L574.6,149.0 L575.6,148.4 L576.6,149.1 L577.6,148.4 L578.5,148.8 L579.5,149.0 L580.5,148.6 L581.5,149.5 L582.5,150.0 L583.5,149.2 L584.4,149.4 L585.4,148.8 L586.4,148.3 L587.4,148.5 L588.4,148.5 L589.3,148.8 L590.3,149.1 L591.3,148.8 L592.3,149.5 L593.3,150.0 L594.2,150.1 L595.2,150.4 L596.2,150.0 L597.2,150.2 L598.2,150.1 L599.2,151.0 L600.1,151.0 L601.1,150.7 L602.1,150.4 L603.1,151.0 L604.1,150.8 L605.1,149.8 L606.1,149.8 L607.1,150.2 L608.1,150.4 L609.2,150.0 L610.2,150.0 L611.2,149.2 L612.2,149.3 L613.2,148.7 L614.2,148.7 L615.2,149.1 L616.2,148.5" fill="none" stroke="#FB61D7" stroke-width="0.9" stroke-linejoin="round"/>
<path d="M382.5,126.4 L383.8,147.9 L384.9,135.5 L386.0,125.2 L387.0,123.6 L388.0,121.0 L389.0,120.4 L390.0,120.3 L391.0,119.2 L392.0,118.9 L393.0,119.1 L394.0,118.8 L395.0,119.7 L396.0,120.3 L397.0,120.4 L398.0,120.5 L399.0,120.2 L400.0,120.9 L401.0,121.4 L402.0,121.1 L403.0,121.0 L404.0,121.4 L405.0,121.6 L406.0,121.5 L407.0,121.5 L408.0,121.5 L409.0,120.9 L410.0,121.4 L411.0,122.2 L412.0,121.3 L413.0,121.8 L414.0,122.0 L415.0,122.5 L416.0,121.6 L417.0,121.7 L418.0,120.9 L419.0,120.6 L420.0,121.2 L421.0,120.8 L422.0,120.5 L423.0,121.3 L424.0,121.4 L425.0,121.5 L426.0,121.3 L427.0,121.8 L428.0,121.6 L429.0,121.2 L430.0,121.8 L431.0,121.8 L431.9,121.4 L432.9,121.5 L433.9,122.5 L434.8,123.0 L435.8,123.0 L436.8,123.3 L437.7,123.2 L438.7,123.1 L439.6,123.0 L440.6,124.0 L441.6,124.3 L442.5,125.2 L443.5,125.5 L444.5,125.2 L445.6,125.6 L446.6,125.2 L447.6,125.2 L448.7,125.8 L449.7,125.8 L450.7,125.1 L451.7,124.9 L452.8,125.9 L453.8,126.2 L454.8,125.5 L455.9,126.5 L456.9,126.2 L457.9,126.3 L458.8,126.0 L459.8,126.9 L460.8,126.8 L461.7,126.6 L462.7,127.9 L463.6,127.5 L464.6,127.4 L465.6,127.6 L466.5,128.1 L467.5,127.6 L468.5,128.0 L469.4,128.8 L470.4,129.4 L471.4,129.0 L472.5,129.1 L473.5,129.4 L474.5,130.1 L475.6,130.3 L476.6,129.5 L477.6,130.2 L478.6,129.9 L479.7,129.6 L480.7,129.9 L481.7,130.0 L482.8,130.2 L483.8,129.9 L484.8,131.1 L485.8,131.7 L486.9,130.9 L487.9,130.9 L488.9,131.3 L489.9,131.1 L490.9,132.2 L491.9,132.1 L493.0,131.6 L494.0,131.3 L495.0,131.8 L496.0,132.1 L496.9,132.6 L497.9,132.4 L498.9,132.6 L499.8,133.3 L500.8,132.4 L501.8,132.2 L502.7,132.7 L503.7,132.3 L504.6,133.0 L505.6,132.5 L506.6,132.6 L507.5,133.4 L508.5,133.7 L509.5,134.4 L510.6,134.1 L511.6,133.6 L512.6,133.2 L513.7,133.2 L514.7,133.6 L515.7,134.3 L516.7,134.0 L517.8,133.6 L518.8,133.3 L519.8,134.2 L520.9,135.1 L521.9,135.4 L522.9,135.8 L523.8,135.1 L524.8,135.2 L525.8,134.8 L526.7,135.6 L527.7,135.0 L528.6,134.8 L529.6,135.8 L530.6,136.4 L531.5,135.9 L532.5,136.5 L533.5,136.4 L534.4,135.7 L535.4,135.6 L536.4,135.8 L537.5,136.0 L538.5,136.6 L539.5,136.2 L540.6,136.1 L541.6,135.7 L542.6,136.0 L543.6,135.8 L544.7,137.2 L545.7,137.1 L546.7,137.2 L547.8,137.4 L548.8,138.0 L549.8,137.9 L550.8,137.4 L551.8,137.5 L552.8,137.1 L553.9,137.6 L554.9,137.5 L555.9,137.8 L556.9,137.4 L557.9,137.4 L558.9,137.9 L559.9,138.0 L561.0,137.7 L562.0,138.3 L563.0,139.0 L564.0,138.8 L565.0,138.4 L566.0,138.6 L567.0,138.2 L568.0,138.3 L569.0,138.5 L570.0,139.2 L571.0,138.9 L572.0,138.6 L573.0,138.1 L574.0,137.8 L575.0,138.6 L576.0,138.8 L577.0,138.4 L578.0,138.4 L579.0,138.9 L580.0,138.2 L581.0,137.9 L582.0,138.5 L583.0,138.7 L584.0,138.5 L585.0,138.1 L586.0,139.0 L587.0,138.3 L588.0,139.0 L589.0,138.5 L590.0,138.2 L591.0,137.9 L592.0,139.1 L593.0,139.6 L594.0,139.3 L595.0,138.9 L596.0,138.8 L597.1,138.5 L598.1,138.6 L599.1,138.5 L600.1,138.3 L601.1,139.0 L602.1,139.3 L603.1,138.9 L604.1,139.1 L605.1,139.3 L606.1,139.9 L607.1,140.1 L608.1,140.5 L609.1,139.4 L610.2,138.9 L611.2,139.3 L612.2,139.7 L613.2,140.3 L614.2,140.1 L615.2,139.3 L616.2,139.3" fill="none" stroke="#FF66A8" stroke-width="0.9" stroke-linejoin="round"/>
<text x="2.3999999999999986" y="13.0" font-size="12" text-anchor="start" fill="#000" font-family="Liberation Sans" transform="matrix(1 0 0 1.08 0 -1.040)" stroke="#fff" stroke-width="0.25">A</text>
<text x="25.4" y="10.65" font-size="10.9" text-anchor="start" fill="#000" stroke="#000" font-family="Liberation Serif" transform="matrix(1 0 0 1.08 0 -0.852)" stroke-width="0.3" textLength="143.7" lengthAdjust="spacingAndGlyphs">Time–deprened ROC(ALL cause)</text>
<line x1="24.3" y1="25.6" x2="281.7" y2="25.6" stroke="#000" stroke-width="2" stroke-dasharray="7.1 6.8"/>
<line x1="24.5" y1="17" x2="24.5" y2="206.1" stroke="#3c3c3c" stroke-width="1.2" />
<line x1="23.9" y1="205.75" x2="282.0" y2="205.75" stroke="#555" stroke-width="1.5" />
<line x1="22.5" y1="25.6" x2="24.5" y2="25.6" stroke="#333" stroke-width="0.9" />
<text x="19.9" y="28.0" font-size="7.0" text-anchor="end" fill="#4D4D4D" stroke="#4D4D4D" font-family="Liberation Serif" transform="matrix(1 0 0 1.08 0 -2.240)" stroke-width="0.16" >1.0</text>
<line x1="22.5" y1="84.2" x2="24.5" y2="84.2" stroke="#333" stroke-width="0.9" />
<text x="19.9" y="86.60000000000001" font-size="7.0" text-anchor="end" fill="#4D4D4D" stroke="#4D4D4D" font-family="Liberation Serif" transform="matrix(1 0 0 1.08 0 -6.928)" stroke-width="0.16" >0.8</text>
<line x1="22.5" y1="142.8" x2="24.5" y2="142.8" stroke="#333" stroke-width="0.9" />
<text x="19.9" y="145.20000000000002" font-size="7.0" text-anchor="end" fill="#4D4D4D" stroke="#4D4D4D" font-family="Liberation Serif" transform="matrix(1 0 0 1.08 0 -11.616)" stroke-width="0.16" >0.6</text>
<line x1="22.5" y1="201.4" x2="24.5" y2="201.4" stroke="#333" stroke-width="0.9" />
<text x="19.9" y="203.8" font-size="7.0" text-anchor="end" fill="#4D4D4D" stroke="#4D4D4D" font-family="Liberation Serif" transform="matrix(1 0 0 1.08 0 -16.304)" stroke-width="0.16" >0.4</text>
<line x1="32.7" y1="205.4" x2="32.7" y2="207.4" stroke="#333" stroke-width="0.9" />
<text x="32.7" y="215.1" font-size="7.0" text-anchor="middle" fill="#4D4D4D" stroke="#4D4D4D" font-family="Liberation Serif" transform="matrix(1 0 0 1.08 0 -17.208)" stroke-width="0.16" >0</text>
<line x1="86.9" y1="205.4" x2="86.9" y2="207.4" stroke="#333" stroke-width="0.9" />
<text x="86.9" y="215.1" font-size="7.0" text-anchor="middle" fill="#4D4D4D" stroke="#4D4D4D" font-family="Liberation Serif" transform="matrix(1 0 0 1.08 0 -17.208)" stroke-width="0.16" >50</text>
<line x1="141.10000000000002" y1="205.4" x2="141.10000000000002" y2="207.4" stroke="#333" stroke-width="0.9" />
<text x="141.10000000000002" y="215.1" font-size="7.0" text-anchor="middle" fill="#4D4D4D" stroke="#4D4D4D" font-family="Liberation Serif" transform="matrix(1 0 0 1.08 0 -17.208)" stroke-width="0.16" >100</text>
<line x1="195.3" y1="205.4" x2="195.3" y2="207.4" stroke="#333" stroke-width="0.9" />
<text x="195.3" y="215.1" font-size="7.0" text-anchor="middle" fill="#4D4D4D" stroke="#4D4D4D" font-family="Liberation Serif" transform="matrix(1 0 0 1.08 0 -17.208)" stroke-width="0.16" >150</text>
<line x1="249.5" y1="205.4" x2="249.5" y2="207.4" stroke="#333" stroke-width="0.9" />
<text x="249.5" y="215.1" font-size="7.0" text-anchor="middle" fill="#4D4D4D" stroke="#4D4D4D" font-family="Liberation Serif" transform="matrix(1 0 0 1.08 0 -17.208)" stroke-width="0.16" >200</text>
<text x="7.5" y="111.3" font-size="9" text-anchor="middle" fill="#000" stroke="#000" font-family="Liberation Serif" stroke-width="0.25" transform="rotate(-90 7.5 111.3)">AUC</text>
<text x="167.5" y="225.6" font-size="8.9" text-anchor="middle" fill="#000" stroke="#000" font-family="Liberation Serif" transform="matrix(1 0 0 1.08 0 -18.048)" stroke-width="0.18">Time, months</text>
<text x="295.5" y="14.5" font-size="9" text-anchor="start" fill="#000" stroke="#000" font-family="Liberation Serif" transform="matrix(1 0 0 1.08 0 -1.160)" stroke-width="0.25">model</text>
<rect x="296.2" y="20.37" width="12.6" height="12.5" fill="#F8766D" fill-opacity="0.12"/>
<line x1="296.8" y1="26.57" x2="308.2" y2="26.57" stroke="#F8766D" stroke-width="0.9" stroke-opacity="0.85"/>
<text x="314.2" y="29.8" font-size="7.4" text-anchor="start" fill="#000" stroke="#000" font-family="Liberation Serif" transform="matrix(1 0 0 1.08 0 -2.384)" stroke-width="0.25">WBC</text>
<rect x="296.2" y="34.41" width="12.6" height="12.5" fill="#E38900" fill-opacity="0.12"/>
<line x1="296.8" y1="40.61" x2="308.2" y2="40.61" stroke="#E38900" stroke-width="0.9" stroke-opacity="0.85"/>
<text x="314.2" y="43.7" font-size="7.4" text-anchor="start" fill="#000" stroke="#000" font-family="Liberation Serif" transform="matrix(1 0 0 1.08 0 -3.496)" stroke-width="0.25">L</text>
<rect x="296.2" y="48.45" width="12.6" height="12.5" fill="#C49A00" fill-opacity="0.12"/>
<line x1="296.8" y1="54.65" x2="308.2" y2="54.65" stroke="#C49A00" stroke-width="0.9" stroke-opacity="0.85"/>
<text x="314.2" y="57.6" font-size="7.4" text-anchor="start" fill="#000" stroke="#000" font-family="Liberation Serif" transform="matrix(1 0 0 1.08 0 -4.608)" stroke-width="0.25">M</text>
<rect x="296.2" y="62.49" width="12.6" height="12.5" fill="#99A800" fill-opacity="0.12"/>
<line x1="296.8" y1="68.69" x2="308.2" y2="68.69" stroke="#99A800" stroke-width="0.9" stroke-opacity="0.85"/>
<text x="314.2" y="71.5" font-size="7.4" text-anchor="start" fill="#000" stroke="#000" font-family="Liberation Serif" transform="matrix(1 0 0 1.08 0 -5.720)" stroke-width="0.25">N</text>
<rect x="296.2" y="76.53" width="12.6" height="12.5" fill="#53B400" fill-opacity="0.12"/>
<line x1="296.8" y1="82.73" x2="308.2" y2="82.73" stroke="#53B400" stroke-width="0.9" stroke-opacity="0.85"/>
<text x="314.2" y="85.4" font-size="7.4" text-anchor="start" fill="#000" stroke="#000" font-family="Liberation Serif" transform="matrix(1 0 0 1.08 0 -6.832)" stroke-width="0.25">P</text>
<rect x="296.2" y="90.57" width="12.6" height="12.5" fill="#00BC56" fill-opacity="0.12"/>
<line x1="296.8" y1="96.77" x2="308.2" y2="96.77" stroke="#00BC56" stroke-width="0.9" stroke-opacity="0.85"/>
<text x="314.2" y="99.3" font-size="7.4" text-anchor="start" fill="#000" stroke="#000" font-family="Liberation Serif" transform="matrix(1 0 0 1.08 0 -7.944)" stroke-width="0.25">ALB</text>
<rect x="296.2" y="104.61" width="12.6" height="12.5" fill="#00C094" fill-opacity="0.12"/>
<line x1="296.8" y1="110.81" x2="308.2" y2="110.81" stroke="#00C094" stroke-width="0.9" stroke-opacity="0.85"/>
<text x="314.2" y="113.2" font-size="7.4" text-anchor="start" fill="#000" stroke="#000" font-family="Liberation Serif" transform="matrix(1 0 0 1.08 0 -9.056)" stroke-width="0.25">globulin</text>
<rect x="296.2" y="118.65" width="12.6" height="12.5" fill="#00BFC4" fill-opacity="0.12"/>
<line x1="296.8" y1="124.85" x2="308.2" y2="124.85" stroke="#00BFC4" stroke-width="0.9" stroke-opacity="0.85"/>
<text x="314.2" y="127.1" font-size="7.4" text-anchor="start" fill="#000" stroke="#000" font-family="Liberation Serif" transform="matrix(1 0 0 1.08 0 -10.168)" stroke-width="0.25">SII</text>
<rect x="296.2" y="132.69" width="12.6" height="12.5" fill="#00B6EB" fill-opacity="0.12"/>
<line x1="296.8" y1="138.89" x2="308.2" y2="138.89" stroke="#00B6EB" stroke-width="0.9" stroke-opacity="0.85"/>
<text x="314.2" y="141.0" font-size="7.4" text-anchor="start" fill="#000" stroke="#000" font-family="Liberation Serif" transform="matrix(1 0 0 1.08 0 -11.280)" stroke-width="0.25">PIV</text>
<rect x="296.2" y="146.73" width="12.6" height="12.5" fill="#06A4FF" fill-opacity="0.12"/>
<line x1="296.8" y1="152.93" x2="308.2" y2="152.93" stroke="#06A4FF" stroke-width="0.9" stroke-opacity="0.85"/>
<text x="314.2" y="154.9" font-size="7.4" text-anchor="start" fill="#000" stroke="#000" font-family="Liberation Serif" transform="matrix(1 0 0 1.08 0 -12.392)" stroke-width="0.25">SIRI</text>
<rect x="296.2" y="160.77" width="12.6" height="12.5" fill="#A58AFF" fill-opacity="0.12"/>
<line x1="296.8" y1="166.97" x2="308.2" y2="166.97" stroke="#A58AFF" stroke-width="0.9" stroke-opacity="0.85"/>
<text x="314.2" y="168.8" font-size="7.4" text-anchor="start" fill="#000" stroke="#000" font-family="Liberation Serif" transform="matrix(1 0 0 1.08 0 -13.504)" stroke-width="0.25">NPAR</text>
<rect x="296.2" y="174.81" width="12.6" height="12.5" fill="#DF70F8" fill-opacity="0.12"/>
<line x1="296.8" y1="181.01" x2="308.2" y2="181.01" stroke="#DF70F8" stroke-width="0.9" stroke-opacity="0.85"/>
<text x="314.2" y="182.7" font-size="7.4" text-anchor="start" fill="#000" stroke="#000" font-family="Liberation Serif" transform="matrix(1 0 0 1.08 0 -14.616)" stroke-width="0.25">NLR</text>
<rect x="296.2" y="188.85" width="12.6" height="12.5" fill="#FB61D7" fill-opacity="0.12"/>
<line x1="296.8" y1="195.05" x2="308.2" y2="195.05" stroke="#FB61D7" stroke-width="0.9" stroke-opacity="0.85"/>
<text x="314.2" y="196.6" font-size="7.4" text-anchor="start" fill="#000" stroke="#000" font-family="Liberation Serif" transform="matrix(1 0 0 1.08 0 -15.728)" stroke-width="0.25">PLR</text>
<rect x="296.2" y="202.89" width="12.6" height="12.5" fill="#FF66A8" fill-opacity="0.12"/>
<line x1="296.8" y1="209.09" x2="308.2" y2="209.09" stroke="#FF66A8" stroke-width="0.9" stroke-opacity="0.85"/>
<text x="314.2" y="210.5" font-size="7.4" text-anchor="start" fill="#000" stroke="#000" font-family="Liberation Serif" transform="matrix(1 0 0 1.08 0 -16.840)" stroke-width="0.25">AGR</text>
<text x="346.2" y="10.6" font-size="12" text-anchor="start" fill="#000" font-family="Liberation Sans" transform="matrix(1 0 0 1.08 0 -0.848)" stroke="#fff" stroke-width="0.25">B</text>
<text x="370.90000000000003" y="10.65" font-size="10.9" text-anchor="start" fill="#000" stroke="#000" font-family="Liberation Serif" transform="matrix(1 0 0 1.08 0 -0.852)" stroke-width="0.3" textLength="143.5" lengthAdjust="spacingAndGlyphs">Time–deprened ROC(CVD cause)</text>
<line x1="370.6" y1="25.5" x2="628.0" y2="25.5" stroke="#000" stroke-width="2" stroke-dasharray="7.1 6.8"/>
<line x1="370.8" y1="17" x2="370.8" y2="206.1" stroke="#3c3c3c" stroke-width="1.2" />
<line x1="370.2" y1="205.75" x2="628.3" y2="205.75" stroke="#555" stroke-width="1.5" />
<line x1="368.8" y1="25.5" x2="370.8" y2="25.5" stroke="#333" stroke-width="0.9" />
<text x="366.2" y="27.9" font-size="7.0" text-anchor="end" fill="#4D4D4D" stroke="#4D4D4D" font-family="Liberation Serif" transform="matrix(1 0 0 1.08 0 -2.232)" stroke-width="0.16" >1.0</text>
<line x1="368.8" y1="74.8" x2="370.8" y2="74.8" stroke="#333" stroke-width="0.9" />
<text x="366.2" y="77.2" font-size="7.0" text-anchor="end" fill="#4D4D4D" stroke="#4D4D4D" font-family="Liberation Serif" transform="matrix(1 0 0 1.08 0 -6.176)" stroke-width="0.16" >0.8</text>
<line x1="368.8" y1="124.1" x2="370.8" y2="124.1" stroke="#333" stroke-width="0.9" />
<text x="366.2" y="126.5" font-size="7.0" text-anchor="end" fill="#4D4D4D" stroke="#4D4D4D" font-family="Liberation Serif" transform="matrix(1 0 0 1.08 0 -10.120)" stroke-width="0.16" >0.6</text>
<line x1="368.8" y1="173.4" x2="370.8" y2="173.4" stroke="#333" stroke-width="0.9" />
<text x="366.2" y="175.8" font-size="7.0" text-anchor="end" fill="#4D4D4D" stroke="#4D4D4D" font-family="Liberation Serif" transform="matrix(1 0 0 1.08 0 -14.064)" stroke-width="0.16" >0.4</text>
<line x1="379.0" y1="205.4" x2="379.0" y2="207.4" stroke="#333" stroke-width="0.9" />
<text x="379.0" y="215.1" font-size="7.0" text-anchor="middle" fill="#4D4D4D" stroke="#4D4D4D" font-family="Liberation Serif" transform="matrix(1 0 0 1.08 0 -17.208)" stroke-width="0.16" >0</text>
<line x1="433.2" y1="205.4" x2="433.2" y2="207.4" stroke="#333" stroke-width="0.9" />
<text x="433.2" y="215.1" font-size="7.0" text-anchor="middle" fill="#4D4D4D" stroke="#4D4D4D" font-family="Liberation Serif" transform="matrix(1 0 0 1.08 0 -17.208)" stroke-width="0.16" >50</text>
<line x1="487.4" y1="205.4" x2="487.4" y2="207.4" stroke="#333" stroke-width="0.9" />
<text x="487.4" y="215.1" font-size="7.0" text-anchor="middle" fill="#4D4D4D" stroke="#4D4D4D" font-family="Liberation Serif" transform="matrix(1 0 0 1.08 0 -17.208)" stroke-width="0.16" >100</text>
<line x1="541.6" y1="205.4" x2="541.6" y2="207.4" stroke="#333" stroke-width="0.9" />
<text x="541.6" y="215.1" font-size="7.0" text-anchor="middle" fill="#4D4D4D" stroke="#4D4D4D" font-family="Liberation Serif" transform="matrix(1 0 0 1.08 0 -17.208)" stroke-width="0.16" >150</text>
<line x1="595.8" y1="205.4" x2="595.8" y2="207.4" stroke="#333" stroke-width="0.9" />
<text x="595.8" y="215.1" font-size="7.0" text-anchor="middle" fill="#4D4D4D" stroke="#4D4D4D" font-family="Liberation Serif" transform="matrix(1 0 0 1.08 0 -17.208)" stroke-width="0.16" >200</text>
<text x="353.8" y="111.3" font-size="9" text-anchor="middle" fill="#000" stroke="#000" font-family="Liberation Serif" stroke-width="0.25" transform="rotate(-90 353.8 111.3)">AUC</text>
<text x="515.6" y="225.6" font-size="8.9" text-anchor="middle" fill="#000" stroke="#000" font-family="Liberation Serif" transform="matrix(1 0 0 1.08 0 -18.048)" stroke-width="0.18">Times, months</text>
<text x="641.8" y="14.5" font-size="9" text-anchor="start" fill="#000" stroke="#000" font-family="Liberation Serif" transform="matrix(1 0 0 1.08 0 -1.160)" stroke-width="0.25">model</text>
<rect x="642.5" y="20.37" width="12.6" height="12.5" fill="#F8766D" fill-opacity="0.12"/>
<line x1="643.1" y1="26.57" x2="654.5" y2="26.57" stroke="#F8766D" stroke-width="0.9" stroke-opacity="0.85"/>
<text x="660.5" y="29.8" font-size="7.4" text-anchor="start" fill="#000" stroke="#000" font-family="Liberation Serif" transform="matrix(1 0 0 1.08 0 -2.384)" stroke-width="0.25">WBC</text>
<rect x="642.5" y="34.41" width="12.6" height="12.5" fill="#E38900" fill-opacity="0.12"/>
<line x1="643.1" y1="40.61" x2="654.5" y2="40.61" stroke="#E38900" stroke-width="0.9" stroke-opacity="0.85"/>
<text x="660.5" y="43.7" font-size="7.4" text-anchor="start" fill="#000" stroke="#000" font-family="Liberation Serif" transform="matrix(1 0 0 1.08 0 -3.496)" stroke-width="0.25">L</text>
<rect x="642.5" y="48.45" width="12.6" height="12.5" fill="#C49A00" fill-opacity="0.12"/>
<line x1="643.1" y1="54.65" x2="654.5" y2="54.65" stroke="#C49A00" stroke-width="0.9" stroke-opacity="0.85"/>
<text x="660.5" y="57.6" font-size="7.4" text-anchor="start" fill="#000" stroke="#000" font-family="Liberation Serif" transform="matrix(1 0 0 1.08 0 -4.608)" stroke-width="0.25">M</text>
<rect x="642.5" y="62.49" width="12.6" height="12.5" fill="#99A800" fill-opacity="0.12"/>
<line x1="643.1" y1="68.69" x2="654.5" y2="68.69" stroke="#99A800" stroke-width="0.9" stroke-opacity="0.85"/>
<text x="660.5" y="71.5" font-size="7.4" text-anchor="start" fill="#000" stroke="#000" font-family="Liberation Serif" transform="matrix(1 0 0 1.08 0 -5.720)" stroke-width="0.25">N</text>
<rect x="642.5" y="76.53" width="12.6" height="12.5" fill="#53B400" fill-opacity="0.12"/>
<line x1="643.1" y1="82.73" x2="654.5" y2="82.73" stroke="#53B400" stroke-width="0.9" stroke-opacity="0.85"/>
<text x="660.5" y="85.4" font-size="7.4" text-anchor="start" fill="#000" stroke="#000" font-family="Liberation Serif" transform="matrix(1 0 0 1.08 0 -6.832)" stroke-width="0.25">P</text>
<rect x="642.5" y="90.57" width="12.6" height="12.5" fill="#00BC56" fill-opacity="0.12"/>
<line x1="643.1" y1="96.77" x2="654.5" y2="96.77" stroke="#00BC56" stroke-width="0.9" stroke-opacity="0.85"/>
<text x="660.5" y="99.3" font-size="7.4" text-anchor="start" fill="#000" stroke="#000" font-family="Liberation Serif" transform="matrix(1 0 0 1.08 0 -7.944)" stroke-width="0.25">ALB</text>
<rect x="642.5" y="104.61" width="12.6" height="12.5" fill="#00C094" fill-opacity="0.12"/>
<line x1="643.1" y1="110.81" x2="654.5" y2="110.81" stroke="#00C094" stroke-width="0.9" stroke-opacity="0.85"/>
<text x="660.5" y="113.2" font-size="7.4" text-anchor="start" fill="#000" stroke="#000" font-family="Liberation Serif" transform="matrix(1 0 0 1.08 0 -9.056)" stroke-width="0.25">globulin</text>
<rect x="642.5" y="118.65" width="12.6" height="12.5" fill="#00BFC4" fill-opacity="0.12"/>
<line x1="643.1" y1="124.85" x2="654.5" y2="124.85" stroke="#00BFC4" stroke-width="0.9" stroke-opacity="0.85"/>
<text x="660.5" y="127.1" font-size="7.4" text-anchor="start" fill="#000" stroke="#000" font-family="Liberation Serif" transform="matrix(1 0 0 1.08 0 -10.168)" stroke-width="0.25">SII</text>
<rect x="642.5" y="132.69" width="12.6" height="12.5" fill="#00B6EB" fill-opacity="0.12"/>
<line x1="643.1" y1="138.89" x2="654.5" y2="138.89" stroke="#00B6EB" stroke-width="0.9" stroke-opacity="0.85"/>
<text x="660.5" y="141.0" font-size="7.4" text-anchor="start" fill="#000" stroke="#000" font-family="Liberation Serif" transform="matrix(1 0 0 1.08 0 -11.280)" stroke-width="0.25">PIV</text>
<rect x="642.5" y="146.73" width="12.6" height="12.5" fill="#06A4FF" fill-opacity="0.12"/>
<line x1="643.1" y1="152.93" x2="654.5" y2="152.93" stroke="#06A4FF" stroke-width="0.9" stroke-opacity="0.85"/>
<text x="660.5" y="154.9" font-size="7.4" text-anchor="start" fill="#000" stroke="#000" font-family="Liberation Serif" transform="matrix(1 0 0 1.08 0 -12.392)" stroke-width="0.25">SIRI</text>
<rect x="642.5" y="160.77" width="12.6" height="12.5" fill="#A58AFF" fill-opacity="0.12"/>
<line x1="643.1" y1="166.97" x2="654.5" y2="166.97" stroke="#A58AFF" stroke-width="0.9" stroke-opacity="0.85"/>
<text x="660.5" y="168.8" font-size="7.4" text-anchor="start" fill="#000" stroke="#000" font-family="Liberation Serif" transform="matrix(1 0 0 1.08 0 -13.504)" stroke-width="0.25">NPAR</text>
<rect x="642.5" y="174.81" width="12.6" height="12.5" fill="#DF70F8" fill-opacity="0.12"/>
<line x1="643.1" y1="181.01" x2="654.5" y2="181.01" stroke="#DF70F8" stroke-width="0.9" stroke-opacity="0.85"/>
<text x="660.5" y="182.7" font-size="7.4" text-anchor="start" fill="#000" stroke="#000" font-family="Liberation Serif" transform="matrix(1 0 0 1.08 0 -14.616)" stroke-width="0.25">NLR</text>
<rect x="642.5" y="188.85" width="12.6" height="12.5" fill="#FB61D7" fill-opacity="0.12"/>
<line x1="643.1" y1="195.05" x2="654.5" y2="195.05" stroke="#FB61D7" stroke-width="0.9" stroke-opacity="0.85"/>
<text x="660.5" y="196.6" font-size="7.4" text-anchor="start" fill="#000" stroke="#000" font-family="Liberation Serif" transform="matrix(1 0 0 1.08 0 -15.728)" stroke-width="0.25">PLR</text>
<rect x="642.5" y="202.89" width="12.6" height="12.5" fill="#FF66A8" fill-opacity="0.12"/>
<line x1="643.1" y1="209.09" x2="654.5" y2="209.09" stroke="#FF66A8" stroke-width="0.9" stroke-opacity="0.85"/>
<text x="660.5" y="210.5" font-size="7.4" text-anchor="start" fill="#000" stroke="#000" font-family="Liberation Serif" transform="matrix(1 0 0 1.08 0 -16.840)" stroke-width="0.25">AGR</text>
<text x="5.0" y="226.1" font-size="12" text-anchor="start" fill="#000" font-family="Liberation Sans" transform="matrix(1 0 0 1.08 0 -18.088)" stroke="#fff" stroke-width="0.25">C</text>
<polygon points="39.0,380.2 40.0,382.4 41.0,384.5 42.0,386.7 43.0,388.8 44.0,391.0 45.0,393.1 46.0,395.3 47.0,397.4 48.0,399.5 49.0,401.6 50.0,403.7 51.0,405.8 52.0,407.9 52.9,410.0 53.9,412.2 54.9,414.3 55.9,413.7 56.9,412.9 57.9,411.9 58.9,410.5 59.9,408.9 60.9,407.1 61.9,405.1 62.9,403.5 63.9,401.8 64.9,400.0 65.9,398.2 66.9,396.4 67.9,394.7 68.9,393.1 69.9,391.6 70.9,390.2 71.9,388.8 72.9,387.6 73.9,386.4 74.9,385.3 75.9,384.2 76.9,383.2 77.9,382.1 78.9,381.1 79.8,380.1 80.8,379.1 81.8,378.1 82.8,377.3 83.8,376.4 84.8,375.6 85.8,374.9 86.8,374.1 87.8,373.3 88.8,372.6 89.8,371.9 90.8,371.2 91.8,370.4 92.8,369.7 93.8,369.1 94.8,368.4 95.8,367.7 96.8,367.0 97.8,366.3 98.8,365.7 99.8,365.0 100.8,364.5 101.8,364.0 102.8,363.5 103.8,363.0 104.8,362.5 105.8,362.0 106.8,361.6 107.7,361.1 108.7,360.7 109.7,360.2 110.7,359.7 111.7,359.3 112.7,358.8 113.7,358.3 114.7,357.9 115.7,357.4 116.7,356.9 117.7,356.5 118.7,356.0 119.7,355.5 120.7,355.0 121.7,354.6 122.7,354.1 123.7,353.6 124.7,353.1 125.7,352.6 126.7,352.1 127.7,351.6 128.7,351.1 129.7,350.6 130.7,350.1 131.7,349.6 132.7,349.1 133.7,348.6 134.6,348.1 135.6,347.6 136.6,347.0 137.6,346.5 138.6,346.0 139.6,345.5 140.6,345.0 141.6,344.4 142.6,343.9 143.6,343.4 144.6,342.8 145.6,342.3 146.6,341.8 147.6,341.2 148.6,340.7 149.6,340.2 150.6,339.6 151.6,339.1 152.6,338.5 153.6,338.0 154.6,337.4 155.6,336.9 156.6,336.3 157.6,335.8 158.6,335.2 159.6,334.7 160.6,334.1 161.5,333.6 162.5,333.0 163.5,332.4 164.5,331.9 165.5,331.3 166.5,330.7 167.5,330.2 168.5,329.6 169.5,329.0 170.5,328.5 171.5,327.9 172.5,327.3 173.5,326.7 174.5,326.2 175.5,325.6 176.5,325.0 177.5,324.4 178.5,323.9 179.5,323.3 180.5,322.7 181.5,322.1 182.5,321.5 183.5,320.9 184.5,320.4 185.5,319.8 186.5,319.2 187.5,318.6 188.4,318.0 189.4,317.4 190.4,316.8 191.4,316.3 192.4,315.7 193.4,315.1 194.4,314.5 195.4,313.9 196.4,313.3 197.4,312.7 198.4,312.1 199.4,311.5 200.4,310.9 201.4,310.3 202.4,309.7 203.4,309.1 204.4,308.5 205.4,307.9 206.4,307.3 207.4,306.7 208.4,306.1 209.4,305.5 210.4,304.9 211.4,304.3 212.4,303.7 213.4,303.1 214.4,302.5 215.3,301.9 216.3,301.3 217.3,300.7 218.3,300.1 219.3,299.5 220.3,298.9 221.3,298.3 222.3,297.7 223.3,297.1 224.3,296.5 225.3,295.9 226.3,295.3 227.3,294.7 228.3,294.1 229.3,293.5 230.3,292.9 231.3,292.3 232.3,291.7 233.3,291.1 234.3,290.5 235.3,289.9 236.3,289.2 237.3,288.6 238.3,288.0 239.3,287.4 240.3,286.8 241.3,286.2 242.2,285.6 243.2,285.0 244.2,284.4 245.2,283.8 246.2,283.2 247.2,282.6 248.2,282.0 249.2,281.4 250.2,280.8 251.2,280.1 252.2,279.5 253.2,278.9 254.2,278.3 255.2,277.7 256.2,277.1 257.2,276.5 258.2,275.9 259.2,275.3 260.2,274.7 261.2,274.1 262.2,273.5 263.2,272.9 264.2,272.3 265.2,271.7 266.2,271.1 267.2,270.5 268.2,269.8 269.2,269.2 270.1,268.6 271.1,268.0 272.1,267.4 273.1,266.8 274.1,266.2 275.1,265.6 276.1,265.0 277.1,264.4 278.1,263.8 279.1,263.2 280.1,262.6 281.1,262.0 282.1,261.4 283.1,260.8 284.1,260.2 285.1,259.6 286.1,259.0 287.1,258.4 288.1,257.8 289.1,257.2 290.1,256.6 291.1,256.0 292.1,255.4 293.1,254.8 294.1,254.2 295.1,253.6 296.1,253.0 297.0,252.4 298.0,251.8 299.0,251.2 300.0,250.6 301.0,250.0 302.0,249.4 303.0,248.8 304.0,248.2 305.0,247.7 306.0,247.1 307.0,246.5 308.0,245.9 309.0,245.3 310.0,244.7 310.0,288.3 309.0,288.7 308.0,289.0 307.0,289.4 306.0,289.8 305.0,290.2 304.0,290.6 303.0,291.0 302.0,291.4 301.0,291.8 300.0,292.2 299.0,292.5 298.0,292.9 297.0,293.3 296.1,293.7 295.1,294.1 294.1,294.5 293.1,294.9 292.1,295.3 291.1,295.7 290.1,296.1 289.1,296.5 288.1,296.9 287.1,297.3 286.1,297.7 285.1,298.1 284.1,298.5 283.1,298.9 282.1,299.3 281.1,299.7 280.1,300.1 279.1,300.5 278.1,300.9 277.1,301.3 276.1,301.7 275.1,302.1 274.1,302.5 273.1,302.9 272.1,303.3 271.1,303.7 270.1,304.1 269.2,304.5 268.2,304.9 267.2,305.3 266.2,305.7 265.2,306.1 264.2,306.5 263.2,306.9 262.2,307.3 261.2,307.7 260.2,308.1 259.2,308.6 258.2,309.0 257.2,309.4 256.2,309.8 255.2,310.2 254.2,310.6 253.2,311.0 252.2,311.4 251.2,311.8 250.2,312.2 249.2,312.7 248.2,313.1 247.2,313.5 246.2,313.9 245.2,314.3 244.2,314.7 243.2,315.1 242.2,315.5 241.3,316.0 240.3,316.4 239.3,316.8 238.3,317.2 237.3,317.6 236.3,318.0 235.3,318.5 234.3,318.9 233.3,319.3 232.3,319.7 231.3,320.1 230.3,320.5 229.3,321.0 228.3,321.4 227.3,321.8 226.3,322.2 225.3,322.6 224.3,323.0 223.3,323.5 222.3,323.9 221.3,324.3 220.3,324.7 219.3,325.1 218.3,325.6 217.3,326.0 216.3,326.4 215.3,326.8 214.4,327.2 213.4,327.7 212.4,328.1 211.4,328.5 210.4,328.9 209.4,329.3 208.4,329.8 207.4,330.2 206.4,330.6 205.4,331.0 204.4,331.5 203.4,331.9 202.4,332.3 201.4,332.7 200.4,333.2 199.4,333.6 198.4,334.0 197.4,334.4 196.4,334.9 195.4,335.3 194.4,335.7 193.4,336.1 192.4,336.6 191.4,337.0 190.4,337.4 189.4,337.8 188.4,338.3 187.5,338.7 186.5,339.1 185.5,339.6 184.5,340.0 183.5,340.4 182.5,340.8 181.5,341.3 180.5,341.7 179.5,342.1 178.5,342.6 177.5,343.0 176.5,343.4 175.5,343.9 174.5,344.3 173.5,344.7 172.5,345.2 171.5,345.6 170.5,346.0 169.5,346.5 168.5,346.9 167.5,347.3 166.5,347.8 165.5,348.2 164.5,348.7 163.5,349.1 162.5,349.5 161.5,350.0 160.6,350.4 159.6,350.9 158.6,351.3 157.6,351.7 156.6,352.2 155.6,352.6 154.6,353.1 153.6,353.5 152.6,354.0 151.6,354.4 150.6,354.9 149.6,355.3 148.6,355.8 147.6,356.2 146.6,356.7 145.6,357.1 144.6,357.6 143.6,358.0 142.6,358.5 141.6,358.9 140.6,359.4 139.6,359.8 138.6,360.3 137.6,360.8 136.6,361.2 135.6,361.7 134.6,362.2 133.7,362.6 132.7,363.1 131.7,363.5 130.7,364.0 129.7,364.5 128.7,365.0 127.7,365.4 126.7,365.9 125.7,366.4 124.7,366.8 123.7,367.3 122.7,367.8 121.7,368.3 120.7,368.7 119.7,369.2 118.7,369.7 117.7,370.2 116.7,370.7 115.7,371.2 114.7,371.6 113.7,372.1 112.7,372.6 111.7,373.1 110.7,373.6 109.7,374.1 108.7,374.6 107.7,375.1 106.8,375.6 105.8,376.1 104.8,376.6 103.8,377.2 102.8,377.7 101.8,378.2 100.8,378.8 99.8,379.4 98.8,380.0 97.8,380.5 96.8,381.2 95.8,381.8 94.8,382.4 93.8,383.0 92.8,383.5 91.8,384.1 90.8,384.8 89.8,385.4 88.8,386.0 87.8,386.7 86.8,387.3 85.8,388.0 84.8,388.7 83.8,389.4 82.8,390.1 81.8,390.9 80.8,391.6 79.8,392.3 78.9,393.1 77.9,393.8 76.9,394.7 75.9,395.6 74.9,396.6 73.9,397.6 72.9,398.7 71.9,399.9 70.9,401.1 69.9,402.5 68.9,403.9 67.9,405.4 66.9,406.9 65.9,408.5 64.9,410.1 63.9,411.7 62.9,413.2 61.9,414.6 60.9,415.4 59.9,416.1 58.9,416.6 57.9,416.8 56.9,416.8 55.9,416.6 54.9,416.8 53.9,416.8 52.9,416.8 52.0,416.8 51.0,416.8 50.0,416.8 49.0,416.8 48.0,416.8 47.0,416.8 46.0,416.8 45.0,416.7 44.0,416.7 43.0,416.7 42.0,416.7 41.0,416.6 40.0,416.6 39.0,416.6" fill="#FFE1E3"/>
<line x1="25.5" y1="416.7" x2="324.5" y2="416.7" stroke="#222" stroke-width="1.5" stroke-dasharray="5 4.76"/>
<line x1="55.4" y1="236.0" x2="55.4" y2="430" stroke="#000" stroke-width="0.9" stroke-dasharray="2.8 3.61"/>
<path d="M39.0,398.2 L40.0,398.9 L41.0,399.9 L42.0,401.0 L43.0,402.3 L44.0,403.7 L45.0,405.2 L46.0,406.7 L47.0,408.2 L48.0,409.6 L49.0,411.0 L50.0,412.2 L51.0,413.3 L52.0,414.1 L52.9,414.7 L53.9,415.1 L54.9,415.3 L55.9,415.2 L56.9,414.9 L57.9,414.4 L58.9,413.6 L59.9,412.5 L60.9,411.3 L61.9,409.9 L62.9,408.4 L63.9,406.8 L64.9,405.1 L65.9,403.4 L66.9,401.7 L67.9,400.0 L68.9,398.5 L69.9,397.0 L70.9,395.6 L71.9,394.2 L72.9,393.0 L73.9,391.8 L74.9,390.7 L75.9,389.6 L76.9,388.6 L77.9,387.6 L78.9,386.7 L79.8,385.8 L80.8,385.0 L81.8,384.1 L82.8,383.3 L83.8,382.5 L84.8,381.7 L85.8,381.0 L86.8,380.2 L87.8,379.5 L88.8,378.8 L89.8,378.1 L90.8,377.5 L91.8,376.8 L92.8,376.2 L93.8,375.6 L94.8,375.0 L95.8,374.4 L96.8,373.8 L97.8,373.3 L98.8,372.7 L99.8,372.2 L100.8,371.6 L101.8,371.1 L102.8,370.6 L103.8,370.1 L104.8,369.6 L105.8,369.1 L106.8,368.6 L107.7,368.1 L108.7,367.6 L109.7,367.1 L110.7,366.7 L111.7,366.2 L112.7,365.7 L113.7,365.2 L114.7,364.8 L115.7,364.3 L116.7,363.8 L117.7,363.3 L118.7,362.8 L119.7,362.4 L120.7,361.9 L121.7,361.4 L122.7,360.9 L123.7,360.4 L124.7,360.0 L125.7,359.5 L126.7,359.0 L127.7,358.5 L128.7,358.0 L129.7,357.5 L130.7,357.1 L131.7,356.6 L132.7,356.1 L133.7,355.6 L134.6,355.1 L135.6,354.6 L136.6,354.1 L137.6,353.6 L138.6,353.2 L139.6,352.7 L140.6,352.2 L141.6,351.7 L142.6,351.2 L143.6,350.7 L144.6,350.2 L145.6,349.7 L146.6,349.2 L147.6,348.7 L148.6,348.2 L149.6,347.7 L150.6,347.2 L151.6,346.7 L152.6,346.3 L153.6,345.8 L154.6,345.3 L155.6,344.8 L156.6,344.3 L157.6,343.8 L158.6,343.3 L159.6,342.8 L160.6,342.3 L161.5,341.8 L162.5,341.3 L163.5,340.8 L164.5,340.3 L165.5,339.8 L166.5,339.3 L167.5,338.8 L168.5,338.3 L169.5,337.8 L170.5,337.2 L171.5,336.7 L172.5,336.2 L173.5,335.7 L174.5,335.2 L175.5,334.7 L176.5,334.2 L177.5,333.7 L178.5,333.2 L179.5,332.7 L180.5,332.2 L181.5,331.7 L182.5,331.2 L183.5,330.7 L184.5,330.2 L185.5,329.7 L186.5,329.2 L187.5,328.7 L188.4,328.1 L189.4,327.6 L190.4,327.1 L191.4,326.6 L192.4,326.1 L193.4,325.6 L194.4,325.1 L195.4,324.6 L196.4,324.1 L197.4,323.6 L198.4,323.1 L199.4,322.5 L200.4,322.0 L201.4,321.5 L202.4,321.0 L203.4,320.5 L204.4,320.0 L205.4,319.5 L206.4,319.0 L207.4,318.5 L208.4,318.0 L209.4,317.4 L210.4,316.9 L211.4,316.4 L212.4,315.9 L213.4,315.4 L214.4,314.9 L215.3,314.4 L216.3,313.9 L217.3,313.4 L218.3,312.8 L219.3,312.3 L220.3,311.8 L221.3,311.3 L222.3,310.8 L223.3,310.3 L224.3,309.8 L225.3,309.3 L226.3,308.8 L227.3,308.2 L228.3,307.7 L229.3,307.2 L230.3,306.7 L231.3,306.2 L232.3,305.7 L233.3,305.2 L234.3,304.7 L235.3,304.2 L236.3,303.6 L237.3,303.1 L238.3,302.6 L239.3,302.1 L240.3,301.6 L241.3,301.1 L242.2,300.6 L243.2,300.1 L244.2,299.6 L245.2,299.0 L246.2,298.5 L247.2,298.0 L248.2,297.5 L249.2,297.0 L250.2,296.5 L251.2,296.0 L252.2,295.5 L253.2,295.0 L254.2,294.5 L255.2,294.0 L256.2,293.4 L257.2,292.9 L258.2,292.4 L259.2,291.9 L260.2,291.4 L261.2,290.9 L262.2,290.4 L263.2,289.9 L264.2,289.4 L265.2,288.9 L266.2,288.4 L267.2,287.9 L268.2,287.4 L269.2,286.9 L270.1,286.4 L271.1,285.9 L272.1,285.4 L273.1,284.9 L274.1,284.3 L275.1,283.8 L276.1,283.3 L277.1,282.8 L278.1,282.3 L279.1,281.8 L280.1,281.3 L281.1,280.8 L282.1,280.3 L283.1,279.8 L284.1,279.3 L285.1,278.8 L286.1,278.3 L287.1,277.8 L288.1,277.3 L289.1,276.8 L290.1,276.3 L291.1,275.8 L292.1,275.3 L293.1,274.9 L294.1,274.4 L295.1,273.9 L296.1,273.4 L297.0,272.9 L298.0,272.4 L299.0,271.9 L300.0,271.4 L301.0,270.9 L302.0,270.4 L303.0,269.9 L304.0,269.4 L305.0,268.9 L306.0,268.4 L307.0,268.0 L308.0,267.5 L309.0,267.0 L310.0,266.5" fill="none" stroke="#F3403F" stroke-width="1.8" stroke-linejoin="round" stroke-linecap="round"/>
<line x1="25.5" y1="236.2" x2="25.5" y2="427.3" stroke="#3c3c3c" stroke-width="1.2" />
<line x1="24.9" y1="426.9" x2="324.5" y2="426.9" stroke="#7a7a7a" stroke-width="1.7" />
<line x1="23.5" y1="248.9" x2="25.5" y2="248.9" stroke="#333" stroke-width="0.9" />
<text x="21.1" y="251.3" font-size="7.0" text-anchor="end" fill="#4D4D4D" stroke="#4D4D4D" font-family="Liberation Serif" transform="matrix(1 0 0 1.08 0 -20.104)" stroke-width="0.16" >2.0</text>
<line x1="23.5" y1="290.7" x2="25.5" y2="290.7" stroke="#333" stroke-width="0.9" />
<text x="21.1" y="293.09999999999997" font-size="7.0" text-anchor="end" fill="#4D4D4D" stroke="#4D4D4D" font-family="Liberation Serif" transform="matrix(1 0 0 1.08 0 -23.448)" stroke-width="0.16" >1.5</text>
<line x1="23.5" y1="332.5" x2="25.5" y2="332.5" stroke="#333" stroke-width="0.9" />
<text x="21.1" y="334.9" font-size="7.0" text-anchor="end" fill="#4D4D4D" stroke="#4D4D4D" font-family="Liberation Serif" transform="matrix(1 0 0 1.08 0 -26.792)" stroke-width="0.16" >1.0</text>
<line x1="23.5" y1="374.3" x2="25.5" y2="374.3" stroke="#333" stroke-width="0.9" />
<text x="21.1" y="376.7" font-size="7.0" text-anchor="end" fill="#4D4D4D" stroke="#4D4D4D" font-family="Liberation Serif" transform="matrix(1 0 0 1.08 0 -30.136)" stroke-width="0.16" >0.5</text>
<line x1="23.5" y1="416.7" x2="25.5" y2="416.7" stroke="#333" stroke-width="0.9" />
<text x="21.1" y="419.09999999999997" font-size="7.0" text-anchor="end" fill="#4D4D4D" stroke="#4D4D4D" font-family="Liberation Serif" transform="matrix(1 0 0 1.08 0 -33.528)" stroke-width="0.16" >0.0</text>
<line x1="36.9" y1="426.6" x2="36.9" y2="428.6" stroke="#333" stroke-width="0.9" />
<text x="36.9" y="435.8" font-size="7.0" text-anchor="middle" fill="#4D4D4D" stroke="#4D4D4D" font-family="Liberation Serif" transform="matrix(1 0 0 1.08 0 -34.864)" stroke-width="0.16" >0.0</text>
<line x1="55.1" y1="426.6" x2="55.1" y2="428.6" stroke="#333" stroke-width="0.9" />
<text x="55.1" y="435.8" font-size="7.0" text-anchor="middle" fill="#4D4D4D" stroke="#4D4D4D" font-family="Liberation Serif" transform="matrix(1 0 0 1.08 0 -34.864)" stroke-width="0.16" >0.81</text>
<line x1="93.1" y1="426.6" x2="93.1" y2="428.6" stroke="#333" stroke-width="0.9" />
<text x="93.1" y="435.8" font-size="7.0" text-anchor="middle" fill="#4D4D4D" stroke="#4D4D4D" font-family="Liberation Serif" transform="matrix(1 0 0 1.08 0 -34.864)" stroke-width="0.16" >2.5</text>
<line x1="149.5" y1="426.6" x2="149.5" y2="428.6" stroke="#333" stroke-width="0.9" />
<text x="149.5" y="435.8" font-size="7.0" text-anchor="middle" fill="#4D4D4D" stroke="#4D4D4D" font-family="Liberation Serif" transform="matrix(1 0 0 1.08 0 -34.864)" stroke-width="0.16" >5.0</text>
<line x1="206" y1="426.6" x2="206" y2="428.6" stroke="#333" stroke-width="0.9" />
<text x="206" y="435.8" font-size="7.0" text-anchor="middle" fill="#4D4D4D" stroke="#4D4D4D" font-family="Liberation Serif" transform="matrix(1 0 0 1.08 0 -34.864)" stroke-width="0.16" >7.5</text>
<line x1="262.3" y1="426.6" x2="262.3" y2="428.6" stroke="#333" stroke-width="0.9" />
<text x="262.3" y="435.8" font-size="7.0" text-anchor="middle" fill="#4D4D4D" stroke="#4D4D4D" font-family="Liberation Serif" transform="matrix(1 0 0 1.08 0 -34.864)" stroke-width="0.16" >10.0</text>
<line x1="318.5" y1="426.6" x2="318.5" y2="428.6" stroke="#333" stroke-width="0.9" />
<text x="318.5" y="435.8" font-size="7.0" text-anchor="middle" fill="#4D4D4D" stroke="#4D4D4D" font-family="Liberation Serif" transform="matrix(1 0 0 1.08 0 -34.864)" stroke-width="0.16" >12.5</text>
<text x="8.0" y="333.3" font-size="8.6" text-anchor="middle" fill="#000" stroke="#000" font-family="Liberation Serif" stroke-width="0.25" transform="rotate(-90 8.0 333.3)">log hazard</text>
<text x="174.7" y="445.6" font-size="8.6" text-anchor="middle" fill="#000" stroke="#000" font-family="Liberation Serif" transform="matrix(1 0 0 1.08 0 -35.648)" stroke-width="0.25">SIRI</text>
<text x="58.0" y="253.9" font-size="9.1" text-anchor="start" fill="#000" stroke="#000" font-family="Liberation Serif" transform="matrix(1 0 0 1.08 0 -20.312)" stroke-width="0.2"><tspan font-weight="bold" font-style="italic">p</tspan> for overall&lt;0.0001</text>
<text x="58.0" y="263.9" font-size="9.1" text-anchor="start" fill="#000" stroke="#000" font-family="Liberation Serif" transform="matrix(1 0 0 1.08 0 -21.112)" stroke-width="0.2"><tspan font-weight="bold" font-style="italic">p</tspan> for nonlinear&lt;0.0001</text>
<text x="344.4" y="227.3" font-size="12" text-anchor="start" fill="#000" font-family="Liberation Sans" transform="matrix(1 0 0 1.08 0 -18.184)" stroke="#fff" stroke-width="0.25">D</text>
<polygon points="382.4,360.2 383.4,363.6 384.4,367.0 385.4,370.4 386.4,373.7 387.4,377.1 388.4,380.5 389.4,383.9 390.4,387.3 391.4,390.6 392.4,394.0 393.4,397.3 394.4,400.7 395.4,404.1 396.4,407.4 397.4,410.8 398.3,412.7 399.3,411.9 400.3,410.5 401.3,408.8 402.3,406.6 403.3,404.0 404.3,401.3 405.3,398.6 406.3,396.0 407.3,393.6 408.3,391.3 409.3,389.0 410.3,386.7 411.3,384.5 412.3,382.4 413.3,380.4 414.3,378.5 415.3,376.8 416.3,375.1 417.3,373.6 418.3,372.2 419.3,370.8 420.3,369.6 421.3,368.5 422.3,367.4 423.3,366.4 424.3,365.4 425.3,364.5 426.3,363.7 427.3,362.9 428.2,362.2 429.2,361.5 430.2,360.7 431.2,360.0 432.2,359.3 433.2,358.6 434.2,357.8 435.2,357.1 436.2,356.4 437.2,355.7 438.2,355.0 439.2,354.3 440.2,353.7 441.2,353.0 442.2,352.4 443.2,351.7 444.2,351.1 445.2,350.5 446.2,349.9 447.2,349.3 448.2,348.7 449.2,348.2 450.2,347.7 451.2,347.1 452.2,346.6 453.2,346.1 454.2,345.6 455.2,345.1 456.2,344.6 457.2,344.1 458.1,343.6 459.1,343.1 460.1,342.7 461.1,342.3 462.1,341.8 463.1,341.4 464.1,341.0 465.1,340.6 466.1,340.2 467.1,339.8 468.1,339.4 469.1,339.0 470.1,338.5 471.1,338.1 472.1,337.7 473.1,337.3 474.1,336.9 475.1,336.5 476.1,336.1 477.1,335.6 478.1,335.2 479.1,334.8 480.1,334.4 481.1,333.9 482.1,333.5 483.1,333.1 484.1,332.7 485.1,332.2 486.1,331.8 487.1,331.4 488.0,331.0 489.0,330.5 490.0,330.1 491.0,329.7 492.0,329.2 493.0,328.8 494.0,328.4 495.0,327.9 496.0,327.5 497.0,327.1 498.0,326.6 499.0,326.2 500.0,325.8 501.0,325.3 502.0,324.9 503.0,324.4 504.0,323.9 505.0,323.5 506.0,323.0 507.0,322.6 508.0,322.1 509.0,321.7 510.0,321.2 511.0,320.7 512.0,320.3 513.0,319.8 514.0,319.3 515.0,318.9 516.0,318.4 517.0,317.9 518.0,317.5 518.9,317.0 519.9,316.6 520.9,316.1 521.9,315.6 522.9,315.2 523.9,314.7 524.9,314.2 525.9,313.8 526.9,313.3 527.9,312.8 528.9,312.3 529.9,311.9 530.9,311.4 531.9,310.9 532.9,310.5 533.9,310.0 534.9,309.5 535.9,309.1 536.9,308.6 537.9,308.1 538.9,307.7 539.9,307.2 540.9,306.7 541.9,306.2 542.9,305.7 543.9,305.2 544.9,304.7 545.9,304.1 546.9,303.6 547.9,303.1 548.8,302.6 549.8,302.1 550.8,301.6 551.8,301.1 552.8,300.6 553.8,300.1 554.8,299.6 555.8,299.1 556.8,298.6 557.8,298.1 558.8,297.5 559.8,297.0 560.8,296.5 561.8,296.0 562.8,295.5 563.8,295.0 564.8,294.5 565.8,294.0 566.8,293.5 567.8,293.0 568.8,292.5 569.8,292.0 570.8,291.5 571.8,291.0 572.8,290.4 573.8,289.9 574.8,289.4 575.8,288.9 576.8,288.4 577.8,287.9 578.7,287.4 579.7,286.9 580.7,286.4 581.7,285.8 582.7,285.3 583.7,284.7 584.7,284.2 585.7,283.6 586.7,283.1 587.7,282.5 588.7,282.0 589.7,281.4 590.7,280.9 591.7,280.3 592.7,279.8 593.7,279.2 594.7,278.7 595.7,278.1 596.7,277.6 597.7,277.1 598.7,276.5 599.7,276.0 600.7,275.4 601.7,274.9 602.7,274.3 603.7,273.8 604.7,273.3 605.7,272.7 606.7,272.2 607.7,271.6 608.6,271.1 609.6,270.6 610.6,270.0 611.6,269.5 612.6,268.9 613.6,268.4 614.6,267.9 615.6,267.3 616.6,266.8 617.6,266.3 618.6,265.7 619.6,265.2 620.6,264.6 621.6,264.0 622.6,263.5 623.6,262.9 624.6,262.3 625.6,261.7 626.6,261.1 627.6,260.5 628.6,259.9 629.6,259.4 630.6,258.8 631.6,258.2 632.6,257.6 633.6,257.0 634.6,256.5 635.6,255.9 636.6,255.3 637.6,254.7 638.5,254.1 639.5,253.6 640.5,253.0 641.5,252.4 642.5,251.9 643.5,251.3 644.5,250.7 645.5,250.1 646.5,249.6 647.5,249.0 648.5,248.4 649.5,247.9 650.5,247.3 651.5,246.7 652.5,246.2 653.5,245.6 653.5,308.6 652.5,308.8 651.5,309.1 650.5,309.3 649.5,309.6 648.5,309.8 647.5,310.0 646.5,310.3 645.5,310.5 644.5,310.8 643.5,311.0 642.5,311.3 641.5,311.5 640.5,311.7 639.5,312.0 638.5,312.2 637.6,312.5 636.6,312.7 635.6,313.0 634.6,313.2 633.6,313.5 632.6,313.7 631.6,314.0 630.6,314.3 629.6,314.5 628.6,314.8 627.6,315.0 626.6,315.3 625.6,315.5 624.6,315.8 623.6,316.1 622.6,316.3 621.6,316.6 620.6,316.8 619.6,317.1 618.6,317.4 617.6,317.7 616.6,318.0 615.6,318.2 614.6,318.5 613.6,318.8 612.6,319.1 611.6,319.4 610.6,319.7 609.6,320.0 608.6,320.3 607.7,320.6 606.7,320.8 605.7,321.1 604.7,321.4 603.7,321.7 602.7,322.0 601.7,322.3 600.7,322.6 599.7,322.9 598.7,323.2 597.7,323.5 596.7,323.8 595.7,324.1 594.7,324.4 593.7,324.7 592.7,325.0 591.7,325.3 590.7,325.6 589.7,325.9 588.7,326.2 587.7,326.5 586.7,326.8 585.7,327.0 584.7,327.3 583.7,327.6 582.7,327.9 581.7,328.2 580.7,328.6 579.7,328.9 578.7,329.2 577.8,329.5 576.8,329.8 575.8,330.1 574.8,330.4 573.8,330.7 572.8,331.0 571.8,331.3 570.8,331.6 569.8,331.9 568.8,332.2 567.8,332.5 566.8,332.8 565.8,333.1 564.8,333.4 563.8,333.7 562.8,334.0 561.8,334.3 560.8,334.6 559.8,334.9 558.8,335.2 557.8,335.5 556.8,335.8 555.8,336.1 554.8,336.4 553.8,336.7 552.8,337.0 551.8,337.3 550.8,337.6 549.8,337.9 548.8,338.2 547.9,338.5 546.9,338.8 545.9,339.1 544.9,339.4 543.9,339.7 542.9,340.1 541.9,340.4 540.9,340.7 539.9,341.0 538.9,341.3 537.9,341.6 536.9,341.9 535.9,342.3 534.9,342.6 533.9,342.9 532.9,343.2 531.9,343.6 530.9,343.9 529.9,344.2 528.9,344.5 527.9,344.9 526.9,345.2 525.9,345.5 524.9,345.8 523.9,346.2 522.9,346.5 521.9,346.8 520.9,347.1 519.9,347.4 518.9,347.8 518.0,348.1 517.0,348.4 516.0,348.7 515.0,349.0 514.0,349.4 513.0,349.7 512.0,350.0 511.0,350.3 510.0,350.6 509.0,351.0 508.0,351.3 507.0,351.6 506.0,351.9 505.0,352.2 504.0,352.5 503.0,352.8 502.0,353.2 501.0,353.5 500.0,353.8 499.0,354.1 498.0,354.5 497.0,354.8 496.0,355.2 495.0,355.5 494.0,355.9 493.0,356.2 492.0,356.5 491.0,356.9 490.0,357.2 489.0,357.6 488.0,357.9 487.1,358.3 486.1,358.6 485.1,358.9 484.1,359.3 483.1,359.6 482.1,360.0 481.1,360.3 480.1,360.6 479.1,361.0 478.1,361.3 477.1,361.6 476.1,362.0 475.1,362.3 474.1,362.6 473.1,363.0 472.1,363.3 471.1,363.6 470.1,363.9 469.1,364.3 468.1,364.6 467.1,364.9 466.1,365.2 465.1,365.6 464.1,365.9 463.1,366.2 462.1,366.5 461.1,366.9 460.1,367.2 459.1,367.5 458.1,367.9 457.2,368.3 456.2,368.7 455.2,369.0 454.2,369.4 453.2,369.8 452.2,370.2 451.2,370.6 450.2,371.0 449.2,371.5 448.2,371.9 447.2,372.3 446.2,372.8 445.2,373.2 444.2,373.7 443.2,374.2 442.2,374.7 441.2,375.2 440.2,375.7 439.2,376.2 438.2,376.7 437.2,377.3 436.2,377.8 435.2,378.3 434.2,378.8 433.2,379.4 432.2,380.0 431.2,380.5 430.2,381.1 429.2,381.7 428.2,382.4 427.3,383.0 426.3,383.7 425.3,384.4 424.3,385.1 423.3,385.9 422.3,386.7 421.3,387.6 420.3,388.5 419.3,389.6 418.3,390.7 417.3,391.9 416.3,393.1 415.3,394.4 414.3,395.9 413.3,397.4 412.3,399.0 411.3,400.8 410.3,402.6 409.3,404.4 408.3,406.3 407.3,408.2 406.3,410.1 405.3,411.6 404.3,412.8 403.3,414.0 402.3,415.1 401.3,415.9 400.3,416.4 399.3,416.4 398.3,415.9 397.4,416.1 396.4,416.1 395.4,416.2 394.4,416.3 393.4,416.4 392.4,416.4 391.4,416.5 390.4,416.6 389.4,416.6 388.4,416.7 387.4,416.7 386.4,416.7 385.4,416.8 384.4,416.8 383.4,416.9 382.4,416.9" fill="#FFE1E3"/>
<line x1="369" y1="415.0" x2="668" y2="415.0" stroke="#222" stroke-width="1.5" stroke-dasharray="5 4.76"/>
<line x1="398.8" y1="235.7" x2="398.8" y2="430" stroke="#000" stroke-width="0.9" stroke-dasharray="3.0 3.46"/>
<path d="M382.4,389.0 L383.4,390.0 L384.4,391.3 L385.4,392.9 L386.4,394.7 L387.4,396.7 L388.4,398.8 L389.4,401.0 L390.4,403.2 L391.4,405.5 L392.4,407.6 L393.4,409.5 L394.4,411.1 L395.4,412.5 L396.4,413.5 L397.4,414.0 L398.3,414.1 L399.3,413.7 L400.3,412.8 L401.3,411.5 L402.3,409.8 L403.3,408.0 L404.3,406.1 L405.3,404.1 L406.3,402.0 L407.3,400.0 L408.3,397.9 L409.3,395.8 L410.3,393.8 L411.3,391.8 L412.3,389.9 L413.3,388.0 L414.3,386.2 L415.3,384.5 L416.3,383.0 L417.3,381.5 L418.3,380.2 L419.3,378.9 L420.3,377.8 L421.3,376.7 L422.3,375.8 L423.3,374.8 L424.3,374.0 L425.3,373.1 L426.3,372.4 L427.3,371.6 L428.2,370.9 L429.2,370.2 L430.2,369.5 L431.2,368.8 L432.2,368.2 L433.2,367.5 L434.2,366.9 L435.2,366.3 L436.2,365.7 L437.2,365.1 L438.2,364.5 L439.2,364.0 L440.2,363.5 L441.2,362.9 L442.2,362.4 L443.2,361.9 L444.2,361.4 L445.2,360.9 L446.2,360.5 L447.2,360.0 L448.2,359.6 L449.2,359.1 L450.2,358.7 L451.2,358.3 L452.2,357.8 L453.2,357.4 L454.2,357.0 L455.2,356.6 L456.2,356.2 L457.2,355.8 L458.1,355.4 L459.1,355.1 L460.1,354.7 L461.1,354.3 L462.1,353.9 L463.1,353.5 L464.1,353.2 L465.1,352.8 L466.1,352.4 L467.1,352.1 L468.1,351.7 L469.1,351.3 L470.1,350.9 L471.1,350.6 L472.1,350.2 L473.1,349.8 L474.1,349.4 L475.1,349.0 L476.1,348.7 L477.1,348.3 L478.1,347.9 L479.1,347.5 L480.1,347.1 L481.1,346.7 L482.1,346.3 L483.1,346.0 L484.1,345.6 L485.1,345.2 L486.1,344.8 L487.1,344.4 L488.0,344.0 L489.0,343.6 L490.0,343.2 L491.0,342.8 L492.0,342.4 L493.0,342.1 L494.0,341.7 L495.0,341.3 L496.0,340.9 L497.0,340.5 L498.0,340.1 L499.0,339.7 L500.0,339.3 L501.0,338.9 L502.0,338.5 L503.0,338.1 L504.0,337.7 L505.0,337.3 L506.0,336.9 L507.0,336.5 L508.0,336.1 L509.0,335.7 L510.0,335.3 L511.0,334.9 L512.0,334.5 L513.0,334.0 L514.0,333.6 L515.0,333.2 L516.0,332.8 L517.0,332.4 L518.0,332.0 L518.9,331.6 L519.9,331.2 L520.9,330.8 L521.9,330.4 L522.9,330.0 L523.9,329.6 L524.9,329.2 L525.9,328.7 L526.9,328.3 L527.9,327.9 L528.9,327.5 L529.9,327.1 L530.9,326.7 L531.9,326.3 L532.9,325.9 L533.9,325.5 L534.9,325.0 L535.9,324.6 L536.9,324.2 L537.9,323.8 L538.9,323.4 L539.9,323.0 L540.9,322.6 L541.9,322.1 L542.9,321.7 L543.9,321.3 L544.9,320.9 L545.9,320.5 L546.9,320.1 L547.9,319.7 L548.8,319.2 L549.8,318.8 L550.8,318.4 L551.8,318.0 L552.8,317.6 L553.8,317.2 L554.8,316.7 L555.8,316.3 L556.8,315.9 L557.8,315.5 L558.8,315.1 L559.8,314.7 L560.8,314.3 L561.8,313.8 L562.8,313.4 L563.8,313.0 L564.8,312.6 L565.8,312.2 L566.8,311.8 L567.8,311.3 L568.8,310.9 L569.8,310.5 L570.8,310.1 L571.8,309.7 L572.8,309.3 L573.8,308.9 L574.8,308.4 L575.8,308.0 L576.8,307.6 L577.8,307.2 L578.7,306.8 L579.7,306.4 L580.7,306.0 L581.7,305.6 L582.7,305.1 L583.7,304.7 L584.7,304.3 L585.7,303.9 L586.7,303.5 L587.7,303.1 L588.7,302.7 L589.7,302.3 L590.7,301.9 L591.7,301.4 L592.7,301.0 L593.7,300.6 L594.7,300.2 L595.7,299.8 L596.7,299.4 L597.7,299.0 L598.7,298.6 L599.7,298.2 L600.7,297.8 L601.7,297.4 L602.7,297.0 L603.7,296.6 L604.7,296.2 L605.7,295.7 L606.7,295.3 L607.7,294.9 L608.6,294.5 L609.6,294.1 L610.6,293.7 L611.6,293.3 L612.6,292.9 L613.6,292.5 L614.6,292.1 L615.6,291.7 L616.6,291.3 L617.6,290.9 L618.6,290.5 L619.6,290.1 L620.6,289.8 L621.6,289.4 L622.6,289.0 L623.6,288.6 L624.6,288.2 L625.6,287.8 L626.6,287.4 L627.6,287.0 L628.6,286.6 L629.6,286.2 L630.6,285.8 L631.6,285.4 L632.6,285.1 L633.6,284.7 L634.6,284.3 L635.6,283.9 L636.6,283.5 L637.6,283.1 L638.5,282.7 L639.5,282.4 L640.5,282.0 L641.5,281.6 L642.5,281.2 L643.5,280.8 L644.5,280.5 L645.5,280.1 L646.5,279.7 L647.5,279.3 L648.5,279.0 L649.5,278.6 L650.5,278.2 L651.5,277.9 L652.5,277.5 L653.5,277.1" fill="none" stroke="#F3403F" stroke-width="1.8" stroke-linejoin="round" stroke-linecap="round"/>
<line x1="369" y1="236.2" x2="369" y2="427.3" stroke="#3c3c3c" stroke-width="1.2" />
<line x1="368.4" y1="426.9" x2="668" y2="426.9" stroke="#7a7a7a" stroke-width="1.7" />
<line x1="367" y1="266.7" x2="369" y2="266.7" stroke="#333" stroke-width="0.9" />
<text x="364.6" y="269.09999999999997" font-size="7.0" text-anchor="end" fill="#4D4D4D" stroke="#4D4D4D" font-family="Liberation Serif" transform="matrix(1 0 0 1.08 0 -21.528)" stroke-width="0.16" >2.0</text>
<line x1="367" y1="303.7" x2="369" y2="303.7" stroke="#333" stroke-width="0.9" />
<text x="364.6" y="306.09999999999997" font-size="7.0" text-anchor="end" fill="#4D4D4D" stroke="#4D4D4D" font-family="Liberation Serif" transform="matrix(1 0 0 1.08 0 -24.488)" stroke-width="0.16" >1.5</text>
<line x1="367" y1="340.7" x2="369" y2="340.7" stroke="#333" stroke-width="0.9" />
<text x="364.6" y="343.09999999999997" font-size="7.0" text-anchor="end" fill="#4D4D4D" stroke="#4D4D4D" font-family="Liberation Serif" transform="matrix(1 0 0 1.08 0 -27.448)" stroke-width="0.16" >1.0</text>
<line x1="367" y1="377.7" x2="369" y2="377.7" stroke="#333" stroke-width="0.9" />
<text x="364.6" y="380.09999999999997" font-size="7.0" text-anchor="end" fill="#4D4D4D" stroke="#4D4D4D" font-family="Liberation Serif" transform="matrix(1 0 0 1.08 0 -30.408)" stroke-width="0.16" >0.5</text>
<line x1="367" y1="415.0" x2="369" y2="415.0" stroke="#333" stroke-width="0.9" />
<text x="364.6" y="417.4" font-size="7.0" text-anchor="end" fill="#4D4D4D" stroke="#4D4D4D" font-family="Liberation Serif" transform="matrix(1 0 0 1.08 0 -33.392)" stroke-width="0.16" >0.0</text>
<line x1="380.3" y1="426.6" x2="380.3" y2="428.6" stroke="#333" stroke-width="0.9" />
<text x="380.3" y="435.8" font-size="7.0" text-anchor="middle" fill="#4D4D4D" stroke="#4D4D4D" font-family="Liberation Serif" transform="matrix(1 0 0 1.08 0 -34.864)" stroke-width="0.16" >0.0</text>
<line x1="398.8" y1="426.6" x2="398.8" y2="428.6" stroke="#333" stroke-width="0.9" />
<text x="398.8" y="435.8" font-size="7.0" text-anchor="middle" fill="#4D4D4D" stroke="#4D4D4D" font-family="Liberation Serif" transform="matrix(1 0 0 1.08 0 -34.864)" stroke-width="0.16" >0.0</text>
<line x1="436.5" y1="426.6" x2="436.5" y2="428.6" stroke="#333" stroke-width="0.9" />
<text x="436.5" y="435.8" font-size="7.0" text-anchor="middle" fill="#4D4D4D" stroke="#4D4D4D" font-family="Liberation Serif" transform="matrix(1 0 0 1.08 0 -34.864)" stroke-width="0.16" >2.5</text>
<line x1="492.8" y1="426.6" x2="492.8" y2="428.6" stroke="#333" stroke-width="0.9" />
<text x="492.8" y="435.8" font-size="7.0" text-anchor="middle" fill="#4D4D4D" stroke="#4D4D4D" font-family="Liberation Serif" transform="matrix(1 0 0 1.08 0 -34.864)" stroke-width="0.16" >5.0</text>
<line x1="549.8" y1="426.6" x2="549.8" y2="428.6" stroke="#333" stroke-width="0.9" />
<text x="549.8" y="435.8" font-size="7.0" text-anchor="middle" fill="#4D4D4D" stroke="#4D4D4D" font-family="Liberation Serif" transform="matrix(1 0 0 1.08 0 -34.864)" stroke-width="0.16" >7.5</text>
<line x1="605.5" y1="426.6" x2="605.5" y2="428.6" stroke="#333" stroke-width="0.9" />
<text x="605.5" y="435.8" font-size="7.0" text-anchor="middle" fill="#4D4D4D" stroke="#4D4D4D" font-family="Liberation Serif" transform="matrix(1 0 0 1.08 0 -34.864)" stroke-width="0.16" >10.0</text>
<line x1="662.2" y1="426.6" x2="662.2" y2="428.6" stroke="#333" stroke-width="0.9" />
<text x="662.2" y="435.8" font-size="7.0" text-anchor="middle" fill="#4D4D4D" stroke="#4D4D4D" font-family="Liberation Serif" transform="matrix(1 0 0 1.08 0 -34.864)" stroke-width="0.16" >12.5</text>
<text x="351.5" y="333.3" font-size="8.6" text-anchor="middle" fill="#000" stroke="#000" font-family="Liberation Serif" stroke-width="0.25" transform="rotate(-90 351.5 333.3)">log hazard</text>
<text x="518.2" y="445.6" font-size="8.6" text-anchor="middle" fill="#000" stroke="#000" font-family="Liberation Serif" transform="matrix(1 0 0 1.08 0 -35.648)" stroke-width="0.25">SIRI</text>
<text x="401.2" y="253.9" font-size="9.1" text-anchor="start" fill="#000" stroke="#000" font-family="Liberation Serif" transform="matrix(1 0 0 1.08 0 -20.312)" stroke-width="0.2"><tspan font-weight="bold" font-style="italic">p</tspan> for overall&lt;0.0001</text>
<text x="401.2" y="263.9" font-size="9.1" text-anchor="start" fill="#000" stroke="#000" font-family="Liberation Serif" transform="matrix(1 0 0 1.08 0 -21.112)" stroke-width="0.2"><tspan font-weight="bold" font-style="italic">p</tspan> for nonlinear&lt;0.0001</text>
</svg></body></html>
